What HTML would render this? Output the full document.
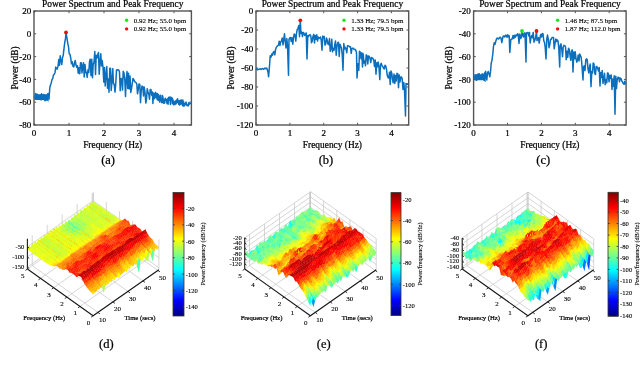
<!DOCTYPE html>
<html><head><meta charset="utf-8"><style>
html,body{margin:0;padding:0;background:#fff;overflow:hidden;-webkit-font-smoothing:antialiased}
svg{will-change:transform}
.s{stroke-width:0.12px}
svg{display:block}
text{font-family:"Liberation Serif", serif;fill:#000;stroke:#000;stroke-width:0.22px}
</style></head><body>
<svg width="640" height="368" viewBox="0 0 640 368">
<rect width="640" height="368" fill="#fff"/>
<rect x="34" y="11" width="157.4" height="114" fill="none" stroke="#555555" stroke-width="1.4"/>
<path d="M34 125v-2.2M34 11v2.2" stroke="#555555" stroke-width="1"/>
<text x="34" y="135.8" font-size="9" text-anchor="middle">0</text>
<path d="M69 125v-2.2M69 11v2.2" stroke="#555555" stroke-width="1"/>
<text x="69" y="135.8" font-size="9" text-anchor="middle">1</text>
<path d="M104 125v-2.2M104 11v2.2" stroke="#555555" stroke-width="1"/>
<text x="104" y="135.8" font-size="9" text-anchor="middle">2</text>
<path d="M139 125v-2.2M139 11v2.2" stroke="#555555" stroke-width="1"/>
<text x="139" y="135.8" font-size="9" text-anchor="middle">3</text>
<path d="M174 125v-2.2M174 11v2.2" stroke="#555555" stroke-width="1"/>
<text x="174" y="135.8" font-size="9" text-anchor="middle">4</text>
<path d="M34 11h2.2M191.4 11h-2.2" stroke="#555555" stroke-width="1"/>
<text x="31.2" y="14.2" font-size="9" text-anchor="end">20</text>
<path d="M34 33.8h2.2M191.4 33.8h-2.2" stroke="#555555" stroke-width="1"/>
<text x="31.2" y="37" font-size="9" text-anchor="end">0</text>
<path d="M34 56.6h2.2M191.4 56.6h-2.2" stroke="#555555" stroke-width="1"/>
<text x="31.2" y="59.8" font-size="9" text-anchor="end">-20</text>
<path d="M34 79.4h2.2M191.4 79.4h-2.2" stroke="#555555" stroke-width="1"/>
<text x="31.2" y="82.6" font-size="9" text-anchor="end">-40</text>
<path d="M34 102.2h2.2M191.4 102.2h-2.2" stroke="#555555" stroke-width="1"/>
<text x="31.2" y="105.4" font-size="9" text-anchor="end">-60</text>
<path d="M34 125h2.2M191.4 125h-2.2" stroke="#555555" stroke-width="1"/>
<text x="31.2" y="128.2" font-size="9" text-anchor="end">-80</text>
<text x="112.7" y="6.9" font-size="9.45" text-anchor="middle">Power Spectrum and Peak Frequency</text>
<text x="112.7" y="147.6" font-size="9.4" text-anchor="middle">Frequency (Hz)</text>
<text x="108.1" y="163.7" font-size="12.5" text-anchor="middle">(a)</text>
<text transform="translate(18,68) rotate(-90)" font-size="9.3" text-anchor="middle">Power (dB)</text>
<polygon points="34.6,94.2 35.1,94.2 35.6,94.2 36.1,94.2 36.6,94.2 37.1,94.2 37.6,94.2 38.1,94.2 38.6,94.2 39.1,94.2 39.6,94.2 40.1,94.2 40.6,94.2 41.1,94.2 41.6,94.2 42.1,94.2 42.6,94.2 43.1,94.2 43.6,94.2 44.1,94.2 44.6,94.2 45.1,94.2 45.6,94.2 46.1,94.2 46.6,94.2 47.1,94.2 47.6,94.2 48.1,94.0 48.6,93.7 48.6,102.1 48.1,101.3 47.6,100.5 47.1,100.3 46.6,100.3 46.1,100.2 45.6,100.2 45.1,100.2 44.6,100.2 44.1,100.2 43.6,100.2 43.1,100.1 42.6,100.1 42.1,100.1 41.6,100.1 41.1,100.1 40.6,100.0 40.1,100.0 39.6,100.0 39.1,100.0 38.6,100.0 38.1,100.0 37.6,99.9 37.1,99.9 36.6,99.9 36.1,99.9 35.6,99.9 35.1,99.8 34.6,99.8" fill="#0b6fbe"/>
<polyline points="34.6,96.4 35.1,98.6 35.6,93.5 36.1,95.6 36.6,94.5 37.1,94.2 37.6,94.8 38.1,96.0 38.6,96.3 39.1,97.4 39.6,96.5 40.1,98.5 40.6,95.0 41.1,99.9 41.6,93.7 42.1,98.4 42.6,96.6 43.1,97.6 43.6,94.5 44.1,95.0 44.6,99.4 45.1,100.7 45.6,95.8 46.1,98.7 46.6,100.0 47.1,100.2 47.6,94.1 48.1,93.6 48.6,94.7 49.0,99.2 49.8,87.8 50.5,85.0 51.2,83.2 52.0,79.6 52.8,78.3 53.5,74.8 54.2,74.4 55.0,72.7 55.8,66.9 56.5,68.7 57.2,69.1 58.0,66.4 58.8,59.4 59.5,65.3 60.2,55.8 61.0,60.9 61.8,64.5 62.5,57.7 63.2,55.6 64.0,48.6 64.8,42.2 65.5,38.4 66.0,32.9 67.0,38.4 67.8,43.6 68.5,46.7 69.2,53.7 70.0,54.4 70.8,58.5 71.5,63.8 72.2,61.8 73.0,66.4 73.8,66.9 74.5,62.9 75.2,60.5 76.0,65.1 76.8,67.3 77.5,65.7 78.2,73.2 79.0,67.7 79.8,73.8 80.5,62.7 81.2,62.7 82.0,72.9 82.8,65.4 83.5,62.8 84.2,77.0 85.0,64.6 85.8,72.7 86.5,72.3 87.2,77.3 88.0,69.8 88.8,72.4 89.5,61.7 90.2,59.2 91.0,75.7 91.8,59.2 92.5,77.8 93.2,64.3 94.0,62.2 94.8,51.6 95.5,74.6 96.2,55.2 97.0,58.0 97.8,54.5 98.5,52.4 99.2,74.3 100.0,61.9 100.8,53.7 101.5,66.0 102.2,60.6 103.0,67.2 103.8,82.1 104.5,67.6 105.2,86.0 106.0,75.8 106.8,66.5 107.5,88.2 108.2,78.9 109.0,92.3 109.8,68.2 110.5,68.2 111.2,90.5 112.0,80.9 112.8,68.5 113.5,83.8 114.2,84.1 115.0,92.1 115.8,83.1 116.5,70.0 117.2,69.8 118.0,70.0 118.8,70.1 119.5,71.9 120.2,90.8 121.0,78.5 121.8,79.0 122.5,90.1 123.2,71.3 124.0,73.1 124.8,80.3 125.5,96.4 126.2,79.8 127.0,71.5 127.8,88.5 128.5,73.2 129.2,88.9 130.0,75.9 130.8,92.4 131.5,88.8 132.2,84.0 133.0,78.4 133.8,79.6 134.5,81.3 135.2,82.2 136.0,82.7 136.8,83.9 137.5,93.8 138.2,89.9 139.0,83.9 139.8,84.3 140.5,102.7 141.2,91.1 142.0,86.0 142.8,86.8 143.5,95.9 144.2,87.0 145.0,92.5 145.8,103.0 146.5,99.3 147.2,88.7 148.0,92.0 148.8,94.4 149.5,99.2 150.2,89.5 150.6,89.4 151.0,89.7 151.4,93.3 151.8,95.4 152.1,94.9 152.5,92.1 152.9,103.4 153.3,95.6 153.7,93.3 154.0,95.6 154.4,98.7 154.8,97.6 155.2,93.2 155.6,92.4 155.9,94.6 156.3,97.6 156.7,93.8 157.1,99.5 157.5,93.6 157.8,94.8 158.2,100.5 158.6,94.8 159.0,98.7 159.4,97.8 159.7,102.1 160.1,96.1 160.5,95.2 160.9,100.2 161.3,100.7 161.6,102.3 162.0,102.6 162.4,95.5 162.8,96.5 163.2,99.6 163.5,103.1 163.9,103.2 164.3,99.4 164.7,103.0 165.1,100.3 165.4,98.2 165.8,99.1 166.2,100.2 166.6,99.8 167.0,103.6 167.3,103.6 167.7,98.8 168.1,104.2 168.5,97.5 168.9,97.3 169.2,97.4 169.6,100.2 170.0,97.1 170.4,104.5 170.8,103.4 171.1,97.3 171.5,98.2 171.9,99.3 172.3,98.1 172.7,103.4 173.0,99.7 173.4,104.8 173.8,101.6 174.2,104.3 174.6,104.0 174.9,104.6 175.3,101.0 175.7,101.7 176.1,103.8 176.5,100.0 176.8,101.5 177.2,102.4 177.6,98.8 178.0,102.5 178.4,101.4 178.7,104.2 179.1,100.7 179.5,105.0 179.9,102.7 180.3,100.2 180.6,104.3 181.0,103.1 181.4,99.9 181.8,102.0 182.2,103.8 182.5,105.6 182.9,100.1 183.3,106.1 183.7,102.1 184.1,106.1 184.4,103.6 184.8,105.2 185.2,103.6 185.6,104.0 186.0,102.0 186.3,103.8 186.7,104.9 187.1,105.7 187.5,105.1 187.9,104.8 188.2,105.9 188.6,102.8 189.0,104.8 189.4,103.6 189.8,103.3 190.1,103.6 190.5,103.6 190.9,103.2" fill="none" stroke="#0b6fbe" stroke-width="1.5" stroke-linejoin="round"/>
<circle cx="66" cy="32.4" r="1.9" fill="#e81010"/>
<circle cx="126.6" cy="20.3" r="1.7" fill="#1ee61e"/>
<text x="133.8" y="22.7" font-size="7" class="s">0.92 Hz; 55.0 bpm</text>
<circle cx="126.6" cy="28.9" r="1.7" fill="#e81010"/>
<text x="133.8" y="31.3" font-size="7" class="s">0.92 Hz; 55.0 bpm</text>
<rect x="256" y="11" width="152.7" height="114" fill="none" stroke="#555555" stroke-width="1.4"/>
<path d="M256 125v-2.2M256 11v2.2" stroke="#555555" stroke-width="1"/>
<text x="256" y="135.8" font-size="9" text-anchor="middle">0</text>
<path d="M289.9 125v-2.2M289.9 11v2.2" stroke="#555555" stroke-width="1"/>
<text x="289.9" y="135.8" font-size="9" text-anchor="middle">1</text>
<path d="M323.7 125v-2.2M323.7 11v2.2" stroke="#555555" stroke-width="1"/>
<text x="323.7" y="135.8" font-size="9" text-anchor="middle">2</text>
<path d="M357.6 125v-2.2M357.6 11v2.2" stroke="#555555" stroke-width="1"/>
<text x="357.6" y="135.8" font-size="9" text-anchor="middle">3</text>
<path d="M391.4 125v-2.2M391.4 11v2.2" stroke="#555555" stroke-width="1"/>
<text x="391.4" y="135.8" font-size="9" text-anchor="middle">4</text>
<path d="M256 11h2.2M408.7 11h-2.2" stroke="#555555" stroke-width="1"/>
<text x="253.2" y="14.2" font-size="9" text-anchor="end">0</text>
<path d="M256 30h2.2M408.7 30h-2.2" stroke="#555555" stroke-width="1"/>
<text x="253.2" y="33.2" font-size="9" text-anchor="end">-20</text>
<path d="M256 49h2.2M408.7 49h-2.2" stroke="#555555" stroke-width="1"/>
<text x="253.2" y="52.2" font-size="9" text-anchor="end">-40</text>
<path d="M256 68h2.2M408.7 68h-2.2" stroke="#555555" stroke-width="1"/>
<text x="253.2" y="71.2" font-size="9" text-anchor="end">-60</text>
<path d="M256 87h2.2M408.7 87h-2.2" stroke="#555555" stroke-width="1"/>
<text x="253.2" y="90.2" font-size="9" text-anchor="end">-80</text>
<path d="M256 106h2.2M408.7 106h-2.2" stroke="#555555" stroke-width="1"/>
<text x="253.2" y="109.2" font-size="9" text-anchor="end">-100</text>
<path d="M256 125h2.2M408.7 125h-2.2" stroke="#555555" stroke-width="1"/>
<text x="253.2" y="128.2" font-size="9" text-anchor="end">-120</text>
<text x="332.4" y="6.9" font-size="9.45" text-anchor="middle">Power Spectrum and Peak Frequency</text>
<text x="332.4" y="147.6" font-size="9.4" text-anchor="middle">Frequency (Hz)</text>
<text x="326" y="163.7" font-size="12.5" text-anchor="middle">(b)</text>
<text transform="translate(234,68) rotate(-90)" font-size="9.3" text-anchor="middle">Power (dB)</text>
<polyline points="256.0,69.7 256.8,68.9 257.5,69.7 258.2,69.4 259.0,69.3 259.8,69.1 260.5,68.8 261.2,69.4 262.0,68.7 262.8,68.6 263.5,69.2 264.2,68.9 265.0,68.1 265.8,68.7 266.5,68.0 267.2,69.1 268.0,72.2 268.6,76.8 269.5,66.0 270.2,55.8 271.0,57.2 271.8,54.0 272.5,55.2 273.2,52.4 274.0,51.6 274.8,54.8 275.5,49.9 276.2,47.5 277.0,46.4 277.8,45.7 278.5,45.2 279.2,41.2 280.0,45.4 280.8,41.7 281.5,40.9 282.2,38.1 283.0,44.9 283.8,38.9 284.5,33.7 285.2,41.5 286.0,47.9 286.8,38.6 287.5,45.5 288.5,75.2 289.0,39.4 289.8,37.7 290.5,37.5 291.2,41.4 292.0,37.8 292.8,44.1 293.5,37.3 294.2,33.9 295.0,34.9 295.8,41.1 296.5,33.5 297.2,29.6 298.0,28.3 298.8,25.5 299.5,36.8 300.3,20.8 301.0,33.4 301.8,32.1 302.5,36.6 303.2,32.4 304.0,33.2 304.8,35.4 305.5,34.1 306.2,33.0 307.0,59.0 307.8,35.6 308.5,36.5 309.2,35.0 310.0,34.8 310.8,35.9 311.5,42.8 312.2,41.1 313.0,36.2 313.8,34.4 314.5,42.9 315.2,35.5 316.0,39.3 316.8,34.7 317.5,41.0 318.2,37.0 319.0,38.5 319.8,37.5 320.5,37.0 321.2,40.0 322.0,50.2 322.8,36.1 323.5,37.6 324.2,36.5 325.0,45.1 325.8,43.6 326.5,37.9 327.2,40.0 328.0,44.1 328.8,44.7 329.5,38.6 330.2,51.2 331.0,48.5 331.8,39.3 332.5,51.8 333.2,48.5 334.0,50.3 334.8,44.4 335.5,40.9 336.2,55.2 337.0,46.1 337.8,42.6 338.5,42.2 339.2,56.5 340.0,44.2 340.8,46.3 341.5,48.0 342.2,54.5 343.0,70.3 343.8,43.6 344.5,48.9 345.2,47.3 346.0,48.8 346.8,52.8 347.5,45.8 348.2,45.9 349.0,46.1 349.8,47.1 350.5,46.8 351.2,53.3 352.0,48.4 352.8,48.2 353.5,48.3 354.2,49.5 355.0,49.4 355.8,50.2 356.5,52.8 357.0,78.0 358.0,63.7 358.8,70.3 359.5,51.3 360.2,52.2 361.0,58.7 361.8,52.7 362.5,67.0 363.2,53.7 364.0,63.1 364.8,60.9 365.5,65.8 366.2,54.8 367.0,55.7 367.8,63.9 368.5,56.0 369.2,56.4 370.0,58.3 370.8,62.5 371.5,57.6 372.2,58.0 373.0,58.4 373.8,60.7 374.5,66.4 375.2,59.9 376.0,74.3 376.8,62.8 377.5,66.7 378.2,62.0 379.0,67.4 379.8,79.6 380.5,65.0 381.2,63.2 382.0,65.8 382.8,66.6 383.5,68.1 384.2,69.0 385.0,65.3 385.8,66.1 386.5,69.3 387.2,75.1 388.0,77.5 388.8,78.0 389.5,72.2 390.2,84.5 391.0,71.0 391.8,73.4 392.5,79.4 393.2,82.8 394.0,74.0 394.8,83.4 395.5,75.5 396.2,80.9 397.0,73.3 397.8,73.8 398.5,87.8 399.2,75.0 400.0,81.9 400.8,77.0 401.5,76.9 402.2,79.0 403.0,89.5 403.8,82.4 404.5,89.9 405.5,116.0 406.0,83.5 406.8,84.3 407.5,83.8 408.2,84.9" fill="none" stroke="#0b6fbe" stroke-width="1.5" stroke-linejoin="round"/>
<circle cx="300.3" cy="20.3" r="1.9" fill="#e81010"/>
<circle cx="344" cy="20.3" r="1.7" fill="#1ee61e"/>
<text x="351.2" y="22.7" font-size="7" class="s">1.33 Hz; 79.5 bpm</text>
<circle cx="344" cy="28.9" r="1.7" fill="#e81010"/>
<text x="351.2" y="31.3" font-size="7" class="s">1.33 Hz; 79.5 bpm</text>
<rect x="473.6" y="11" width="152.5" height="114" fill="none" stroke="#555555" stroke-width="1.4"/>
<path d="M473.6 125v-2.2M473.6 11v2.2" stroke="#555555" stroke-width="1"/>
<text x="473.6" y="135.8" font-size="9" text-anchor="middle">0</text>
<path d="M507.5 125v-2.2M507.5 11v2.2" stroke="#555555" stroke-width="1"/>
<text x="507.5" y="135.8" font-size="9" text-anchor="middle">1</text>
<path d="M541.4 125v-2.2M541.4 11v2.2" stroke="#555555" stroke-width="1"/>
<text x="541.4" y="135.8" font-size="9" text-anchor="middle">2</text>
<path d="M575.3 125v-2.2M575.3 11v2.2" stroke="#555555" stroke-width="1"/>
<text x="575.3" y="135.8" font-size="9" text-anchor="middle">3</text>
<path d="M609.2 125v-2.2M609.2 11v2.2" stroke="#555555" stroke-width="1"/>
<text x="609.2" y="135.8" font-size="9" text-anchor="middle">4</text>
<path d="M473.6 11h2.2M626.1 11h-2.2" stroke="#555555" stroke-width="1"/>
<text x="470.8" y="14.2" font-size="9" text-anchor="end">-20</text>
<path d="M473.6 33.8h2.2M626.1 33.8h-2.2" stroke="#555555" stroke-width="1"/>
<text x="470.8" y="37" font-size="9" text-anchor="end">-40</text>
<path d="M473.6 56.6h2.2M626.1 56.6h-2.2" stroke="#555555" stroke-width="1"/>
<text x="470.8" y="59.8" font-size="9" text-anchor="end">-60</text>
<path d="M473.6 79.4h2.2M626.1 79.4h-2.2" stroke="#555555" stroke-width="1"/>
<text x="470.8" y="82.6" font-size="9" text-anchor="end">-80</text>
<path d="M473.6 102.2h2.2M626.1 102.2h-2.2" stroke="#555555" stroke-width="1"/>
<text x="470.8" y="105.4" font-size="9" text-anchor="end">-100</text>
<path d="M473.6 125h2.2M626.1 125h-2.2" stroke="#555555" stroke-width="1"/>
<text x="470.8" y="128.2" font-size="9" text-anchor="end">-120</text>
<text x="549.9" y="6.9" font-size="9.45" text-anchor="middle">Power Spectrum and Peak Frequency</text>
<text x="549.9" y="147.6" font-size="9.4" text-anchor="middle">Frequency (Hz)</text>
<text x="543.2" y="163.7" font-size="12.5" text-anchor="middle">(c)</text>
<text transform="translate(451.6,68) rotate(-90)" font-size="9.3" text-anchor="middle">Power (dB)</text>
<polygon points="474.2,74.3 474.7,74.3 475.2,74.3 475.7,74.3 476.2,74.3 476.7,74.3 477.2,74.3 477.7,74.3 478.2,74.3 478.7,74.3 479.2,74.3 479.7,74.3 480.2,74.3 480.7,74.3 481.2,74.3 481.7,74.3 482.2,74.3 482.7,74.3 483.2,74.0 483.7,73.2 484.2,72.5 484.7,71.7 485.2,70.9 485.7,70.2 485.7,82.1 485.2,81.8 484.7,81.4 484.2,81.1 483.7,80.8 483.2,80.4 482.7,80.3 482.2,80.3 481.7,80.3 481.2,80.3 480.7,80.3 480.2,80.3 479.7,80.3 479.2,80.3 478.7,80.3 478.2,80.3 477.7,80.3 477.2,80.3 476.7,80.3 476.2,80.3 475.7,80.3 475.2,80.3 474.7,80.3 474.2,80.3" fill="#0b6fbe"/>
<polyline points="474.2,77.7 474.7,78.8 475.2,75.8 475.7,77.4 476.2,80.2 476.7,80.2 477.2,74.5 477.7,75.1 478.2,74.0 478.7,76.9 479.2,73.8 479.7,77.0 480.2,78.4 480.7,75.7 481.2,78.6 481.7,78.0 482.2,73.8 482.7,77.7 483.2,75.3 483.7,76.2 484.2,74.6 484.7,78.7 485.2,75.6 485.7,71.6 486.0,76.6 486.8,79.9 487.5,72.9 488.2,71.5 489.0,73.8 489.8,76.7 490.5,71.8 491.2,63.2 492.0,60.1 492.8,54.0 493.5,46.4 494.2,42.8 495.0,44.3 495.8,41.2 496.5,38.9 497.2,38.0 498.0,38.7 498.8,38.9 499.5,37.4 500.2,37.3 501.0,38.1 501.8,42.5 502.5,38.8 503.2,36.3 504.0,36.0 504.8,36.9 505.5,35.3 506.2,35.2 507.0,37.2 507.8,34.8 508.5,36.8 509.2,35.8 509.8,52.4 510.8,39.8 511.5,39.0 512.2,38.9 513.0,35.6 513.8,38.5 514.5,35.2 515.2,37.3 516.0,35.0 516.8,35.8 517.5,33.8 518.2,34.3 519.0,43.4 519.8,34.1 520.5,38.5 521.2,37.9 522.0,31.5 522.8,35.7 523.5,37.0 524.2,33.1 525.0,33.1 526.0,62.0 526.5,33.0 527.2,32.7 528.0,32.6 528.8,35.9 529.5,32.6 530.2,42.9 531.0,37.5 531.8,35.4 532.5,37.8 533.2,32.4 534.0,42.2 534.8,40.2 535.5,37.9 536.5,31.5 537.0,40.6 537.8,38.9 538.5,37.6 539.2,43.2 540.0,37.7 540.8,34.4 541.5,37.0 542.2,33.6 543.0,33.8 543.8,40.9 544.5,42.4 545.2,47.3 546.0,59.0 546.8,38.8 547.5,35.1 548.2,38.6 549.0,47.7 549.8,44.6 550.5,39.5 551.2,39.4 552.0,37.5 552.8,37.5 553.5,37.5 554.2,48.8 555.0,43.7 555.8,38.9 556.5,41.6 557.2,39.8 558.0,41.0 558.8,48.5 559.7,67.0 560.2,45.4 561.0,43.9 561.8,49.4 562.5,56.8 563.2,47.3 564.0,45.3 564.8,45.8 565.5,46.4 566.2,59.6 567.0,51.2 567.8,57.3 568.5,48.3 569.2,49.2 570.0,55.4 570.8,60.3 571.5,51.1 572.2,49.9 573.0,72.0 573.8,51.9 574.5,58.8 575.2,51.8 576.0,58.6 576.8,62.2 577.5,60.1 578.2,54.9 579.0,60.9 579.8,54.1 580.5,55.7 581.2,57.3 582.0,66.1 583.0,80.0 583.5,67.2 584.2,65.8 585.0,70.6 585.8,59.7 586.5,58.9 587.2,59.6 588.0,68.9 588.8,72.9 589.5,67.2 590.2,64.1 591.0,86.6 591.8,71.6 592.5,73.0 593.2,63.0 594.0,64.0 594.8,73.5 595.5,74.5 596.2,66.4 597.0,66.7 597.8,68.8 598.5,70.9 599.2,67.5 600.0,86.0 600.8,72.6 601.5,77.6 602.2,70.5 603.0,83.4 603.8,78.9 604.5,73.2 605.2,84.7 606.0,79.4 606.8,82.8 607.5,73.0 608.2,73.3 609.0,81.8 609.8,75.3 610.5,78.2 611.2,74.9 612.0,89.5 612.8,79.0 613.5,86.2 614.2,75.8 615.0,114.3 615.8,76.3 616.5,88.6 617.2,79.8 618.0,77.2 618.8,77.4 619.5,81.8 620.2,78.0 621.0,78.6 621.8,81.0 622.5,82.0 623.2,83.4 624.0,84.2 624.8,81.3 625.5,84.5" fill="none" stroke="#0b6fbe" stroke-width="1.5" stroke-linejoin="round"/>
<circle cx="522" cy="31" r="1.9" fill="#1ee61e"/>
<circle cx="536.5" cy="31" r="1.9" fill="#e81010"/>
<circle cx="557.6" cy="20.3" r="1.7" fill="#1ee61e"/>
<text x="564.8" y="22.7" font-size="7" class="s">1.46 Hz; 87.5 bpm</text>
<circle cx="557.6" cy="28.9" r="1.7" fill="#e81010"/>
<text x="564.8" y="31.3" font-size="7" class="s">1.87 Hz; 112.0 bpm</text>
<path d="M32.2 265.6L32.2 235.3M97.9 312.4L32.2 265.6M47.2 255.1L47.2 224.8M112.9 301.9L47.2 255.1M62.2 244.6L62.2 214.3M127.9 291.4L62.2 244.6M77.2 234.1L77.2 203.8M142.9 280.9L77.2 234.1M92.2 223.6L92.2 193.3M157.9 270.4L92.2 223.6M158.9 269.7L158.9 239.4M93.1 315.8L158.9 269.7M145.8 260.3L145.8 230.0M80.0 306.4L145.8 260.3M132.6 251.0L132.6 220.7M66.8 297.1L132.6 251.0M119.5 241.6L119.5 211.3M53.7 287.7L119.5 241.6M106.3 232.3L106.3 202.0M40.5 278.4L106.3 232.3M93.2 222.9L93.2 192.6M27.4 269.0L93.2 222.9M27.4 246.8L93.2 200.7L158.9 247.5M27.4 257.0L93.2 210.9L158.9 257.7M27.4 267.1L93.2 221.0L158.9 267.8M93.2 222.9L93.2 192.6" fill="none" stroke="#c4c4c4" stroke-width="0.7"/>
<g transform="scale(0.1)">
<path fill=#ef1 d=M291,2506l-19,-14,17,-34,19,12z />
<path fill=#fd0 d=M306,2470l-19,-11,18,16,18,15z />
<path fill=#ef1 d=M308,2519l-19,-14,17,-37,19,15z />
<path fill=#df2 d=M322,2491l-19,-15,17,-39,19,10z />
<path fill=#fd0 d=M323,2484l-19,-15,17,19,19,9z />
<path fill=#ef1 d=M325,2533l-19,-15,17,-37,19,17z />
<path fill=#fd0 d=M337,2449l-19,-11,17,18,19,12z />
<path fill=#df2 d=M338,2498l-18,-8,17,-44,19,17z />
<path fill=#fe0 d=M340,2499l-19,-17,17,13,19,16z />
<path fill=#df2 d=M341,2547l-18,-15,17,-35,19,9z />
<path fill=#df2 d=M352,2470l-19,-13,17,-49,19,25z />
<path fill=#fd0 d=M354,2464l-19,-17,17,20,19,8z />
<path fill=#df2 d=M355,2512l-19,-15,18,-36,18,11z />
<path fill=#fe0 d=M357,2507l-19,-9,17,11,19,13z />
<path fill=#df2 d=M358,2556l-19,-10,18,-41,18,12z />
<path fill=#fd0 d=M367,2434l-18,-25,17,22,19,21z />
<path fill=#df2 d=M369,2476l-19,-8,17,-37,19,5z />
<path fill=#fd0 d=M371,2473l-19,-11,17,12,19,19z />
<path fill=#ef1 d=M372,2524l-19,-13,17,-40,19,9z />
<path fill=#fd0 d=M374,2519l-19,-13,17,15,19,10z />
<path fill=#ef1 d=M375,2567l-19,-13,17,-38,19,14z />
<path fill=#df2 d=M383,2453l-19,-21,17,-38,19,9z />
<path fill=#fe0 d=M384,2437l-19,-5,18,18,18,14z />
<path fill=#df2 d=M386,2494l-19,-19,17,-40,19,16z />
<path fill=#fd0 d=M387,2481l-18,-9,17,19,19,13z />
<path fill=#ef1 d=M389,2532l-19,-10,17,-44,19,18z />
<path fill=#fd0 d=M390,2531l-18,-14,17,12,19,25z />
<path fill=#ef1 d=M392,2578l-19,-13,17,-36,19,17z />
<path fill=#fd0 d=M398,2403l-19,-8,17,22,19,20z />
<path fill=#cf3 d=M400,2465l-19,-13,17,-51,19,9z />
<path fill=#fd0 d=M401,2452l-19,-16,17,27,19,4z />
<path fill=#df2 d=M403,2505l-19,-12,17,-43,19,9z />
<path fill=#fd0 d=M404,2497l-19,-17,18,22,18,9z />
<path fill=#df2 d=M406,2555l-19,-25,17,-36,19,16z />
<path fill=#fe0 d=M407,2547l-19,-17,18,22,18,3z />
<path fill=#ef1 d=M409,2591l-19,-14,17,-33,19,11z />
<path fill=#cf3 d=M413,2438l-19,-20,18,-49,18,17z />
<path fill=#fd0 d=M415,2411l-19,-9,17,34,19,12z />
<path fill=#df2 d=M416,2469l-18,-5,17,-55,19,18z />
<path fill=#fd0 d=M418,2461l-19,-10,17,15,19,17z />
<path fill=#df2 d=M420,2512l-19,-8,17,-46,19,16z />
<path fill=#fd0 d=M421,2511l-19,-15,17,13,19,20z />
<path fill=#df2 d=M423,2557l-19,-3,17,-46,19,12z />
<path fill=#fd0 d=M424,2556l-19,-10,17,8,19,10z />
<path fill=#ef1 d=M426,2603l-19,-13,17,-36,19,7z />
<path fill=#fe0 d=M429,2387l-19,-17,17,31,19,5z />
<path fill=#bf4 d=M430,2449l-19,-12,17,-53,19,7z />
<path fill=#fd0 d=M432,2428l-19,-18,17,37,19,12z />
<path fill=#df2 d=M433,2485l-19,-17,18,-42,18,14z />
<path fill=#fd0 d=M435,2475l-19,-16,17,23,19,16z />
<path fill=#df2 d=M436,2531l-18,-20,17,-39,19,13z />
<path fill=#fd0 d=M438,2521l-19,-11,17,17,19,14z />
<path fill=#ef1 d=M439,2565l-18,-9,17,-37,19,11z />
<path fill=#fd0 d=M441,2562l-19,-7,17,7,19,26z />
<path fill=#ef1 d=M443,2620l-19,-18,17,-42,19,15z />
<path fill=#cf3 d=M444,2408l-19,-6,17,-55,19,11z />
<path fill=#fd0 d=M446,2393l-19,-7,17,19,19,16z />
<path fill=#bf4 d=M447,2460l-19,-12,17,-58,19,16z />
<path fill=#fd0 d=M449,2441l-19,-15,17,31,19,13z />
<path fill=#df2 d=M450,2499l-19,-16,17,-44,19,9z />
<path fill=#fd0 d=M452,2486l-19,-13,17,23,19,16z />
<path fill=#df2 d=M453,2543l-19,-14,17,-46,19,10z />
<path fill=#fd0 d=M455,2531l-19,-11,17,20,19,9z />
<path fill=#ef1 d=M456,2590l-19,-27,18,-35,18,18z />
<path fill=#fd0 d=M458,2576l-19,-15,17,26,19,10z />
<path fill=#fd0 d=M459,2360l-19,-11,18,21,18,16z />
<path fill=#df2 d=M459,2627l-18,-9,17,-44,19,15z />
<path fill=#cf3 d=M461,2422l-19,-16,17,-49,19,19z />
<path fill=#fd0 d=M462,2408l-19,-17,18,28,18,22z />
<path fill=#cf3 d=M464,2472l-19,-14,17,-53,19,15z />
<path fill=#fd0 d=M465,2449l-18,-10,17,30,19,14z />
<path fill=#cf3 d=M467,2513l-19,-16,17,-50,19,20z />
<path fill=#fd0 d=M469,2494l-19,-10,17,26,19,6z />
<path fill=#df2 d=M470,2551l-19,-9,17,-50,19,11z />
<path fill=#fd0 d=M472,2547l-19,-17,17,18,19,11z />
<path fill=#df2 d=M473,2598l-19,-10,17,-44,19,10z />
<path fill=#df2 d=M475,2388l-19,-16,17,-54,19,16z />
<path fill=#fd0 d=M475,2590l-19,-15,17,21,19,10z />
<path fill=#fd0 d=M476,2377l-19,-19,17,26,19,11z />
<path fill=#ef1 d=M476,2636l-19,-10,18,-39,18,15z />
<path fill=#bf4 d=M478,2442l-19,-22,17,-46,19,13z />
<path fill=#fe0 d=M479,2421l-19,-15,17,33,19,12z />
<path fill=#bf4 d=M481,2484l-19,-14,17,-52,19,19z />
<path fill=#fd0 d=M482,2468l-19,-20,18,34,18,14z />
<path fill=#df2 d=M484,2517l-19,-5,17,-46,19,7z />
<path fill=#fc0 d=M485,2505l-18,-12,17,22,19,16z />
<path fill=#ef1 d=M487,2560l-19,-10,17,-48,19,17z />
<path fill=#fd0 d=M488,2555l-18,-9,17,11,19,20z />
<path fill=#fc0 d=M490,2336l-19,-16,17,25,19,12z />
<path fill=#df2 d=M490,2607l-19,-10,17,-44,19,13z />
<path fill=#df2 d=M491,2397l-18,-11,17,-53,19,16z />
<path fill=#fd0 d=M492,2603l-19,-14,17,15,19,12z />
<path fill=#fe0 d=M493,2389l-19,-13,17,18,19,15z />
<path fill=#ef1 d=M493,2650l-19,-15,17,-35,19,8z />
<path fill=#bf4 d=M495,2453l-19,-12,17,-55,19,9z />
<path fill=#fe0 d=M496,2438l-19,-19,17,31,19,10z />
<path fill=#bf4 d=M498,2497l-19,-15,17,-47,19,14z />
<path fill=#fd0 d=M499,2474l-19,-7,17,28,19,5z />
<path fill=#df2 d=M501,2532l-19,-16,17,-44,19,18z />
<path fill=#fc0 d=M502,2520l-19,-17,17,27,19,15z />
<path fill=#df2 d=M504,2578l-19,-20,17,-41,19,17z />
<path fill=#ef1 d=M505,2359l-19,-13,17,-44,19,10z />
<path fill=#fd0 d=M505,2567l-19,-13,18,21,18,17z />
<path fill=#fc0 d=M507,2350l-19,-16,17,22,19,16z />
<path fill=#ef1 d=M507,2617l-19,-11,17,-41,19,15z />
<path fill=#df2 d=M508,2411l-19,-15,18,-48,18,8z />
<path fill=#fd0 d=M508,2610l-18,-9,17,13,19,19z />
<path fill=#fd0 d=M510,2397l-19,-10,17,21,19,12z />
<path fill=#ff0 d=M510,2652l-19,-3,17,-42,19,23z />
<path fill=#cf3 d=M511,2461l-19,-9,18,-58,18,8z />
<path fill=#fe0 d=M513,2451l-19,-15,17,22,19,15z />
<path fill=#cf3 d=M514,2501l-18,-5,17,-48,19,7z />
<path fill=#fd0 d=M516,2490l-19,-18,17,27,19,22z />
<path fill=#df2 d=M518,2546l-19,-15,17,-43,19,12z />
<path fill=#fd0 d=M519,2535l-19,-17,17,26,19,8z />
<path fill=#fc0 d=M520,2313l-18,-10,17,28,19,7z />
<path fill=#df2 d=M521,2593l-19,-17,17,-44,19,13z />
<path fill=#ef1 d=M522,2374l-19,-17,17,-46,19,15z />
<path fill=#fd0 d=M522,2581l-19,-15,17,24,19,9z />
<path fill=#fc0 d=M524,2358l-19,-9,17,22,19,20z />
<path fill=#ef1 d=M524,2635l-19,-19,17,-37,19,7z />
<path fill=#df2 d=M525,2422l-19,-13,17,-54,19,13z />
<path fill=#fd0 d=M525,2631l-19,-23,18,24,18,-3z />
<path fill=#fd0 d=M527,2404l-19,-8,17,23,19,16z />
<path fill=#fe0 d=M527,2663l-19,-13,17,-22,19,4z />
<path fill=#cf3 d=M528,2475l-19,-15,17,-59,19,20z />
<path fill=#fe0 d=M530,2456l-19,-7,17,23,19,12z />
<path fill=#cf3 d=M531,2522l-19,-22,18,-47,18,21z />
<path fill=#fd0 d=M533,2500l-19,-11,17,30,19,15z />
<path fill=#df2 d=M534,2553l-18,-8,17,-47,19,15z />
<path fill=#df2 d=M536,2340l-19,-7,17,-51,19,8z />
<path fill=#fd0 d=M536,2547l-19,-14,17,17,19,17z />
<path fill=#fc0 d=M537,2327l-19,-15,18,25,18,18z />
<path fill=#df2 d=M537,2601l-18,-9,17,-48,19,8z />
<path fill=#df2 d=M539,2393l-19,-21,17,-48,19,17z />
<path fill=#fd0 d=M539,2588l-19,-8,17,18,19,13z />
<path fill=#fc0 d=M540,2369l-18,-13,17,34,19,3z />
<path fill=#ef1 d=M541,2631l-19,3,17,-49,19,12z />
<path fill=#df2 d=M542,2436l-19,-16,17,-54,19,18z />
<path fill=#fc0 d=M542,2633l-19,-3,17,-2,19,12z />
<path fill=#fd0 d=M543,2422l-18,-19,17,31,19,11z />
<path fill=#fd0 d=M544,2665l-19,-3,17,-31,19,15z />
<path fill=#cf3 d=M545,2486l-19,-13,17,-54,19,13z />
<path fill=#fe0 d=M547,2475l-19,-21,17,29,19,12z />
<path fill=#bf4 d=M548,2535l-19,-15,17,-48,19,13z />
<path fill=#fd0 d=M550,2514l-19,-15,17,34,19,13z />
<path fill=#fc0 d=M551,2291l-19,-8,17,22,19,13z />
<path fill=#df2 d=M551,2568l-19,-16,17,-40,19,6z />
<path fill=#df2 d=M553,2356l-19,-18,17,-50,19,19z />
<path fill=#fd0 d=M553,2553l-19,-8,17,20,19,17z />
<path fill=#fd0 d=M554,2342l-19,-17,17,28,19,10z />
<path fill=#df2 d=M554,2613l-19,-13,18,-50,18,15z />
<path fill=#df2 d=M556,2394l-19,-3,17,-51,19,9z />
<path fill=#fc0 d=M556,2599l-19,-12,17,23,19,3z />
<path fill=#fc0 d=M557,2385l-19,-17,18,23,18,18z />
<path fill=#fe0 d=M557,2641l-18,-11,17,-34,19,21z />
<path fill=#df2 d=M559,2447l-19,-12,17,-53,19,6z />
<path fill=#fc0 d=M559,2647l-19,-15,17,7,19,3z />
<path fill=#fd0 d=M560,2434l-19,-13,18,23,18,15z />
<path fill=#fb0 d=M560,2660l-18,4,17,-19,19,1z />
<path fill=#cf3 d=M562,2497l-19,-12,17,-54,19,9z />
<path fill=#fe0 d=M563,2487l-18,-14,17,20,19,11z />
<path fill=#bf4 d=M565,2547l-19,-13,17,-50,19,14z />
<path fill=#df2 d=M566,2319l-18,-13,17,-38,19,14z />
<path fill=#fd0 d=M567,2518l-19,-6,17,33,19,16z />
<path fill=#fc0 d=M568,2308l-19,-18,17,27,19,9z />
<path fill=#df2 d=M568,2583l-19,-17,17,-50,19,22z />
<path fill=#df2 d=M569,2365l-18,-11,17,-49,19,14z />
<path fill=#fc0 d=M570,2566l-19,-15,17,30,19,14z />
<path fill=#fd0 d=M571,2350l-19,-9,17,21,19,19z />
<path fill=#ef1 d=M571,2614l-19,-2,17,-48,19,7z />
<path fill=#df2 d=M573,2411l-19,-19,17,-44,19,18z />
<path fill=#fc0 d=M573,2618l-19,-21,17,15,19,11z />
<path fill=#fc0 d=M574,2390l-19,-6,17,24,19,16z />
<path fill=#fd0 d=M574,2643l-19,-3,18,-24,18,5z />
<path fill=#df2 d=M576,2461l-19,-15,17,-59,19,14z />
<path fill=#fa0 d=M576,2647l-19,-1,17,-5,19,-4z />
<path fill=#fd0 d=M577,2442l-19,-10,17,26,19,18z />
<path fill=#f90 d=M577,2663l-19,-3,18,-14,18,9z />
<path fill=#cf3 d=M579,2506l-19,-11,17,-56,19,24z />
<path fill=#fe0 d=M580,2500l-19,-14,18,17,18,12z />
<path fill=#fe0 d=M582,2283l-19,-13,17,13,19,12z />
<path fill=#bf4 d=M582,2562l-19,-17,17,-49,19,8z />
<path fill=#df2 d=M583,2327l-19,-10,17,-37,19,15z />
<path fill=#fd0 d=M583,2538l-19,-21,18,43,19,4z />
<path fill=#fd0 d=M585,2321l-19,-14,17,17,19,14z />
<path fill=#cf3 d=M585,2596l-19,-14,17,-46,19,7z />
<path fill=#df2 d=M586,2383l-19,-20,18,-45,18,9z />
<path fill=#fc0 d=M586,2572l-18,-7,17,29,19,2z />
<path fill=#fd0 d=M588,2367l-19,-18,17,31,19,2z />
<path fill=#ff0 d=M588,2625l-19,-12,17,-43,19,20z />
<path fill=#df2 d=M589,2425l-18,-16,17,-44,19,14z />
<path fill=#fc0 d=M590,2622l-19,-5,17,5,19,4z />
<path fill=#fb0 d=M591,2402l-19,-14,17,35,19,10z />
<path fill=#fb0 d=M591,2638l-19,5,17,-22,19,3z />
<path fill=#cf3 d=M592,2478l-18,-18,17,-61,19,18z />
<path fill=#f90 d=M593,2656l-19,-9,17,-10,19,4z />
<path fill=#fd0 d=M594,2464l-19,-24,17,34,19,10z />
<path fill=#f90 d=M594,2688l-19,-27,17,-8,19,19z />
<path fill=#cf3 d=M596,2516l-19,-12,17,-43,19,6z />
<path fill=#df2 d=M597,2296l-19,-12,17,-31,19,12z />
<path fill=#fe0 d=M597,2505l-19,-7,17,15,19,18z />
<path fill=#fe0 d=M599,2296l-19,-15,17,12,19,24z />
<path fill=#bf4 d=M599,2565l-19,-4,17,-59,19,14z />
<path fill=#df2 d=M600,2339l-19,-14,17,-32,19,18z />
<path fill=#fd0 d=M600,2544l-19,-7,17,25,19,15z />
<path fill=#fc0 d=M602,2328l-19,-9,17,18,19,20z />
<path fill=#df2 d=M602,2597l-19,-2,17,-53,19,15z />
<path fill=#df2 d=M603,2383l-19,-2,17,-55,19,16z />
<path fill=#fc0 d=M603,2591l-19,-20,18,24,18,13z />
<path fill=#fd0 d=M605,2381l-19,-15,17,15,19,19z />
<path fill=#fe0 d=M605,2628l-19,-4,17,-35,19,12z />
<path fill=#df2 d=M606,2434l-19,-11,18,-45,18,18z />
<path fill=#fa0 d=M606,2625l-18,-3,17,4,19,-7z />
<path fill=#fc0 d=M608,2419l-19,-18,17,31,19,11z />
<path fill=#f90 d=M608,2642l-19,-4,17,-14,19,7z />
<path fill=#cf3 d=M609,2485l-19,-9,18,-60,18,10z />
<path fill=#f90 d=M609,2673l-18,-18,17,-15,19,13z />
<path fill=#fe0 d=M611,2468l-19,-6,17,20,19,16z />
<path fill=#f90 d=M611,2685l-19,1,17,-15,19,4z />
<path fill=#ff0 d=M612,2266l-19,-12,18,19,18,14z />
<path fill=#cf3 d=M612,2533l-18,-18,17,-50,19,14z />
<path fill=#cf3 d=M614,2318l-19,-24,17,-30,19,22z />
<path fill=#fe0 d=M614,2517l-19,-13,17,26,19,12z />
<path fill=#ff0 d=M615,2312l-18,-18,17,21,19,13z />
<path fill=#cf3 d=M616,2578l-19,-14,17,-49,19,13z />
<path fill=#df2 d=M617,2357l-19,-20,17,-28,19,15z />
<path fill=#fd0 d=M617,2558l-19,-15,17,33,19,7z />
<path fill=#fc0 d=M618,2344l-18,-17,17,28,19,12z />
<path fill=#ef1 d=M619,2609l-19,-13,17,-40,19,17z />
<path fill=#df2 d=M620,2402l-19,-20,17,-41,19,13z />
<path fill=#fc0 d=M620,2602l-19,-12,17,17,19,-2z />
<path fill=#fe0 d=M622,2398l-19,-19,17,20,19,15z />
<path fill=#fc0 d=M622,2620l-19,8,17,-27,19,-1z />
<path fill=#df2 d=M623,2443l-19,-10,17,-38,19,5z />
<path fill=#f90 d=M623,2633l-19,-8,18,-6,18,0z />
<path fill=#fc0 d=M625,2428l-19,-10,17,23,19,12z />
<path fill=#f80 d=M625,2654l-19,-13,17,-11,19,11z />
<path fill=#cf3 d=M626,2499l-19,-15,17,-59,19,14z />
<path fill=#f80 d=M626,2677l-19,-5,18,-21,18,9z />
<path fill=#bf4 d=M628,2288l-19,-14,17,-43,19,18z />
<path fill=#fd0 d=M628,2481l-19,-14,17,30,19,3z />
<path fill=#f80 d=M628,2699l-19,-15,17,-10,19,19z />
<path fill=#ef1 d=M629,2286l-19,-22,17,21,19,19z />
<path fill=#cf3 d=M629,2544l-19,-12,18,-54,18,14z />
<path fill=#bf4 d=M631,2329l-19,-13,17,-32,19,9z />
<path fill=#fd0 d=M631,2529l-19,-13,17,25,19,11z />
<path fill=#ff0 d=M632,2324l-19,-14,17,16,19,19z />
<path fill=#cf3 d=M632,2584l-19,-7,18,-51,18,17z />
<path fill=#df2 d=M634,2368l-19,-12,17,-34,19,7z />
<path fill=#fd0 d=M634,2574l-19,-17,17,25,19,-3z />
<path fill=#fd0 d=M635,2355l-19,-13,18,24,18,10z />
<path fill=#ff0 d=M635,2606l-18,2,17,-36,19,9z />
<path fill=#df2 d=M637,2416l-19,-16,17,-47,19,8z />
<path fill=#fa0 d=M637,2601l-19,1,17,3,19,-11z />
<path fill=#fd0 d=M638,2401l-18,-5,17,17,19,12z />
<path fill=#f90 d=M639,2620l-19,0,17,-20,19,14z />
<path fill=#ef1 d=M640,2454l-19,-12,17,-44,19,12z />
<path fill=#f80 d=M640,2642l-19,-10,17,-14,19,14z />
<path fill=#fc0 d=M641,2441l-18,-14,17,25,19,10z />
<path fill=#f70 d=M642,2662l-19,-9,17,-13,19,-1z />
<path fill=#ef1 d=M643,2250l-19,-18,17,25,19,15z />
<path fill=#df2 d=M643,2502l-19,-4,17,-61,19,15z />
<path fill=#f80 d=M643,2694l-19,-19,17,-16,19,25z />
<path fill=#af5 d=M644,2305l-18,-19,17,-39,19,20z />
<path fill=#fd0 d=M645,2494l-19,-14,17,19,19,14z />
<path fill=#f60 d=M645,2695l-19,3,17,-6,19,-11z />
<path fill=#ef1 d=M646,2294l-19,-10,17,18,19,15z />
<path fill=#cf3 d=M646,2553l-19,-11,17,-51,19,11z />
<path fill=#bf4 d=M648,2346l-19,-19,17,-35,19,10z />
<path fill=#fe0 d=M648,2545l-19,-17,17,22,19,13z />
<path fill=#ff0 d=M649,2329l-19,-6,17,21,19,8z />
<path fill=#ef1 d=M649,2580l-19,3,17,-40,19,8z />
<path fill=#df2 d=M651,2377l-19,-11,17,-38,19,14z />
<path fill=#fc0 d=M651,2582l-19,-8,17,4,19,5z />
<path fill=#fc0 d=M652,2363l-19,-9,17,21,19,9z />
<path fill=#fb0 d=M652,2596l-19,10,18,-25,18,-1z />
<path fill=#df2 d=M654,2426l-19,-12,17,-54,19,20z />
<path fill=#f90 d=M654,2615l-19,-14,17,-7,19,10z />
<path fill=#fd0 d=M655,2411l-19,-12,18,25,18,17z />
<path fill=#f80 d=M655,2634l-18,-15,17,-6,19,5z />
<path fill=#ef1 d=M657,2462l-19,-9,17,-44,19,24z />
<path fill=#f60 d=M657,2641l-19,0,17,-9,19,-3z />
<path fill=#af5 d=M658,2273l-19,-15,17,-51,19,17z />
<path fill=#fc0 d=M658,2454l-19,-15,18,21,18,20z />
<path fill=#f80 d=M658,2686l-18,-26,17,-23,19,28z />
<path fill=#df2 d=M660,2268l-19,-20,17,22,19,20z />
<path fill=#df2 d=M660,2515l-19,-14,17,-50,19,15z />
<path fill=#f60 d=M660,2682l-19,12,17,-10,19,-30z />
<path fill=#af5 d=M661,2318l-19,-15,18,-38,18,10z />
<path fill=#fd0 d=M661,2504l-18,-12,17,20,19,14z />
<path fill=#f30 d=M662,2691l-19,4,17,-14,19,16z />
<path fill=#ef1 d=M663,2303l-19,-10,17,22,19,14z />
<path fill=#cf3 d=M663,2565l-19,-13,17,-51,19,14z />
<path fill=#bf4 d=M664,2353l-18,-8,17,-44,19,11z />
<path fill=#fd0 d=M665,2552l-19,-8,17,18,19,1z />
<path fill=#fe0 d=M666,2343l-19,-15,17,23,19,9z />
<path fill=#fe0 d=M666,2584l-19,-4,17,-30,19,15z />
<path fill=#ef1 d=M667,2385l-18,-9,17,-36,19,11z />
<path fill=#fa0 d=M668,2581l-19,1,17,1,19,-13z />
<path fill=#fc0 d=M669,2382l-19,-21,17,21,19,18z />
<path fill=#f90 d=M669,2605l-19,-10,17,-15,19,17z />
<path fill=#df2 d=M671,2442l-19,-17,17,-46,19,1z />
<path fill=#f80 d=M671,2620l-19,-6,17,-11,19,4z />
<path fill=#fd0 d=M672,2433l-19,-23,17,29,19,7z />
<path fill=#f70 d=M672,2630l-19,3,17,-15,19,6z />
<path fill=#ef1 d=M673,2224l-18,-16,17,39,19,25z />
<path fill=#ef1 d=M674,2481l-19,-20,17,-30,19,6z />
<path fill=#f60 d=M674,2667l-19,-28,17,-11,19,18z />
<path fill=#9f6 d=M675,2291l-19,-20,17,-49,19,25z />
<path fill=#fc0 d=M675,2468l-19,-16,17,27,19,9z />
<path fill=#f50 d=M675,2656l-19,30,18,-21,18,-11z />
<path fill=#df2 d=M677,2275l-19,-9,17,22,19,14z />
<path fill=#df2 d=M677,2527l-19,-14,17,-48,19,9z />
<path fill=#f40 d=M677,2698l-19,-16,17,-28,19,43z />
<path fill=#9f6 d=M678,2330l-19,-14,17,-43,19,17z />
<path fill=#fd0 d=M678,2516l-19,-13,18,22,18,7z />
<path fill=#f10 d=M678,2694l-18,-3,17,6,19,-11z />
<path fill=#ff0 d=M680,2313l-19,-11,17,26,19,13z />
<path fill=#ef1 d=M680,2564l-19,0,17,-50,19,5z />
<path fill=#cf3 d=M681,2361l-19,-9,17,-41,19,17z />
<path fill=#fd0 d=M681,2566l-19,-15,18,11,18,1z />
<path fill=#fe0 d=M683,2352l-19,-11,17,18,19,11z />
<path fill=#fb0 d=M683,2572l-19,12,17,-19,19,-8z />
<path fill=#ef1 d=M684,2401l-19,-18,18,-34,18,20z />
<path fill=#f90 d=M684,2599l-18,-18,17,-11,19,13z />
<path fill=#fc0 d=M686,2382l-19,-2,17,19,19,18z />
<path fill=#f80 d=M686,2608l-19,-4,17,-7,19,0z />
<path fill=#df2 d=M687,2448l-18,-7,17,-62,19,19z />
<path fill=#f70 d=M688,2625l-19,-6,17,-12,19,12z />
<path fill=#7f8 d=M689,2273l-19,-26,17,-54,19,23z />
<path fill=#fd0 d=M689,2438l-19,-6,17,13,19,20z />
<path fill=#f50 d=M689,2647l-19,-18,17,-6,19,6z />
<path fill=#df2 d=M690,2247l-19,-25,18,48,18,10z />
<path fill=#ef1 d=M690,2489l-18,-9,17,-44,19,13z />
<path fill=#f50 d=M691,2655l-19,11,17,-22,19,11z />
<path fill=#8f7 d=M692,2303l-19,-13,17,-45,19,9z />
<path fill=#fc0 d=M692,2475l-19,-9,17,20,19,19z />
<path fill=#f40 d=M692,2699l-19,-44,17,-2,19,25z />
<path fill=#df2 d=M693,2291l-18,-17,17,26,19,13z />
<path fill=#ef1 d=M694,2533l-19,-7,17,-54,19,13z />
<path fill=#f30 d=M694,2686l-19,11,17,-1,19,-18z />
<path fill=#9f6 d=M695,2341l-19,-13,17,-39,19,11z />
<path fill=#fc0 d=M695,2520l-19,-5,17,16,19,13z />
<path fill=#f20 d=M695,2727l-19,-35,18,-8,18,27z />
<path fill=#ef1 d=M697,2328l-19,-17,17,28,19,19z />
<path fill=#ff0 d=M697,2565l-19,-1,17,-46,19,25z />
<path fill=#cf3 d=M698,2371l-19,-11,17,-33,19,5z />
<path fill=#fb0 d=M698,2559l-19,8,17,-3,19,-28z />
<path fill=#fe0 d=M700,2370l-19,-20,17,19,19,11z />
<path fill=#f90 d=M700,2584l-19,-13,17,-14,19,11z />
<path fill=#df2 d=M701,2417l-19,-18,17,-32,19,9z />
<path fill=#f90 d=M701,2598l-19,0,18,-16,18,7z />
<path fill=#fc0 d=M703,2400l-19,-19,17,34,19,11z />
<path fill=#f70 d=M703,2620l-19,-12,17,-12,19,12z />
<path fill=#df2 d=M704,2219l-19,-24,17,12,19,14z />
<path fill=#df2 d=M704,2467l-19,-20,18,-50,18,9z />
<path fill=#f50 d=M704,2630l-18,-6,17,-5,19,-7z />
<path fill=#6f9 d=M706,2281l-19,-10,17,-56,19,10z />
<path fill=#fd0 d=M706,2450l-19,-13,17,27,19,8z />
<path fill=#f60 d=M706,2656l-19,-10,17,-19,19,20z />
<path fill=#cf3 d=M707,2254l-19,-8,17,32,19,20z />
<path fill=#ef1 d=M707,2506l-19,-19,18,-39,18,8z />
<path fill=#f40 d=M707,2679l-18,-25,17,0,19,8z />
<path fill=#9f6 d=M709,2314l-19,-12,17,-50,19,14z />
<path fill=#fb0 d=M709,2486l-19,-12,17,29,19,5z />
<path fill=#f40 d=M709,2679l-19,18,17,-20,19,-5z />
<path fill=#df2 d=M710,2301l-19,-11,18,21,18,18z />
<path fill=#ef1 d=M710,2545l-18,-13,17,-48,19,18z />
<path fill=#f20 d=M711,2712l-19,-27,17,-8,19,25z />
<path fill=#9f6 d=M712,2359l-19,-19,17,-42,19,17z />
<path fill=#fc0 d=M712,2544l-19,-25,17,24,19,-11z />
<path fill=#f30 d=M712,2731l-19,-6,17,-16,19,1z />
<path fill=#ff0 d=M713,2332l-19,-5,18,30,19,5z />
<path fill=#fa0 d=M714,2537l-19,28,17,-22,19,-9z />
<path fill=#df2 d=M715,2381l-19,-11,17,-39,19,15z />
<path fill=#f80 d=M715,2570l-19,-11,17,-23,19,15z />
<path fill=#fe0 d=M716,2377l-18,-9,17,10,19,21z />
<path fill=#f80 d=M717,2590l-19,-6,17,-17,19,1z />
<path fill=#df2 d=M718,2427l-19,-11,17,-41,19,12z />
<path fill=#f70 d=M718,2610l-19,-13,17,-9,19,7z />
<path fill=#bf4 d=M719,2223l-18,-14,17,-40,19,12z />
<path fill=#fc0 d=M720,2408l-19,-10,17,27,19,8z />
<path fill=#f50 d=M720,2613l-19,7,17,-12,19,-18z />
<path fill=#cf3 d=M721,2228l-19,-11,17,2,19,20z />
<path fill=#df2 d=M721,2474l-19,-8,17,-61,19,16z />
<path fill=#f50 d=M721,2648l-19,-20,17,-18,19,44z />
<path fill=#6f9 d=M722,2299l-18,-20,17,-56,19,19z />
<path fill=#fc0 d=M723,2457l-19,-8,17,22,19,6z />
<path fill=#f50 d=M723,2664l-19,-9,17,-8,19,-11z />
<path fill=#df2 d=M724,2266l-19,-14,17,44,19,17z />
<path fill=#ef1 d=M724,2509l-19,-4,17,-50,19,14z />
<path fill=#f40 d=M724,2674l-19,4,18,-17,18,-3z />
<path fill=#8f7 d=M726,2330l-19,-18,17,-48,19,19z />
<path fill=#fb0 d=M726,2503l-19,-18,17,21,19,12z />
<path fill=#f20 d=M726,2704l-19,-26,17,-6,19,8z />
<path fill=#df2 d=M727,2316l-19,-17,17,29,19,9z />
<path fill=#fe0 d=M727,2533l-19,11,18,-43,18,18z />
<path fill=#f20 d=M727,2712l-18,-1,17,-10,19,-3z />
<path fill=#9f6 d=M729,2363l-19,-5,17,-45,19,6z />
<path fill=#fa0 d=M729,2536l-19,9,17,-13,19,-7z />
<path fill=#f10 d=M729,2735l-19,-5,17,-20,19,17z />
<path fill=#ff0 d=M730,2346l-19,-14,17,29,19,9z />
<path fill=#f70 d=M730,2553l-19,-16,18,-2,18,13z />
<path fill=#cf3 d=M732,2400l-19,-20,17,-36,19,9z />
<path fill=#f70 d=M732,2570l-19,-1,17,-19,19,16z />
<path fill=#fe0 d=M733,2389l-19,-13,18,21,18,1z />
<path fill=#f70 d=M733,2597l-18,-7,17,-23,19,10z />
<path fill=#ef1 d=M735,2183l-19,-12,17,14,19,14z />
<path fill=#df2 d=M735,2434l-19,-8,17,-40,19,12z />
<path fill=#f50 d=M735,2591l-19,19,17,-15,19,-5z />
<path fill=#af5 d=M736,2241l-19,-20,18,-42,18,25z />
<path fill=#fc0 d=M736,2423l-18,-17,17,25,19,22z />
<path fill=#f60 d=M737,2656l-19,-45,17,-23,19,58z />
<path fill=#cf3 d=M738,2244l-19,-18,17,11,19,18z />
<path fill=#ef1 d=M738,2479l-19,-6,17,-53,19,8z />
<path fill=#f40 d=M738,2637l-19,11,17,6,19,-36z />
<path fill=#5fa d=M739,2314l-19,-17,18,-57,18,24z />
<path fill=#fc0 d=M739,2470l-18,-14,17,20,19,12z />
<path fill=#f30 d=M740,2661l-19,3,17,-28,19,5z />
<path fill=#cf3 d=M741,2283l-19,-19,17,48,19,14z />
<path fill=#ff0 d=M741,2519l-19,-12,17,-39,19,21z />
<path fill=#f20 d=M741,2682l-19,-9,17,-15,19,10z />
<path fill=#8f7 d=M742,2338l-18,-9,17,-47,19,11z />
<path fill=#fc0 d=M743,2520l-19,-18,17,15,19,0z />
<path fill=#f20 d=M743,2700l-19,3,17,-24,19,6z />
<path fill=#df2 d=M744,2320l-19,-5,17,21,19,12z />
<path fill=#fa0 d=M744,2526l-19,7,17,-14,19,-4z />
<path fill=#f10 d=M744,2728l-19,-17,18,-14,18,29z />
<path fill=#bf4 d=M746,2371l-19,-9,17,-44,19,4z />
<path fill=#f80 d=M746,2549l-19,-14,17,-11,19,14z />
<path fill=#f10 d=M746,2750l-19,-16,17,-9,19,9z />
<path fill=#fe0 d=M747,2354l-19,-9,17,24,19,3z />
<path fill=#f70 d=M747,2567l-19,-16,17,-4,19,1z />
<path fill=#df2 d=M749,2399l-19,0,17,-47,19,16z />
<path fill=#f60 d=M749,2578l-19,-9,17,-4,19,9z />
<path fill=#bf4 d=M750,2200l-19,-14,17,-47,19,20z />
<path fill=#fd0 d=M750,2399l-19,-11,17,9,19,10z />
<path fill=#f50 d=M750,2591l-19,5,18,-20,18,7z />
<path fill=#ef1 d=M752,2205l-19,-24,17,16,19,16z />
<path fill=#df2 d=M752,2454l-19,-22,17,-36,19,13z />
<path fill=#f60 d=M752,2647l-19,-58,17,-1,19,49z />
<path fill=#9f6 d=M753,2256l-19,-17,17,-37,19,14z />
<path fill=#fb0 d=M753,2429l-19,-8,18,30,18,13z />
<path fill=#f50 d=M753,2619l-18,36,17,-10,19,-36z />
<path fill=#bf4 d=M755,2266l-19,-23,17,10,19,11z />
<path fill=#ef1 d=M755,2490l-19,-13,17,-50,19,19z />
<path fill=#f10 d=M755,2643l-19,-5,17,-19,19,15z />
<path fill=#5fa d=M756,2326l-19,-14,17,-50,19,-1z />
<path fill=#fc0 d=M756,2490l-19,-21,18,18,18,9z />
<path fill=#f10 d=M756,2670l-18,-10,17,-20,19,22z />
<path fill=#cf3 d=M758,2293l-19,-11,17,42,19,4z />
<path fill=#fe0 d=M758,2518l-19,0,17,-30,19,10z />
<path fill=#f00 d=M758,2687l-19,-6,17,-13,19,0z />
<path fill=#9f6 d=M759,2349l-19,-12,18,-45,18,4z />
<path fill=#fa0 d=M759,2516l-18,4,17,-3,19,-13z />
<path fill=#f20 d=M760,2727l-19,-29,17,-15,19,38z />
<path fill=#ff0 d=M761,2323l-19,-4,17,28,19,0z />
<path fill=#f90 d=M761,2539l-19,-13,17,-12,19,16z />
<path fill=#f10 d=M761,2735l-19,-9,17,-1,19,5z />
<path fill=#cf3 d=M762,2373l-19,-3,18,-49,18,15z />
<path fill=#f70 d=M762,2549l-18,-1,17,-11,19,4z />
<path fill=#f20 d=M763,2770l-19,-22,17,-16,19,31z />
<path fill=#fe0 d=M764,2369l-19,-16,17,17,19,18z />
<path fill=#f70 d=M764,2575l-19,-9,17,-19,19,13z />
<path fill=#ff0 d=M765,2160l-19,-19,18,14,18,12z />
<path fill=#ef1 d=M765,2409l-18,-11,17,-31,19,13z />
<path fill=#f50 d=M766,2584l-19,-7,17,-4,19,13z />
<path fill=#bf4 d=M767,2215l-19,-17,17,-41,19,16z />
<path fill=#fd0 d=M767,2410l-19,-12,17,8,19,21z />
<path fill=#f60 d=M767,2638l-19,-49,17,-8,19,31z />
<path fill=#df2 d=M768,2218l-18,-15,17,8,19,18z />
<path fill=#df2 d=M769,2464l-19,-12,17,-45,19,16z />
<path fill=#f50 d=M769,2610l-19,36,17,-10,19,-29z />
<path fill=#9f6 d=M770,2266l-19,-11,17,-40,19,10z />
<path fill=#fb0 d=M770,2447l-19,-19,17,35,19,2z />
<path fill=#f10 d=M770,2636l-19,-16,17,-10,19,11z />
<path fill=#bf4 d=M771,2264l-18,1,17,-3,19,19z />
<path fill=#ff0 d=M772,2497l-19,-9,17,-44,19,13z />
<path fill=#f10 d=M772,2663l-19,-22,17,-9,19,34z />
<path fill=#6f9 d=M773,2329l-19,-4,17,-64,19,13z />
<path fill=#fd0 d=M773,2499l-19,-10,17,6,19,-4z />
<path fill=#f00 d=M773,2669l-19,0,18,-8,18,11z />
<path fill=#df2 d=M775,2297l-19,-4,17,34,19,6z />
<path fill=#fb0 d=M775,2505l-19,13,17,-20,19,-6z />
<path fill=#f20 d=M775,2723l-19,-39,17,-19,19,54z />
<path fill=#af5 d=M776,2348l-19,0,17,-53,19,17z />
<path fill=#f90 d=M776,2531l-19,-15,18,-12,18,12z />
<path fill=#f30 d=M776,2731l-18,-6,17,-6,19,6z />
<path fill=#ff0 d=M778,2337l-19,-15,17,24,19,19z />
<path fill=#f80 d=M778,2542l-19,-4,17,-9,19,-1z />
<path fill=#f20 d=M778,2764l-19,-31,17,-5,19,23z />
<path fill=#cf3 d=M779,2389l-19,-18,17,-36,19,13z />
<path fill=#f60 d=M779,2561l-19,-13,18,-8,18,25z />
<path fill=#f00 d=M779,2754l-18,16,17,-7,19,-22z />
<path fill=#cf3 d=M781,2168l-19,-12,17,-31,19,18z />
<path fill=#fe0 d=M781,2381l-19,-14,17,20,19,4z />
<path fill=#f70 d=M781,2587l-19,-13,17,-15,19,3z />
<path fill=#ff0 d=M782,2175l-19,-16,17,6,19,16z />
<path fill=#ef1 d=M782,2428l-19,-21,18,-28,18,6z />
<path fill=#f60 d=M782,2613l-18,-31,17,3,19,14z />
<path fill=#af5 d=M784,2231l-19,-18,17,-42,19,18z />
<path fill=#fd0 d=M784,2424l-19,-15,17,16,19,8z />
<path fill=#f60 d=M784,2608l-19,29,17,-27,19,-2z />
<path fill=#df2 d=M785,2227l-19,-10,18,11,18,10z />
<path fill=#ef1 d=M785,2465l-18,-2,17,-41,19,5z />
<path fill=#f10 d=M786,2622l-19,-11,17,-3,19,2z />
<path fill=#9f6 d=M787,2283l-19,-19,17,-40,19,19z />
<path fill=#fb0 d=M787,2458l-19,-12,17,17,19,10z />
<path fill=#f20 d=M787,2667l-19,-34,17,-14,19,31z />
<path fill=#cf3 d=M788,2277l-19,-14,18,17,18,10z />
<path fill=#fe0 d=M788,2493l-18,4,17,-41,19,14z />
<path fill=#f20 d=M789,2672l-19,-11,17,4,19,-5z />
<path fill=#7f8 d=M790,2334l-19,-6,17,-54,19,9z />
<path fill=#fa0 d=M790,2494l-19,5,17,-7,19,-13z />
<path fill=#f20 d=M790,2719l-19,-53,17,3,19,35z />
<path fill=#ef1 d=M791,2312l-18,-16,17,36,19,14z />
<path fill=#f90 d=M792,2518l-19,-13,17,-13,19,14z />
<path fill=#f40 d=M792,2726l-19,-6,17,-4,19,8z />
<path fill=#bf4 d=M793,2366l-19,-18,17,-37,19,-5z />
<path fill=#f80 d=M793,2529l-19,1,17,-15,19,5z />
<path fill=#f30 d=M793,2752l-19,-23,18,-5,18,18z />
<path fill=#ff0 d=M795,2349l-19,-13,17,28,19,0z />
<path fill=#f80 d=M795,2566l-19,-26,17,-14,19,27z />
<path fill=#f10 d=M795,2742l-19,22,17,-14,19,-15z />
<path fill=#ef1 d=M796,2144l-19,-18,17,12,19,21z />
<path fill=#df2 d=M796,2393l-19,-5,17,-41,19,7z />
<path fill=#f60 d=M796,2564l-19,-4,17,4,19,-8z />
<path fill=#c00 d=M796,2760l-19,-5,18,-13,18,6z />
<path fill=#cf3 d=M797,2182l-18,-15,17,-25,19,11z />
<path stroke=#600 stroke-width=8 d=M796,2759l16,-11 />
<path fill=#fd0 d=M798,2386l-19,-6,17,10,19,16z />
<path fill=#f60 d=M798,2601l-19,-15,17,-25,19,15z />
<path fill=#ef1 d=M799,2191l-19,-18,17,6,19,25z />
<path fill=#ef1 d=M799,2434l-19,-7,17,-44,19,10z />
<path fill=#f60 d=M799,2609l-19,2,18,-14,18,12z />
<path fill=#af5 d=M801,2240l-19,-10,17,-43,19,10z />
<path fill=#fd0 d=M801,2429l-19,-6,17,9,19,14z />
<path fill=#f10 d=M801,2611l-19,-2,17,0,19,-6z />
<path fill=#df2 d=M802,2244l-19,-19,17,11,19,22z />
<path fill=#ff0 d=M802,2474l-19,-10,17,-38,19,24z />
<path fill=#f20 d=M802,2651l-19,-31,18,-12,19,35z />
<path fill=#9f6 d=M804,2291l-19,-10,17,-40,19,9z />
<path fill=#fb0 d=M804,2472l-19,-15,17,15,19,-1z />
<path fill=#f30 d=M804,2661l-19,5,17,-18,19,-1z />
<path fill=#cf3 d=M805,2286l-19,-10,17,13,19,5z />
<path fill=#fa0 d=M805,2480l-19,13,18,-23,18,7z />
<path fill=#f30 d=M805,2705l-18,-35,17,-12,19,31z />
<path fill=#8f7 d=M807,2347l-19,-14,17,-51,19,12z />
<path fill=#f90 d=M807,2508l-19,-14,17,-16,19,17z />
<path fill=#f50 d=M807,2725l-19,-9,17,-15,19,14z />
<path fill=#ff0 d=M808,2306l-19,6,18,33,18,5z />
<path fill=#f80 d=M808,2521l-18,-4,17,-12,19,2z />
<path fill=#f40 d=M809,2743l-19,-18,17,-2,19,14z />
<path fill=#bf4 d=M810,2366l-19,0,17,-61,19,15z />
<path fill=#f80 d=M810,2554l-19,-26,17,-10,19,25z />
<path fill=#f10 d=M810,2736l-19,16,17,-10,19,-26z />
<path fill=#bf4 d=M811,2161l-19,-21,17,-45,19,15z />
<path fill=#fe0 d=M811,2355l-19,-7,18,16,18,10z />
<path fill=#f70 d=M811,2556l-18,9,17,-13,19,-11z />
<path fill=#c00 d=M812,2749l-19,-6,17,-8,19,3z />
<path fill=#ef1 d=M813,2154l-19,-11,17,14,19,5z />
<path stroke=#600 stroke-width=8 d=M812,2748l15,-10 />
<path fill=#df2 d=M813,2408l-19,-16,17,-39,19,13z />
<path fill=#f50 d=M813,2578l-19,-15,17,-8,19,10z />
<path fill=#b00 d=M813,2772l-19,-13,17,-12,19,13z />
<path fill=#bf4 d=M814,2205l-19,-24,18,-30,18,10z />
<path fill=#fd0 d=M814,2394l-18,-10,17,21,19,18z />
<path fill=#f60 d=M815,2611l-19,-12,17,-24,19,13z />
<path fill=#ef1 d=M816,2199l-19,-10,17,13,19,4z />
<path fill=#ef1 d=M816,2448l-19,-15,17,-41,19,17z />
<path fill=#f30 d=M816,2603l-19,6,17,0,19,-14z />
<path fill=#af5 d=M817,2260l-18,-22,17,-42,19,15z />
<path fill=#fd0 d=M818,2451l-19,-24,17,18,19,7z />
<path fill=#f20 d=M818,2644l-19,-35,17,-8,19,30z />
<path fill=#cf3 d=M819,2251l-19,-8,17,13,19,10z />
<path fill=#fe0 d=M819,2472l-19,1,17,-24,19,1z />
<path fill=#f20 d=M819,2648l-19,1,17,-8,19,6z />
<path fill=#af5 d=M820,2295l-18,-5,17,-41,19,11z />
<path fill=#fa0 d=M821,2478l-19,-7,17,0,19,-5z />
<path fill=#f30 d=M821,2691l-19,-31,17,-14,19,23z />
<path fill=#df2 d=M822,2296l-19,-11,17,8,19,15z />
<path fill=#f80 d=M822,2497l-19,-17,17,-3,19,-6z />
<path fill=#f50 d=M822,2717l-19,-15,18,-16,18,19z />
<path fill=#8f7 d=M824,2350l-19,-4,17,-53,19,6z />
<path fill=#f80 d=M824,2508l-19,-1,17,-13,19,6z />
<path fill=#f50 d=M824,2738l-19,-14,17,-10,19,8z />
<path fill=#fe0 d=M825,2321l-19,-15,17,43,19,7z />
<path fill=#f80 d=M825,2544l-19,-24,18,-15,18,29z />
<path fill=#f00 d=M825,2717l-18,27,17,-6,19,-32z />
<path fill=#fe0 d=M827,2111l-19,-14,17,16,19,18z />
<path fill=#df2 d=M827,2375l-19,-10,17,-46,19,10z />
<path fill=#f70 d=M827,2543l-19,11,17,-12,19,-15z />
<path fill=#c00 d=M827,2739l-19,-2,17,-20,19,9z />
<path fill=#bf4 d=M828,2164l-19,-5,17,-51,19,9z />
<path stroke=#600 stroke-width=8 d=M827,2738l15,-11 />
<path fill=#fd0 d=M828,2368l-19,-14,17,19,19,11z />
<path fill=#f50 d=M828,2567l-19,-10,18,-16,18,7z />
<path fill=#b00 d=M828,2762l-18,-14,17,-11,19,13z />
<path fill=#ff0 d=M830,2163l-19,-10,17,8,19,18z />
<path fill=#df2 d=M830,2424l-19,-18,17,-41,19,11z />
<path fill=#f50 d=M830,2590l-19,-13,17,-13,19,7z />
<path fill=#d00 d=M830,2810l-19,-40,17,-12,19,33z />
<path fill=#bf4 d=M831,2208l-19,-4,17,-44,19,11z />
<path fill=#fc0 d=M831,2410l-19,-17,18,29,18,-4z />
<path fill=#f40 d=M831,2596l-18,15,17,-23,19,-5z />
<path fill=#ef1 d=M833,2213l-19,-15,17,7,19,20z />
<path fill=#ef1 d=M833,2453l-19,-7,17,-39,19,21z />
<path fill=#f20 d=M833,2632l-19,-29,17,-9,19,21z />
<path fill=#9f6 d=M834,2267l-19,-9,18,-49,18,18z />
<path fill=#fc0 d=M834,2451l-18,-1,17,1,19,-2z />
<path fill=#f30 d=M835,2648l-19,-6,17,-13,19,8z />
<path fill=#df2 d=M836,2262l-19,-12,17,15,19,5z />
<path fill=#fb0 d=M836,2468l-19,4,17,-22,19,-1z />
<path fill=#f20 d=M836,2670l-19,-23,17,-1,19,9z />
<path fill=#af5 d=M837,2309l-19,-15,18,-35,18,8z />
<path fill=#f80 d=M837,2472l-18,7,17,-12,19,-5z />
<path fill=#f40 d=M838,2707l-19,-19,17,-22,19,20z />
<path fill=#ef1 d=M839,2301l-19,-6,17,12,19,4z />
<path fill=#f80 d=M839,2501l-19,-5,17,-26,19,20z />
<path fill=#f50 d=M839,2723l-19,-7,17,-12,19,0z />
<path fill=#af5 d=M840,2356l-18,-6,17,-52,19,10z />
<path fill=#f80 d=M841,2536l-19,-30,17,-8,19,31z />
<path fill=#f10 d=M841,2707l-19,32,17,-17,19,-16z />
<path fill=#cf3 d=M842,2133l-19,-19,17,-35,19,1z />
<path fill=#fd0 d=M842,2329l-19,-9,17,35,19,8z />
<path fill=#f70 d=M842,2529l-19,14,17,-9,19,-11z />
<path fill=#b00 d=M842,2728l-19,-10,18,-11,18,9z />
<path fill=#fe0 d=M843,2119l-19,-9,18,20,19,9z />
<path stroke=#600 stroke-width=8 d=M842,2727l15,-11 />
<path fill=#df2 d=M844,2385l-19,-11,17,-46,19,8z />
<path fill=#f40 d=M844,2550l-19,-7,17,-15,19,2z />
<path fill=#b00 d=M844,2751l-19,-13,17,-13,19,14z />
<path fill=#cf3 d=M845,2181l-19,-18,17,-47,19,13z />
<path fill=#fd0 d=M845,2378l-19,-12,17,16,19,19z />
<path fill=#f40 d=M845,2572l-19,-6,17,-19,19,8z />
<path fill=#d00 d=M845,2792l-19,-33,18,-12,18,41z />
<path fill=#ff0 d=M846,2173l-18,-12,17,17,19,16z />
<path fill=#ef1 d=M847,2419l-19,4,17,-48,19,17z />
<path fill=#f30 d=M847,2585l-19,4,17,-19,19,3z />
<path fill=#f30 d=M847,2842l-19,-36,17,-19,19,39z />
<path fill=#cf3 d=M848,2226l-19,-20,17,-36,19,17z />
<path fill=#fd0 d=M848,2430l-19,-21,17,8,19,11z />
<path fill=#f20 d=M848,2617l-19,-21,18,-13,18,13z />
<path fill=#ef1 d=M850,2229l-19,-18,17,12,19,9z />
<path fill=#fe0 d=M850,2450l-19,3,17,-25,19,1z />
<path fill=#f30 d=M850,2638l-19,-8,17,-17,19,20z />
<path fill=#af5 d=M851,2272l-19,-6,17,-40,19,-2z />
<path fill=#fa0 d=M851,2450l-19,1,17,-2,19,-2z />
<path fill=#f20 d=M851,2656l-19,-8,18,-12,18,1z />
<path fill=#ef1 d=M853,2269l-19,-8,17,8,19,14z />
<path fill=#f80 d=M853,2463l-19,5,17,-19,19,8z />
<path fill=#f30 d=M853,2688l-19,-19,17,-16,19,13z />
<path fill=#bf4 d=M854,2312l-19,-4,17,-42,19,10z />
<path fill=#f70 d=M854,2492l-19,-21,18,-10,18,19z />
<path fill=#f40 d=M854,2706l-18,0,17,-21,19,0z />
<path fill=#ff0 d=M856,2310l-19,-9,17,9,19,9z />
<path fill=#f90 d=M856,2531l-19,-32,17,-11,19,14z />
<path fill=#f10 d=M856,2708l-19,16,17,-19,19,-20z />
<path fill=#fe0 d=M857,2082l-19,-1,17,11,19,13z />
<path fill=#bf4 d=M857,2364l-19,-9,18,-48,18,7z />
<path fill=#f70 d=M857,2524l-18,11,17,-6,19,-20z />
<path fill=#c00 d=M858,2717l-19,-9,17,-1,19,-2z />
<path fill=#cf3 d=M859,2141l-19,-10,17,-52,19,27z />
<path stroke=#600 stroke-width=8 d=M857,2716l16,-11 />
<path fill=#fd0 d=M859,2336l-19,-8,17,34,19,18z />
<path fill=#f30 d=M859,2531l-19,-2,17,-5,19,-5z />
<path fill=#b00 d=M859,2740l-19,-13,17,-12,19,13z />
<path fill=#fd0 d=M860,2130l-19,-12,17,20,19,11z />
<path fill=#df2 d=M860,2403l-19,-19,18,-50,18,8z />
<path fill=#f30 d=M860,2558l-18,-9,17,-20,19,3z />
<path fill=#d00 d=M861,2790l-19,-42,17,-12,19,28z />
<path fill=#bf4 d=M862,2196l-19,-16,17,-53,19,19z />
<path fill=#fd0 d=M862,2393l-19,-17,17,23,19,3z />
<path fill=#f20 d=M862,2575l-19,-3,17,-17,19,10z />
<path fill=#f20 d=M862,2827l-19,-39,17,-4,19,37z />
<path fill=#ff0 d=M863,2188l-19,-17,18,22,18,13z />
<path fill=#ff0 d=M863,2430l-18,-12,17,-27,19,16z />
<path fill=#f10 d=M864,2597l-19,-13,17,-11,19,16z />
<path fill=#f60 d=M864,2868l-19,-29,17,-17,19,27z />
<path fill=#bf4 d=M865,2234l-19,-9,17,-40,19,11z />
<path fill=#fd0 d=M865,2431l-19,-2,17,-2,19,2z />
<path fill=#f30 d=M865,2635l-19,-20,17,-22,19,28z />
<path fill=#ff0 d=M866,2226l-18,2,17,3,19,16z />
<path fill=#fb0 d=M867,2448l-19,2,17,-21,19,1z />
<path fill=#f20 d=M867,2638l-19,-1,17,-4,19,1z />
<path fill=#bf4 d=M868,2285l-19,-14,17,-48,19,12z />
<path fill=#f80 d=M868,2458l-19,-8,17,-4,19,5z />
<path fill=#f20 d=M868,2668l-19,-13,17,-19,19,16z />
<path fill=#ef1 d=M869,2278l-18,-10,17,14,19,4z />
<path fill=#f70 d=M870,2481l-19,-19,17,-6,19,17z />
<path fill=#f20 d=M870,2687l-19,0,17,-22,19,11z />
<path fill=#cf3 d=M871,2321l-19,-10,17,-36,19,11z />
<path fill=#f70 d=M871,2504l-19,-14,17,-12,19,14z />
<path fill=#f00 d=M871,2687l-19,19,18,-21,18,-2z />
<path fill=#df2 d=M872,2107l-18,-14,17,-40,19,5z />
<path fill=#fe0 d=M873,2316l-19,-7,17,9,19,18z />
<path fill=#f70 d=M873,2510l-19,20,17,-28,19,-5z />
<path fill=#c00 d=M873,2706l-19,3,17,-23,19,8z />
<path fill=#fe0 d=M874,2107l-19,-27,17,24,19,17z />
<path stroke=#600 stroke-width=8 d=M873,2705l15,-10 />
<path fill=#bf4 d=M874,2380l-19,-18,17,-49,19,17z />
<path fill=#f30 d=M874,2520l-19,5,18,-15,18,-6z />
<path fill=#b00 d=M874,2729l-18,-13,17,-12,19,13z />
<path fill=#cf3 d=M876,2150l-19,-11,17,-35,19,12z />
<path fill=#fc0 d=M876,2343l-19,-8,17,44,19,6z />
<path fill=#f10 d=M876,2534l-19,-3,17,-13,19,9z />
<path fill=#c00 d=M876,2765l-19,-27,17,-12,19,33z />
<path fill=#fe0 d=M877,2148l-19,-19,17,19,19,18z />
<path fill=#df2 d=M877,2404l-19,-3,17,-60,19,28z />
<path fill=#f20 d=M877,2566l-19,-10,18,-25,18,23z />
<path fill=#f30 d=M877,2822l-18,-36,17,-26,19,43z />
<path fill=#bf4 d=M879,2208l-19,-14,17,-49,19,6z />
<path fill=#fd0 d=M879,2408l-19,-16,17,9,19,6z />
<path fill=#f20 d=M879,2590l-19,-16,17,-10,19,14z />
<path fill=#f50 d=M879,2851l-19,-27,17,-7,19,22z />
<path fill=#ff0 d=M880,2197l-19,-11,17,19,19,8z />
<path fill=#fe0 d=M880,2430l-19,-1,18,-23,18,5z />
<path fill=#f30 d=M880,2622l-18,-27,17,-8,19,22z />
<path fill=#f80 d=M881,2889l-19,-23,17,-19,19,27z />
<path fill=#cf3 d=M882,2248l-19,-15,17,-38,19,10z />
<path fill=#fa0 d=M882,2431l-19,0,17,-2,19,-10z />
<path fill=#f30 d=M882,2635l-19,-1,17,-15,19,-1z />
<path fill=#fe0 d=M883,2237l-19,-12,18,21,18,7z />
<path fill=#f90 d=M883,2452l-18,-4,17,-18,19,2z />
<path fill=#f10 d=M884,2654l-19,-17,17,-3,19,9z />
<path fill=#cf3 d=M885,2288l-19,-4,17,-50,19,17z />
<path fill=#f80 d=M885,2473l-19,-16,17,-7,19,20z />
<path fill=#f20 d=M885,2678l-19,-11,17,-16,19,7z />
<path fill=#ff0 d=M886,2287l-19,-10,18,8,18,17z />
<path fill=#f70 d=M886,2493l-18,-14,17,-8,19,2z />
<path fill=#f00 d=M887,2685l-19,2,17,-11,19,-10z />
<path fill=#fe0 d=M888,2059l-19,-6,17,23,19,17z />
<path fill=#cf3 d=M888,2337l-19,-17,17,-35,19,6z />
<path fill=#f60 d=M888,2499l-19,5,17,-12,19,-9z />
<path fill=#c00 d=M888,2696l-19,-9,17,-3,19,0z />
<path fill=#df2 d=M889,2123l-19,-17,18,-49,18,9z />
<path stroke=#600 stroke-width=8 d=M888,2695l15,-11 />
<path fill=#fe0 d=M889,2332l-18,-17,17,19,19,11z />
<path fill=#f30 d=M890,2506l-19,5,17,-13,19,3z />
<path fill=#b00 d=M890,2719l-19,-14,17,-12,19,14z />
<path fill=#ff0 d=M891,2117l-19,-11,17,13,19,13z />
<path fill=#bf4 d=M891,2386l-19,-7,17,-50,19,12z />
<path fill=#f10 d=M891,2529l-19,-9,17,-16,19,15z />
<path fill=#d00 d=M891,2761l-19,-34,17,-12,19,16z />
<path fill=#cf3 d=M892,2167l-19,-18,18,-34,18,8z />
<path fill=#fc0 d=M892,2370l-18,-29,17,43,19,9z />
<path fill=#f10 d=M893,2556l-19,-23,17,-7,19,17z />
<path fill=#f10 d=M893,2804l-19,-43,17,-6,19,48z />
<path fill=#fe0 d=M894,2153l-19,-7,17,19,19,10z />
<path fill=#ff0 d=M894,2408l-19,-5,17,-35,19,8z />
<path fill=#f20 d=M894,2579l-19,-14,17,-12,19,12z />
<path fill=#f60 d=M894,2841l-19,-22,18,-19,18,22z />
<path fill=#bf4 d=M895,2215l-18,-9,17,-56,19,20z />
<path fill=#fd0 d=M896,2413l-19,-5,17,-2,19,2z />
<path fill=#f30 d=M896,2611l-19,-22,17,-12,19,1z />
<path fill=#f80 d=M896,2875l-19,-27,17,-12,19,29z />
<path fill=#ff0 d=M897,2207l-19,-11,17,16,19,17z />
<path fill=#fb0 d=M897,2420l-19,10,17,-18,19,0z />
<path fill=#f30 d=M897,2619l-19,2,18,-13,18,1z />
<path fill=#fa0 d=M897,2911l-18,-24,17,-16,19,11z />
<path fill=#cf3 d=M899,2254l-19,-7,17,-43,19,14z />
<path fill=#f80 d=M899,2434l-19,-3,17,-12,19,3z />
<path fill=#f20 d=M899,2644l-19,-10,17,-17,19,24z />
<path fill=#fe0 d=M900,2253l-19,-17,17,16,19,11z />
<path fill=#f90 d=M900,2471l-19,-20,17,-21,19,28z />
<path fill=#f10 d=M900,2659l-19,-7,18,-10,18,15z />
<path fill=#cf3 d=M902,2304l-19,-18,17,-36,19,11z />
<path fill=#f70 d=M902,2475l-19,-3,17,-3,19,-5z />
<path fill=#e00 d=M902,2668l-19,10,17,-20,19,-2z />
<path fill=#cf3 d=M903,2095l-19,-18,17,-51,19,11z />
<path fill=#fe0 d=M903,2293l-19,-7,17,15,19,11z />
<path fill=#f50 d=M903,2484l-19,9,18,-20,18,0z />
<path fill=#c00 d=M903,2685l-18,0,17,-19,19,7z />
<path fill=#fd0 d=M905,2067l-19,-9,17,34,19,13z />
<path stroke=#600 stroke-width=8 d=M903,2684l16,-11 />
<path fill=#cf3 d=M905,2346l-19,-10,17,-46,19,11z />
<path fill=#f40 d=M905,2502l-19,-3,17,-17,19,23z />
<path fill=#b00 d=M905,2708l-19,-13,17,-12,19,15z />
<path fill=#cf3 d=M906,2134l-19,-13,17,-56,19,21z />
<path fill=#fe0 d=M906,2343l-19,-12,18,12,18,7z />
<path fill=#f20 d=M906,2520l-18,-15,17,-5,19,17z />
<path fill=#b00 d=M907,2732l-19,-15,17,-12,19,17z />
<path fill=#fe0 d=M908,2124l-19,-8,17,15,19,19z />
<path fill=#cf3 d=M908,2394l-19,-9,17,-44,19,2z />
<path fill=#f10 d=M908,2544l-19,-17,17,-9,19,18z />
<path fill=#f20 d=M908,2805l-19,-48,17,-30,19,47z />
<path fill=#cf3 d=M909,2176l-19,-10,17,-44,19,16z />
<path fill=#fd0 d=M909,2376l-19,-7,18,23,18,4z />
<path fill=#f20 d=M909,2567l-18,-13,17,-13,19,16z />
<path fill=#f50 d=M910,2823l-19,-22,17,-1,19,21z />
<path fill=#fe0 d=M911,2172l-19,-20,17,22,19,16z />
<path fill=#fe0 d=M911,2410l-19,-2,17,-33,19,13z />
<path fill=#f10 d=M911,2581l-19,-2,17,-14,19,-12z />
<path fill=#f80 d=M911,2867l-19,-29,17,-19,19,23z />
<path fill=#bf4 d=M912,2231l-19,-17,18,-45,18,4z />
<path fill=#fb0 d=M912,2413l-18,0,17,-4,19,-10z />
<path fill=#f20 d=M913,2611l-19,-1,17,-33,19,23z />
<path fill=#f90 d=M913,2883l-19,-10,17,-10,19,19z />
<path fill=#ff0 d=M914,2219l-19,-14,17,23,19,8z />
<path fill=#f80 d=M914,2423l-19,-3,17,-7,19,-6z />
<path fill=#f20 d=M914,2642l-19,-24,17,-10,19,25z />
<path fill=#fb0 d=M914,2927l-19,-19,18,-28,18,26z />
<path fill=#df2 d=M915,2264l-18,-11,17,-37,19,15z />
<path fill=#f80 d=M916,2459l-19,-27,17,-12,19,33z />
<path fill=#f20 d=M916,2658l-19,-16,17,-3,19,22z />
<path fill=#fe0 d=M917,2262l-19,-11,17,11,19,3z />
<path fill=#f80 d=M917,2465l-19,5,17,-13,19,-8z />
<path fill=#e00 d=M917,2657l-19,2,17,-2,19,-14z />
<path fill=#fd0 d=M918,2039l-19,-11,18,21,18,20z />
<path fill=#cf3 d=M918,2313l-18,-11,17,-43,19,15z />
<path fill=#f50 d=M919,2474l-19,1,17,-11,19,-3z />
<path fill=#c00 d=M919,2674l-19,-6,17,-12,19,6z />
<path fill=#bf4 d=M920,2107l-19,-14,17,-57,19,15z />
<path stroke=#600 stroke-width=8 d=M919,2673l15,-10 />
<path fill=#fd0 d=M920,2303l-19,-11,17,19,19,6z />
<path fill=#f50 d=M920,2505l-19,-22,17,-11,19,36z />
<path fill=#b00 d=M920,2699l-19,-15,18,-12,18,13z />
<path fill=#fd0 d=M921,2087l-18,-21,17,38,19,14z />
<path fill=#df2 d=M922,2352l-19,-7,17,-45,19,10z />
<path fill=#f30 d=M922,2518l-19,-17,17,3,19,-3z />
<path fill=#b00 d=M922,2723l-19,-17,17,-10,19,12z />
<path fill=#cf3 d=M923,2152l-19,-20,17,-48,19,15z />
<path fill=#fd0 d=M923,2345l-19,-2,17,6,19,11z />
<path fill=#f20 d=M923,2537l-19,-18,18,-3,18,8z />
<path fill=#e00 d=M923,2776l-18,-47,17,-10,19,45z />
<path fill=#fe0 d=M925,2140l-19,-17,17,26,19,3z />
<path fill=#df2 d=M925,2397l-19,-4,17,-51,19,24z />
<path fill=#f20 d=M925,2558l-19,-16,17,-8,19,18z />
<path fill=#f60 d=M925,2822l-19,-21,17,-31,19,23z />
<path fill=#cf3 d=M926,2191l-19,-16,17,-38,19,10z />
<path fill=#fc0 d=M926,2389l-19,-13,17,20,19,-8z />
<path fill=#e00 d=M926,2554l-19,13,18,-10,18,-20z />
<path fill=#f70 d=M926,2843l-18,-23,17,-2,19,35z />
<path fill=#fe0 d=M928,2174l-19,-4,17,18,19,17z />
<path fill=#fb0 d=M928,2400l-19,10,17,-22,19,3z />
<path fill=#f10 d=M928,2603l-19,-24,17,-28,19,41z />
<path fill=#f90 d=M928,2884l-19,-19,17,-26,19,23z />
<path fill=#cf3 d=M929,2237l-19,-8,17,-57,19,20z />
<path fill=#f80 d=M929,2409l-19,5,18,-15,18,2z />
<path fill=#f30 d=M929,2634l-18,-25,17,-11,19,25z />
<path fill=#fa0 d=M930,2907l-19,-26,17,-1,19,22z />
<path fill=#ff0 d=M931,2232l-19,-15,17,17,19,19z />
<path fill=#f90 d=M931,2455l-19,-34,17,-15,19,28z />
<path fill=#f40 d=M931,2661l-19,-21,17,-9,19,25z />
<path fill=#fd0 d=M931,2945l-19,-21,17,-20,19,19z />
<path fill=#ef1 d=M932,2267l-19,-4,17,-33,19,9z />
<path fill=#f80 d=M932,2450l-19,8,18,-6,19,-13z />
<path fill=#f00 d=M933,2644l-19,14,17,3,19,-32z />
<path fill=#cf3 d=M934,2070l-19,-20,17,-43,19,17z />
<path fill=#fe0 d=M934,2275l-19,-14,17,3,19,20z />
<path fill=#f50 d=M934,2462l-19,3,17,-16,19,6z />
<path fill=#c00 d=M934,2664l-19,-7,17,-14,19,9z />
<path fill=#fd0 d=M935,2053l-19,-15,17,30,19,3z />
<path stroke=#600 stroke-width=8 d=M934,2663l15,-11 />
<path fill=#df2 d=M935,2319l-19,-7,18,-40,18,8z />
<path fill=#f60 d=M935,2509l-18,-37,17,-13,19,41z />
<path fill=#b00 d=M936,2686l-19,-13,17,-12,19,17z />
<path fill=#bf4 d=M937,2119l-19,-14,17,-55,19,9z />
<path fill=#fd0 d=M937,2311l-19,-9,17,14,19,17z />
<path fill=#f40 d=M937,2502l-19,3,17,3,19,-30z />
<path fill=#b00 d=M937,2709l-19,-11,17,-14,19,13z />
<path fill=#fe0 d=M938,2100l-19,-15,18,31,18,12z />
<path fill=#ef1 d=M938,2361l-18,-10,17,-43,19,17z />
<path fill=#f30 d=M939,2525l-19,-8,17,-17,19,9z />
<path fill=#e00 d=M939,2766l-19,-46,17,-15,19,39z />
<path fill=#cf3 d=M940,2153l-19,-3,17,-53,19,9z />
<path fill=#fd0 d=M940,2368l-19,-24,17,15,19,-2z />
<path fill=#f30 d=M940,2553l-19,-17,17,-14,19,19z />
<path fill=#f30 d=M940,2795l-19,-23,17,-12,19,30z />
<path fill=#fe0 d=M941,2148l-19,-10,18,13,18,15z />
<path fill=#ff0 d=M941,2389l-18,8,17,-32,19,2z />
<path fill=#e00 d=M942,2538l-19,20,17,-6,19,-24z />
<path fill=#f80 d=M942,2855l-19,-35,17,-30,19,15z />
<path fill=#cf3 d=M943,2206l-19,-17,17,-44,19,20z />
<path fill=#fb0 d=M943,2392l-19,-3,17,-1,19,-8z />
<path fill=#f00 d=M943,2594l-19,-41,17,-17,19,51z />
<path fill=#f80 d=M943,2863l-19,-23,18,11,18,14z />
<path fill=#fe0 d=M944,2194l-18,-21,17,31,19,14z />
<path fill=#f80 d=M945,2402l-19,-2,17,-9,19,2z />
<path fill=#f30 d=M945,2624l-19,-25,17,-10,19,29z />
<path fill=#fb0 d=M945,2903l-19,-21,17,-22,19,10z />
<path fill=#cf3 d=M946,2254l-19,-18,17,-45,19,17z />
<path fill=#f80 d=M946,2436l-19,-29,17,-7,19,16z />
<path fill=#f50 d=M946,2657l-19,-25,18,-12,18,26z />
<path fill=#fb0 d=M946,2924l-18,-19,17,-6,19,15z />
<path fill=#fe0 d=M948,2239l-19,-9,17,22,19,7z />
<path fill=#f80 d=M948,2440l-19,14,17,-21,19,-14z />
<path fill=#f10 d=M948,2629l-19,33,17,-5,19,-37z />
<path fill=#ef1 d=M949,2286l-19,-21,17,-28,19,18z />
<path fill=#f50 d=M949,2456l-19,-6,17,-11,19,21z />
<path fill=#b00 d=M949,2653l-19,-9,18,-15,18,12z />
<path fill=#cf3 d=M950,2072l-18,-3,17,-46,19,17z />
<path stroke=#600 stroke-width=8 d=M949,2652l16,-11 />
<path fill=#fe0 d=M951,2282l-19,-8,17,9,19,8z />
<path fill=#f60 d=M951,2501l-19,-41,17,-7,19,37z />
<path fill=#b00 d=M951,2680l-19,-18,17,-12,19,14z />
<path fill=#fd0 d=M952,2060l-19,-8,17,17,19,23z />
<path fill=#df2 d=M952,2334l-19,-17,17,-38,19,17z />
<path fill=#f40 d=M952,2479l-19,30,18,-9,18,-37z />
<path fill=#b00 d=M952,2698l-18,-13,17,-8,19,13z />
<path fill=#bf4 d=M954,2129l-19,-12,17,-60,19,16z />
<path fill=#fd0 d=M954,2327l-19,-17,17,22,19,6z />
<path fill=#f20 d=M954,2511l-19,-9,17,-24,19,16z />
<path fill=#e00 d=M954,2746l-19,-40,17,-12,19,49z />
<path fill=#fd0 d=M955,2107l-19,-8,17,27,19,12z />
<path fill=#ff0 d=M955,2358l-19,2,18,-36,18,14z />
<path fill=#f30 d=M955,2543l-18,-20,17,-16,19,22z />
<path fill=#f40 d=M956,2792l-19,-30,17,-21,19,28z />
<path fill=#df2 d=M957,2168l-19,-16,17,-47,19,17z />
<path fill=#fd0 d=M957,2369l-19,-2,17,-11,19,8z />
<path fill=#f00 d=M957,2529l-19,24,17,-12,19,-15z />
<path fill=#f50 d=M957,2807l-19,-15,17,-5,19,39z />
<path fill=#fe0 d=M958,2167l-19,-20,17,18,19,12z />
<path fill=#fb0 d=M958,2381l-19,8,18,-22,18,3z />
<path fill=#f00 d=M958,2588l-18,-51,17,-10,19,49z />
<path fill=#fa0 d=M959,2867l-19,-14,17,-50,19,28z />
<path fill=#bf4 d=M960,2219l-19,-14,17,-42,19,14z />
<path fill=#f90 d=M960,2394l-19,-2,17,-12,19,6z />
<path fill=#f30 d=M960,2620l-19,-30,17,-7,19,18z />
<path fill=#f90 d=M960,2871l-19,-10,17,2,19,23z />
<path fill=#fe0 d=M961,2210l-19,-18,18,25,18,-1z />
<path fill=#f70 d=M961,2418l-18,-17,17,-9,19,14z />
<path fill=#f50 d=M962,2648l-19,-27,17,-5,19,9z />
<path fill=#fb0 d=M962,2916l-19,-15,17,-33,19,20z />
<path fill=#cf3 d=M963,2261l-19,-8,17,-46,19,11z />
<path fill=#f70 d=M963,2421l-19,14,17,-19,19,4z />
<path fill=#f10 d=M963,2621l-19,37,17,-11,19,-42z />
<path fill=#fe0 d=M964,2255l-18,-17,17,20,19,15z />
<path fill=#f60 d=M965,2461l-19,-21,17,-22,19,32z />
<path fill=#b00 d=M965,2642l-19,-11,17,-10,19,9z />
<path stroke=#600 stroke-width=8 d=M965,2641l15,-11 />
<path fill=#ef1 d=M966,2292l-19,-8,17,-31,19,11z />
<path fill=#f60 d=M966,2490l-19,-37,17,5,19,17z />
<path fill=#b00 d=M966,2665l-19,-13,17,-12,19,13z />
<path fill=#cf3 d=M967,2092l-19,-22,18,-32,18,12z />
<path fill=#fd0 d=M967,2297l-18,-16,17,8,19,14z />
<path fill=#f40 d=M968,2465l-19,36,17,-11,19,-38z />
<path fill=#c00 d=M968,2691l-19,-13,17,-16,19,20z />
<path fill=#fd0 d=M969,2074l-19,-15,17,31,19,7z />
<path fill=#ef1 d=M969,2339l-19,-6,17,-39,19,5z />
<path fill=#f00 d=M969,2496l-19,-16,17,-16,19,22z />
<path fill=#e00 d=M969,2744l-19,-49,18,-8,18,39z />
<path fill=#cf3 d=M970,2139l-18,-11,17,-57,19,15z />
<path fill=#fd0 d=M971,2339l-19,-13,17,11,19,4z />
<path fill=#f20 d=M971,2531l-19,-22,17,-17,19,25z />
<path fill=#f20 d=M971,2771l-19,-29,17,-3,19,32z />
<path fill=#fd0 d=M972,2123l-19,-17,17,31,19,10z />
<path fill=#fd0 d=M972,2365l-19,-8,17,-20,19,16z />
<path fill=#f10 d=M972,2527l-19,15,18,-13,18,3z />
<path fill=#f70 d=M972,2827l-18,-39,17,-22,19,26z />
<path fill=#df2 d=M974,2178l-19,-12,17,-46,19,14z />
<path fill=#fb0 d=M974,2371l-19,-2,17,-5,19,-9z />
<path fill=#f00 d=M974,2577l-19,-49,17,-3,19,52z />
<path fill=#f60 d=M974,2833l-19,-29,17,20,19,14z />
<path fill=#ff0 d=M975,2178l-19,-13,17,10,19,18z />
<path fill=#f90 d=M975,2388l-19,-7,17,-11,19,-3z />
<path fill=#f30 d=M975,2602l-19,-18,18,-12,18,27z />
<path fill=#fb0 d=M975,2887l-18,-23,17,-35,19,20z />
<path fill=#cf3 d=M977,2217l-19,1,17,-42,19,10z />
<path fill=#f80 d=M977,2408l-19,-15,17,-8,19,4z />
<path fill=#f40 d=M977,2627l-19,-9,17,-19,19,8z />
<path fill=#f90 d=M977,2889l-19,-20,17,15,19,11z />
<path fill=#fe0 d=M978,2220l-19,-11,17,6,19,15z />
<path fill=#f70 d=M978,2421l-19,-4,18,-12,18,2z />
<path fill=#f10 d=M978,2606l-18,42,17,-22,19,-21z />
<path fill=#cf3 d=M980,2275l-19,-16,17,-42,19,9z />
<path fill=#f60 d=M980,2451l-19,-32,17,-1,19,24z />
<path fill=#b00 d=M980,2632l-19,-10,17,-16,19,17z />
<path stroke=#600 stroke-width=8 d=M980,2630l15,-7 />
<path fill=#fe0 d=M981,2264l-19,-10,17,18,19,8z />
<path fill=#f70 d=M981,2476l-19,-17,18,-11,18,11z />
<path fill=#b00 d=M981,2654l-18,-13,17,-12,19,13z />
<path fill=#ef1 d=M983,2305l-19,-14,17,-28,19,10z />
<path fill=#f40 d=M983,2453l-19,38,17,-16,19,-31z />
<path fill=#c00 d=M983,2683l-19,-20,17,-12,19,27z />
<path fill=#cf3 d=M984,2097l-19,-6,17,-42,19,10z />
<path fill=#fd0 d=M984,2301l-19,-5,18,6,18,9z />
<path fill=#f00 d=M984,2488l-18,-22,17,-13,19,17z />
<path fill=#e00 d=M985,2727l-19,-39,17,-9,19,45z />
<path fill=#fd0 d=M986,2088l-19,-15,17,22,19,17z />
<path fill=#ff0 d=M986,2343l-19,-5,17,-40,19,21z />
<path fill=#f20 d=M986,2518l-19,-25,17,-9,19,23z />
<path fill=#f40 d=M986,2772l-19,-32,17,-19,19,45z />
<path fill=#cf3 d=M987,2148l-19,-10,18,-53,18,16z />
<path fill=#fd0 d=M987,2354l-18,-16,17,2,19,11z />
<path fill=#f20 d=M988,2533l-19,-4,17,-14,19,8z />
<path fill=#f50 d=M988,2793l-19,-26,17,0,19,50z />
<path fill=#fd0 d=M989,2135l-19,-14,17,24,19,25z />
<path fill=#fb0 d=M989,2357l-19,8,17,-12,19,-6z />
<path fill=#f20 d=M989,2578l-19,-53,17,5,19,36z />
<path fill=#f90 d=M989,2839l-19,-14,17,-36,19,29z />
<path fill=#cf3 d=M990,2195l-19,-18,18,-44,18,9z />
<path fill=#f80 d=M990,2368l-18,3,17,-15,19,6z />
<path fill=#f40 d=M991,2600l-19,-27,17,0,19,15z />
<path fill=#f80 d=M991,2851l-19,-20,17,5,19,20z />
<path fill=#ff0 d=M992,2187l-19,-10,17,15,19,11z />
<path fill=#f70 d=M992,2390l-19,-3,17,-20,19,0z />
<path fill=#f30 d=M992,2609l-19,-8,17,-3,19,-7z />
<path fill=#fc0 d=M992,2896l-19,-11,18,-38,18,24z />
<path fill=#df2 d=M993,2232l-18,-16,17,-31,19,9z />
<path fill=#f70 d=M994,2409l-19,-2,17,-19,19,-3z />
<path fill=#f10 d=M994,2607l-19,20,17,-19,19,-20z />
<path fill=#fe0 d=M995,2228l-19,-10,17,11,19,17z />
<path fill=#f70 d=M995,2443l-19,-24,17,-13,19,19z />
<path fill=#c00 d=M995,2624l-19,-17,18,-1,18,16z />
<path stroke=#600 stroke-width=8 d=M995,2623l15,-2 />
<path fill=#cf3 d=M997,2282l-19,-9,17,-48,19,10z />
<path fill=#f70 d=M997,2460l-19,-10,17,-10,19,0z />
<path fill=#b00 d=M997,2644l-19,-14,17,-8,19,10z />
<path fill=#fe0 d=M998,2273l-19,-10,17,16,19,19z />
<path fill=#f40 d=M998,2445l-19,31,17,-17,19,-15z />
<path fill=#d00 d=M998,2678l-19,-26,18,-12,18,47z />
<path fill=#ff0 d=M1000,2312l-19,-9,17,-32,19,15z />
<path fill=#f00 d=M1000,2472l-19,-18,17,-9,19,20z />
<path fill=#f00 d=M1000,2725l-19,-45,17,-5,19,25z />
<path fill=#df2 d=M1001,2113l-19,-17,17,-38,19,10z />
<path fill=#fd0 d=M1001,2320l-19,-21,17,11,19,14z />
<path fill=#f20 d=M1001,2508l-19,-22,18,-18,18,23z />
<path fill=#f40 d=M1001,2766l-18,-44,17,-3,19,45z />
<path fill=#fd0 d=M1003,2103l-19,-17,17,24,19,16z />
<path fill=#fe0 d=M1003,2352l-19,-10,17,-24,19,5z />
<path fill=#f20 d=M1003,2525l-19,-8,17,-12,19,5z />
<path fill=#f90 d=M1003,2817l-19,-50,17,-6,19,39z />
<path fill=#bf4 d=M1004,2171l-19,-24,17,-47,19,6z />
<path fill=#fb0 d=M1004,2348l-19,6,18,-3,18,-19z />
<path fill=#f30 d=M1004,2567l-18,-36,17,-10,19,28z />
<path fill=#f80 d=M1005,2819l-19,-30,17,25,19,14z />
<path fill=#fd0 d=M1006,2143l-19,-9,17,34,19,5z />
<path fill=#f80 d=M1006,2364l-19,-7,17,-10,19,3z />
<path fill=#f50 d=M1006,2589l-19,-14,17,-12,19,2z />
<path fill=#fb0 d=M1006,2856l-19,-20,17,-21,19,60z />
<path fill=#cf3 d=M1007,2205l-19,-12,17,-53,19,20z />
<path fill=#f60 d=M1007,2368l-19,0,18,-6,18,-7z />
<path fill=#f40 d=M1007,2592l-18,7,17,-12,19,3z />
<path fill=#f90 d=M1008,2873l-19,-25,17,6,19,23z />
<path fill=#fe0 d=M1009,2195l-19,-10,17,17,19,15z />
<path fill=#f50 d=M1009,2387l-19,3,17,-24,19,10z />
<path fill=#f00 d=M1009,2590l-19,20,17,-18,19,-18z />
<path fill=#df2 d=M1010,2248l-19,-18,18,-38,18,15z />
<path fill=#f60 d=M1010,2427l-18,-19,17,-24,19,30z />
<path fill=#d00 d=M1011,2623l-19,-16,17,-19,19,19z />
<path stroke=#600 stroke-width=8 d=M1010,2621l16,-14 />
<path fill=#fd0 d=M1012,2237l-19,-10,17,18,19,10z />
<path fill=#f60 d=M1012,2441l-19,1,17,-18,19,3z />
<path fill=#c00 d=M1012,2632l-19,-10,17,-2,19,8z />
<path fill=#cf3 d=M1013,2299l-18,-19,17,-46,19,15z />
<path fill=#f40 d=M1014,2445l-19,16,17,-21,19,0z />
<path fill=#e00 d=M1014,2688l-19,-47,17,-12,19,42z />
<path fill=#fe0 d=M1015,2286l-19,-14,17,24,19,-1z />
<path fill=#f10 d=M1015,2465l-19,-19,17,-2,19,5z />
<path fill=#f00 d=M1015,2701l-19,-26,17,9,19,26z />
<path fill=#ff0 d=M1016,2326l-18,-15,17,-27,19,5z />
<path fill=#f10 d=M1017,2493l-19,-23,17,-7,19,12z />
<path fill=#f50 d=M1017,2766l-19,-45,17,-25,19,38z />
<path fill=#cf3 d=M1018,2127l-19,-16,17,-44,19,18z />
<path fill=#fc0 d=M1018,2324l-19,-5,17,4,19,-3z />
<path fill=#f20 d=M1018,2512l-19,-5,17,-17,19,-1z />
<path fill=#f90 d=M1018,2801l-19,-39,18,-2,18,37z />
<path fill=#fd0 d=M1019,2108l-18,-7,17,24,19,6z />
<path fill=#fb0 d=M1020,2334l-19,18,17,-29,19,-3z />
<path fill=#f30 d=M1020,2551l-19,-28,17,-15,19,35z />
<path fill=#fc0 d=M1020,2828l-19,-14,17,-17,19,13z />
<path fill=#bf4 d=M1021,2175l-19,-6,17,-65,19,23z />
<path fill=#f90 d=M1021,2352l-19,-4,17,-15,19,11z />
<path fill=#f40 d=M1021,2567l-19,-2,17,-17,19,-1z />
<path fill=#fc0 d=M1021,2876l-19,-61,18,10,19,15z />
<path fill=#fd0 d=M1022,2161l-18,-20,17,31,19,20z />
<path fill=#f60 d=M1023,2356l-19,7,17,-13,19,5z />
<path fill=#f40 d=M1023,2591l-19,-3,17,-24,19,20z />
<path fill=#fd0 d=M1023,2875l-19,-23,17,19,19,59z />
<path fill=#cf3 d=M1024,2218l-19,-15,17,-44,19,7z />
<path fill=#f40 d=M1024,2378l-19,-10,17,-13,19,3z />
<path fill=#e00 d=M1024,2575l-19,19,18,-3,18,-28z />
<path fill=#fe0 d=M1026,2208l-19,-15,17,22,19,19z />
<path fill=#f50 d=M1026,2416l-19,-30,17,-11,19,17z />
<path fill=#c00 d=M1026,2609l-19,-19,17,-16,19,14z />
<path stroke=#600 stroke-width=8 d=M1026,2607l15,-19 />
<path fill=#df2 d=M1027,2256l-19,-10,17,-41,19,21z />
<path fill=#f60 d=M1027,2429l-19,-4,18,-13,18,0z />
<path fill=#d00 d=M1027,2628l-18,-7,17,-15,19,26z />
<path fill=#fd0 d=M1029,2251l-19,-16,17,18,19,18z />
<path fill=#f40 d=M1029,2442l-19,-1,17,-14,19,4z />
<path fill=#e00 d=M1029,2672l-19,-43,17,-4,19,51z />
<path fill=#df2 d=M1030,2296l-19,2,17,-50,19,21z />
<path fill=#f10 d=M1030,2450l-19,-5,18,-5,18,3z />
<path fill=#f30 d=M1030,2710l-18,-26,17,-17,19,22z />
<path fill=#fd0 d=M1032,2290l-19,-5,17,9,19,13z />
<path fill=#f10 d=M1032,2477l-19,-13,17,-16,19,14z />
<path fill=#f30 d=M1032,2735l-19,-38,17,10,19,31z />
<path fill=#fe0 d=M1033,2321l-19,4,18,-36,18,18z />
<path fill=#f00 d=M1033,2491l-18,1,17,-18,19,-2z />
<path fill=#fa0 d=M1034,2799l-19,-37,17,-32,19,29z />
<path fill=#df2 d=M1035,2132l-19,-6,17,-43,19,12z />
<path fill=#fa0 d=M1035,2322l-19,2,17,-4,19,-9z />
<path fill=#f30 d=M1035,2545l-19,-35,17,-23,19,34z />
<path fill=#fb0 d=M1035,2811l-19,-13,17,-4,19,13z />
<path fill=#fd0 d=M1036,2129l-19,-23,18,24,18,14z />
<path fill=#f90 d=M1036,2345l-18,-11,17,-14,19,15z />
<path fill=#f30 d=M1037,2549l-19,0,17,-7,19,-14z />
<path fill=#fc0 d=M1037,2842l-19,-15,17,-19,19,23z />
<path fill=#bf4 d=M1038,2193l-19,-20,17,-47,19,13z />
<path fill=#f70 d=M1038,2355l-19,-4,17,-8,19,6z />
<path fill=#f40 d=M1038,2586l-19,-20,17,-21,19,29z />
<path fill=#af5 d=M1038,2931l-19,-59,17,-36,19,21z />
<path fill=#fd0 d=M1039,2167l-19,-7,18,31,18,6z />
<path fill=#f40 d=M1039,2360l-18,-3,17,-2,19,-8z />
<path fill=#f00 d=M1040,2564l-19,28,17,-7,19,-33z />
<path fill=#cf3 d=M1041,2236l-19,-19,17,-53,19,13z />
<path fill=#f40 d=M1041,2394l-19,-18,17,-19,19,22z />
<path fill=#b00 d=M1041,2590l-19,-15,17,-12,19,14z />
<path stroke=#600 stroke-width=8 d=M1041,2588l15,-11 />
<path fill=#ff0 d=M1042,2227l-18,-21,17,27,19,6z />
<path fill=#f50 d=M1043,2414l-19,0,17,-23,19,5z />
<path fill=#e00 d=M1043,2633l-19,-26,17,-22,19,38z />
<path fill=#df2 d=M1044,2272l-19,-18,17,-29,19,2z />
<path fill=#f40 d=M1044,2433l-19,-5,17,-16,19,10z />
<path fill=#f10 d=M1044,2677l-19,-52,18,4,18,34z />
<path fill=#fe0 d=M1046,2270l-19,-21,17,21,19,4z />
<path fill=#f20 d=M1046,2444l-19,-3,17,-10,19,-2z />
<path fill=#f20 d=M1046,2689l-19,-21,17,5,19,23z />
<path fill=#ef1 d=M1047,2308l-19,-13,17,-27,19,4z />
<path fill=#f00 d=M1047,2463l-19,-14,17,-7,19,9z />
<path fill=#f50 d=M1047,2739l-19,-31,18,-22,18,20z />
<path fill=#fc0 d=M1049,2308l-19,-18,17,16,19,-6z />
<path fill=#f00 d=M1049,2474l-19,2,17,-15,19,6z />
<path fill=#f70 d=M1049,2761l-19,-29,17,2,19,32z />
<path fill=#fb0 d=M1050,2312l-19,9,17,-14,19,-7z />
<path fill=#f10 d=M1050,2524l-19,-35,18,-18,18,35z />
<path fill=#fc0 d=M1050,2809l-18,-13,17,-40,19,22z />
<path fill=#df2 d=M1052,2145l-19,-15,17,-36,19,14z />
<path fill=#f90 d=M1052,2336l-19,-14,17,-11,19,13z />
<path fill=#f20 d=M1052,2530l-19,14,17,-24,19,-2z />
<path fill=#fc0 d=M1052,2832l-19,-23,17,-4,19,17z />
<path fill=#fe0 d=M1053,2141l-19,-14,17,15,19,23z />
<path fill=#f80 d=M1053,2349l-19,-6,18,-9,18,24z />
<path fill=#f30 d=M1053,2576l-18,-29,17,-20,19,33z />
<path fill=#fd0 d=M1054,2860l-19,-20,17,-11,19,13z />
<path fill=#bf4 d=M1055,2198l-19,-6,17,-54,19,9z />
<path fill=#f50 d=M1055,2348l-19,7,17,-6,19,6z />
<path fill=#f00 d=M1055,2553l-19,33,17,-11,19,-34z />
<path fill=#fd0 d=M1056,2178l-19,-12,17,30,19,23z />
<path fill=#f30 d=M1056,2381l-19,-22,18,-13,18,26z />
<path fill=#b00 d=M1056,2578l-18,-13,17,-12,19,13z />
<path stroke=#600 stroke-width=8 d=M1056,2577l16,-11 />
<path fill=#cf3 d=M1058,2241l-19,-6,17,-60,19,9z />
<path fill=#f40 d=M1058,2397l-19,-4,17,-15,19,12z />
<path fill=#d00 d=M1058,2625l-19,-38,17,-13,19,29z />
<path fill=#fe0 d=M1059,2228l-19,-2,18,12,18,11z />
<path fill=#f40 d=M1059,2424l-18,-11,17,-18,19,7z />
<path fill=#f20 d=M1060,2664l-19,-34,17,-10,19,30z />
<path fill=#df2 d=M1061,2276l-19,-5,17,-45,19,18z />
<path fill=#f20 d=M1061,2431l-19,1,17,-10,19,5z />
<path fill=#f50 d=M1061,2697l-19,-24,17,-14,19,20z />
<path fill=#fd0 d=M1062,2273l-19,-4,18,4,19,10z />
<path fill=#f10 d=M1063,2452l-19,-9,17,-14,19,20z />
<path fill=#f40 d=M1063,2707l-19,-20,17,7,19,32z />
<path fill=#fe0 d=M1064,2302l-19,6,17,-37,19,8z />
<path fill=#f00 d=M1064,2468l-19,-6,17,-12,19,12z />
<path fill=#f80 d=M1064,2768l-19,-32,17,-33,19,31z />
<path fill=#fb0 d=M1065,2301l-18,7,17,-8,19,-6z />
<path fill=#f00 d=M1066,2508l-19,-36,17,-7,19,21z />
<path fill=#f90 d=M1066,2779l-19,-21,17,5,19,26z />
<path fill=#f90 d=M1067,2325l-19,-13,17,-13,19,13z />
<path fill=#f20 d=M1067,2519l-19,2,17,-17,19,14z />
<path fill=#fc0 d=M1067,2824l-19,-17,18,-31,18,18z />
<path fill=#cf3 d=M1068,2166l-18,-23,17,-37,19,12z />
<path fill=#fa0 d=M1069,2358l-19,-24,17,-12,19,25z />
<path fill=#f20 d=M1069,2562l-19,-34,17,-11,19,29z />
<path fill=#fd0 d=M1069,2844l-19,-14,17,-10,19,19z />
<path fill=#fd0 d=M1070,2148l-19,-9,17,25,19,3z />
<path fill=#f70 d=M1070,2355l-19,-6,17,8,19,-10z />
<path fill=#f00 d=M1070,2542l-19,34,17,-16,19,-28z />
<path fill=#bf4 d=M1071,2220l-18,-23,17,-52,19,11z />
<path fill=#f40 d=M1072,2372l-19,-25,17,7,19,8z />
<path fill=#b00 d=M1072,2567l-19,-13,17,-12,19,13z />
<path stroke=#600 stroke-width=8 d=M1072,2566l15,-11 />
<path fill=#fc0 d=M1073,2185l-19,-9,17,42,19,7z />
<path fill=#f40 d=M1073,2391l-19,-12,17,-9,19,16z />
<path fill=#c00 d=M1073,2605l-19,-29,18,-12,18,23z />
<path fill=#df2 d=M1075,2251l-19,-11,17,-57,19,13z />
<path fill=#f30 d=M1075,2404l-19,-8,17,-7,19,12z />
<path fill=#f20 d=M1075,2652l-19,-30,17,-23,19,28z />
<path fill=#fe0 d=M1076,2246l-19,-19,17,20,19,10z />
<path fill=#f30 d=M1076,2428l-19,-6,18,-21,18,28z />
<path fill=#f40 d=M1076,2681l-18,-20,17,-13,19,21z />
<path fill=#ef1 d=M1078,2284l-19,-9,17,-32,19,11z />
<path fill=#f20 d=M1078,2450l-19,-21,17,-3,19,22z />
<path fill=#f70 d=M1078,2726l-19,-32,17,-17,19,22z />
<path fill=#fc0 d=M1079,2280l-19,-8,17,11,19,-7z />
<path fill=#f00 d=M1079,2462l-19,-11,18,-3,18,6z />
<path fill=#f60 d=M1079,2734l-18,-30,17,19,19,32z />
<path fill=#fb0 d=M1081,2296l-19,6,17,-23,19,1z />
<path fill=#f00 d=M1081,2487l-19,-21,17,-6,19,16z />
<path fill=#fb0 d=M1081,2791l-19,-26,17,-34,19,14z />
<path fill=#f80 d=M1082,2313l-19,-12,18,-7,18,-1z />
<path fill=#f20 d=M1082,2520l-18,-15,17,-22,19,29z />
<path fill=#fa0 d=M1083,2795l-19,-18,17,10,19,12z />
<path fill=#fa0 d=M1084,2349l-19,-26,17,-13,19,16z />
<path fill=#f20 d=M1084,2547l-19,-29,17,-1,19,16z />
<path fill=#fd0 d=M1084,2841l-19,-19,17,-30,19,17z />
<path fill=#cf3 d=M1085,2168l-19,-3,18,-49,18,16z />
<path fill=#f90 d=M1085,2347l-18,11,17,-12,19,-11z />
<path fill=#f00 d=M1086,2534l-19,28,17,-17,19,-22z />
<path fill=#fd0 d=M1087,2158l-19,-11,17,19,19,18z />
<path fill=#f50 d=M1087,2362l-19,-7,17,-8,19,0z />
<path fill=#b00 d=M1087,2557l-19,-14,17,-10,19,12z />
<path stroke=#600 stroke-width=8 d=M1087,2555l15,-10 />
<path fill=#bf4 d=M1088,2226l-19,-7,18,-65,18,18z />
<path fill=#f50 d=M1088,2386l-18,-16,17,-11,19,38z />
<path fill=#c00 d=M1089,2589l-19,-23,17,-12,19,13z />
<path fill=#fc0 d=M1090,2197l-19,-13,17,40,19,16z />
<path fill=#f40 d=M1090,2402l-19,-12,17,-5,19,3z />
<path fill=#f00 d=M1090,2630l-19,-28,17,-17,19,23z />
<path fill=#df2 d=M1091,2258l-18,-9,17,-55,19,20z />
<path fill=#f30 d=M1092,2430l-19,-28,17,-3,19,21z />
<path fill=#f40 d=M1092,2671l-19,-22,17,-25,19,35z />
<path fill=#fe0 d=M1093,2256l-19,-12,17,11,19,6z />
<path fill=#f30 d=M1093,2448l-19,-22,17,1,19,12z />
<path fill=#f60 d=M1093,2701l-19,-23,18,-11,18,29z />
<path fill=#fe0 d=M1095,2277l-19,7,17,-30,19,6z />
<path fill=#f20 d=M1095,2455l-19,-7,17,-1,19,2z />
<path fill=#fa0 d=M1095,2756l-19,-33,17,-27,19,28z />
<path fill=#fa0 d=M1096,2281l-19,-1,17,-4,19,-1z />
<path fill=#f00 d=M1096,2477l-19,-16,17,-8,19,18z />
<path fill=#f80 d=M1096,2746l-19,-14,18,21,18,14z />
<path fill=#f80 d=M1098,2295l-19,1,17,-16,19,0z />
<path fill=#f20 d=M1098,2513l-19,-29,17,-11,19,31z />
<path fill=#fc0 d=M1098,2801l-19,-12,17,-46,19,22z />
<path fill=#f90 d=M1099,2327l-19,-15,17,-20,19,28z />
<path fill=#f30 d=M1099,2534l-19,-16,18,-8,18,16z />
<path fill=#fb0 d=M1099,2810l-18,-17,17,5,19,24z />
<path fill=#f80 d=M1101,2337l-19,11,17,-23,19,-2z />
<path fill=#f00 d=M1101,2525l-19,22,17,-14,19,-21z />
<path fill=#df2 d=M1102,2184l-19,-17,17,-36,19,11z />
<path fill=#f50 d=M1102,2348l-19,0,18,-12,18,8z />
<path fill=#b00 d=M1102,2546l-18,-11,17,-11,19,10z />
<path stroke=#600 stroke-width=8 d=M1102,2545l16,-11 />
<path fill=#fd0 d=M1104,2174l-19,-18,17,26,19,14z />
<path fill=#f70 d=M1104,2397l-19,-37,17,-16,19,44z />
<path fill=#b00 d=M1104,2569l-19,-14,17,-12,19,14z />
<path fill=#bf4 d=M1105,2241l-19,-16,17,-55,19,18z />
<path fill=#f40 d=M1105,2389l-19,-4,18,11,18,-22z />
<path fill=#e00 d=M1105,2610l-18,-23,17,-22,19,26z />
<path fill=#fc0 d=M1107,2215l-19,-20,17,44,19,-1z />
<path fill=#f40 d=M1107,2421l-19,-20,17,-14,19,19z />
<path fill=#f30 d=M1107,2661l-19,-35,17,-22,19,51z />
<path fill=#ef1 d=M1108,2262l-19,-5,18,-44,18,22z />
<path fill=#f40 d=M1108,2440l-18,-12,17,-10,19,5z />
<path fill=#f60 d=M1109,2697l-19,-29,17,-12,19,24z />
<path fill=#fd0 d=M1110,2262l-19,-7,17,5,19,-5z />
<path fill=#f30 d=M1110,2450l-19,-2,17,-10,19,-4z />
<path fill=#f80 d=M1110,2726l-19,-28,17,-5,19,21z />
<path fill=#fb0 d=M1111,2276l-19,1,18,-16,18,-2z />
<path fill=#f10 d=M1111,2471l-18,-18,17,-5,19,22z />
<path fill=#fc0 d=M1112,2767l-19,-14,17,-31,19,11z />
<path fill=#f80 d=M1113,2281l-19,0,17,-6,19,1z />
<path fill=#f20 d=M1113,2505l-19,-31,17,-6,19,24z />
<path fill=#f80 d=M1113,2766l-19,-22,17,21,19,20z />
<path fill=#f80 d=M1114,2321l-18,-27,17,-16,19,19z />
<path fill=#f30 d=M1115,2527l-19,-16,17,-10,19,21z />
<path fill=#fd0 d=M1115,2824l-19,-25,17,-36,19,15z />
<path fill=#f80 d=M1116,2325l-19,1,17,-7,19,-1z />
<path fill=#f00 d=M1116,2513l-19,22,17,-8,19,-29z />
<path fill=#f60 d=M1118,2345l-19,-8,17,-14,19,3z />
<path fill=#b00 d=M1118,2535l-19,-10,17,-13,19,11z />
<path stroke=#600 stroke-width=8 d=M1118,2534l15,-11 />
<path fill=#cf3 d=M1119,2197l-19,-14,17,-42,19,9z />
<path fill=#f70 d=M1119,2389l-19,-44,17,-3,19,41z />
<path fill=#b00 d=M1119,2558l-19,-13,17,-13,19,14z />
<path fill=#fe0 d=M1120,2189l-18,-17,17,22,19,14z />
<path fill=#f60 d=M1121,2375l-19,21,17,-8,19,-29z />
<path fill=#c00 d=M1121,2593l-19,-26,17,-12,19,21z />
<path fill=#cf3 d=M1122,2239l-19,0,17,-53,19,9z />
<path fill=#f40 d=M1122,2408l-19,-20,17,-14,19,18z />
<path fill=#f30 d=M1122,2657l-19,-51,18,-19,18,48z />
<path fill=#fd0 d=M1124,2236l-19,-22,17,23,19,7z />
<path fill=#f40 d=M1124,2424l-19,-5,17,-14,19,5z />
<path fill=#f60 d=M1124,2681l-19,-24,17,-5,19,18z />
<path fill=#fe0 d=M1125,2257l-19,5,17,-28,19,0z />
<path fill=#f30 d=M1125,2435l-19,4,18,-17,18,11z />
<path fill=#f80 d=M1125,2715l-18,-20,17,-18,19,19z />
<path fill=#fa0 d=M1127,2260l-19,2,17,-7,19,-3z />
<path fill=#f20 d=M1127,2471l-19,-22,17,-17,19,26z />
<path fill=#f90 d=M1127,2735l-19,-11,17,-12,19,12z />
<path fill=#f90 d=M1128,2277l-19,-1,17,-17,19,7z />
<path fill=#f20 d=M1128,2493l-19,-24,18,-1,18,11z />
<path fill=#fd0 d=M1128,2785l-18,-20,17,-34,19,27z />
<path fill=#f70 d=M1130,2298l-19,-18,17,-5,19,11z />
<path fill=#f40 d=M1130,2523l-19,-21,17,-13,19,28z />
<path fill=#f90 d=M1130,2779l-19,-15,17,19,19,22z />
<path fill=#f80 d=M1131,2319l-19,1,18,-25,18,18z />
<path fill=#f00 d=M1131,2499l-18,28,17,-5,19,-26z />
<path fill=#f50 d=M1133,2327l-19,-2,17,-7,19,1z />
<path fill=#b00 d=M1133,2524l-19,-10,17,-15,19,13z />
<path stroke=#600 stroke-width=8 d=M1133,2523l15,-11 />
<path fill=#f80 d=M1134,2384l-18,-41,17,-20,19,49z />
<path fill=#b00 d=M1135,2547l-19,-13,17,-12,19,14z />
<path fill=#cf3 d=M1136,2210l-19,-15,17,-46,19,15z />
<path fill=#f60 d=M1136,2360l-19,29,17,-7,19,-30z />
<path fill=#c00 d=M1136,2577l-19,-21,17,-12,19,19z />
<path fill=#fd0 d=M1137,2197l-19,-9,18,19,18,4z />
<path fill=#f30 d=M1137,2394l-18,-19,17,-15,19,14z />
<path fill=#f10 d=M1138,2637l-19,-48,17,-17,19,56z />
<path fill=#df2 d=M1139,2245l-19,-7,17,-44,19,17z />
<path fill=#f40 d=M1139,2411l-19,-5,17,-15,19,7z />
<path fill=#f60 d=M1139,2672l-19,-18,17,-22,19,11z />
<path fill=#fd0 d=M1140,2235l-18,0,17,8,19,-1z />
<path fill=#f30 d=M1141,2434l-19,-11,17,-14,19,11z />
<path fill=#f80 d=M1141,2698l-19,-20,17,-10,19,29z />
<path fill=#fb0 d=M1142,2253l-19,4,17,-22,19,1z />
<path fill=#f20 d=M1142,2459l-19,-25,17,-2,19,4z />
<path fill=#f90 d=M1142,2726l-19,-13,18,-19,18,28z />
<path fill=#f90 d=M1144,2267l-19,-7,17,-8,19,3z />
<path fill=#f30 d=M1144,2480l-19,-11,17,-13,19,10z />
<path fill=#fa0 d=M1144,2760l-19,-27,17,-11,19,22z />
<path fill=#f80 d=M1145,2287l-19,-11,17,-11,19,8z />
<path fill=#f50 d=M1145,2518l-19,-28,17,-14,19,40z />
<path fill=#fe0 d=M1145,2806l-19,-23,18,-27,18,14z />
<path fill=#f80 d=M1147,2314l-19,-18,17,-12,19,27z />
<path fill=#f10 d=M1147,2497l-19,26,17,-6,19,-34z />
<path fill=#f60 d=M1148,2321l-19,-2,17,-7,19,-12z />
<path fill=#b00 d=M1148,2514l-19,-14,18,-3,18,5z />
<path stroke=#600 stroke-width=8 d=M1148,2512l15,-10 />
<path fill=#f70 d=M1150,2374l-19,-49,17,-8,19,29z />
<path fill=#b00 d=M1150,2537l-19,-14,17,-12,19,15z />
<path fill=#f70 d=M1151,2353l-19,31,17,-13,19,-28z />
<path fill=#c00 d=M1151,2564l-19,-19,18,-11,19,24z />
<path fill=#df2 d=M1153,2213l-19,-5,17,-45,19,9z />
<path fill=#f20 d=M1153,2375l-19,-13,17,-9,19,4z />
<path fill=#f10 d=M1153,2630l-19,-57,17,-14,19,54z />
<path fill=#fd0 d=M1154,2212l-19,-16,17,14,19,11z />
<path fill=#f30 d=M1154,2400l-19,-7,18,-20,18,-2z />
<path fill=#f40 d=M1154,2645l-18,-11,17,-9,19,7z />
<path fill=#ff0 d=M1156,2243l-19,1,17,-34,19,10z />
<path fill=#f30 d=M1156,2421l-19,-11,17,-13,19,18z />
<path fill=#f80 d=M1156,2699l-19,-29,17,-29,19,30z />
<path fill=#fa0 d=M1157,2237l-19,-1,18,6,18,-12z />
<path fill=#f20 d=M1157,2438l-18,-4,17,-15,19,0z />
<path fill=#f90 d=M1158,2723l-19,-28,17,-1,19,25z />
<path fill=#f90 d=M1159,2256l-19,-3,17,-17,19,9z />
<path fill=#f30 d=M1159,2468l-19,-10,17,-24,19,22z />
<path fill=#fa0 d=M1159,2744l-19,-21,17,-4,19,30z />
<path fill=#f70 d=M1160,2274l-19,-7,18,-12,18,0z />
<path fill=#f50 d=M1160,2517l-18,-40,17,-14,19,46z />
<path fill=#fb0 d=M1161,2773l-19,-15,17,-17,19,24z />
<path fill=#f80 d=M1162,2313l-19,-28,17,-14,19,19z />
<path fill=#f20 d=M1162,2484l-19,34,17,-1,19,-48z />
<path fill=#f60 d=M1163,2301l-18,13,17,-3,19,-26z />
<path fill=#c00 d=M1164,2503l-19,-5,17,-14,19,7z />
<path stroke=#600 stroke-width=8 d=M1163,2502l16,-11 />
<path fill=#f60 d=M1165,2348l-19,-29,17,-20,19,29z />
<path fill=#b00 d=M1165,2527l-19,-15,17,-12,19,15z />
<path fill=#f70 d=M1167,2344l-19,28,17,-27,19,-11z />
<path fill=#c00 d=M1167,2560l-19,-24,17,-12,19,14z />
<path fill=#f20 d=M1168,2358l-19,-3,17,-11,19,-1z />
<path fill=#f10 d=M1168,2614l-19,-54,17,-6,19,58z />
<path fill=#ef1 d=M1169,2223l-18,-11,17,-41,19,20z />
<path fill=#f10 d=M1170,2373l-19,2,17,-19,19,7z />
<path fill=#f40 d=M1170,2634l-19,-8,17,-16,19,14z />
<path fill=#fd0 d=M1171,2222l-19,-11,17,9,19,-1z />
<path fill=#f30 d=M1171,2416l-19,-17,17,-30,19,30z />
<path fill=#f60 d=M1171,2672l-19,-30,18,-12,18,44z />
<path fill=#fc0 d=M1173,2231l-19,12,17,-22,19,-4z />
<path fill=#f10 d=M1173,2420l-19,0,17,-6,19,2z />
<path fill=#fa0 d=M1173,2721l-19,-25,17,-28,19,27z />
<path fill=#f80 d=M1174,2247l-19,-10,17,-7,19,-1z />
<path fill=#f20 d=M1174,2458l-19,-22,18,-18,18,23z />
<path fill=#fc0 d=M1174,2749l-18,-29,17,-3,19,11z />
<path fill=#f70 d=M1176,2257l-19,-1,17,-11,19,1z />
<path fill=#f50 d=M1176,2510l-19,-45,17,-12,19,40z />
<path fill=#fc0 d=M1176,2765l-19,-24,17,5,19,37z />
<path fill=#f70 d=M1177,2292l-19,-19,17,-19,19,20z />
<path fill=#f20 d=M1177,2470l-19,47,18,-8,18,-46z />
<path fill=#f60 d=M1179,2287l-19,26,17,-23,19,-12z />
<path fill=#c00 d=M1179,2492l-19,-7,17,-14,19,9z />
<path stroke=#600 stroke-width=8 d=M1179,2491l15,-11 />
<path fill=#f50 d=M1180,2330l-19,-29,18,-16,18,18z />
<path fill=#b00 d=M1180,2517l-18,-15,17,-12,19,13z />
<path fill=#f60 d=M1182,2335l-19,11,17,-20,19,7z />
<path fill=#c00 d=M1182,2540l-19,-15,17,-12,19,28z />
<path fill=#f20 d=M1183,2344l-18,1,17,-10,19,1z />
<path fill=#f20 d=M1184,2614l-19,-58,17,-21,19,41z />
<path fill=#f00 d=M1185,2365l-19,-7,17,-15,19,2z />
<path fill=#f50 d=M1185,2624l-19,-14,17,-2,19,33z />
<path fill=#ff0 d=M1186,2220l-19,2,18,-32,18,4z />
<path fill=#f10 d=M1186,2401l-18,-30,17,-10,19,35z />
<path fill=#f70 d=M1187,2675l-19,-44,17,-10,19,35z />
<path fill=#fb0 d=M1188,2218l-19,4,17,-3,19,-9z />
<path fill=#f20 d=M1188,2417l-19,-2,17,-18,19,19z />
<path fill=#f80 d=M1188,2696l-19,-27,17,2,19,15z />
<path fill=#f80 d=M1189,2231l-18,0,17,-14,19,0z />
<path fill=#f10 d=M1190,2443l-19,-24,17,-4,19,7z />
<path fill=#fb0 d=M1190,2730l-19,-11,17,-26,19,19z />
<path fill=#f70 d=M1191,2248l-19,-2,17,-17,19,-3z />
<path fill=#f50 d=M1191,2494l-19,-39,17,-17,19,30z />
<path fill=#ff0 d=M1191,2784l-19,-37,18,-22,18,27z />
<path fill=#f60 d=M1193,2276l-19,-20,17,-11,19,13z />
<path fill=#f30 d=M1193,2464l-19,46,17,-18,19,-28z />
<path fill=#f60 d=M1194,2279l-19,12,17,-18,19,-3z />
<path fill=#c00 d=M1194,2481l-19,-9,17,-6,19,3z />
<path stroke=#600 stroke-width=8 d=M1194,2480l15,-10 />
<path fill=#f30 d=M1196,2305l-19,-18,17,-9,19,1z />
<path fill=#b00 d=M1196,2504l-19,-13,17,-12,19,13z />
<path fill=#f60 d=M1197,2334l-19,-7,17,-27,19,35z />
<path fill=#c00 d=M1197,2543l-19,-28,18,-14,18,17z />
<path fill=#f20 d=M1199,2337l-19,-1,17,-3,19,-5z />
<path fill=#e00 d=M1199,2577l-19,-41,17,2,19,38z />
<path fill=#f00 d=M1200,2346l-19,-2,17,-8,19,8z />
<path fill=#f70 d=M1200,2642l-19,-33,18,-38,18,27z />
<path fill=#f20 d=M1202,2397l-19,-34,17,-20,19,32z />
<path fill=#f70 d=M1202,2656l-19,-35,17,17,19,28z />
<path fill=#fc0 d=M1203,2212l-19,8,17,-26,19,9z />
<path fill=#f30 d=M1203,2417l-19,-19,18,-5,18,18z />
<path fill=#f90 d=M1203,2688l-18,-16,17,-19,19,16z />
<path fill=#f80 d=M1205,2218l-19,0,17,-7,19,-2z />
<path fill=#f10 d=M1205,2423l-19,-7,17,-1,19,4z />
<path fill=#fa0 d=M1205,2713l-19,-19,17,-10,19,23z />
<path fill=#f60 d=M1206,2228l-19,3,18,-14,18,1z />
<path fill=#f30 d=M1206,2470l-18,-30,17,-21,19,32z />
<path fill=#fc0 d=M1207,2754l-19,-26,17,-18,19,22z />
<path fill=#f60 d=M1208,2260l-19,-13,17,-22,19,25z />
<path fill=#f30 d=M1208,2465l-19,29,17,-27,19,-20z />
<path fill=#f50 d=M1209,2271l-19,4,18,-18,18,9z />
<path fill=#c00 d=M1209,2470l-18,-4,17,0,19,-8z />
<path stroke=#600 stroke-width=8 d=M1209,2470l16,-11 />
<path fill=#f20 d=M1211,2281l-19,-1,17,-10,19,0z />
<path fill=#b00 d=M1211,2494l-19,-14,17,-12,19,14z />
<path fill=#f50 d=M1212,2337l-18,-35,17,-26,19,56z />
<path fill=#c00 d=M1213,2519l-19,-17,17,-12,19,28z />
<path fill=#f30 d=M1214,2328l-19,6,17,1,19,-25z />
<path fill=#f10 d=M1214,2577l-19,-37,17,-26,19,37z />
<path fill=#f10 d=M1216,2345l-19,-8,17,-9,19,-3z />
<path fill=#f30 d=M1216,2600l-19,-27,17,-1,19,38z />
<path fill=#f00 d=M1217,2377l-19,-32,17,-3,19,20z />
<path fill=#fa0 d=M1217,2667l-19,-28,17,-44,19,26z />
<path fill=#f40 d=M1219,2412l-19,-18,17,-22,19,26z />
<path fill=#f90 d=M1219,2669l-19,-16,17,10,19,24z />
<path fill=#f90 d=M1220,2210l-19,2,17,-9,19,0z />
<path fill=#f30 d=M1220,2420l-19,-4,17,-6,19,-6z />
<path fill=#fa0 d=M1220,2709l-19,-23,18,-19,18,19z />
<path fill=#f60 d=M1222,2219l-19,0,17,-10,19,-14z />
<path fill=#f20 d=M1222,2453l-19,-32,17,-4,19,16z />
<path fill=#fb0 d=M1222,2734l-19,-23,17,-6,19,17z />
<path fill=#f50 d=M1223,2252l-19,-25,17,-10,19,17z />
<path fill=#f20 d=M1223,2448l-19,21,18,-19,18,0z />
<path fill=#f60 d=M1225,2268l-19,-9,17,-10,19,7z />
<path fill=#d00 d=M1225,2459l-19,8,17,-19,19,-1z />
<path stroke=#600 stroke-width=8 d=M1225,2459l15,-11 />
<path fill=#f30 d=M1226,2271l-19,0,17,-5,19,2z />
<path fill=#b00 d=M1226,2483l-19,-14,18,-12,18,14z />
<path fill=#f50 d=M1228,2333l-19,-55,17,-11,19,53z />
<path fill=#c00 d=M1228,2519l-19,-27,17,-12,19,23z />
<path fill=#f40 d=M1229,2311l-19,25,18,-5,18,-42z />
<path fill=#e00 d=M1229,2552l-18,-37,17,-1,19,53z />
<path fill=#f00 d=M1231,2326l-19,3,17,-18,19,-2z />
<path fill=#f50 d=M1231,2611l-19,-37,17,-27,19,28z />
<path fill=#f10 d=M1232,2363l-18,-20,17,-20,19,34z />
<path fill=#f60 d=M1233,2622l-19,-25,17,9,19,42z />
<path fill=#f30 d=M1234,2400l-19,-26,17,-15,19,28z />
<path fill=#fc0 d=M1234,2689l-19,-24,17,-47,19,20z />
<path fill=#f30 d=M1235,2405l-18,6,17,-14,19,5z />
<path fill=#fa0 d=M1236,2687l-19,-19,17,17,19,13z />
<path fill=#f50 d=M1237,2197l-19,13,17,-6,19,-18z />
<path fill=#f20 d=M1237,2434l-19,-15,17,-16,19,19z />
<path fill=#fc0 d=M1237,2724l-19,-18,17,-22,19,22z />
<path fill=#f50 d=M1238,2235l-18,-17,17,-24,19,32z />
<path fill=#f20 d=M1239,2451l-19,1,17,-21,19,-3z />
<path fill=#f60 d=M1240,2257l-19,-7,17,-18,19,9z />
<path fill=#d00 d=M1240,2448l-19,1,17,2,19,-15z />
<path stroke=#600 stroke-width=8 d=M1240,2448l15,-11 />
<path fill=#f40 d=M1241,2269l-18,-2,17,-12,19,12z />
<path fill=#b00 d=M1242,2472l-19,-13,17,-12,19,13z />
<path fill=#f50 d=M1243,2321l-19,-53,17,-2,19,42z />
<path fill=#c00 d=M1243,2504l-19,-24,17,-12,19,41z />
<path fill=#f40 d=M1245,2291l-19,41,17,-12,19,-43z />
<path fill=#f20 d=M1245,2567l-19,-52,17,-16,19,48z />
<path fill=#e00 d=M1246,2310l-19,3,17,-22,19,11z />
<path fill=#f30 d=M1246,2576l-19,-28,18,15,18,20z />
<path fill=#f10 d=M1248,2359l-19,-35,17,-17,19,46z />
<path fill=#f90 d=M1248,2650l-19,-42,17,-37,19,26z />
<path fill=#f30 d=M1249,2388l-19,-27,17,-6,19,12z />
<path fill=#f70 d=M1249,2639l-19,-19,18,25,18,15z />
<path fill=#f30 d=M1251,2403l-19,-5,17,-13,19,5z />
<path fill=#fd0 d=M1251,2700l-19,-13,17,-52,19,27z />
<path fill=#f20 d=M1252,2423l-19,-19,18,-3,18,16z />
<path fill=#fb0 d=M1252,2707l-18,-23,17,12,19,27z />
<path fill=#f40 d=M1254,2227l-19,-31,17,-10,19,22z />
<path fill=#f00 d=M1254,2430l-19,4,17,-13,19,-16z />
<path fill=#f50 d=M1255,2243l-19,-9,18,-10,18,-1z />
<path fill=#d00 d=M1255,2438l-18,14,17,-23,19,-3z />
<path stroke=#600 stroke-width=8 d=M1255,2437l16,-10 />
<path fill=#f50 d=M1257,2268l-19,-12,17,-17,19,29z />
<path fill=#b00 d=M1257,2461l-19,-13,17,-12,19,13z />
<path fill=#f60 d=M1258,2309l-19,-42,18,-2,18,34z />
<path fill=#e00 d=M1258,2510l-18,-41,17,-12,19,45z />
<path fill=#f40 d=M1260,2279l-19,42,17,-13,19,-41z />
<path fill=#f10 d=M1260,2548l-19,-48,17,5,19,34z />
<path fill=#e00 d=M1261,2303l-18,-11,17,-13,19,14z />
<path fill=#f60 d=M1262,2583l-19,-20,17,-20,19,31z />
<path fill=#f10 d=M1263,2355l-19,-47,17,-9,19,38z />
<path fill=#f50 d=M1263,2599l-19,-26,17,7,19,35z />
<path fill=#f20 d=M1265,2368l-19,-12,17,-5,19,3z />
<path fill=#fc0 d=M1265,2661l-19,-14,17,-53,19,20z />
<path fill=#f30 d=M1266,2391l-19,-5,17,-21,19,21z />
<path fill=#f90 d=M1266,2663l-19,-26,17,20,19,25z />
<path fill=#f30 d=M1268,2418l-19,-16,17,-13,19,20z />
<path fill=#fe0 d=M1268,2725l-19,-27,17,-38,19,7z />
<path fill=#e00 d=M1269,2406l-19,17,17,-6,19,-26z />
<path fill=#f40 d=M1271,2224l-19,2,17,-20,19,5z />
<path fill=#c00 d=M1271,2427l-19,4,17,-26,19,10z />
<path stroke=#600 stroke-width=8 d=M1271,2427l15,-11 />
<path fill=#f60 d=M1272,2269l-19,-28,17,-20,19,39z />
<path fill=#b00 d=M1272,2451l-19,-14,18,-12,18,14z />
<path fill=#f70 d=M1274,2300l-19,-34,17,-1,19,16z />
<path fill=#e00 d=M1274,2503l-19,-45,17,-12,19,55z />
<path fill=#f40 d=M1275,2268l-19,41,17,-10,19,-32z />
<path fill=#f30 d=M1275,2540l-19,-34,18,-8,18,19z />
<path fill=#e00 d=M1277,2294l-19,-14,17,-11,19,25z />
<path fill=#f60 d=M1277,2575l-19,-31,17,-9,19,48z />
<path fill=#f00 d=M1278,2338l-19,-38,18,-10,18,31z />
<path fill=#f80 d=M1278,2615l-18,-34,17,-10,19,18z />
<path fill=#f30 d=M1280,2355l-19,-3,17,-18,19,1z />
<path fill=#f70 d=M1280,2616l-19,-20,17,16,19,16z />
<path fill=#f30 d=M1281,2387l-19,-20,18,-15,19,27z />
<path fill=#fd0 d=M1282,2683l-19,-24,17,-47,19,33z />
<path fill=#f30 d=M1283,2410l-19,-20,17,-6,19,19z />
<path fill=#fa0 d=M1283,2669l-19,-8,17,19,19,14z />
<path fill=#f00 d=M1284,2392l-18,26,17,-8,19,-30z />
<path fill=#b00 d=M1286,2417l-19,-10,17,-15,19,13z />
<path stroke=#600 stroke-width=8 d=M1286,2416l15,-11 />
<path fill=#f50 d=M1287,2262l-18,-40,17,-14,19,44z />
<path fill=#b00 d=M1288,2440l-19,-13,17,-12,19,14z />
<path fill=#f70 d=M1289,2282l-19,-16,17,-8,19,4z />
<path fill=#f00 d=M1289,2502l-19,-55,17,-12,19,59z />
<path fill=#f50 d=M1290,2268l-18,32,17,-19,19,-16z />
<path fill=#f20 d=M1291,2519l-19,-19,17,-2,19,5z />
<path fill=#f00 d=M1292,2295l-19,-26,17,-1,19,9z />
<path fill=#f70 d=M1292,2584l-19,-48,17,-23,19,45z />
<path fill=#f00 d=M1294,2322l-19,-30,17,0,19,10z />
<path fill=#f80 d=M1294,2590l-19,-18,17,8,19,15z />
<path fill=#f10 d=M1295,2337l-19,-1,17,-17,19,-3z />
<path fill=#fa0 d=M1295,2629l-19,-16,18,-26,18,18z />
<path fill=#f30 d=M1297,2381l-19,-28,17,-20,19,37z />
<path fill=#f90 d=M1297,2647l-19,-33,17,12,19,22z />
<path fill=#f40 d=M1298,2404l-19,-19,17,-8,19,5z />
<path fill=#fe0 d=M1298,2695l-19,-14,18,-38,18,6z />
<path fill=#f00 d=M1300,2381l-19,30,17,-8,19,-23z />
<path fill=#b00 d=M1301,2407l-19,-14,18,-12,18,14z />
<path stroke=#600 stroke-width=8 d=M1301,2405l16,-11 />
<path fill=#b00 d=M1303,2430l-19,-14,17,-12,19,13z />
<path fill=#f70 d=M1304,2264l-19,-4,18,-10,18,-2z />
<path fill=#f00 d=M1304,2495l-18,-59,17,-11,19,60z />
<path fill=#f50 d=M1306,2267l-19,15,17,-20,19,-8z />
<path fill=#f30 d=M1306,2504l-19,-5,17,-8,19,-5z />
<path fill=#f00 d=M1307,2279l-19,-10,18,-3,18,-4z />
<path fill=#f50 d=M1307,2559l-18,-44,17,-15,19,62z />
<path fill=#f00 d=M1309,2303l-19,-9,17,-18,19,9z />
<path fill=#fa0 d=M1309,2596l-19,-15,17,-26,19,4z />
<path fill=#f00 d=M1310,2318l-18,3,17,-20,19,3z />
<path fill=#f90 d=M1311,2606l-19,-18,17,5,19,22z />
<path fill=#f20 d=M1312,2372l-19,-37,17,-21,19,38z />
<path fill=#fb0 d=M1312,2649l-19,-22,17,-24,19,18z />
<path fill=#f40 d=M1314,2384l-19,-5,17,-11,19,6z />
<path fill=#fa0 d=M1314,2651l-19,-7,17,2,19,19z />
<path fill=#f10 d=M1315,2381l-19,23,17,-21,19,-4z />
<path fill=#b00 d=M1317,2396l-19,-14,17,-1,19,3z />
<path stroke=#600 stroke-width=8 d=M1317,2394l15,-10 />
<path fill=#b00 d=M1318,2418l-19,-13,17,-12,19,18z />
<path fill=#f00 d=M1320,2487l-19,-60,17,-13,19,39z />
<path fill=#f40 d=M1321,2256l-19,8,17,-16,19,-2z />
<path fill=#f30 d=M1321,2487l-19,4,18,-10,18,15z />
<path fill=#f10 d=M1323,2263l-19,4,17,-12,19,-2z />
<path fill=#f60 d=M1323,2563l-19,-62,17,-18,19,53z />
<path fill=#f00 d=M1324,2287l-19,-9,17,-17,19,20z />
<path fill=#f80 d=M1324,2560l-19,-4,18,3,18,10z />
<path fill=#e00 d=M1326,2305l-19,-3,17,-18,19,14z />
<path fill=#fb0 d=M1326,2616l-19,-22,17,-37,19,21z />
<path fill=#f10 d=M1327,2353l-19,-37,18,-15,18,54z />
<path fill=#fa0 d=M1327,2622l-18,-18,17,9,19,20z />
<path fill=#f30 d=M1329,2376l-19,-6,17,-20,19,-5z />
<path fill=#fc0 d=M1329,2666l-19,-19,17,-28,19,19z />
<path fill=#f10 d=M1330,2380l-19,4,18,-10,18,-4z />
<path fill=#c00 d=M1332,2384l-19,-2,17,-2,19,-8z />
<path stroke=#600 stroke-width=8 d=M1332,2384l15,-11 />
<path fill=#b00 d=M1333,2413l-18,-19,17,-12,19,14z />
<path fill=#e00 d=M1335,2455l-19,-40,17,-7,19,43z />
<path fill=#f40 d=M1337,2498l-19,-15,17,-33,19,20z />
<path fill=#f10 d=M1338,2254l-19,2,17,-10,19,0z />
<path fill=#f50 d=M1338,2537l-19,-53,17,10,19,37z />
<path fill=#f00 d=M1339,2282l-18,-20,17,-10,19,23z />
<path fill=#fa0 d=M1340,2570l-19,-10,17,-28,19,14z />
<path fill=#e00 d=M1341,2299l-19,-14,17,-6,19,14z />
<path fill=#f80 d=M1341,2579l-19,-21,17,9,19,43z />
<path fill=#f20 d=M1343,2356l-19,-54,17,-7,19,45z />
<path fill=#fc0 d=M1343,2634l-19,-20,17,-38,19,19z />
<path fill=#f20 d=M1344,2346l-19,5,17,2,19,-20z />
<path fill=#fb0 d=M1344,2639l-19,-19,18,11,18,15z />
<path fill=#f10 d=M1346,2372l-19,4,17,-31,19,3z />
<path fill=#d00 d=M1347,2373l-19,8,17,-10,19,-10z />
<path stroke=#600 stroke-width=8 d=M1347,2373l15,-11 />
<path fill=#b00 d=M1349,2397l-19,-13,17,-12,19,13z />
<path fill=#e00 d=M1350,2452l-19,-42,18,-17,18,38z />
<path fill=#f20 d=M1352,2472l-19,-21,17,-4,19,44z />
<path fill=#f60 d=M1353,2533l-18,-38,17,-27,19,28z />
<path fill=#f00 d=M1355,2276l-19,-23,17,-8,19,26z />
<path fill=#f80 d=M1355,2547l-19,-14,17,-6,19,29z />
<path fill=#f00 d=M1356,2293l-19,-13,18,-7,18,16z />
<path fill=#fc0 d=M1356,2611l-18,-43,17,-25,19,29z />
<path fill=#f20 d=M1358,2342l-19,-46,17,-6,19,30z />
<path fill=#fa0 d=M1358,2594l-19,-19,17,31,19,62z />
<path fill=#f30 d=M1359,2334l-18,20,17,-15,19,-14z />
<path fill=#fd0 d=M1360,2648l-19,-16,17,-39,19,18z />
<path fill=#e00 d=M1361,2350l-19,-3,17,-13,19,10z />
<path fill=#d00 d=M1363,2363l-19,9,17,-24,19,3z />
<path stroke=#600 stroke-width=8 d=M1362,2362l16,-10 />
<path fill=#b00 d=M1364,2386l-19,-13,17,-12,19,15z />
<path fill=#d00 d=M1366,2432l-19,-38,17,-12,19,48z />
<path fill=#f50 d=M1367,2492l-19,-44,17,-22,19,47z />
<path fill=#f40 d=M1369,2497l-19,-28,17,19,19,10z />
<path fill=#fa0 d=M1370,2558l-19,-29,17,-37,19,29z />
<path fill=#f10 d=M1372,2289l-19,-15,17,-5,19,10z />
<path fill=#fa0 d=M1372,2574l-19,-30,17,9,19,32z />
<path fill=#f20 d=M1373,2321l-19,-30,17,-4,19,21z />
<path fill=#cf3 d=M1373,2668l-19,-61,18,-38,18,11z />
<path fill=#f20 d=M1375,2326l-19,14,17,-22,19,6z />
<path fill=#fc0 d=M1375,2608l-19,-18,17,73,19,65z />
<path fill=#e00 d=M1376,2345l-19,-10,18,-10,18,9z />
<path fill=#c00 d=M1378,2352l-19,-3,17,-6,19,-3z />
<path stroke=#600 stroke-width=8 d=M1378,2352l15,-11 />
<path fill=#b00 d=M1379,2377l-19,-15,18,-12,18,20z />
<path fill=#e00 d=M1381,2431l-19,-48,17,-10,19,41z />
<path fill=#f40 d=M1382,2474l-18,-47,17,-2,19,44z />
<path fill=#f70 d=M1384,2499l-19,-10,17,-19,19,10z />
<path fill=#f60 d=M1386,2522l-19,-28,17,1,19,46z />
<path fill=#fc0 d=M1387,2587l-19,-32,17,-37,19,21z />
<path fill=#f20 d=M1388,2309l-18,-21,17,-10,19,13z />
<path fill=#fb0 d=M1389,2582l-19,-11,17,12,19,15z />
<path fill=#f20 d=M1390,2325l-19,-6,17,-13,19,14z />
<path fill=#4fb d=M1390,2728l-19,-64,17,-89,19,23z />
<path fill=#f00 d=M1392,2334l-19,-8,17,-3,19,8z />
<path fill=#d00 d=M1393,2341l-19,3,17,-11,19,-4z />
<path stroke=#600 stroke-width=8 d=M1393,2341l15,-11 />
<path fill=#c00 d=M1395,2372l-19,-21,17,-12,19,22z />
<path fill=#e00 d=M1396,2415l-19,-41,17,-7,19,43z />
<path fill=#f40 d=M1398,2470l-19,-43,17,-17,19,23z />
<path fill=#f60 d=M1399,2480l-19,-9,18,-6,18,24z />
<path fill=#f90 d=M1401,2542l-19,-46,17,-19,19,25z />
<path fill=#f90 d=M1402,2540l-18,-21,17,19,19,20z />
<path fill=#fe0 d=M1404,2600l-19,-16,17,-47,19,15z />
<path fill=#f30 d=M1405,2321l-19,-14,18,-18,18,28z />
<path fill=#fc0 d=M1405,2603l-18,-23,17,17,19,19z />
<path fill=#f10 d=M1407,2332l-19,-8,17,-5,19,11z />
<path fill=#d00 d=M1408,2330l-18,5,17,-4,19,-13z />
<path stroke=#600 stroke-width=8 d=M1408,2330l16,-11 />
<path fill=#c00 d=M1410,2363l-19,-23,17,-12,19,26z />
<path fill=#f00 d=M1412,2412l-19,-44,17,-10,19,33z />
<path fill=#f20 d=M1413,2435l-19,-23,17,-5,19,22z />
<path fill=#f80 d=M1415,2491l-19,-24,17,-37,19,26z />
<path fill=#f70 d=M1416,2504l-19,-26,17,9,19,18z />
<path fill=#fd0 d=M1418,2559l-19,-20,17,-40,19,30z />
<path fill=#f90 d=M1419,2554l-19,-16,17,18,19,14z />
<path fill=#ff0 d=M1421,2617l-19,-19,17,-48,19,20z />
<path fill=#f30 d=M1422,2330l-19,-10,17,-5,19,0z />
<path fill=#e00 d=M1424,2319l-19,13,17,-2,19,-23z />
<path stroke=#600 stroke-width=8 d=M1424,2319l15,-10 />
<path fill=#c00 d=M1425,2355l-19,-26,18,-12,18,24z />
<path fill=#e00 d=M1427,2392l-19,-33,17,-9,19,37z />
<path fill=#f30 d=M1428,2431l-19,-23,18,-20,18,20z />
<path fill=#f40 d=M1430,2458l-19,-26,17,-5,19,22z />
<path fill=#f90 d=M1431,2507l-18,-18,17,-35,19,22z />
<path fill=#fa0 d=M1433,2531l-19,-30,17,1,19,38z />
<path fill=#fe0 d=M1435,2570l-19,-14,17,-30,19,44z />
<path fill=#fa0 d=M1436,2572l-19,-20,17,16,19,25z />
<path fill=#e00 d=M1439,2308l-19,23,17,-15,19,-20z />
<path stroke=#600 stroke-width=8 d=M1439,2309l15,-11 />
<path fill=#c00 d=M1441,2342l-19,-23,17,-12,19,32z />
<path fill=#f00 d=M1442,2388l-19,-37,17,-13,19,44z />
<path fill=#f20 d=M1444,2409l-19,-20,17,-5,19,25z />
<path fill=#f50 d=M1445,2450l-19,-22,17,-23,19,26z />
<path fill=#f60 d=M1447,2478l-19,-23,17,-9,19,40z />
<path fill=#fb0 d=M1448,2542l-19,-38,18,-30,18,15z />
<path fill=#fe0 d=M1450,2570l-19,-43,17,9,19,34z />
<path fill=#ff0 d=M1451,2591l-18,-24,17,0,19,40z />
<path fill=#d00 d=M1456,2340l-19,-32,17,-13,19,38z />
<path fill=#f10 d=M1457,2382l-18,-44,17,-3,19,44z />
<path fill=#f30 d=M1459,2409l-19,-25,17,-6,19,14z />
<path fill=#f30 d=M1460,2432l-18,-26,17,0,19,17z />
<path fill=#f80 d=M1462,2487l-19,-40,17,-20,19,39z />
<path fill=#f70 d=M1464,2491l-19,-15,17,8,19,10z />
<path fill=#ff0 d=M1465,2573l-19,-34,17,-53,19,23z />
<path fill=#bf4 d=M1467,2607l-19,-41,17,0,19,42z />
<path fill=#f20 d=M1473,2380l-19,-44,17,-7,19,32z />
<path fill=#f40 d=M1474,2392l-19,-13,18,-3,18,26z />
<path fill=#f40 d=M1476,2425l-19,-17,17,-18,19,10z />
<path fill=#f70 d=M1477,2467l-19,-38,18,-9,18,46z />
<path fill=#fa0 d=M1479,2494l-19,-10,17,-21,19,36z />
<path fill=#f80 d=M1480,2512l-18,-23,17,3,19,20z />
<path fill=#bf4 d=M1482,2612l-19,-42,17,-64,19,19z />
<path fill=#f60 d=M1490,2403l-19,-26,17,-19,19,22z />
<path fill=#f40 d=M1491,2401l-19,-10,17,10,19,10z />
<path fill=#f70 d=M1493,2468l-19,-46,17,-24,19,31z />
<path fill=#fb0 d=M1494,2500l-19,-36,17,-2,19,17z />
<path fill=#fb0 d=M1496,2511l-19,-20,17,4,19,63z />
<path fill=#fa0 d=M1497,2529l-19,-19,18,0,18,17z />
<path fill=#f70 d=M1506,2412l-18,-11,17,-23,19,15z />
<path fill=#f50 d=M1508,2430l-19,-32,17,11,19,42z />
<path fill=#fa0 d=M1509,2481l-18,-16,17,-39,19,26z />
<path fill=#ef1 d=M1511,2559l-19,-63,17,-21,19,22z />
<path fill=#fd0 d=M1513,2524l-19,-17,17,47,19,59z />
<path fill=#f90 d=M1523,2451l-19,-42,18,-19,18,32z />
<path fill=#f80 d=M1525,2453l-19,-26,17,21,19,11z />
<path fill=#fb0 d=M1526,2502l-19,-23,18,-29,18,7z />
<path fill=#6f9 d=M1528,2614l-19,-60,17,-61,19,15z />
<path fill=#fb0 d=M1540,2459l-19,-11,17,-29,19,25z />
<path fill=#f80 d=M1542,2458l-19,-7,17,6,19,24z />
<path fill=#fc0 d=M1543,2515l-19,-15,17,-45,19,18z />
<path fill=#fc0 d=M1557,2481l-19,-23,17,-16,19,13z />
<path fill=#f80 d=M1558,2474l-18,-17,17,22,19,15z />
<path fill=#fd0 d=M1574,2494l-19,-15,17,-26,19,22z />
</g>
<path d="M27.4 269.0L93.1 315.8L158.9 269.7M27.4 269.0L27.4 238.7" fill="none" stroke="#1a1a1a" stroke-width="1.1"/>
<text x="88.4" y="324.7" font-size="7" text-anchor="middle" class="s">0</text>
<text x="75.3" y="315.3" font-size="7" text-anchor="middle" class="s">1</text>
<text x="62.1" y="306.0" font-size="7" text-anchor="middle" class="s">2</text>
<text x="49.0" y="296.6" font-size="7" text-anchor="middle" class="s">3</text>
<text x="35.8" y="287.3" font-size="7" text-anchor="middle" class="s">4</text>
<text x="22.7" y="277.9" font-size="7" text-anchor="middle" class="s">5</text>
<text x="102.4" y="321.8" font-size="7" text-anchor="middle" class="s">10</text>
<text x="117.4" y="311.3" font-size="7" text-anchor="middle" class="s">20</text>
<text x="132.4" y="300.8" font-size="7" text-anchor="middle" class="s">30</text>
<text x="147.4" y="290.3" font-size="7" text-anchor="middle" class="s">40</text>
<text x="162.4" y="279.8" font-size="7" text-anchor="middle" class="s">50</text>
<text x="24.4" y="249.0" font-size="6.6" text-anchor="end" class="s">-50</text>
<text x="24.4" y="259.2" font-size="6.6" text-anchor="end" class="s">-100</text>
<text x="24.4" y="269.3" font-size="6.6" text-anchor="end" class="s">-150</text>
<path d="M93.1 315.8l-2 1.4M80.0 306.4l-2 1.4M66.8 297.1l-2 1.4M53.7 287.7l-2 1.4M40.5 278.4l-2 1.4M27.4 269.0l-2 1.4M97.9 312.4l2 1.4M112.9 301.9l2 1.4M127.9 291.4l2 1.4M142.9 280.9l2 1.4M157.9 270.4l2 1.4M27.4 246.8l1.8 1.3M27.4 257.0l1.8 1.3M27.4 267.1l1.8 1.3" stroke="#1a1a1a" stroke-width="0.9"/>
<text x="44.3" y="320.0" font-size="6.65" text-anchor="middle">Frequency (Hz)</text>
<text x="140.0" y="320.0" font-size="6.65" text-anchor="middle">Time (secs)</text>
<defs><linearGradient id="jetd" x1="0" y1="0" x2="0" y2="1"><stop offset="0.000" stop-color="#800000"/><stop offset="0.062" stop-color="#bf0000"/><stop offset="0.125" stop-color="#ff0000"/><stop offset="0.188" stop-color="#ff4000"/><stop offset="0.250" stop-color="#ff8000"/><stop offset="0.312" stop-color="#ffbf00"/><stop offset="0.375" stop-color="#ffff00"/><stop offset="0.438" stop-color="#bfff40"/><stop offset="0.500" stop-color="#80ff80"/><stop offset="0.562" stop-color="#40ffbf"/><stop offset="0.625" stop-color="#00ffff"/><stop offset="0.688" stop-color="#00bfff"/><stop offset="0.750" stop-color="#0080ff"/><stop offset="0.812" stop-color="#0040ff"/><stop offset="0.875" stop-color="#0000ff"/><stop offset="0.938" stop-color="#0000bf"/><stop offset="1.000" stop-color="#000080"/></linearGradient></defs>
<rect x="173" y="192.5" width="11.0" height="123.5" fill="url(#jetd)" stroke="#333" stroke-width="0.8"/>
<text x="185.8" y="210.8" font-size="6.6" class="s">-20</text>
<text x="185.8" y="227.2" font-size="6.6" class="s">-40</text>
<text x="185.8" y="243.6" font-size="6.6" class="s">-60</text>
<text x="185.8" y="260.1" font-size="6.6" class="s">-80</text>
<text x="185.8" y="276.5" font-size="6.6" class="s">-100</text>
<text x="185.8" y="292.9" font-size="6.6" class="s">-120</text>
<text x="185.8" y="309.3" font-size="6.6" class="s">-140</text>
<path d="M184 208.4h-1.8M173 208.4h1.8M184 224.8h-1.8M173 224.8h1.8M184 241.2h-1.8M173 241.2h1.8M184 257.7h-1.8M173 257.7h1.8M184 274.1h-1.8M173 274.1h1.8M184 290.5h-1.8M173 290.5h1.8M184 306.9h-1.8M173 306.9h1.8" stroke="#333" stroke-width="0.8"/>
<text transform="translate(204.8,254) rotate(-90)" style="font-family:"Liberation Sans", sans-serif" font-size="6.1" text-anchor="middle" class="s">Power/frequency (dB/Hz)</text>
<text x="106.4" y="348.3" font-size="12.5" text-anchor="middle">(d)</text>
<path d="M249.5 265.6L249.5 234.4M315.2 312.4L249.5 265.6M264.5 255.1L264.5 223.9M330.2 301.9L264.5 255.1M279.5 244.6L279.5 213.4M345.2 291.4L279.5 244.6M294.5 234.1L294.5 202.9M360.2 280.9L294.5 234.1M309.5 223.6L309.5 192.4M375.2 270.4L309.5 223.6M376.2 269.7L376.2 238.5M310.4 315.8L376.2 269.7M363.1 260.3L363.1 229.1M297.3 306.4L363.1 260.3M349.9 251.0L349.9 219.8M284.1 297.1L349.9 251.0M336.8 241.6L336.8 210.4M271.0 287.7L336.8 241.6M323.6 232.3L323.6 201.1M257.8 278.4L323.6 232.3M310.5 222.9L310.5 191.7M244.7 269.0L310.5 222.9M244.7 237.8L310.5 191.7L376.2 238.5M244.7 243.0L310.5 196.9L376.2 243.7M244.7 248.2L310.5 202.1L376.2 248.9M244.7 253.4L310.5 207.3L376.2 254.1M244.7 258.6L310.5 212.5L376.2 259.3M244.7 263.8L310.5 217.7L376.2 264.5M310.5 222.9L310.5 191.7" fill="none" stroke="#c4c4c4" stroke-width="0.7"/>
<g transform="scale(0.1)">
<path fill=#6f9 d=M2464,2558l-19,-11,17,-36,19,38z />
<path fill=#8f7 d=M2479,2550l-19,-38,18,14,18,22z />
<path fill=#5fa d=M2481,2581l-19,-25,17,-9,19,1z />
<path fill=#4fb d=M2495,2547l-19,-22,17,14,19,1z />
<path fill=#7f8 d=M2496,2549l-19,-1,17,-2,19,6z />
<path fill=#6f9 d=M2498,2575l-19,4,17,-32,19,18z />
<path fill=#2fd d=M2510,2541l-19,0,17,-37,19,4z />
<path fill=#5fa d=M2511,2553l-18,-6,17,-8,19,-19z />
<path fill=#7f8 d=M2513,2566l-19,-18,17,3,19,14z />
<path fill=#6f9 d=M2514,2602l-18,-29,17,-10,19,21z />
<path fill=#6f9 d=M2525,2510l-19,-4,17,-3,19,9z />
<path fill=#6f9 d=M2527,2523l-19,19,17,-34,19,3z />
<path fill=#6f9 d=M2528,2567l-19,-15,18,-32,18,21z />
<path fill=#6f9 d=M2530,2585l-19,-21,17,-1,19,8z />
<path fill=#6f9 d=M2531,2606l-19,-6,18,-17,18,-11z />
<path fill=#4fb d=M2540,2513l-18,-9,17,-3,19,-9z />
<path fill=#8f7 d=M2542,2512l-19,-3,17,3,19,-12z />
<path fill=#8f7 d=M2544,2543l-19,-21,17,-12,19,28z />
<path fill=#6f9 d=M2545,2573l-19,-8,17,-25,19,21z />
<path fill=#8f7 d=M2547,2574l-19,11,17,-14,19,12z />
<path fill=#7f8 d=M2548,2617l-19,-12,17,-33,19,10z />
<path fill=#3fc d=M2556,2493l-19,9,17,-18,19,13z />
<path fill=#6f9 d=M2557,2500l-19,12,18,-20,18,38z />
<path fill=#8f7 d=M2559,2540l-19,-29,17,-12,19,19z />
<path fill=#7f8 d=M2560,2563l-18,-22,17,-5,19,9z />
<path fill=#6f9 d=M2562,2584l-19,-12,17,-12,19,6z />
<path fill=#af5 d=M2563,2583l-18,-10,17,10,19,12z />
<path fill=#9f6 d=M2565,2608l-19,8,17,-35,19,24z />
<path fill=#3fc d=M2571,2499l-19,-13,17,-37,19,24z />
<path fill=#3fc d=M2573,2531l-19,-39,17,3,19,10z />
<path fill=#8f7 d=M2574,2518l-19,-19,17,30,19,14z />
<path fill=#7f8 d=M2576,2546l-19,-9,17,-21,19,33z />
<path fill=#6f9 d=M2577,2567l-19,-6,18,-18,18,35z />
<path fill=#6f9 d=M2579,2594l-19,-12,17,-18,19,32z />
<path fill=#af5 d=M2580,2605l-19,-24,18,11,18,33z />
<path fill=#9f6 d=M2582,2640l-19,-34,17,-3,19,7z />
<path fill=#7f8 d=M2586,2475l-19,-24,18,7,18,-6z />
<path fill=#4fb d=M2588,2507l-19,-9,17,-26,19,2z />
<path fill=#1fe d=M2589,2543l-18,-14,17,-26,19,-2z />
<path fill=#6f9 d=M2591,2550l-19,-34,17,26,19,-21z />
<path fill=#5fa d=M2593,2579l-19,-35,17,3,19,-14z />
<path fill=#5fa d=M2594,2596l-19,-31,17,11,19,-1z />
<path fill=#4fb d=M2596,2624l-19,-32,17,1,19,19z />
<path fill=#9f6 d=M2597,2610l-19,-6,17,20,19,-14z />
<path fill=#9f6 d=M2599,2630l-19,9,17,-31,19,14z />
<path fill=#6f9 d=M2602,2454l-19,5,17,-40,19,40z />
<path fill=#7f8 d=M2603,2476l-19,-2,17,-23,19,23z />
<path fill=#5fa d=M2605,2504l-19,2,17,-33,19,20z />
<path fill=#4fb d=M2606,2522l-19,21,18,-43,18,23z />
<path fill=#7f8 d=M2608,2535l-19,14,17,-28,19,12z />
<path fill=#5fa d=M2609,2577l-18,1,17,-46,19,10z />
<path fill=#4fb d=M2611,2614l-19,-18,17,-22,19,-15z />
<path fill=#5fa d=M2612,2611l-18,13,17,-13,19,-14z />
<path fill=#bf4 d=M2614,2624l-19,-14,17,0,19,2z />
<path fill=#bf4 d=M2616,2646l-19,-16,17,-8,19,-3z />
<path fill=#7f8 d=M2617,2460l-19,-39,17,3,19,13z />
<path fill=#7f8 d=M2619,2475l-19,-23,17,5,19,-6z />
<path fill=#7f8 d=M2620,2494l-19,-20,17,-3,19,40z />
<path fill=#6f9 d=M2622,2526l-19,-23,17,-11,19,3z />
<path fill=#7f8 d=M2623,2534l-19,-12,17,1,19,-3z />
<path fill=#af5 d=M2625,2543l-19,-9,17,-2,19,33z />
<path fill=#9f6 d=M2626,2561l-19,16,17,-36,19,32z />
<path fill=#6f9 d=M2628,2600l-19,14,17,-55,19,14z />
<path fill=#af5 d=M2629,2613l-19,-1,18,-14,18,-17z />
<path fill=#cf3 d=M2631,2620l-19,3,17,-12,19,7z />
<path fill=#6f9 d=M2632,2438l-19,-13,18,-3,18,-2z />
<path fill=#df2 d=M2632,2640l-18,5,17,-27,19,5z />
<path fill=#6f9 d=M2634,2453l-19,6,17,-23,19,4z />
<path fill=#4fb d=M2635,2512l-19,-40,18,-23,18,29z />
<path fill=#7f8 d=M2637,2496l-19,-4,17,18,19,-21z />
<path fill=#7f8 d=M2638,2522l-18,3,17,-31,19,20z />
<path fill=#6f9 d=M2640,2566l-19,-33,17,-14,19,3z />
<path fill=#9f6 d=M2642,2573l-19,-31,17,22,19,-14z />
<path fill=#bf4 d=M2643,2575l-19,-14,17,11,19,6z />
<path fill=#bf4 d=M2645,2583l-19,17,17,-27,19,25z />
<path fill=#bf4 d=M2646,2619l-19,-6,17,-32,19,38z />
<path fill=#6f9 d=M2648,2421l-19,2,17,-17,19,22z />
<path fill=#ef1 d=M2648,2624l-19,-5,17,-2,19,27z />
<path fill=#7f8 d=M2649,2442l-19,-4,17,-19,19,21z />
<path fill=#ff0 d=M2649,2646l-19,-6,18,-18,18,22z />
<path fill=#7f8 d=M2651,2480l-19,-29,17,-13,19,39z />
<path fill=#5fa d=M2652,2491l-19,20,17,-34,19,-12z />
<path fill=#8f7 d=M2654,2516l-19,-21,17,-6,19,22z />
<path fill=#9f6 d=M2655,2523l-19,-2,18,-7,18,15z />
<path fill=#7f8 d=M2657,2552l-19,13,17,-45,19,19z />
<path fill=#8f7 d=M2658,2579l-18,-6,17,-23,19,-7z />
<path fill=#af5 d=M2660,2599l-19,-26,17,3,19,9z />
<path fill=#cf3 d=M2661,2620l-18,-38,17,15,19,-13z />
<path fill=#5fa d=M2663,2428l-19,-21,17,2,19,6z />
<path fill=#bf4 d=M2663,2644l-19,-27,17,0,19,-6z />
<path fill=#7f8 d=M2664,2441l-18,-22,17,7,19,8z />
<path fill=#ff0 d=M2665,2644l-19,-21,17,20,19,-18z />
<path fill=#6f9 d=M2666,2479l-19,-39,17,-2,19,5z />
<path fill=#fd0 d=M2666,2645l-19,0,17,-2,19,10z />
<path fill=#7f8 d=M2668,2466l-19,12,17,-2,19,9z />
<path fill=#7f8 d=M2669,2512l-19,-21,17,-26,19,12z />
<path fill=#7f8 d=M2671,2530l-19,-16,17,-5,19,2z />
<path fill=#af5 d=M2672,2541l-19,-19,17,6,19,10z />
<path fill=#bf4 d=M2674,2545l-19,6,17,-13,19,27z />
<path fill=#af5 d=M2675,2587l-19,-9,17,-35,19,16z />
<path fill=#cf3 d=M2677,2585l-19,13,17,-13,19,-6z />
<path fill=#4fb d=M2678,2416l-19,-6,17,-13,19,0z />
<path fill=#cf3 d=M2678,2613l-19,6,18,-36,18,21z />
<path fill=#5fa d=M2680,2435l-19,-8,17,-13,19,11z />
<path fill=#df2 d=M2680,2626l-19,18,17,-34,19,9z />
<path fill=#7f8 d=M2681,2444l-19,-4,18,-7,18,8z />
<path fill=#ff0 d=M2681,2654l-18,-10,17,-20,19,20z />
<path fill=#4fb d=M2683,2486l-19,-9,17,-36,19,21z />
<path fill=#fc0 d=M2683,2667l-19,-22,17,7,19,-7z />
<path fill=#af5 d=M2684,2478l-19,-12,18,19,18,-7z />
<path fill=#7f8 d=M2686,2513l-19,-2,17,-36,19,28z />
<path fill=#7f8 d=M2687,2538l-18,-10,17,-18,19,24z />
<path fill=#8f7 d=M2689,2565l-19,-26,17,-3,19,-6z />
<path fill=#cf3 d=M2691,2560l-19,-16,17,20,19,-2z />
<path fill=#cf3 d=M2692,2580l-19,6,17,-28,19,13z />
<path fill=#5fa d=M2693,2400l-18,0,17,-39,19,13z />
<path fill=#ef1 d=M2694,2606l-19,-21,17,-6,19,1z />
<path fill=#4fb d=M2695,2426l-19,-11,17,-19,19,23z />
<path fill=#ef1 d=M2695,2621l-19,-9,17,-8,19,2z />
<path fill=#6f9 d=M2697,2442l-19,-8,17,-10,19,11z />
<path fill=#ff0 d=M2697,2646l-19,-20,17,-7,19,-6z />
<path fill=#7f8 d=M2698,2464l-19,-21,17,-3,19,4z />
<path fill=#fd0 d=M2698,2645l-19,8,18,-10,18,2z />
<path fill=#6f9 d=M2700,2479l-19,6,17,-24,19,12z />
<path fill=#fa0 d=M2700,2655l-19,12,17,-23,19,4z />
<path fill=#9f6 d=M2701,2505l-19,-28,17,0,19,7z />
<path fill=#7f8 d=M2703,2536l-19,-24,17,-11,19,2z />
<path fill=#9f6 d=M2704,2532l-19,5,18,-4,18,-3z />
<path fill=#9f6 d=M2706,2563l-19,2,17,-35,19,9z />
<path fill=#df2 d=M2707,2572l-18,-12,17,1,19,-2z />
<path fill=#8f7 d=M2709,2376l-19,-13,17,-9,19,8z />
<path fill=#ff0 d=M2709,2582l-19,-2,17,-10,19,3z />
<path fill=#5fa d=M2710,2421l-19,-22,18,-27,18,19z />
<path fill=#ef1 d=M2710,2608l-18,-3,17,-26,19,27z />
<path fill=#5fa d=M2712,2436l-19,-11,17,-7,19,4z />
<path fill=#fd0 d=M2712,2615l-19,6,17,-15,19,-11z />
<path fill=#7f8 d=M2713,2446l-18,-5,17,-7,19,-2z />
<path fill=#fe0 d=M2714,2647l-19,-2,17,-33,19,19z />
<path fill=#6f9 d=M2715,2474l-19,-12,17,-20,19,46z />
<path fill=#fa0 d=M2715,2649l-19,-4,17,0,19,4z />
<path fill=#9f6 d=M2716,2485l-18,-7,17,-5,19,-3z />
<path fill=#f80 d=M2717,2673l-19,-19,17,-7,19,11z />
<path fill=#9f6 d=M2718,2504l-19,-1,17,-21,19,31z />
<path fill=#8f7 d=M2720,2532l-19,3,17,-33,19,10z />
<path fill=#bf4 d=M2721,2540l-19,-9,17,-1,19,27z />
<path fill=#cf3 d=M2723,2560l-19,2,17,-23,19,15z />
<path fill=#7f8 d=M2724,2361l-19,-7,17,12,19,27z />
<path fill=#ef1 d=M2724,2573l-19,-2,17,-13,19,19z />
<path fill=#8f7 d=M2726,2392l-19,-18,17,-14,19,41z />
<path fill=#ff0 d=M2726,2608l-19,-28,17,-8,19,12z />
<path fill=#5fa d=M2727,2424l-19,-4,17,-31,19,7z />
<path fill=#fd0 d=M2727,2596l-19,11,18,-1,18,-4z />
<path fill=#7f8 d=M2729,2433l-19,3,17,-15,19,0z />
<path fill=#fc0 d=M2729,2633l-19,-19,17,-19,19,24z />
<path fill=#5fa d=M2730,2489l-19,-46,18,-14,18,52z />
<path fill=#fc0 d=M2730,2650l-18,-4,17,-16,19,5z />
<path fill=#8f7 d=M2732,2470l-19,3,17,14,19,-4z />
<path fill=#f90 d=M2732,2658l-19,-10,17,0,19,19z />
<path fill=#8f7 d=M2733,2515l-19,-31,18,-16,18,18z />
<path fill=#f60 d=M2733,2667l-18,5,17,-14,19,-19z />
<path fill=#af5 d=M2735,2513l-19,-10,17,9,19,-9z />
<path fill=#9f6 d=M2736,2559l-18,-28,17,-20,19,-6z />
<path fill=#cf3 d=M2738,2555l-19,-16,17,17,19,-11z />
<path fill=#2fd d=M2739,2394l-18,-28,17,-22,19,12z />
<path fill=#df2 d=M2740,2578l-19,-19,17,-6,19,11z />
<path fill=#6f9 d=M2741,2401l-19,-41,17,32,19,-12z />
<path fill=#ff0 d=M2741,2585l-19,-13,17,4,19,6z />
<path fill=#8f7 d=M2742,2397l-18,-6,17,9,19,-11z />
<path fill=#ff0 d=M2743,2603l-19,4,17,-24,19,-8z />
<path fill=#7f8 d=M2744,2422l-19,1,17,-28,19,20z />
<path fill=#fb0 d=M2744,2620l-19,-24,17,5,19,10z />
<path fill=#5fa d=M2746,2483l-19,-52,17,-12,19,15z />
<path fill=#fb0 d=M2746,2636l-19,-4,17,-14,19,5z />
<path fill=#3fc d=M2747,2483l-19,4,17,-8,19,-24z />
<path fill=#fc0 d=M2747,2668l-19,-20,18,-15,18,19z />
<path fill=#9f6 d=M2749,2487l-19,-18,17,13,19,1z />
<path fill=#f50 d=M2749,2640l-19,18,17,9,19,-23z />
<path fill=#8f7 d=M2750,2504l-19,9,17,-28,19,25z />
<path fill=#f50 d=M2750,2690l-19,-24,18,-28,18,42z />
<path fill=#df2 d=M2752,2507l-19,6,17,-10,19,8z />
<path fill=#af5 d=M2753,2547l-19,11,18,-53,18,10z />
<path fill=#5fa d=M2755,2359l-19,-12,17,-27,19,33z />
<path fill=#cf3 d=M2755,2564l-19,-11,17,-10,19,27z />
<path fill=#3fc d=M2756,2381l-19,12,17,-38,19,-2z />
<path fill=#df2 d=M2756,2582l-19,-5,18,-15,19,10z />
<path fill=#6f9 d=M2758,2390l-19,10,17,-21,19,3z />
<path fill=#fd0 d=M2758,2576l-19,9,17,-4,19,7z />
<path fill=#8f7 d=M2759,2416l-19,-19,18,-9,18,14z />
<path fill=#fd0 d=M2759,2612l-18,-10,17,-28,19,39z />
<path fill=#8f7 d=M2761,2435l-19,-15,17,-7,19,45z />
<path fill=#fb0 d=M2761,2625l-19,-6,17,-9,19,-3z />
<path fill=#5fa d=M2762,2457l-18,24,17,-49,19,29z />
<path fill=#fb0 d=M2763,2654l-19,-19,17,-12,19,3z />
<path fill=#7f8 d=M2764,2484l-19,0,17,-28,19,5z />
<path fill=#f80 d=M2764,2645l-19,23,17,-15,19,-23z />
<path fill=#8f7 d=M2765,2512l-18,-26,17,-4,19,-1z />
<path fill=#f50 d=M2766,2681l-19,-42,17,4,19,48z />
<path fill=#bf4 d=M2767,2511l-19,-8,17,7,19,3z />
<path fill=#f50 d=M2767,2682l-19,6,17,-9,19,11z />
<path fill=#ff0 d=M2769,2517l-19,-10,17,3,19,19z />
<path fill=#6f9 d=M2770,2355l-19,-33,17,-8,19,19z />
<path fill=#bf4 d=M2770,2573l-19,-27,17,-32,19,12z />
<path fill=#6f9 d=M2772,2354l-19,3,17,-5,19,8z />
<path fill=#df2 d=M2772,2573l-19,-10,17,6,19,-12z />
<path fill=#7f8 d=M2773,2384l-19,-3,17,-28,19,14z />
<path fill=#ff0 d=M2773,2589l-19,-7,17,-10,19,-11z />
<path fill=#8f7 d=M2775,2403l-19,-14,17,-8,19,16z />
<path fill=#fd0 d=M2775,2613l-19,-39,17,12,19,28z />
<path fill=#5fa d=M2776,2459l-19,-46,17,-14,19,36z />
<path fill=#fb0 d=M2776,2608l-19,3,18,1,18,-9z />
<path fill=#6f9 d=M2778,2463l-19,-30,17,23,19,-26z />
<path fill=#f90 d=M2778,2628l-19,-4,17,-18,19,20z />
<path fill=#8f7 d=M2779,2462l-19,-6,18,4,18,29z />
<path fill=#f80 d=M2779,2632l-18,23,17,-28,19,-9z />
<path fill=#9f6 d=M2781,2482l-19,2,17,-23,19,18z />
<path fill=#f80 d=M2781,2692l-19,-48,17,-15,19,32z />
<path fill=#8f7 d=M2782,2514l-19,-3,18,-31,18,8z />
<path fill=#f80 d=M2782,2689l-18,-11,17,10,19,9z />
<path fill=#bf4 d=M2784,2528l-19,-18,17,2,19,9z />
<path fill=#f90 d=M2784,2752l-19,-74,17,8,19,53z />
<path fill=#6f9 d=M2785,2335l-19,-20,18,11,18,-12z />
<path fill=#ff0 d=M2785,2527l-18,-11,17,11,19,8z />
<path fill=#5fa d=M2787,2361l-19,-8,17,-21,19,1z />
<path fill=#cf3 d=M2787,2560l-19,12,17,-47,19,7z />
<path fill=#8f7 d=M2788,2368l-18,-15,17,6,19,20z />
<path fill=#fe0 d=M2789,2562l-19,11,17,-15,19,8z />
<path fill=#7f8 d=M2790,2398l-19,-16,17,-17,19,29z />
<path fill=#ef1 d=M2790,2615l-19,-28,17,-27,19,30z />
<path fill=#6f9 d=M2791,2436l-18,-36,17,-6,19,41z />
<path fill=#fd0 d=M2792,2604l-19,8,17,1,19,-11z />
<path fill=#5fa d=M2793,2431l-19,26,17,-23,19,-5z />
<path fill=#fa0 d=M2793,2627l-19,-20,17,-4,19,12z />
<path fill=#4fb d=M2795,2491l-19,-29,17,-33,19,10z />
<path fill=#f60 d=M2795,2620l-19,8,17,-2,19,-12z />
<path fill=#9f6 d=M2796,2480l-19,-19,17,28,19,-31z />
<path fill=#f60 d=M2796,2663l-19,-33,18,-13,18,51z />
<path fill=#bf4 d=M2798,2490l-19,-8,17,-4,19,7z />
<path fill=#fb0 d=M2798,2698l-19,-9,17,-31,19,29z />
<path fill=#af5 d=M2799,2522l-19,-8,17,-27,19,9z />
<path fill=#fb0 d=M2799,2739l-19,-53,18,8,18,32z />
<path fill=#5fa d=M2801,2315l-19,12,17,-37,19,39z />
<path fill=#bf4 d=M2801,2535l-19,-8,17,-7,19,0z />
<path fill=#fa0 d=M2801,2711l-19,40,17,-13,19,-45z />
<path fill=#7f8 d=M2802,2335l-19,-1,17,-20,19,11z />
<path fill=#fe0 d=M2802,2534l-19,-7,18,7,18,-3z />
<path fill=#5fa d=M2804,2380l-19,-20,17,-29,19,27z />
<path fill=#ff0 d=M2804,2567l-19,-7,17,-28,19,4z />
<path fill=#6f9 d=M2805,2394l-19,-29,17,12,19,12z />
<path fill=#fe0 d=M2805,2591l-19,-30,18,3,18,17z />
<path fill=#4fb d=M2807,2437l-19,-42,17,-3,19,0z />
<path fill=#ff0 d=M2807,2604l-19,10,17,-25,19,-16z />
<path fill=#5fa d=M2808,2430l-19,5,18,-1,18,-18z />
<path fill=#fb0 d=M2808,2616l-18,-12,17,-2,19,-3z />
<path fill=#9f6 d=M2810,2441l-19,-10,17,-2,19,10z />
<path fill=#f80 d=M2810,2614l-19,12,17,-11,19,-3z />
<path fill=#7f8 d=M2811,2460l-18,30,17,-52,19,7z />
<path fill=#f80 d=M2812,2669l-19,-51,17,-6,19,43z />
<path fill=#af5 d=M2813,2486l-19,-7,17,-21,19,10z />
<path fill=#fa0 d=M2813,2688l-19,-29,17,6,19,14z />
<path fill=#cf3 d=M2814,2498l-18,-9,17,-5,19,9z />
<path fill=#fd0 d=M2815,2727l-19,-32,17,-10,19,11z />
<path fill=#5fa d=M2816,2330l-19,-39,17,-6,19,40z />
<path fill=#bf4 d=M2816,2521l-19,0,17,-26,19,21z />
<path fill=#f90 d=M2816,2694l-19,45,17,-13,19,-35z />
<path fill=#7f8 d=M2817,2326l-18,-12,17,14,19,-13z />
<path fill=#df2 d=M2818,2531l-19,3,17,-15,19,21z />
<path fill=#f30 d=M2818,2718l-19,-5,17,-18,19,17z />
<path fill=#7f8 d=M2819,2360l-19,-27,17,-9,19,31z />
<path fill=#fc0 d=M2819,2537l-19,-4,17,-2,19,8z />
<path fill=#4fb d=M2821,2390l-19,-12,17,-22,19,7z />
<path fill=#ff0 d=M2821,2583l-19,-17,17,-32,19,29z />
<path fill=#6f9 d=M2822,2393l-19,1,17,-6,19,-7z />
<path fill=#fc0 d=M2822,2575l-19,16,17,-10,19,-22z />
<path fill=#5fa d=M2824,2418l-19,18,17,-45,19,7z />
<path fill=#fb0 d=M2824,2601l-19,3,17,-31,19,3z />
<path fill=#8f7 d=M2825,2440l-19,-10,17,-14,19,9z />
<path fill=#f90 d=M2825,2613l-19,2,18,-17,18,16z />
<path fill=#af5 d=M2827,2447l-19,-7,17,-2,19,22z />
<path fill=#f90 d=M2827,2655l-19,-43,17,-2,19,54z />
<path fill=#bf4 d=M2828,2470l-19,-10,18,-14,18,6z />
<path fill=#fc0 d=M2828,2679l-18,-14,17,-14,19,30z />
<path fill=#bf4 d=M2830,2495l-19,-9,17,-19,19,9z />
<path fill=#fb0 d=M2830,2698l-19,-11,17,-10,19,-7z />
<path fill=#4fb d=M2831,2326l-19,-40,17,1,19,1z />
<path fill=#cf3 d=M2831,2517l-19,-20,18,-5,18,13z />
<path fill=#f90 d=M2831,2693l-18,35,17,-32,19,-30z />
<path fill=#4fb d=M2833,2315l-19,13,17,-5,19,1z />
<path fill=#cf3 d=M2833,2541l-19,-21,17,-5,19,-5z />
<path fill=#f30 d=M2833,2713l-19,-17,17,-4,19,-3z />
<path fill=#6f9 d=M2834,2356l-19,-31,18,-11,18,20z />
<path fill=#fe0 d=M2834,2539l-18,-8,17,8,19,-17z />
<path fill=#f20 d=M2835,2724l-19,-7,17,-6,19,5z />
<path fill=#6f9 d=M2836,2365l-19,-7,17,-5,19,-12z />
<path fill=#fd0 d=M2836,2564l-19,-29,17,2,19,27z />
<path fill=#6f9 d=M2837,2383l-18,7,17,-28,19,11z />
<path fill=#fb0 d=M2838,2562l-19,21,17,-20,19,-35z />
<path fill=#8f7 d=M2839,2400l-19,-8,17,-12,19,35z />
<path fill=#f80 d=M2839,2578l-19,-3,17,-15,19,20z />
<path fill=#8f7 d=M2840,2426l-18,-9,17,-19,19,8z />
<path fill=#fa0 d=M2841,2615l-19,-16,17,-25,19,51z />
<path fill=#7f8 d=M2842,2461l-19,-22,17,-16,19,20z />
<path fill=#fb0 d=M2842,2664l-19,-54,17,1,19,34z />
<path fill=#bf4 d=M2844,2453l-19,-7,17,13,19,-6z />
<path fill=#fd0 d=M2844,2682l-19,-30,17,8,19,11z />
<path fill=#cf3 d=M2845,2478l-19,-9,17,-18,19,25z />
<path fill=#fa0 d=M2845,2671l-19,7,17,3,19,-19z />
<path fill=#5fa d=M2846,2290l-18,-1,17,-20,19,1z />
<path fill=#bf4 d=M2847,2507l-19,-14,17,-18,19,7z />
<path fill=#f60 d=M2847,2668l-19,31,17,-28,19,-10z />
<path fill=#3fc d=M2848,2326l-19,-2,17,-37,19,14z />
<path fill=#df2 d=M2848,2512l-19,4,17,-12,19,5z />
<path fill=#f20 d=M2848,2691l-19,3,18,-27,18,4z />
<path fill=#6f9 d=M2850,2335l-19,-20,17,9,19,6z />
<path fill=#ef1 d=M2850,2523l-19,17,17,-30,19,26z />
<path fill=#f30 d=M2850,2717l-19,-5,17,-24,19,16z />
<path fill=#7f8 d=M2851,2342l-19,13,17,-22,19,9z />
<path fill=#ff0 d=M2851,2565l-19,-27,18,-17,18,18z />
<path fill=#f40 d=M2851,2766l-18,-44,17,-8,19,20z />
<path fill=#8f7 d=M2853,2375l-19,-11,17,-24,19,19z />
<path fill=#f90 d=M2853,2530l-19,35,17,0,19,-40z />
<path fill=#6f9 d=M2854,2416l-19,-35,17,-9,19,5z />
<path fill=#f80 d=M2854,2582l-19,-20,18,-34,18,25z />
<path fill=#9f6 d=M2856,2406l-19,-7,17,14,19,6z />
<path fill=#fb0 d=M2856,2626l-19,-51,17,2,19,29z />
<path fill=#8f7 d=M2857,2445l-19,-20,18,-21,18,21z />
<path fill=#fc0 d=M2857,2646l-18,-34,17,10,19,-1z />
<path fill=#8f7 d=M2859,2453l-19,7,17,-18,19,5z />
<path fill=#ff0 d=M2859,2671l-19,-10,17,-19,19,31z />
<path fill=#cf3 d=M2860,2477l-18,-25,17,0,19,2z />
<path fill=#fb0 d=M2861,2663l-19,19,17,-10,19,-49z />
<path fill=#6f9 d=M2862,2272l-19,-1,17,-32,19,34z />
<path fill=#df2 d=M2862,2483l-19,-7,17,-1,19,11z />
<path fill=#f50 d=M2862,2662l-19,10,17,-9,19,12z />
<path fill=#6f9 d=M2863,2304l-19,-15,18,-20,18,24z />
<path fill=#cf3 d=M2863,2510l-18,-4,17,-25,19,10z />
<path fill=#f10 d=M2864,2673l-19,-4,17,-7,19,4z />
<path fill=#4fb d=M2865,2331l-19,-6,17,-25,19,17z />
<path fill=#ef1 d=M2865,2537l-19,-26,17,-3,19,-3z />
<path fill=#f10 d=M2865,2706l-19,-16,17,-20,19,9z />
<path fill=#6f9 d=M2866,2343l-18,-9,17,-5,19,11z />
<path fill=#fd0 d=M2867,2540l-19,-18,17,13,19,-8z />
<path fill=#f30 d=M2867,2735l-19,-20,17,-13,19,26z />
<path fill=#9f6 d=M2868,2360l-19,-19,17,0,19,10z />
<path fill=#fb0 d=M2868,2526l-19,39,17,-26,19,0z />
<path fill=#f70 d=M2868,2777l-19,-13,18,-33,18,18z />
<path fill=#9f6 d=M2870,2379l-19,-5,17,-16,19,3z />
<path fill=#f50 d=M2870,2554l-19,-24,17,-4,19,40z />
<path fill=#5fa d=M2871,2420l-19,-6,17,-39,19,24z />
<path fill=#fb0 d=M2871,2608l-19,-29,17,-29,19,40z />
<path fill=#9f6 d=M2873,2426l-19,-21,17,13,19,1z />
<path fill=#fd0 d=M2873,2622l-19,1,17,-19,19,2z />
<path fill=#8f7 d=M2874,2449l-19,-5,17,-21,19,15z />
<path fill=#ef1 d=M2874,2674l-19,-31,18,-25,18,43z />
<path fill=#bf4 d=M2876,2455l-19,-2,17,-6,19,6z />
<path fill=#f90 d=M2876,2625l-19,48,17,1,19,-54z />
<path fill=#6f9 d=M2877,2273l-19,-34,17,66,19,-66z />
<path fill=#bf4 d=M2877,2487l-19,-11,18,-23,18,7z />
<path fill=#f70 d=M2877,2678l-18,-13,17,-40,19,7z />
<path fill=#6f9 d=M2879,2294l-19,-24,17,1,19,15z />
<path fill=#ef1 d=M2879,2492l-19,-9,17,2,19,-2z />
<path fill=#f20 d=M2879,2667l-19,-5,17,14,19,-36z />
<path fill=#6f9 d=M2880,2319l-19,-17,17,-11,19,10z />
<path fill=#ff0 d=M2880,2507l-19,3,18,-19,18,-2z />
<path fill=#e00 d=M2880,2681l-18,-8,17,-7,19,-9z />
<path fill=#5fa d=M2882,2341l-19,-12,17,-14,19,15z />
<path fill=#ff0 d=M2882,2529l-19,8,17,-32,19,5z />
<path fill=#f20 d=M2882,2730l-19,-26,17,-27,19,21z />
<path fill=#7f8 d=M2883,2351l-19,-10,18,-2,18,18z />
<path fill=#fb0 d=M2883,2541l-18,0,17,-13,19,-40z />
<path fill=#f40 d=M2884,2751l-19,-18,17,-7,19,26z />
<path fill=#9f6 d=M2885,2362l-19,-3,17,-10,19,22z />
<path fill=#f80 d=M2885,2566l-19,-40,17,13,19,2z />
<path fill=#f30 d=M2885,2749l-19,28,17,-28,19,-5z />
<path fill=#8f7 d=M2886,2402l-19,-24,18,-18,19,23z />
<path fill=#f90 d=M2887,2591l-19,-40,17,11,19,26z />
<path fill=#7f8 d=M2888,2420l-19,-1,17,-21,19,15z />
<path fill=#fb0 d=M2888,2608l-19,-1,17,-18,19,-22z />
<path fill=#9f6 d=M2889,2439l-18,-14,17,-7,19,7z />
<path fill=#fe0 d=M2890,2663l-19,-43,17,-16,19,35z />
<path fill=#af5 d=M2891,2453l-19,-5,17,-11,19,12z />
<path fill=#fa0 d=M2891,2621l-19,55,17,-13,19,-81z />
<path fill=#1fe d=M2892,2239l-18,65,17,-84,19,86z />
<path fill=#df2 d=M2893,2462l-19,-7,17,-2,19,-9z />
<path fill=#f20 d=M2893,2635l-19,-8,17,-5,19,14z />
<path fill=#5fa d=M2894,2287l-19,-15,17,-34,19,73z />
<path fill=#df2 d=M2894,2485l-19,1,17,-27,19,11z />
<path fill=#f20 d=M2894,2641l-19,37,17,-45,19,5z />
<path fill=#6f9 d=M2895,2303l-18,-10,17,-8,19,-11z />
<path fill=#fe0 d=M2896,2490l-19,2,17,-9,19,13z />
<path fill=#d00 d=M2896,2658l-19,10,17,-27,19,5z />
<path fill=#5fa d=M2897,2332l-19,-15,17,-17,19,7z />
<path fill=#fd0 d=M2897,2512l-19,-6,17,-18,19,25z />
<path fill=#e00 d=M2897,2700l-19,-20,18,-25,18,22z />
<path fill=#5fa d=M2899,2358l-19,-18,17,-11,19,7z />
<path fill=#f80 d=M2899,2490l-19,40,17,-18,19,-13z />
<path fill=#f50 d=M2899,2753l-19,-26,17,-32,19,38z />
<path fill=#7f8 d=M2900,2371l-19,-21,17,6,19,1z />
<path fill=#f90 d=M2900,2543l-19,-2,18,-53,18,46z />
<path fill=#f30 d=M2900,2744l-18,6,17,0,19,12z />
<path fill=#9f6 d=M2902,2384l-19,-23,17,8,19,4z />
<path fill=#fc0 d=M2902,2589l-19,-26,17,-24,19,20z />
<path fill=#c00 d=M2902,2749l-19,1,17,-5,19,-8z />
<path fill=#7f8 d=M2903,2414l-19,-15,17,-19,19,27z />
<path fill=#f80 d=M2903,2569l-19,22,18,-3,18,-31z />
<path fill=#8f7 d=M2905,2426l-19,-7,17,-7,19,1z />
<path fill=#fc0 d=M2905,2642l-19,-35,17,-41,19,46z />
<path fill=#9f6 d=M2906,2450l-19,-12,18,-14,18,-1z />
<path fill=#f80 d=M2906,2584l-18,81,17,-24,19,-54z />
<path fill=#1fe d=M2908,2309l-19,-87,17,-18,19,43z />
<path fill=#df2 d=M2908,2445l-19,8,17,-4,19,-11z />
<path fill=#f30 d=M2908,2638l-19,-14,17,-40,19,39z />
<path fill=#3fc d=M2909,2311l-19,-73,18,67,18,-53z />
<path fill=#ef1 d=M2909,2471l-18,-10,17,-18,19,26z />
<path fill=#f10 d=M2910,2639l-19,-5,17,1,19,12z />
<path fill=#7f8 d=M2911,2275l-19,11,17,24,19,-45z />
<path fill=#ef1 d=M2911,2497l-19,-13,17,-15,19,13z />
<path fill=#c00 d=M2911,2648l-19,-6,17,-3,19,-3z />
<path fill=#7f8 d=M2912,2310l-19,-8,18,-28,18,10z />
<path fill=#fe0 d=M2912,2514l-18,-25,17,6,19,4z />
<path fill=#b00 d=M2913,2679l-19,-21,17,-12,19,15z />
<path fill=#6f9 d=M2914,2338l-19,-7,17,-25,19,2z />
<path fill=#f90 d=M2914,2499l-19,13,17,2,19,-37z />
<path fill=#f20 d=M2914,2735l-19,-38,17,-24,19,34z />
<path fill=#5fa d=M2915,2358l-18,-1,17,-22,19,20z />
<path fill=#f60 d=M2916,2535l-19,-46,17,9,19,36z />
<path fill=#f60 d=M2916,2763l-19,-11,17,-21,19,-6z />
<path fill=#7f8 d=M2917,2372l-19,-3,17,-14,19,42z />
<path fill=#f90 d=M2917,2561l-19,-20,17,-9,19,16z />
<path fill=#d00 d=M2917,2738l-19,7,18,18,18,-37z />
<path fill=#7f8 d=M2919,2408l-19,-26,17,-11,19,19z />
<path fill=#f80 d=M2919,2559l-19,31,17,-31,19,-27z />
<path fill=#b00 d=M2919,2762l-19,-13,17,-12,19,13z />
<path stroke=#600 stroke-width=8 d=M2919,2761l15,-11 />
<path fill=#8f7 d=M2920,2414l-19,0,17,-8,19,-18z />
<path fill=#f80 d=M2920,2615l-19,-47,17,-12,19,51z />
<path fill=#bf4 d=M2922,2425l-19,1,17,-13,19,2z />
<path fill=#f80 d=M2922,2589l-19,54,17,-30,19,-45z />
<path fill=#6f9 d=M2923,2249l-19,-42,17,-1,19,39z />
<path fill=#cf3 d=M2923,2440l-19,10,17,-27,19,5z />
<path fill=#f10 d=M2923,2624l-19,-38,18,3,18,31z />
<path fill=#1fe d=M2925,2254l-19,52,17,-61,19,6z />
<path fill=#ef1 d=M2925,2470l-19,-26,17,-6,19,14z />
<path fill=#f40 d=M2925,2648l-19,-13,17,-14,19,23z />
<path fill=#4fb d=M2926,2266l-19,45,17,-59,19,19z />
<path fill=#ef1 d=M2926,2483l-19,-13,18,-3,18,12z />
<path fill=#d00 d=M2926,2636l-18,3,17,9,19,-24z />
<path fill=#af5 d=M2928,2286l-19,-10,17,-10,19,14z />
<path fill=#ff0 d=M2928,2500l-19,-4,17,-15,19,20z />
<path fill=#b00 d=M2928,2662l-19,-15,17,-12,19,14z />
<path fill=#9f6 d=M2929,2311l-19,-2,17,-26,19,13z />
<path fill=#f90 d=M2929,2478l-19,37,18,-15,18,-23z />
<path fill=#e00 d=M2929,2710l-18,-34,17,-18,19,31z />
<path fill=#6f9 d=M2931,2357l-19,-20,17,-30,19,14z />
<path fill=#f90 d=M2931,2535l-19,-36,17,-23,19,48z />
<path fill=#f30 d=M2931,2727l-19,6,17,-28,19,12z />
<path fill=#4fb d=M2932,2398l-19,-42,18,-3,18,5z />
<path fill=#f90 d=M2932,2549l-18,-16,17,-2,19,1z />
<path fill=#f10 d=M2933,2727l-19,37,17,-38,19,-11z />
<path fill=#7f8 d=M2934,2390l-19,-19,17,25,19,-3z />
<path fill=#f50 d=M2934,2534l-19,27,17,-12,19,-40z />
<path fill=#b00 d=M2934,2751l-19,-13,17,-12,19,31z />
<path stroke=#600 stroke-width=8 d=M2934,2750l15,5 />
<path fill=#9f6 d=M2935,2389l-19,19,18,-19,18,-2z />
<path fill=#f80 d=M2935,2609l-18,-51,17,-27,19,45z />
<path fill=#b00 d=M2936,2774l-19,-13,17,-12,19,13z />
<path fill=#bf4 d=M2937,2417l-19,-3,17,-27,19,22z />
<path fill=#f60 d=M2937,2570l-19,44,17,-7,19,-24z />
<path fill=#5fa d=M2938,2246l-19,-39,18,-9,18,22z />
<path fill=#df2 d=M2938,2429l-18,-5,17,-10,19,26z />
<path fill=#f20 d=M2939,2621l-19,-30,17,-21,19,22z />
<path fill=#4fb d=M2940,2254l-19,-7,17,-4,19,-13z />
<path fill=#ef1 d=M2940,2454l-19,-15,17,-11,19,15z />
<path fill=#f40 d=M2940,2645l-19,-24,17,-4,19,17z />
<path fill=#6f9 d=M2941,2273l-18,-19,17,-2,19,2z />
<path fill=#df2 d=M2942,2480l-19,-12,17,-17,19,10z />
<path fill=#f00 d=M2942,2625l-19,23,17,-3,19,-32z />
<path fill=#9f6 d=M2943,2281l-19,-15,17,5,19,-7z />
<path fill=#ef1 d=M2943,2501l-19,-19,17,-5,19,18z />
<path fill=#b00 d=M2943,2649l-19,-13,17,-12,19,27z />
<path fill=#af5 d=M2944,2298l-18,-13,17,-6,19,17z />
<path fill=#fa0 d=M2945,2478l-19,23,17,1,19,-34z />
<path fill=#d00 d=M2945,2691l-19,-31,17,-14,19,28z />
<path fill=#af5 d=M2946,2324l-19,-14,17,-15,19,7z />
<path fill=#f80 d=M2946,2524l-19,-47,17,-1,19,57z />
<path fill=#f10 d=M2946,2720l-19,-12,18,-21,18,4z />
<path fill=#6f9 d=M2948,2361l-19,-6,17,-35,19,17z />
<path fill=#fa0 d=M2948,2534l-19,-2,17,-10,19,-2z />
<path fill=#d00 d=M2948,2717l-19,11,17,-10,19,-13z />
<path fill=#3fc d=M2949,2394l-19,2,17,-39,19,14z />
<path fill=#f40 d=M2949,2511l-19,39,18,-16,18,-24z />
<path fill=#c00 d=M2949,2758l-18,-31,17,-12,19,17z />
<path stroke=#600 stroke-width=8 d=M2949,2755l16,-23 />
<path fill=#8f7 d=M2951,2388l-19,1,17,3,19,11z />
<path fill=#f40 d=M2951,2579l-19,-46,17,-25,19,53z />
<path fill=#b00 d=M2951,2763l-19,-13,17,5,19,-4z />
<path fill=#bf4 d=M2952,2411l-19,-22,17,-2,19,11z />
<path fill=#f80 d=M2952,2584l-19,23,18,-33,18,10z />
<path fill=#e00 d=M2952,2816l-18,-44,17,-13,19,31z />
<path fill=#6f9 d=M2954,2222l-19,-23,17,-5,19,9z />
<path fill=#bf4 d=M2954,2441l-19,-26,17,-7,19,3z />
<path fill=#f10 d=M2954,2593l-19,-23,17,14,19,16z />
<path fill=#5fa d=M2955,2232l-19,13,17,-26,19,-11z />
<path fill=#df2 d=M2955,2444l-19,-16,18,11,18,-12z />
<path fill=#f50 d=M2955,2636l-18,-17,17,-30,19,30z />
<path fill=#6f9 d=M2957,2255l-19,-1,17,-24,19,9z />
<path fill=#ef1 d=M2957,2463l-19,-11,17,-10,19,9z />
<path fill=#f10 d=M2957,2614l-19,32,17,-11,19,-33z />
<path fill=#8f7 d=M2958,2265l-19,7,18,-19,18,16z />
<path fill=#df2 d=M2958,2497l-18,-18,17,-19,19,13z />
<path fill=#c00 d=M2959,2652l-19,-27,17,-12,19,25z />
<path fill=#9f6 d=M2960,2297l-19,-18,17,-16,19,28z />
<path fill=#fc0 d=M2960,2468l-19,34,17,-6,19,-21z />
<path fill=#d00 d=M2960,2675l-19,-28,17,2,19,17z />
<path fill=#af5 d=M2961,2302l-19,-6,18,-2,18,42z />
<path fill=#fb0 d=M2961,2533l-18,-57,17,-10,19,65z />
<path fill=#e00 d=M2962,2693l-19,-3,17,-18,19,4z />
<path fill=#9f6 d=M2963,2339l-19,-17,17,-23,19,44z />
<path fill=#fa0 d=M2963,2521l-19,1,17,9,19,-28z />
<path fill=#d00 d=M2963,2706l-19,14,17,-30,19,4z />
<path fill=#7f8 d=M2964,2374l-18,-14,17,-24,19,6z />
<path fill=#f40 d=M2965,2512l-19,23,17,-14,19,-38z />
<path fill=#b00 d=M2965,2734l-19,-18,17,-12,19,20z />
<path stroke=#600 stroke-width=8 d=M2965,2732l15,-8 />
<path fill=#5fa d=M2966,2404l-19,-11,17,-23,19,2z />
<path fill=#f20 d=M2966,2563l-19,-53,17,-1,19,34z />
<path fill=#c00 d=M2966,2752l-19,4,18,-25,18,9z />
<path fill=#af5 d=M2968,2398l-19,-11,17,15,19,-8z />
<path fill=#f70 d=M2968,2586l-19,-10,17,-18,19,10z />
<path fill=#d00 d=M2968,2792l-19,-31,17,-12,19,44z />
<path fill=#6f9 d=M2969,2204l-19,-8,17,-33,19,38z />
<path fill=#cf3 d=M2969,2412l-19,-3,17,-12,19,14z />
<path fill=#f50 d=M2969,2600l-19,-17,17,1,19,3z />
<path fill=#f10 d=M2969,2818l-19,-5,18,-25,18,27z />
<path fill=#7f8 d=M2970,2209l-18,12,17,-19,19,12z />
<path fill=#cf3 d=M2971,2429l-19,11,17,-30,19,9z />
<path fill=#f30 d=M2971,2620l-19,-30,17,8,19,10z />
<path fill=#8f7 d=M2972,2241l-19,-9,17,-25,19,35z />
<path fill=#ef1 d=M2972,2453l-19,-10,17,-16,19,6z />
<path fill=#f10 d=M2972,2603l-19,33,18,-17,18,-28z />
<path fill=#7f8 d=M2974,2270l-19,-16,17,-16,19,13z />
<path fill=#ef1 d=M2974,2475l-19,-14,17,-11,19,16z />
<path fill=#c00 d=M2974,2640l-19,-26,17,-12,19,20z />
<path fill=#8f7 d=M2975,2291l-19,-28,17,4,19,28z />
<path fill=#fe0 d=M2975,2476l-19,21,17,-24,19,-4z />
<path fill=#e00 d=M2975,2668l-19,-18,18,-14,19,2z />
<path fill=#6f9 d=M2977,2336l-19,-42,17,-6,19,8z />
<path fill=#fd0 d=M2977,2531l-19,-64,17,6,19,56z />
<path fill=#d00 d=M2977,2678l-19,-5,17,-8,19,-2z />
<path fill=#8f7 d=M2978,2344l-19,-44,17,34,19,-25z />
<path fill=#fb0 d=M2978,2504l-19,28,18,-3,18,-47z />
<path fill=#c00 d=M2978,2696l-18,-4,17,-16,19,8z />
<path fill=#af5 d=M2980,2344l-19,-6,17,4,19,-17z />
<path fill=#f30 d=M2980,2485l-19,38,17,-17,19,-27z />
<path fill=#b00 d=M2980,2726l-19,-20,17,-12,19,13z />
<path stroke=#600 stroke-width=8 d=M2980,2724l15,-17 />
<path fill=#8f7 d=M2981,2375l-19,-1,18,-33,18,5z />
<path fill=#f20 d=M2981,2545l-18,-34,17,-28,19,39z />
<path fill=#b00 d=M2982,2742l-19,-10,17,-9,19,7z />
<path fill=#7f8 d=M2983,2395l-19,9,17,-32,19,4z />
<path fill=#f60 d=M2983,2570l-19,-11,17,-20,19,39z />
<path fill=#e00 d=M2983,2794l-19,-44,17,-12,19,32z />
<path fill=#7f8 d=M2984,2202l-19,-38,17,0,19,8z />
<path fill=#bf4 d=M2984,2412l-19,-14,18,-5,18,9z />
<path fill=#f60 d=M2984,2589l-18,-4,17,-17,19,0z />
<path fill=#f10 d=M2985,2816l-19,-27,17,1,19,15z />
<path fill=#6f9 d=M2986,2215l-19,-12,17,-4,19,-8z />
<path fill=#df2 d=M2986,2421l-19,-9,17,-1,19,-14z />
<path fill=#f50 d=M2986,2609l-19,-10,17,-13,19,13z />
<path fill=#f20 d=M2986,2845l-19,-29,17,-3,19,12z />
<path fill=#7f8 d=M2987,2243l-19,-35,18,4,18,14z />
<path fill=#ff0 d=M2987,2434l-18,-6,17,-9,19,7z />
<path fill=#f00 d=M2988,2592l-19,28,17,-12,19,-10z />
<path fill=#8f7 d=M2989,2253l-19,-14,17,2,19,1z />
<path fill=#ef1 d=M2989,2467l-19,-15,17,-20,19,14z />
<path fill=#b00 d=M2989,2623l-19,-19,17,-12,19,14z />
<path fill=#5fa d=M2990,2295l-18,-28,17,-18,19,40z />
<path fill=#fe0 d=M2991,2470l-19,4,17,-9,19,4z />
<path fill=#c00 d=M2991,2640l-19,-2,17,-18,19,8z />
<path fill=#8f7 d=M2992,2297l-19,-7,17,3,19,-14z />
<path fill=#ff0 d=M2992,2530l-19,-56,17,-7,19,36z />
<path fill=#d00 d=M2992,2665l-19,2,17,-30,19,14z />
<path fill=#7f8 d=M2993,2310l-18,26,17,-41,19,4z />
<path fill=#fc0 d=M2994,2483l-19,47,17,-1,19,-46z />
<path fill=#b00 d=M2994,2686l-19,-9,17,-15,19,12z />
<path fill=#9f6 d=M2995,2327l-19,16,17,-35,19,14z />
<path fill=#f30 d=M2995,2481l-19,26,17,-22,19,-13z />
<path fill=#b00 d=M2995,2708l-19,-13,18,-12,18,19z />
<path stroke=#600 stroke-width=8 d=M2995,2707l16,-6 />
<path fill=#cf3 d=M2997,2349l-19,-5,17,-19,19,5z />
<path fill=#f00 d=M2997,2523l-19,-38,17,-6,19,49z />
<path fill=#b00 d=M2997,2731l-19,-7,17,-18,19,13z />
<path fill=#af5 d=M2998,2378l-19,-3,17,-29,19,12z />
<path fill=#f80 d=M2998,2579l-19,-39,18,-23,18,59z />
<path fill=#d00 d=M2998,2771l-18,-31,17,-12,19,27z />
<path fill=#8f7 d=M3000,2174l-19,-8,17,-19,19,4z />
<path fill=#af5 d=M3000,2404l-19,-9,17,-19,19,-5z />
<path fill=#f50 d=M3000,2569l-19,0,17,8,19,-11z />
<path fill=#f20 d=M3000,2806l-19,-15,17,-24,19,23z />
<path fill=#7f8 d=M3001,2193l-19,8,17,-31,19,30z />
<path fill=#df2 d=M3001,2398l-19,14,17,-10,19,-3z />
<path fill=#f50 d=M3001,2601l-19,-13,18,-21,18,9z />
<path fill=#f30 d=M3001,2825l-18,-12,17,-11,19,46z />
<path fill=#7f8 d=M3003,2227l-19,-13,17,-23,19,9z />
<path fill=#ff0 d=M3003,2427l-19,-7,17,-24,19,26z />
<path fill=#f20 d=M3003,2598l-19,10,17,-10,19,5z />
<path fill=#f60 d=M3003,2878l-19,-36,17,-20,19,18z />
<path fill=#7f8 d=M3004,2243l-19,-2,17,-17,19,12z />
<path fill=#fe0 d=M3004,2448l-19,-14,18,-8,18,-5z />
<path fill=#b00 d=M3004,2606l-18,-13,17,5,19,12z />
<path fill=#6f9 d=M3006,2290l-19,-40,17,-10,19,25z />
<path fill=#ff0 d=M3006,2470l-19,-4,17,-21,19,7z />
<path fill=#b00 d=M3006,2630l-19,-8,17,-18,19,14z />
<path fill=#6f9 d=M3007,2280l-19,14,18,-7,18,0z />
<path fill=#ff0 d=M3007,2504l-18,-36,17,-1,19,38z />
<path fill=#b00 d=M3008,2652l-19,-13,17,-12,19,13z />
<path fill=#9f6 d=M3009,2301l-19,-4,17,-18,19,14z />
<path fill=#fd0 d=M3009,2484l-19,46,17,-27,19,-34z />
<path fill=#b00 d=M3009,2675l-19,-11,17,-14,19,13z />
<path fill=#bf4 d=M3010,2323l-19,-13,18,-11,18,7z />
<path fill=#f30 d=M3010,2472l-18,14,17,0,19,2z />
<path fill=#b00 d=M3011,2703l-19,-19,17,-12,19,14z />
<path stroke=#600 stroke-width=8 d=M3011,2701l15,-15 />
<path fill=#df2 d=M3012,2331l-19,-4,17,-6,19,1z />
<path fill=#f20 d=M3012,2529l-19,-50,17,-9,19,50z />
<path fill=#b00 d=M3012,2720l-19,-13,17,-7,19,8z />
<path fill=#df2 d=M3013,2361l-18,-13,17,-19,19,10z />
<path fill=#f80 d=M3014,2577l-19,-59,17,5,19,50z />
<path fill=#c00 d=M3014,2757l-19,-28,17,-12,19,22z />
<path fill=#9f6 d=M3015,2152l-19,-4,17,-22,19,55z />
<path fill=#df2 d=M3015,2373l-19,5,17,-20,19,1z />
<path fill=#f80 d=M3015,2567l-19,11,17,-3,19,-35z />
<path fill=#f10 d=M3015,2792l-19,-23,18,-17,18,28z />
<path fill=#7f8 d=M3016,2202l-19,-30,18,-23,19,32z />
<path fill=#cf3 d=M3017,2400l-19,3,17,-33,19,22z />
<path fill=#f30 d=M3017,2578l-19,-9,17,-3,19,10z />
<path fill=#f50 d=M3017,2849l-19,-46,17,-16,19,22z />
<path fill=#9f6 d=M3018,2201l-19,-9,17,7,19,-3z />
<path fill=#ff0 d=M3018,2423l-19,-26,17,1,19,14z />
<path fill=#f40 d=M3018,2604l-19,-5,17,-24,19,20z />
<path fill=#f40 d=M3018,2840l-19,-18,18,23,18,27z />
<path fill=#7f8 d=M3019,2238l-18,-12,17,-28,19,33z />
<path fill=#fd0 d=M3020,2422l-19,5,17,-6,19,-2z />
<path fill=#e00 d=M3020,2610l-19,-12,17,6,19,-22z />
<path fill=#f90 d=M3020,2902l-19,-27,17,-38,19,41z />
<path fill=#7f8 d=M3021,2267l-19,-26,17,-6,19,14z />
<path fill=#fd0 d=M3021,2454l-19,-7,17,-27,19,13z />
<path fill=#b00 d=M3021,2619l-19,-14,18,4,18,-2z />
<path fill=#4fb d=M3023,2288l-19,0,17,-25,19,10z />
<path fill=#df2 d=M3023,2506l-19,-38,17,-19,19,43z />
<path fill=#b00 d=M3023,2642l-19,-14,17,-12,19,14z />
<path fill=#9f6 d=M3024,2294l-19,-14,17,7,19,-5z />
<path fill=#fc0 d=M3024,2470l-19,34,17,1,19,-48z />
<path fill=#b00 d=M3024,2664l-19,-13,18,-12,18,13z />
<path fill=#bf4 d=M3026,2308l-19,-8,17,-8,19,14z />
<path fill=#f60 d=M3026,2489l-19,-2,17,-16,19,-5z />
<path fill=#b00 d=M3026,2687l-19,-13,17,-12,19,13z />
<path stroke=#600 stroke-width=8 d=M3026,2686l15,-11 />
<path fill=#bf4 d=M3027,2322l-19,-1,17,-17,19,61z />
<path fill=#f40 d=M3027,2520l-19,-49,18,15,18,31z />
<path fill=#b00 d=M3027,2710l-18,-8,17,-18,19,15z />
<path fill=#ef1 d=M3029,2341l-19,-10,17,-9,19,0z />
<path fill=#fa0 d=M3029,2574l-19,-50,17,-8,19,18z />
<path fill=#c00 d=M3029,2741l-19,-22,17,-12,19,27z />
<path fill=#7f8 d=M3030,2182l-19,-55,17,-13,19,25z />
<path fill=#ef1 d=M3030,2361l-19,-1,18,-22,18,12z />
<path fill=#f70 d=M3030,2541l-18,35,17,-4,19,-43z />
<path fill=#f00 d=M3031,2781l-19,-27,17,-18,19,36z />
<path fill=#8f7 d=M3032,2181l-19,-31,17,29,19,-11z />
<path fill=#ef1 d=M3032,2394l-19,-22,17,-14,19,9z />
<path fill=#f40 d=M3032,2578l-19,-11,17,-26,19,15z />
<path fill=#f30 d=M3032,2810l-19,-21,17,-12,19,32z />
<path fill=#7f8 d=M3033,2197l-19,3,17,-21,19,2z />
<path fill=#ef1 d=M3033,2413l-19,-14,18,-8,18,3z />
<path fill=#f30 d=M3033,2596l-18,-20,17,-1,19,26z />
<path fill=#fa0 d=M3034,2873l-19,-27,17,-41,19,26z />
<path fill=#8f7 d=M3035,2233l-19,-33,17,-5,19,-4z />
<path fill=#ff0 d=M3035,2420l-19,2,17,-11,19,3z />
<path fill=#e00 d=M3035,2584l-19,21,17,-10,19,-23z />
<path fill=#f70 d=M3035,2878l-19,-41,17,31,19,45z />
<path fill=#7f8 d=M3036,2250l-19,-14,18,-6,18,1z />
<path fill=#fb0 d=M3036,2434l-18,-13,17,-2,19,8z />
<path fill=#c00 d=M3037,2608l-19,2,17,-28,19,14z />
<path fill=#fc0 d=M3037,2922l-19,-23,17,-24,19,19z />
<path fill=#6f9 d=M3038,2275l-19,-10,17,-18,19,12z />
<path fill=#ff0 d=M3038,2494l-19,-42,17,-22,19,28z />
<path fill=#b00 d=M3038,2631l-19,-13,17,-12,19,13z />
<path fill=#7f8 d=M3039,2283l-18,5,17,-15,19,5z />
<path fill=#fd0 d=M3040,2458l-19,48,17,-14,19,-45z />
<path fill=#b00 d=M3040,2654l-19,-14,17,-12,19,14z />
<path fill=#9f6 d=M3041,2307l-19,-14,17,-12,19,15z />
<path fill=#f50 d=M3041,2467l-19,5,17,-13,19,18z />
<path fill=#b00 d=M3041,2676l-19,-13,17,-12,19,13z />
<path stroke=#600 stroke-width=8 d=M3041,2675l15,-11 />
<path fill=#7f8 d=M3042,2366l-18,-61,17,-2,19,14z />
<path fill=#f70 d=M3043,2517l-19,-30,17,-23,19,48z />
<path fill=#b00 d=M3043,2700l-19,-14,17,-12,19,14z />
<path fill=#df2 d=M3044,2321l-19,0,17,43,19,-36z />
<path fill=#f80 d=M3044,2536l-19,-19,17,-3,19,14z />
<path fill=#c00 d=M3044,2734l-19,-27,18,-10,18,38z />
<path fill=#9f6 d=M3045,2141l-18,-25,17,7,19,6z />
<path fill=#ff0 d=M3046,2351l-19,-11,17,-19,19,12z />
<path fill=#f80 d=M3046,2531l-19,43,17,-40,19,-9z />
<path fill=#f00 d=M3046,2773l-19,-36,17,-7,19,36z />
<path fill=#5fa d=M3047,2170l-19,10,17,-43,19,6z />
<path fill=#ff0 d=M3047,2368l-19,-8,17,-11,19,13z />
<path fill=#f20 d=M3047,2558l-19,-15,18,-13,18,6z />
<path fill=#f40 d=M3047,2810l-18,-32,17,-9,19,25z />
<path fill=#7f8 d=M3049,2182l-19,-2,17,-13,19,35z />
<path fill=#ef1 d=M3049,2395l-19,-3,17,-26,19,16z />
<path fill=#f60 d=M3049,2603l-19,-27,17,-22,19,27z />
<path fill=#f50 d=M3049,2833l-19,-26,17,-1,19,41z />
<path fill=#af5 d=M3050,2192l-19,4,17,-16,19,28z />
<path fill=#ff0 d=M3050,2416l-19,-4,17,-19,19,1z />
<path fill=#f00 d=M3050,2572l-19,24,18,6,18,-42z />
<path fill=#fe0 d=M3050,2914l-18,-45,17,-41,19,27z />
<path fill=#7f8 d=M3052,2234l-19,-2,17,-42,19,22z />
<path fill=#fd0 d=M3052,2428l-19,-8,17,-6,19,7z />
<path fill=#b00 d=M3052,2598l-19,-14,17,-12,19,14z />
<path fill=#fb0 d=M3052,2894l-19,-20,17,36,19,25z />
<path fill=#7f8 d=M3053,2262l-19,-13,17,-19,19,9z />
<path fill=#fc0 d=M3053,2460l-19,-27,18,-8,18,20z />
<path fill=#b00 d=M3053,2620l-18,-13,17,-12,19,13z />
<path fill=#ff0 d=M3054,2960l-19,-40,17,-29,19,24z />
<path fill=#7f8 d=M3055,2279l-19,-4,17,-16,19,1z />
<path fill=#fc0 d=M3055,2449l-19,45,17,-36,19,-24z />
<path fill=#b00 d=M3055,2643l-19,-13,17,-12,19,13z />
<path fill=#9f6 d=M3056,2297l-19,-15,18,-5,18,8z />
<path fill=#f70 d=M3056,2477l-18,-17,17,-12,19,12z />
<path fill=#b00 d=M3057,2666l-19,-14,17,-12,19,14z />
<path stroke=#600 stroke-width=8 d=M3056,2664l16,-10 />
<path fill=#9f6 d=M3058,2319l-19,-14,17,-10,19,8z />
<path fill=#f70 d=M3058,2513l-19,-49,17,10,19,38z />
<path fill=#b00 d=M3058,2689l-19,-14,17,-12,19,25z />
<path fill=#7f8 d=M3059,2328l-19,37,18,-48,18,-5z />
<path fill=#f90 d=M3059,2529l-18,-14,17,-5,19,-6z />
<path fill=#d00 d=M3060,2737l-19,-39,17,-12,19,15z />
<path fill=#8f7 d=M3061,2130l-19,-6,17,-20,19,25z />
<path fill=#fe0 d=M3061,2334l-19,-12,17,7,19,-4z />
<path fill=#f50 d=M3061,2527l-19,9,17,-8,19,-29z />
<path fill=#f10 d=M3061,2767l-19,-36,17,1,19,25z />
<path fill=#9f6 d=M3062,2146l-19,-6,18,-12,18,1z />
<path fill=#ff0 d=M3062,2363l-18,-13,17,-19,19,20z />
<path fill=#f10 d=M3063,2538l-19,-6,17,-6,19,-3z />
<path fill=#f40 d=M3063,2795l-19,-25,17,-7,19,20z />
<path fill=#5fa d=M3064,2203l-19,-35,17,-27,19,49z />
<path fill=#fe0 d=M3064,2385l-19,-17,17,-7,19,-9z />
<path fill=#f40 d=M3064,2583l-19,-27,17,-22,19,41z />
<path fill=#f80 d=M3064,2848l-19,-41,17,-16,19,17z />
<path fill=#7f8 d=M3065,2208l-19,-28,18,20,18,14z />
<path fill=#fd0 d=M3065,2396l-18,-1,17,-13,19,-1z />
<path fill=#f10 d=M3066,2561l-19,42,17,-22,19,-32z />
<path fill=#f80 d=M3066,2857l-19,-27,17,14,19,25z />
<path fill=#bf4 d=M3067,2213l-19,-22,17,16,19,0z />
<path fill=#fd0 d=M3067,2422l-19,-7,17,-21,19,12z />
<path fill=#b00 d=M3067,2587l-19,-14,17,-12,19,14z />
<path fill=#cf3 d=M3067,2936l-19,-25,18,-60,18,23z />
<path fill=#9f6 d=M3068,2240l-18,-8,17,-22,19,33z />
<path fill=#fd0 d=M3069,2446l-19,-20,17,-7,19,21z />
<path fill=#b00 d=M3069,2610l-19,-14,17,-12,19,14z />
<path fill=#fd0 d=M3069,2915l-19,-24,17,41,19,19z />
<path fill=#8f7 d=M3070,2261l-19,-1,17,-22,19,22z />
<path fill=#fa0 d=M3070,2436l-19,23,17,-15,19,-14z />
<path fill=#b00 d=M3070,2632l-19,-13,18,-12,18,13z />
<path fill=#bf4 d=M3070,2989l-18,-32,17,-44,19,4z />
<path fill=#8f7 d=M3072,2286l-19,-8,17,-19,19,27z />
<path fill=#f60 d=M3072,2461l-19,-11,17,-15,19,22z />
<path fill=#b00 d=M3072,2655l-19,-13,17,-12,19,13z />
<path stroke=#600 stroke-width=8 d=M3072,2654l15,-11 />
<path fill=#af5 d=M3073,2305l-19,-9,17,-12,19,-3z />
<path fill=#fa0 d=M3073,2512l-19,-37,17,-18,19,36z />
<path fill=#c00 d=M3073,2689l-19,-25,18,-12,18,22z />
<path fill=#bf4 d=M3075,2314l-19,5,17,-16,19,11z />
<path fill=#f80 d=M3075,2505l-19,6,17,-1,19,-18z />
<path fill=#c00 d=M3075,2702l-19,-15,17,-1,19,21z />
<path fill=#7f8 d=M3076,2130l-19,-25,17,-1,19,15z />
<path fill=#ef1 d=M3076,2326l-19,3,17,-17,19,20z />
<path fill=#f40 d=M3076,2501l-19,29,18,-26,18,-9z />
<path fill=#f20 d=M3076,2758l-18,-25,17,-35,19,51z />
<path fill=#9f6 d=M3078,2130l-19,-2,17,-1,19,14z />
<path fill=#fe0 d=M3078,2352l-19,-19,17,-9,19,14z />
<path fill=#f10 d=M3078,2524l-19,4,17,-28,19,22z />
<path fill=#f40 d=M3078,2784l-19,-20,17,-10,19,23z />
<path fill=#7f8 d=M3079,2193l-19,-49,17,-16,19,12z />
<path fill=#fd0 d=M3079,2353l-19,10,18,-13,18,4z />
<path fill=#f30 d=M3079,2576l-18,-41,17,-14,19,44z />
<path fill=#f50 d=M3080,2810l-19,-17,17,-12,19,15z />
<path fill=#3fc d=M3081,2214l-19,-14,17,-12,19,-13z />
<path fill=#fd0 d=M3081,2383l-19,1,17,-33,19,14z />
<path fill=#f10 d=M3081,2551l-19,31,17,-8,19,-26z />
<path fill=#fc0 d=M3081,2870l-19,-25,17,-40,19,23z />
<path fill=#7f8 d=M3082,2206l-19,1,17,6,19,-2z />
<path fill=#fc0 d=M3082,2407l-19,-12,18,-15,18,22z />
<path fill=#b00 d=M3082,2576l-18,-13,17,-12,19,13z />
<path fill=#fa0 d=M3083,2876l-19,-22,17,12,19,24z />
<path fill=#8f7 d=M3084,2244l-19,-33,17,-6,19,3z />
<path fill=#fd0 d=M3084,2441l-19,-20,17,-17,19,16z />
<path fill=#b00 d=M3084,2599l-19,-14,17,-12,19,15z />
<path fill=#af5 d=M3084,2952l-19,-19,17,-62,19,29z />
<path fill=#8f7 d=M3085,2261l-19,-22,18,2,18,-19z />
<path fill=#fa0 d=M3085,2431l-18,15,17,-6,19,-27z />
<path fill=#b00 d=M3086,2622l-19,-14,17,-12,19,14z />
<path fill=#fd0 d=M3086,2917l-19,-5,17,36,19,51z />
<path fill=#8f7 d=M3087,2287l-19,-27,17,-2,19,-5z />
<path fill=#f70 d=M3087,2458l-19,-22,17,-6,19,25z />
<path fill=#b00 d=M3087,2644l-19,-13,17,-12,19,13z />
<path fill=#6f9 d=M3087,3027l-19,-41,18,-72,18,35z />
<path stroke=#600 stroke-width=8 d=M3087,2643l15,-11 />
<path fill=#af5 d=M3088,2281l-18,3,17,0,19,17z />
<path fill=#f80 d=M3089,2495l-19,-36,17,-4,19,13z />
<path fill=#c00 d=M3089,2675l-19,-22,17,-12,19,39z />
<path fill=#bf4 d=M3090,2316l-19,-12,17,-24,19,10z />
<path fill=#f90 d=M3090,2494l-19,18,17,-20,19,-33z />
<path fill=#e00 d=M3090,2708l-19,-21,17,-15,19,5z />
<path fill=#6f9 d=M3091,2120l-19,-15,18,-24,18,31z />
<path fill=#cf3 d=M3091,2332l-18,-19,17,0,19,16z />
<path fill=#f40 d=M3092,2497l-19,9,17,-13,19,0z />
<path fill=#f10 d=M3092,2751l-19,-52,17,5,19,35z />
<path fill=#6f9 d=M3093,2141l-19,-13,17,-11,19,8z />
<path fill=#ff0 d=M3093,2339l-19,-14,17,6,19,-6z />
<path fill=#f10 d=M3093,2523l-19,-22,17,-5,19,9z />
<path fill=#f50 d=M3093,2777l-19,-22,18,-9,18,33z />
<path fill=#af5 d=M3094,2141l-18,-13,17,11,19,35z />
<path fill=#fe0 d=M3095,2355l-19,-4,17,-14,19,2z />
<path fill=#f30 d=M3095,2567l-19,-45,17,-3,19,26z />
<path fill=#f50 d=M3095,2797l-19,-15,17,-7,19,21z />
<path fill=#6f9 d=M3096,2178l-19,14,17,-54,19,15z />
<path fill=#fb0 d=M3096,2366l-19,-13,17,1,19,7z />
<path fill=#f20 d=M3096,2549l-19,26,18,-11,18,-21z />
<path fill=#f70 d=M3096,2830l-18,-22,17,-15,19,46z />
<path fill=#5fa d=M3098,2213l-19,1,17,-40,19,8z />
<path fill=#fc0 d=M3098,2404l-19,-22,17,-18,19,3z />
<path fill=#b00 d=M3098,2565l-19,-13,17,-3,19,4z />
<path fill=#fe0 d=M3098,2891l-19,-24,17,-42,19,33z />
<path fill=#af5 d=M3099,2209l-19,-3,17,5,19,4z />
<path fill=#fc0 d=M3099,2422l-19,-16,17,-5,19,-6z />
<path fill=#b00 d=M3099,2589l-19,-15,18,-12,18,17z />
<path fill=#fd0 d=M3099,2903l-18,-29,17,13,19,29z />
<path fill=#af5 d=M3101,2224l-19,20,17,-36,19,10z />
<path fill=#fa0 d=M3101,2415l-19,27,17,-22,19,-23z />
<path fill=#b00 d=M3101,2611l-19,-14,17,-10,19,12z />
<path fill=#6f9 d=M3101,2999l-19,-51,17,-51,19,31z />
<path fill=#af5 d=M3102,2255l-19,6,17,-39,19,18z />
<path fill=#f80 d=M3102,2456l-19,-25,18,-18,18,34z />
<path fill=#b00 d=M3102,2634l-18,-14,17,-12,19,14z />
<path fill=#ff0 d=M3103,2948l-19,-34,17,81,19,31z />
<path stroke=#600 stroke-width=8 d=M3102,2632l16,-11 />
<path fill=#7f8 d=M3104,2302l-19,-16,17,-35,19,19z />
<path fill=#f80 d=M3104,2469l-19,-13,17,-3,19,-1z />
<path fill=#e00 d=M3104,2680l-19,-39,17,-12,19,54z />
<path fill=#1fe d=M3104,3058l-19,-35,17,-78,19,22z />
<path fill=#cf3 d=M3105,2291l-19,-10,17,19,19,-7z />
<path fill=#f60 d=M3105,2462l-19,33,18,-27,19,-14z />
<path fill=#c00 d=M3106,2678l-19,-5,17,5,19,0z />
<path fill=#7f8 d=M3107,2114l-19,-31,17,-14,19,27z />
<path fill=#bf4 d=M3107,2330l-19,-16,17,-25,19,22z />
<path fill=#f40 d=M3107,2495l-19,0,17,-35,19,17z />
<path fill=#f20 d=M3107,2740l-19,-34,17,-32,19,35z />
<path fill=#6f9 d=M3108,2127l-19,-8,17,-8,19,1z />
<path fill=#df2 d=M3108,2325l-19,6,18,-4,18,18z />
<path fill=#f10 d=M3108,2506l-18,-9,17,-4,19,4z />
<path fill=#f60 d=M3109,2780l-19,-33,17,-12,19,22z />
<path fill=#4fb d=M3110,2174l-19,-35,17,-16,19,19z />
<path fill=#fe0 d=M3110,2340l-19,-2,17,-13,19,16z />
<path fill=#f30 d=M3110,2547l-19,-26,17,-18,19,23z />
<path fill=#f70 d=M3110,2796l-19,-22,17,2,19,35z />
<path fill=#af5 d=M3111,2154l-19,-15,18,34,18,-20z />
<path fill=#fc0 d=M3111,2362l-18,-7,17,-16,19,5z />
<path fill=#f30 d=M3112,2544l-19,21,17,-21,19,4z />
<path fill=#f80 d=M3112,2839l-19,-45,17,-1,19,25z />
<path fill=#9f6 d=M3113,2185l-19,-8,17,-25,19,23z />
<path fill=#f90 d=M3113,2369l-19,-4,17,-4,19,4z />
<path fill=#c00 d=M3113,2554l-19,-4,17,-5,19,-1z />
<path fill=#fa0 d=M3113,2860l-19,-33,17,8,19,18z />
<path fill=#7f8 d=M3114,2216l-19,-4,18,-30,18,6z />
<path fill=#fb0 d=M3114,2397l-18,6,17,-37,19,14z />
<path fill=#b00 d=M3115,2580l-19,-16,17,-12,19,21z />
<path fill=#df2 d=M3115,2917l-19,-29,17,-33,19,10z />
<path fill=#bf4 d=M3116,2218l-19,-10,17,5,19,24z />
<path fill=#f80 d=M3116,2400l-19,23,17,-27,19,-32z />
<path fill=#b00 d=M3116,2600l-19,-12,17,-10,19,10z />
<path fill=#ef1 d=M3116,2931l-19,-31,18,13,18,14z />
<path fill=#cf3 d=M3117,2242l-18,-19,17,-6,19,24z />
<path fill=#f80 d=M3118,2448l-19,-34,17,-18,19,44z />
<path fill=#b00 d=M3118,2623l-19,-14,17,-12,19,14z />
<path fill=#0ff d=M3118,3025l-19,-31,17,-71,19,56z />
<path stroke=#600 stroke-width=8 d=M3118,2621l15,-10 />
<path fill=#bf4 d=M3119,2273l-19,-19,17,-15,19,10z />
<path fill=#f90 d=M3119,2452l-19,1,17,-9,19,33z />
<path fill=#f00 d=M3119,2683l-19,-53,18,-12,18,62z />
<path fill=#bf4 d=M3119,2967l-18,-22,17,77,19,51z />
<path fill=#9f6 d=M3121,2294l-19,7,17,-31,19,-5z />
<path fill=#f50 d=M3121,2456l-19,14,17,-18,19,-11z />
<path fill=#f00 d=M3121,2679l-19,0,17,2,19,-27z />
<path fill=#cf3 d=M3122,2312l-19,-22,17,2,19,20z />
<path fill=#f10 d=M3122,2479l-19,-17,17,-7,19,9z />
<path fill=#d00 d=M3122,2711l-19,-35,18,0,18,33z />
<path fill=#6f9 d=M3123,2114l-18,-2,17,-18,19,11z />
<path fill=#af5 d=M3124,2346l-19,-17,17,-20,19,1z />
<path fill=#f20 d=M3124,2498l-19,-4,17,-19,19,23z />
<path fill=#f50 d=M3124,2759l-19,-22,17,-31,19,39z />
<path fill=#7f8 d=M3125,2144l-19,-19,17,-14,19,19z />
<path fill=#ff0 d=M3125,2341l-19,-16,17,20,19,-10z />
<path fill=#f20 d=M3125,2527l-19,-23,18,-9,18,46z />
<path fill=#fa0 d=M3125,2812l-18,-35,17,-23,19,18z />
<path fill=#5fa d=M3127,2153l-19,20,17,-32,19,10z />
<path fill=#fc0 d=M3127,2345l-19,-5,17,1,19,-8z />
<path fill=#f30 d=M3127,2549l-19,-4,17,-21,19,15z />
<path fill=#f90 d=M3127,2819l-19,-26,17,15,19,6z />
<path fill=#af5 d=M3128,2177l-19,-23,17,-2,19,6z />
<path fill=#fb0 d=M3128,2365l-19,-4,18,-18,18,22z />
<path fill=#d00 d=M3128,2545l-18,0,17,4,19,-3z />
<path fill=#fc0 d=M3129,2854l-19,-18,17,-21,19,25z />
<path fill=#af5 d=M3130,2190l-19,-6,17,-10,19,10z />
<path fill=#f90 d=M3130,2382l-19,-14,17,-4,19,17z />
<path fill=#c00 d=M3130,2574l-19,-22,17,-9,19,35z />
<path fill=#fb0 d=M3130,2867l-19,-9,17,-7,19,16z />
<path fill=#7f8 d=M3131,2238l-19,-23,17,-28,19,15z />
<path fill=#f40 d=M3131,2366l-19,32,18,-16,18,-36z />
<path fill=#b00 d=M3131,2589l-18,-10,17,-7,19,5z />
<path fill=#cf3 d=M3132,2929l-19,-14,17,-53,19,38z />
<path fill=#af5 d=M3133,2241l-19,-25,17,20,19,0z />
<path fill=#f70 d=M3133,2442l-19,-43,17,-36,19,48z />
<path fill=#b00 d=M3133,2612l-19,-13,17,-12,19,13z />
<path fill=#8f7 d=M3133,2983l-19,-56,17,-3,19,35z />
<path stroke=#600 stroke-width=8 d=M3133,2611l15,-11 />
<path fill=#cf3 d=M3134,2250l-19,-9,18,-1,18,3z />
<path fill=#fc0 d=M3134,2477l-18,-32,17,-9,19,18z />
<path fill=#f10 d=M3135,2681l-19,-62,17,-12,19,63z />
<path fill=#09f d=M3135,3072l-19,-52,17,-46,19,30z />
<path fill=#cf3 d=M3136,2267l-19,5,17,-25,19,23z />
<path fill=#f50 d=M3136,2442l-19,10,17,25,19,-36z />
<path fill=#f00 d=M3136,2655l-19,27,17,-4,19,-28z />
<path fill=#af5 d=M3137,2314l-18,-20,17,-30,19,17z />
<path fill=#f20 d=M3138,2465l-19,-9,17,-15,19,17z />
<path fill=#f00 d=M3138,2710l-19,-33,17,-24,19,44z />
<path fill=#df2 d=M3139,2311l-19,0,17,0,19,-4z />
<path fill=#f30 d=M3139,2499l-19,-22,17,-15,19,26z />
<path fill=#f30 d=M3139,2747l-19,-39,17,-3,19,11z />
<path fill=#7f8 d=M3140,2132l-19,-19,18,-9,18,2z />
<path fill=#cf3 d=M3140,2336l-18,10,17,-36,19,-3z />
<path fill=#f50 d=M3141,2541l-19,-45,17,-1,19,29z />
<path fill=#f60 d=M3141,2775l-19,-18,17,-15,19,6z />
<path fill=#6f9 d=M3142,2152l-19,-10,17,-13,19,15z />
<path fill=#fd0 d=M3142,2333l-19,8,17,-7,19,11z />
<path fill=#f30 d=M3142,2539l-19,-14,17,14,19,-11z />
<path fill=#fc0 d=M3142,2815l-19,-5,18,-41,18,30z />
<path fill=#9f6 d=M3143,2158l-18,-6,17,-2,19,25z />
<path fill=#fb0 d=M3144,2366l-19,-22,17,-13,19,25z />
<path fill=#f10 d=M3144,2547l-19,2,17,-10,19,-20z />
<path fill=#fb0 d=M3144,2841l-19,-25,17,-4,19,29z />
<path fill=#9f6 d=M3145,2184l-19,-9,17,-19,19,28z />
<path fill=#fa0 d=M3145,2381l-19,-17,17,-1,19,3z />
<path fill=#e00 d=M3145,2579l-19,-36,18,1,18,14z />
<path fill=#fd0 d=M3145,2868l-18,-16,17,-14,19,21z />
<path fill=#bf4 d=M3147,2204l-19,-15,17,-7,19,9z />
<path fill=#f30 d=M3147,2347l-19,36,17,-1,19,-42z />
<path fill=#c00 d=M3147,2578l-19,-6,17,5,19,-9z />
<path fill=#fd0 d=M3147,2903l-19,-38,17,0,19,30z />
<path fill=#8f7 d=M3148,2238l-19,0,17,-37,19,-7z />
<path fill=#f30 d=M3148,2414l-19,-49,17,-20,19,54z />
<path fill=#b00 d=M3148,2601l-19,-13,18,-12,18,13z />
<path fill=#9f6 d=M3148,2961l-18,-35,17,-29,19,35z />
<path stroke=#600 stroke-width=8 d=M3148,2600l16,-11 />
<path fill=#bf4 d=M3150,2244l-19,-3,17,-5,19,-13z />
<path fill=#fb0 d=M3150,2457l-19,-18,17,-32,19,23z />
<path fill=#f10 d=M3150,2672l-19,-64,17,-12,19,58z />
<path fill=#3fc d=M3150,3009l-19,-30,17,-24,19,18z />
<path fill=#cf3 d=M3151,2271l-19,-22,17,-7,19,10z />
<path fill=#f90 d=M3151,2441l-19,36,18,-23,18,-10z />
<path fill=#f20 d=M3151,2651l-18,28,17,-10,19,-36z />
<path fill=#df2 d=M3153,2283l-19,-17,17,3,19,-1z />
<path fill=#f20 d=M3153,2458l-19,-16,17,-1,19,22z />
<path fill=#e00 d=M3153,2698l-19,-44,17,-4,19,28z />
<path fill=#bf4 d=M3154,2309l-19,4,17,-33,19,-1z />
<path fill=#f30 d=M3154,2490l-19,-27,18,-7,18,24z />
<path fill=#f20 d=M3154,2717l-18,-11,17,-12,19,29z />
<path fill=#ff0 d=M3156,2309l-19,2,17,-4,19,8z />
<path fill=#f50 d=M3156,2525l-19,-29,17,-10,19,23z />
<path fill=#f50 d=M3156,2750l-19,-6,17,-31,19,40z />
<path fill=#7f8 d=M3157,2146l-19,-15,17,-26,19,-1z />
<path fill=#ff0 d=M3157,2346l-19,-10,18,-29,18,8z />
<path fill=#f50 d=M3157,2529l-18,11,17,-17,19,-18z />
<path fill=#f80 d=M3158,2801l-19,-29,17,-26,19,41z />
<path fill=#6f9 d=M3159,2176l-19,-25,17,-8,19,-14z />
<path fill=#fc0 d=M3159,2357l-19,-25,17,12,19,5z />
<path fill=#e00 d=M3159,2520l-19,20,17,-11,19,-12z />
<path fill=#fd0 d=M3159,2842l-19,-29,17,-17,19,20z />
<path fill=#8f7 d=M3160,2184l-19,-27,18,17,18,1z />
<path fill=#fb0 d=M3160,2368l-18,-4,17,-9,19,-2z />
<path fill=#e00 d=M3161,2560l-19,-14,17,-28,19,30z />
<path fill=#fd0 d=M3161,2860l-19,-21,17,-1,19,22z />
<path fill=#af5 d=M3162,2191l-19,-8,17,-1,19,14z />
<path fill=#f50 d=M3162,2341l-19,42,17,-15,19,-23z />
<path fill=#e00 d=M3162,2568l-19,10,17,-21,19,12z />
<path fill=#ff0 d=M3162,2896l-19,-30,17,-9,19,29z />
<path fill=#df2 d=M3163,2196l-19,7,18,-13,18,3z />
<path fill=#f20 d=M3163,2400l-18,-54,17,-7,19,62z />
<path fill=#b00 d=M3164,2591l-19,-14,17,-10,19,12z />
<path fill=#cf3 d=M3164,2935l-19,-36,17,-7,19,23z />
<path stroke=#600 stroke-width=8 d=M3164,2589l15,-10 />
<path fill=#bf4 d=M3165,2225l-19,13,17,-45,19,32z />
<path fill=#f80 d=M3165,2432l-19,-22,17,-15,19,16z />
<path fill=#f00 d=M3165,2656l-19,-58,17,-12,19,49z />
<path fill=#6f9 d=M3165,2976l-19,-19,18,-28,18,37z />
<path fill=#cf3 d=M3166,2253l-18,-10,17,-21,19,21z />
<path fill=#f90 d=M3167,2446l-19,10,17,-27,19,3z />
<path fill=#f10 d=M3167,2635l-19,35,17,-17,19,-31z />
<path fill=#cf3 d=M3168,2269l-19,1,17,-19,19,14z />
<path fill=#f50 d=M3168,2463l-19,-21,17,3,19,6z />
<path fill=#e00 d=M3168,2678l-19,-27,18,-18,18,57z />
<path fill=#ff0 d=M3170,2281l-19,1,17,-15,19,15z />
<path fill=#f40 d=M3170,2480l-19,-24,17,5,19,28z />
<path fill=#f40 d=M3170,2725l-19,-30,17,-21,19,28z />
<path fill=#ef1 d=M3171,2316l-19,-8,17,-30,19,12z />
<path fill=#f50 d=M3171,2510l-19,-24,17,-9,19,42z />
<path fill=#f50 d=M3171,2754l-19,-40,18,7,18,23z />
<path fill=#fc0 d=M3173,2317l-19,-8,17,6,19,-6z />
<path fill=#f30 d=M3173,2507l-19,18,17,-16,19,-35z />
<path fill=#f70 d=M3173,2789l-19,-41,17,3,19,15z />
<path fill=#9f6 d=M3174,2132l-19,14,17,-42,19,15z />
<path fill=#fe0 d=M3174,2350l-19,-5,17,-31,19,22z />
<path fill=#f00 d=M3174,2519l-19,12,18,-25,18,-1z />
<path fill=#fb0 d=M3174,2818l-18,-20,17,-14,19,26z />
<path fill=#6f9 d=M3176,2176l-19,-1,17,-47,19,34z />
<path fill=#fb0 d=M3176,2354l-19,2,17,-8,19,1z />
<path fill=#d00 d=M3176,2549l-19,-29,17,-4,19,34z />
<path fill=#ff0 d=M3176,2862l-19,-22,17,-26,19,25z />
<path fill=#7f8 d=M3177,2196l-19,-14,17,-9,19,26z />
<path fill=#f60 d=M3177,2346l-19,22,18,-14,18,-13z />
<path fill=#e00 d=M3177,2571l-18,-13,17,-11,19,-3z />
<path fill=#ef1 d=M3178,2886l-19,-29,17,0,19,35z />
<path fill=#bf4 d=M3179,2194l-19,-3,17,5,19,-4z />
<path fill=#f50 d=M3179,2401l-19,-62,17,5,19,61z />
<path fill=#b00 d=M3179,2579l-19,-11,17,1,19,-2z />
<path fill=#cf3 d=M3179,2916l-19,-23,17,-10,19,16z />
<path stroke=#600 stroke-width=8 d=M3179,2579l15,-11 />
<path fill=#df2 d=M3180,2228l-19,-33,17,-3,19,5z />
<path fill=#f70 d=M3180,2412l-19,-16,18,1,18,9z />
<path fill=#f00 d=M3180,2637l-18,-50,17,-12,19,50z />
<path fill=#8f7 d=M3181,2969l-19,-38,17,-20,19,31z />
<path fill=#df2 d=M3182,2245l-19,-21,17,0,19,-1z />
<path fill=#f80 d=M3182,2434l-19,-3,17,-21,19,12z />
<path fill=#f00 d=M3182,2623l-19,31,17,-20,19,-23z />
<path fill=#cf3 d=M3183,2266l-19,-14,18,-10,18,5z />
<path fill=#f60 d=M3183,2453l-18,-6,17,-14,19,-26z />
<path fill=#f00 d=M3184,2692l-19,-58,17,-13,19,38z />
<path fill=#ef1 d=M3185,2283l-19,-15,17,-4,19,-3z />
<path fill=#f70 d=M3185,2490l-19,-29,17,-12,19,16z />
<path fill=#f30 d=M3185,2703l-19,-28,17,12,19,29z />
<path fill=#fe0 d=M3186,2291l-18,-11,17,1,19,2z />
<path fill=#f80 d=M3187,2519l-19,-42,17,9,19,20z />
<path fill=#f60 d=M3187,2746l-19,-24,17,-23,19,28z />
<path fill=#fe0 d=M3188,2311l-19,5,17,-26,19,-9z />
<path fill=#f10 d=M3188,2475l-19,35,17,9,19,-51z />
<path fill=#f80 d=M3188,2766l-19,-15,17,-10,19,38z />
<path fill=#fd0 d=M3189,2337l-18,-22,17,-7,19,41z />
<path fill=#d00 d=M3190,2508l-19,0,17,-33,19,17z />
<path fill=#fb0 d=M3190,2812l-19,-26,17,-23,19,35z />
<path fill=#9f6 d=M3191,2164l-19,-34,17,-13,19,40z />
<path fill=#fc0 d=M3191,2351l-19,-1,17,-14,19,-19z />
<path fill=#f00 d=M3191,2551l-19,-34,17,-13,19,28z />
<path fill=#fd0 d=M3191,2841l-19,-26,18,-8,18,24z />
<path fill=#6f9 d=M3192,2200l-18,-25,17,-15,19,10z />
<path fill=#f70 d=M3193,2341l-19,13,17,-5,19,12z />
<path fill=#d00 d=M3193,2545l-19,3,17,1,19,-16z />
<path fill=#cf3 d=M3193,2893l-19,-34,17,-22,19,18z />
<path fill=#9f6 d=M3194,2192l-19,4,17,2,19,-16z />
<path fill=#f80 d=M3194,2405l-19,-61,17,-5,19,61z />
<path fill=#c00 d=M3194,2569l-19,1,17,-27,19,14z />
<path fill=#cf3 d=M3194,2900l-19,-17,18,6,19,21z />
<path stroke=#600 stroke-width=8 d=M3194,2568l15,-11 />
<path fill=#df2 d=M3195,2198l-18,-5,17,-2,19,14z />
<path fill=#f90 d=M3196,2407l-19,-9,17,4,19,-22z />
<path fill=#e00 d=M3196,2627l-19,-50,17,-12,19,40z />
<path fill=#af5 d=M3196,2944l-19,-30,17,-17,19,22z />
<path fill=#df2 d=M3197,2225l-19,1,17,-31,19,23z />
<path fill=#f70 d=M3197,2422l-19,-12,17,-6,19,33z />
<path fill=#f00 d=M3197,2613l-19,22,18,-11,18,-23z />
<path fill=#df2 d=M3199,2249l-19,-5,17,-22,19,8z />
<path fill=#f30 d=M3199,2409l-19,26,17,-13,19,-17z />
<path fill=#d00 d=M3199,2660l-19,-37,17,-13,19,46z />
<path fill=#ef1 d=M3200,2263l-19,3,17,-20,19,-8z />
<path fill=#f50 d=M3200,2468l-19,-16,18,-46,18,27z />
<path fill=#f60 d=M3200,2717l-18,-29,17,-33,19,21z />
<path fill=#ff0 d=M3202,2285l-19,-3,17,-21,19,1z />
<path fill=#f90 d=M3202,2507l-19,-20,17,-24,19,36z />
<path fill=#f60 d=M3202,2727l-19,-27,17,13,19,26z />
<path fill=#fb0 d=M3203,2283l-19,8,17,-8,19,-1z />
<path fill=#f40 d=M3203,2468l-19,51,18,-12,18,-38z />
<path fill=#fa0 d=M3203,2780l-18,-38,17,-18,19,28z />
<path fill=#ff0 d=M3205,2351l-19,-42,17,-30,19,44z />
<path fill=#c00 d=M3205,2493l-19,-17,17,-7,19,33z />
<path fill=#fa0 d=M3205,2799l-19,-36,17,13,19,17z />
<path fill=#fa0 d=M3206,2318l-19,19,18,12,18,-35z />
<path fill=#e00 d=M3206,2533l-18,-28,17,-15,19,42z />
<path fill=#fd0 d=M3207,2833l-19,-24,17,-13,19,5z />
<path fill=#8f7 d=M3208,2171l-19,-9,17,-8,19,2z />
<path fill=#fa0 d=M3208,2362l-19,-12,17,-34,19,26z />
<path fill=#e00 d=M3208,2534l-19,16,17,-19,19,-9z />
<path fill=#ff0 d=M3208,2856l-19,-18,17,-9,19,43z />
<path fill=#8f7 d=M3209,2183l-19,16,18,-30,18,-2z />
<path fill=#fa0 d=M3209,2400l-18,-62,17,20,19,41z />
<path fill=#b00 d=M3210,2558l-19,-13,17,-12,19,15z />
<path fill=#9f6 d=M3210,2911l-19,-20,17,-39,19,26z />
<path stroke=#600 stroke-width=8 d=M3209,2557l16,-9 />
<path fill=#bf4 d=M3211,2205l-19,-14,17,-10,19,25z />
<path fill=#f90 d=M3211,2381l-19,22,17,-5,19,-34z />
<path fill=#e00 d=M3211,2607l-19,-41,17,-12,19,41z />
<path fill=#bf4 d=M3211,2920l-19,-22,17,10,19,14z />
<path fill=#ef1 d=M3212,2219l-19,-22,18,7,18,-7z />
<path fill=#fa0 d=M3212,2437l-18,-32,17,-27,19,49z />
<path fill=#f00 d=M3213,2602l-19,23,17,-21,19,-3z />
<path fill=#ff0 d=M3214,2231l-19,-7,17,-7,19,3z />
<path fill=#f40 d=M3214,2405l-19,17,17,15,19,-33z />
<path fill=#e00 d=M3214,2657l-19,-45,17,-12,19,43z />
<path fill=#fe0 d=M3215,2240l-18,8,17,-18,19,5z />
<path fill=#f00 d=M3216,2436l-19,-27,17,-4,19,15z />
<path fill=#f20 d=M3216,2678l-19,-21,17,-4,19,26z />
<path fill=#fd0 d=M3217,2264l-19,-1,17,-25,19,20z />
<path fill=#f80 d=M3217,2502l-19,-37,17,-35,19,40z />
<path fill=#f90 d=M3217,2740l-19,-26,18,-41,18,31z />
<path fill=#fc0 d=M3219,2283l-19,2,17,-23,19,6z />
<path fill=#f50 d=M3219,2471l-19,37,17,-8,19,-59z />
<path fill=#f90 d=M3219,2752l-19,-28,17,11,19,41z />
<path fill=#fc0 d=M3220,2324l-19,-43,17,-1,19,39z />
<path fill=#e00 d=M3220,2502l-19,-33,17,1,19,20z />
<path fill=#fd0 d=M3220,2794l-19,-17,18,-27,18,14z />
<path fill=#fd0 d=M3222,2315l-19,35,17,-28,19,-36z />
<path fill=#f00 d=M3222,2533l-19,-43,17,9,19,19z />
<path fill=#fc0 d=M3222,2803l-19,-6,17,-6,19,15z />
<path fill=#f80 d=M3223,2343l-19,-26,17,-3,19,45z />
<path fill=#d00 d=M3223,2524l-19,8,18,-1,18,-19z />
<path fill=#df2 d=M3223,2874l-18,-43,17,-32,19,22z />
<path fill=#af5 d=M3225,2169l-19,3,17,-16,19,-14z />
<path fill=#fd0 d=M3225,2400l-19,-41,17,-20,19,40z />
<path fill=#b00 d=M3225,2549l-19,-15,17,-12,19,14z />
<path fill=#df2 d=M3225,2879l-19,-26,17,15,19,30z />
<path stroke=#600 stroke-width=8 d=M3225,2548l15,-12 />
<path fill=#9f6 d=M3226,2207l-19,-24,17,-17,19,26z />
<path fill=#f90 d=M3226,2366l-19,33,18,0,18,-53z />
<path fill=#e00 d=M3226,2596l-18,-41,17,-10,19,54z />
<path fill=#8f7 d=M3227,2923l-19,-14,17,-33,19,23z />
<path fill=#cf3 d=M3228,2197l-19,7,17,1,19,1z />
<path fill=#f90 d=M3228,2429l-19,-49,17,-17,19,55z />
<path fill=#f00 d=M3228,2602l-19,3,17,-12,19,-3z />
<path fill=#ef1 d=M3229,2221l-19,-3,17,-22,19,27z />
<path fill=#f70 d=M3229,2404l-19,34,18,-11,18,-50z />
<path fill=#e00 d=M3229,2644l-18,-44,17,-1,19,52z />
<path fill=#fe0 d=M3231,2236l-19,-6,17,-11,19,20z />
<path fill=#f00 d=M3231,2421l-19,-15,17,-1,19,-3z />
<path fill=#f40 d=M3231,2680l-19,-26,17,-15,19,27z />
<path fill=#fc0 d=M3232,2260l-19,-20,18,-5,18,-5z />
<path fill=#f40 d=M3232,2473l-18,-40,17,-16,19,32z />
<path fill=#f50 d=M3233,2706l-19,-31,17,1,19,27z />
<path fill=#fb0 d=M3234,2270l-19,-7,17,-5,19,-12z />
<path fill=#f30 d=M3234,2443l-19,59,17,-31,19,-40z />
<path fill=#fd0 d=M3234,2777l-19,-40,17,-36,19,32z />
<path fill=#fd0 d=M3235,2320l-19,-39,18,-15,19,38z />
<path fill=#f00 d=M3236,2492l-19,-20,17,-30,19,36z />
<path fill=#fb0 d=M3236,2764l-19,-14,17,23,19,24z />
<path fill=#fa0 d=M3237,2288l-19,36,17,-5,19,-36z />
<path fill=#f20 d=M3237,2518l-19,-19,17,-12,19,40z />
<path fill=#fd0 d=M3237,2808l-19,-16,17,-30,19,20z />
<path fill=#fb0 d=M3238,2360l-18,-45,17,-30,19,53z />
<path fill=#e00 d=M3239,2513l-19,19,17,-15,19,-16z />
<path fill=#fc0 d=M3239,2823l-19,-23,17,4,19,36z />
<path fill=#fc0 d=M3240,2380l-19,-41,17,17,19,20z />
<path fill=#b00 d=M3240,2537l-19,-13,17,-12,19,13z />
<path fill=#9f6 d=M3240,2900l-19,-30,18,-52,18,28z />
<path stroke=#600 stroke-width=8 d=M3240,2536l15,-11 />
<path fill=#bf4 d=M3241,2194l-18,-26,17,-27,19,27z />
<path fill=#f90 d=M3242,2348l-19,53,17,-21,19,-63z />
<path fill=#f00 d=M3242,2600l-19,-54,17,-13,19,36z />
<path fill=#af5 d=M3242,2899l-19,-23,17,19,19,31z />
<path fill=#af5 d=M3243,2207l-19,0,17,-16,19,-19z />
<path fill=#f90 d=M3243,2420l-19,-56,17,-19,19,80z />
<path fill=#f00 d=M3243,2590l-19,3,17,4,19,-14z />
<path fill=#df2 d=M3244,2224l-18,-28,17,9,19,24z />
<path fill=#f60 d=M3245,2378l-19,51,17,-10,19,-65z />
<path fill=#f20 d=M3245,2652l-19,-52,17,-13,19,44z />
<path fill=#ef1 d=M3246,2239l-19,-19,17,2,19,1z />
<path fill=#f00 d=M3246,2404l-19,3,17,-28,19,1z />
<path fill=#f40 d=M3246,2667l-19,-27,18,7,18,28z />
<path fill=#fc0 d=M3248,2231l-19,5,17,2,19,-5z />
<path fill=#f20 d=M3248,2451l-19,-32,17,-20,19,43z />
<path fill=#f70 d=M3248,2704l-19,-27,17,-13,19,23z />
<path fill=#fa0 d=M3249,2248l-19,12,17,-30,19,-5z />
<path fill=#f10 d=M3249,2433l-19,40,18,-24,18,-28z />
<path fill=#f80 d=M3249,2735l-18,-32,17,-3,19,32z />
<path fill=#fd0 d=M3251,2305l-19,-38,17,-24,19,54z />
<path fill=#d00 d=M3251,2480l-19,-36,17,-12,19,20z />
<path fill=#df2 d=M3251,2798l-19,-24,17,-44,19,23z />
<path fill=#fb0 d=M3252,2284l-19,36,17,-16,19,-47z />
<path fill=#f40 d=M3252,2528l-19,-40,18,-14,18,46z />
<path fill=#fc0 d=M3252,2782l-18,-20,17,33,19,19z />
<path fill=#f90 d=M3254,2340l-19,-53,17,-5,19,52z />
<path fill=#e00 d=M3254,2501l-19,17,17,9,19,-38z />
<path fill=#ef1 d=M3254,2842l-19,-36,17,-26,19,15z />
<path fill=#ff0 d=M3255,2377l-19,-20,18,-22,18,9z />
<path fill=#b00 d=M3255,2526l-18,-13,17,-12,19,13z />
<path fill=#ff0 d=M3256,2849l-19,-29,17,18,19,10z />
<path stroke=#600 stroke-width=8 d=M3255,2525l16,-11 />
<path fill=#f70 d=M3257,2318l-19,63,17,-3,19,-57z />
<path fill=#d00 d=M3257,2570l-19,-36,17,-12,19,38z />
<path fill=#6f9 d=M3257,2928l-19,-31,17,-53,19,10z />
<path fill=#cf3 d=M3258,2175l-19,18,18,-26,18,3z />
<path fill=#f90 d=M3258,2427l-18,-80,17,-31,19,62z />
<path fill=#f10 d=M3259,2585l-19,13,17,-32,19,4z />
<path fill=#af5 d=M3260,2231l-19,-25,17,-35,19,30z />
<path fill=#f50 d=M3260,2355l-19,65,17,5,19,-73z />
<path fill=#f20 d=M3260,2631l-19,-43,17,-7,19,63z />
<path fill=#df2 d=M3261,2223l-19,-1,18,6,18,-4z />
<path fill=#d00 d=M3261,2382l-18,-1,17,-24,19,15z />
<path fill=#f70 d=M3262,2676l-19,-27,17,-22,19,4z />
<path fill=#fe0 d=M3263,2234l-19,5,17,-16,19,1z />
<path fill=#f20 d=M3263,2444l-19,-43,17,-23,19,48z />
<path fill=#f70 d=M3263,2688l-19,-24,17,8,19,24z />
<path fill=#f80 d=M3264,2226l-18,5,17,3,19,-8z />
<path fill=#f00 d=M3265,2422l-19,28,17,-9,19,-31z />
<path fill=#fa0 d=M3265,2733l-19,-32,17,-17,19,31z />
<path fill=#fb0 d=M3266,2300l-19,-54,17,-23,19,38z />
<path fill=#b00 d=M3266,2454l-19,-20,17,-12,19,13z />
<path fill=#fb0 d=M3266,2756l-19,-23,18,-4,18,14z />
<path fill=#f90 d=M3268,2258l-19,47,17,-8,19,-35z />
<path fill=#f40 d=M3268,2522l-19,-46,17,-28,19,58z />
<path fill=#bf4 d=M3268,2815l-19,-19,17,-45,19,23z />
<path fill=#fa0 d=M3269,2335l-19,-52,17,-27,19,67z />
<path fill=#f10 d=M3269,2490l-19,38,17,-8,19,-42z />
<path fill=#fd0 d=M3269,2795l-19,-15,18,32,18,22z />
<path fill=#fc0 d=M3271,2346l-19,-9,17,-6,19,-6z />
<path fill=#b00 d=M3271,2516l-19,-14,17,-12,19,14z />
<path fill=#cf3 d=M3271,2849l-19,-10,17,-47,19,42z />
<path stroke=#600 stroke-width=8 d=M3271,2514l15,-11 />
<path fill=#f80 d=M3272,2322l-19,58,17,-34,19,-52z />
<path fill=#d00 d=M3272,2561l-19,-37,18,-12,18,34z />
<path fill=#ef1 d=M3272,2857l-18,-10,17,-1,19,14z />
<path fill=#f40 d=M3274,2381l-19,-62,17,2,19,46z />
<path fill=#f00 d=M3274,2571l-19,-3,17,-11,19,17z />
<path fill=#ef1 d=M3275,2203l-19,-29,17,-5,19,3z />
<path fill=#f70 d=M3275,2353l-19,73,18,-49,18,-29z />
<path fill=#f40 d=M3275,2645l-18,-63,17,-15,19,43z />
<path fill=#bf4 d=M3277,2226l-19,3,17,-29,19,-8z />
<path fill=#c00 d=M3277,2374l-19,-16,17,-3,19,12z />
<path fill=#f40 d=M3277,2633l-19,-5,17,13,19,3z />
<path fill=#ff0 d=M3278,2224l-19,-1,17,1,19,14z />
<path fill=#f00 d=M3278,2427l-19,-48,18,-10,18,59z />
<path fill=#f90 d=M3278,2697l-18,-23,17,-45,19,33z />
<path fill=#fa0 d=M3280,2227l-19,8,17,-11,19,-8z />
<path fill=#f00 d=M3280,2412l-19,31,17,-18,19,-25z />
<path fill=#fa0 d=M3280,2715l-19,-31,17,8,19,42z />
<path fill=#f80 d=M3281,2263l-19,-39,18,1,18,32z />
<path fill=#b00 d=M3281,2436l-18,-13,17,-12,19,33z />
<path fill=#fc0 d=M3282,2745l-19,-15,17,-18,19,13z />
<path fill=#fb0 d=M3283,2264l-19,35,17,-39,19,-21z />
<path fill=#f20 d=M3283,2508l-19,-58,17,-19,19,55z />
<path fill=#fd0 d=M3283,2777l-19,-23,17,-13,19,34z />
<path fill=#f80 d=M3284,2324l-19,-66,18,4,18,27z />
<path fill=#f10 d=M3284,2479l-18,42,17,-16,19,-38z />
<path fill=#af5 d=M3285,2834l-19,-22,17,-40,19,27z />
<path fill=#fc0 d=M3286,2327l-19,6,17,-13,19,-25z />
<path fill=#b00 d=M3286,2505l-19,-14,17,-12,19,14z />
<path fill=#ef1 d=M3286,2834l-19,-42,17,39,19,28z />
<path stroke=#600 stroke-width=8 d=M3286,2503l15,-10 />
<path fill=#f50 d=M3287,2296l-18,52,17,-21,19,-23z />
<path fill=#d00 d=M3288,2547l-19,-35,17,-12,19,55z />
<path fill=#cf3 d=M3288,2861l-19,-14,17,-16,19,15z />
<path fill=#f40 d=M3289,2368l-19,-45,17,-29,19,48z />
<path fill=#f10 d=M3289,2575l-19,-17,17,-15,19,18z />
<path fill=#f50 d=M3291,2349l-19,30,17,-14,19,-10z />
<path fill=#f20 d=M3291,2611l-19,-43,17,3,19,36z />
<path fill=#ff0 d=M3292,2195l-19,8,17,-32,19,6z />
<path fill=#d00 d=M3292,2368l-19,-13,17,-5,19,2z />
<path fill=#f80 d=M3292,2645l-19,-3,17,-36,19,14z />
<path fill=#df2 d=M3293,2239l-18,-13,17,-35,19,8z />
<path fill=#f20 d=M3294,2428l-19,-58,17,-7,19,64z />
<path fill=#f50 d=M3294,2664l-19,-33,17,12,19,19z />
<path fill=#fb0 d=M3295,2217l-19,8,17,13,19,-22z />
<path fill=#f00 d=M3295,2401l-19,25,17,0,19,-37z />
<path fill=#fd0 d=M3295,2736l-19,-42,18,-35,18,10z />
<path fill=#fa0 d=M3297,2257l-19,-32,17,-10,19,39z />
<path fill=#d00 d=M3297,2445l-19,-34,17,-12,19,49z />
<path fill=#fc0 d=M3297,2724l-19,-12,17,20,19,18z />
<path fill=#f70 d=M3298,2241l-19,21,17,-6,19,-26z />
<path fill=#f00 d=M3298,2487l-19,-55,18,9,18,36z />
<path fill=#fe0 d=M3298,2776l-18,-33,17,-21,19,23z />
<path fill=#f70 d=M3300,2291l-19,-27,17,-25,19,31z />
<path fill=#f10 d=M3300,2469l-19,38,17,-22,19,-28z />
<path fill=#ef1 d=M3300,2801l-19,-27,17,-2,19,25z />
<path fill=#fa0 d=M3301,2298l-19,24,17,-35,19,7z />
<path fill=#b00 d=M3301,2494l-19,-13,18,-12,18,13z />
<path fill=#7f8 d=M3301,2860l-18,-29,17,-35,19,22z />
<path stroke=#600 stroke-width=8 d=M3301,2493l16,-11 />
<path fill=#f60 d=M3303,2306l-19,22,17,-31,19,-7z />
<path fill=#f00 d=M3303,2555l-19,-54,17,-12,19,68z />
<path fill=#bf4 d=M3303,2845l-19,-14,17,25,19,23z />
<path fill=#f20 d=M3304,2344l-19,-48,18,8,18,19z />
<path fill=#f10 d=M3304,2561l-18,-18,17,9,19,9z />
<path fill=#f50 d=M3306,2357l-19,9,17,-26,19,-8z />
<path fill=#f40 d=M3306,2608l-19,-36,17,-14,19,32z />
<path fill=#e00 d=M3307,2353l-18,-2,17,5,19,-7z />
<path fill=#f50 d=M3308,2623l-19,-15,17,-4,19,4z />
<path fill=#fd0 d=M3309,2202l-19,-8,17,-18,19,22z />
<path fill=#f30 d=M3309,2428l-19,-64,17,-15,19,63z />
<path fill=#f80 d=M3309,2663l-19,-20,17,-25,19,39z />
<path fill=#fe0 d=M3310,2217l-19,23,18,-41,18,-5z />
<path fill=#f10 d=M3310,2390l-18,37,17,-1,19,-49z />
<path fill=#f70 d=M3311,2671l-19,-10,17,-1,19,45z />
<path fill=#fb0 d=M3312,2255l-19,-39,17,-1,19,30z />
<path fill=#f00 d=M3312,2448l-19,-49,17,-12,19,71z />
<path fill=#ef1 d=M3312,2752l-19,-18,17,-67,19,29z />
<path fill=#f80 d=M3313,2230l-18,27,17,-4,19,-10z />
<path fill=#f30 d=M3314,2478l-19,-37,17,3,19,24z />
<path fill=#fd0 d=M3314,2745l-19,-23,17,25,19,35z />
<path fill=#f50 d=M3315,2272l-19,-30,17,-12,19,11z />
<path fill=#f00 d=M3315,2458l-19,28,17,-10,19,-30z />
<path fill=#df2 d=M3315,2799l-19,-25,18,-32,18,24z />
<path fill=#f80 d=M3317,2297l-19,-8,17,-21,19,-10z />
<path fill=#b00 d=M3317,2483l-19,-13,17,-12,19,13z />
<path fill=#cf3 d=M3317,2820l-19,-22,17,-3,19,28z />
<path stroke=#600 stroke-width=8 d=M3317,2482l15,-11 />
<path fill=#f40 d=M3318,2291l-19,7,17,-3,19,6z />
<path fill=#f10 d=M3318,2559l-19,-69,17,-12,19,53z />
<path fill=#5fa d=M3318,2879l-19,-22,18,-42,18,32z />
<path fill=#f30 d=M3320,2324l-19,-18,17,-16,19,14z />
<path fill=#f40 d=M3320,2561l-19,-10,17,2,19,9z />
<path fill=#f30 d=M3321,2335l-19,7,17,-21,19,4z />
<path fill=#f30 d=M3321,2591l-19,-32,18,0,18,34z />
<path fill=#f10 d=M3323,2350l-19,8,17,-25,19,-11z />
<path fill=#f50 d=M3323,2609l-19,-4,17,-17,19,18z />
<path fill=#f30 d=M3324,2414l-19,-64,17,-4,19,63z />
<path fill=#f70 d=M3324,2659l-19,-39,18,-14,19,36z />
<path fill=#fa0 d=M3326,2196l-19,6,17,-4,19,-20z />
<path fill=#f20 d=M3326,2379l-19,48,17,-15,19,-45z />
<path fill=#fc0 d=M3326,2705l-19,-45,17,-6,19,10z />
<path fill=#fc0 d=M3327,2246l-19,-30,17,-23,19,38z />
<path fill=#f20 d=M3327,2458l-19,-71,18,-12,18,96z />
<path fill=#f90 d=M3327,2698l-18,-30,17,34,19,26z />
<path fill=#fc0 d=M3329,2243l-19,10,17,-10,19,7z />
<path fill=#f40 d=M3329,2469l-19,-25,17,11,19,-8z />
<path fill=#bf4 d=M3329,2783l-19,-34,17,-56,19,32z />
<path fill=#f40 d=M3330,2242l-19,-11,18,13,18,-12z />
<path fill=#f00 d=M3330,2448l-18,30,17,-10,19,-32z />
<path fill=#ff0 d=M3331,2765l-19,-23,17,37,19,22z />
<path fill=#f40 d=M3332,2260l-19,11,17,-31,19,5z />
<path fill=#b00 d=M3332,2473l-19,-14,17,-12,19,14z />
<path fill=#af5 d=M3332,2826l-19,-29,17,-34,19,20z />
<path stroke=#600 stroke-width=8 d=M3332,2471l15,-10 />
<path fill=#f60 d=M3333,2303l-19,-7,18,-39,18,13z />
<path fill=#f00 d=M3333,2533l-18,-53,17,-12,19,34z />
<path fill=#9f6 d=M3334,2849l-19,-32,17,4,19,17z />
<path fill=#f20 d=M3335,2305l-19,-14,17,10,19,-9z />
<path fill=#f60 d=M3335,2564l-19,-9,17,-27,19,-5z />
<path fill=#f20 d=M3336,2327l-18,-4,17,-20,19,13z />
<path fill=#f60 d=M3337,2594l-19,-35,17,1,19,9z />
<path fill=#d00 d=M3338,2324l-19,11,17,-9,19,-11z />
<path fill=#f60 d=M3338,2607l-19,-19,17,2,19,23z />
<path fill=#f40 d=M3340,2411l-19,-64,17,-27,19,57z />
<path fill=#f60 d=M3340,2644l-19,-37,17,-2,19,15z />
<path fill=#f20 d=M3341,2368l-19,45,17,-5,19,-52z />
<path fill=#fa0 d=M3341,2665l-19,-9,17,-17,19,33z />
<path fill=#fb0 d=M3342,2233l-18,-38,17,-19,19,38z />
<path fill=#f40 d=M3343,2472l-19,-96,17,-12,19,80z />
<path fill=#ef1 d=M3343,2729l-19,-27,17,-41,19,27z />
<path fill=#fd0 d=M3344,2251l-19,-7,17,-15,19,1z />
<path fill=#f60 d=M3344,2448l-19,7,17,13,19,-37z />
<path fill=#fc0 d=M3344,2726l-19,-31,18,31,18,18z />
<path fill=#f60 d=M3346,2232l-19,12,17,7,19,-30z />
<path fill=#f00 d=M3346,2437l-19,33,17,-22,19,-21z />
<path fill=#8f7 d=M3346,2802l-19,-22,17,-58,19,25z />
<path fill=#f20 d=M3347,2247l-19,-6,17,-9,19,0z />
<path fill=#b00 d=M3347,2462l-19,-13,18,-12,18,13z />
<path fill=#df2 d=M3347,2783l-18,-20,17,36,19,19z />
<path stroke=#600 stroke-width=8 d=M3347,2461l15,-11 />
<path fill=#f20 d=M3349,2273l-19,-13,17,-15,19,20z />
<path fill=#d00 d=M3349,2504l-19,-34,17,-12,19,37z />
<path fill=#8f7 d=M3349,2841l-19,-18,17,-43,19,23z />
<path fill=#f30 d=M3350,2293l-19,9,17,-32,19,9z />
<path fill=#f20 d=M3350,2526l-19,5,18,-32,18,10z />
<path fill=#f20 d=M3352,2317l-19,-13,17,-14,19,28z />
<path fill=#f50 d=M3352,2572l-19,-9,17,-41,19,24z />
<path fill=#e00 d=M3353,2316l-19,11,18,-11,18,-15z />
<path fill=#f80 d=M3353,2614l-18,-23,17,-24,19,17z />
<path fill=#f10 d=M3355,2379l-19,-58,17,-9,19,68z />
<path fill=#f70 d=M3355,2620l-19,-16,17,7,19,35z />
<path fill=#f20 d=M3356,2357l-18,53,17,-34,19,-31z />
<path fill=#fb0 d=M3357,2674l-19,-33,17,-24,19,28z />
<path fill=#f30 d=M3358,2446l-19,-80,17,-12,19,97z />
<path fill=#fb0 d=M3358,2690l-19,-27,17,7,19,14z />
<path fill=#fc0 d=M3359,2232l-19,-1,18,-19,18,-5z />
<path fill=#f70 d=M3359,2433l-18,37,17,-28,19,-45z />
<path fill=#cf3 d=M3360,2745l-19,-19,17,-41,19,27z />
<path fill=#f80 d=M3361,2222l-19,30,17,-21,19,-25z />
<path fill=#f00 d=M3361,2429l-19,21,17,-17,19,-18z />
<path fill=#ff0 d=M3361,2749l-19,-25,17,17,19,34z />
<path fill=#f30 d=M3362,2233l-18,-1,17,-10,19,32z />
<path fill=#b00 d=M3363,2451l-19,-13,17,-10,19,11z />
<path fill=#6f9 d=M3363,2820l-19,-20,17,-55,19,19z />
<path stroke=#600 stroke-width=8 d=M3362,2450l16,-11 />
<path fill=#f20 d=M3364,2266l-19,-20,17,-15,19,19z />
<path fill=#d00 d=M3364,2497l-19,-37,17,-12,19,21z />
<path fill=#cf3 d=M3364,2804l-19,-23,18,35,18,20z />
<path fill=#f20 d=M3366,2281l-19,-10,17,-8,19,9z />
<path fill=#f00 d=M3366,2511l-19,-10,17,-8,19,10z />
<path fill=#f30 d=M3367,2320l-19,-28,17,-14,19,10z />
<path fill=#f10 d=M3367,2549l-19,-24,17,-17,19,2z />
<path fill=#e00 d=M3369,2302l-19,14,17,2,19,-7z />
<path fill=#f50 d=M3369,2587l-19,-17,17,-26,19,28z />
<path fill=#f20 d=M3370,2382l-19,-68,17,-15,19,40z />
<path fill=#fb0 d=M3370,2647l-19,-35,18,-30,18,22z />
<path fill=#f10 d=M3372,2346l-19,31,17,1,19,-21z />
<path fill=#f90 d=M3372,2645l-19,-28,17,26,19,22z />
<path fill=#f40 d=M3373,2452l-19,-97,17,-12,19,78z />
<path fill=#fd0 d=M3373,2685l-19,-14,18,-29,18,33z />
<path fill=#f40 d=M3375,2399l-19,45,17,5,19,-56z />
<path fill=#fe0 d=M3375,2714l-19,-26,17,-7,19,27z />
<path fill=#f60 d=M3376,2208l-19,26,17,-26,19,-33z />
<path fill=#e00 d=M3376,2417l-19,18,18,-35,18,5z />
<path fill=#af5 d=M3376,2776l-18,-33,17,-33,19,16z />
<path fill=#f50 d=M3378,2255l-19,-32,17,-17,19,14z />
<path fill=#b00 d=M3378,2440l-19,-11,17,-14,19,13z />
<path fill=#df2 d=M3378,2765l-19,-18,17,26,19,15z />
<path stroke=#600 stroke-width=8 d=M3378,2439l15,-11 />
<path fill=#f20 d=M3379,2250l-19,-19,18,22,18,1z />
<path fill=#c00 d=M3379,2470l-18,-21,17,-12,19,24z />
<path fill=#5fa d=M3380,2837l-19,-19,17,-56,19,18z />
<path fill=#f20 d=M3381,2272l-19,-8,17,-17,19,32z />
<path fill=#f00 d=M3381,2505l-19,-11,17,-28,19,35z />
<path fill=#f10 d=M3382,2289l-19,-9,18,-10,18,24z />
<path fill=#d00 d=M3382,2511l-18,-1,17,-8,19,20z />
<path fill=#f20 d=M3384,2312l-19,7,17,-32,19,2z />
<path fill=#f30 d=M3384,2575l-19,-28,17,-40,19,40z />
<path fill=#e00 d=M3385,2340l-18,-40,17,10,19,36z />
<path fill=#f70 d=M3386,2607l-19,-23,17,-15,19,28z />
<path fill=#f40 d=M3387,2358l-19,22,17,-44,19,8z />
<path fill=#fe0 d=M3387,2666l-19,-22,17,-42,19,25z />
<path fill=#f30 d=M3389,2422l-19,-78,17,11,19,53z />
<path fill=#fc0 d=M3389,2675l-19,-32,17,19,19,13z />
<path fill=#f60 d=M3390,2394l-19,56,17,-32,19,-38z />
<path fill=#fe0 d=M3390,2709l-19,-26,17,-11,19,12z />
<path fill=#c00 d=M3392,2406l-19,-5,17,-5,19,-2z />
<path fill=#ff0 d=M3392,2728l-19,-16,17,-7,19,21z />
<path fill=#f30 d=M3393,2222l-19,-14,17,-33,19,48z />
<path fill=#b00 d=M3393,2430l-19,-14,17,-12,19,14z />
<path fill=#7f8 d=M3393,2789l-19,-15,18,-51,18,37z />
<path stroke=#600 stroke-width=8 d=M3393,2428l15,-10 />
<path fill=#f60 d=M3395,2255l-19,-1,17,-36,19,17z />
<path fill=#c00 d=M3395,2463l-19,-24,17,-12,19,13z />
<path fill=#cf3 d=M3395,2781l-19,-18,17,23,19,29z />
<path fill=#f40 d=M3396,2279l-19,-32,17,5,19,31z />
<path fill=#f00 d=M3396,2502l-19,-34,18,-10,18,29z />
<path fill=#f30 d=M3398,2294l-19,-24,17,7,19,21z />
<path fill=#f10 d=M3398,2523l-19,-20,17,-4,19,-2z />
<path fill=#f00 d=M3399,2290l-19,-2,17,5,19,4z />
<path fill=#f00 d=M3399,2548l-19,-39,18,11,18,38z />
<path fill=#f20 d=M3401,2348l-19,-37,17,-23,19,13z />
<path fill=#f60 d=M3401,2599l-19,-27,17,-28,19,15z />
<path fill=#f10 d=M3402,2346l-19,-8,18,6,18,-8z />
<path fill=#f90 d=M3402,2630l-18,-26,17,-10,19,21z />
<path fill=#f40 d=M3404,2409l-19,-53,17,-14,19,39z />
<path fill=#ef1 d=M3404,2677l-19,-13,17,-39,19,29z />
<path fill=#f40 d=M3405,2382l-18,39,17,-15,19,-48z />
<path fill=#fe0 d=M3406,2684l-19,-12,17,1,19,46z />
<path fill=#c00 d=M3407,2396l-19,1,17,-15,19,2z />
<path fill=#ef1 d=M3407,2727l-19,-21,17,-25,19,33z />
<path fill=#b00 d=M3408,2419l-18,-14,17,-12,19,26z />
<path fill=#cf3 d=M3409,2763l-19,-37,17,-3,19,13z />
<path stroke=#600 stroke-width=8 d=M3408,2418l16,0 />
<path fill=#f30 d=M3410,2237l-19,-17,17,1,19,-6z />
<path fill=#b00 d=M3410,2442l-19,-14,17,-12,19,14z />
<path fill=#5fa d=M3410,2816l-19,-29,17,-29,19,1z />
<path fill=#f70 d=M3411,2284l-18,-32,17,-19,19,35z />
<path fill=#f00 d=M3412,2489l-19,-29,17,-23,19,48z />
<path fill=#f70 d=M3413,2297l-19,-21,17,4,19,27z />
<path fill=#f00 d=M3413,2498l-19,2,17,-15,19,17z />
<path fill=#f30 d=M3414,2297l-18,-4,17,4,19,-12z />
<path fill=#f40 d=M3415,2559l-19,-39,17,-25,19,39z />
<path fill=#d00 d=M3416,2303l-19,-13,17,7,19,-3z />
<path fill=#f30 d=M3416,2560l-19,-15,17,10,19,25z />
<path fill=#f20 d=M3418,2338l-19,8,17,-47,19,29z />
<path fill=#f90 d=M3418,2618l-19,-21,17,-40,19,35z />
<path fill=#f30 d=M3419,2382l-19,-39,17,-9,19,44z />
<path fill=#fc0 d=M3419,2656l-19,-29,18,-15,18,28z />
<path fill=#f20 d=M3421,2360l-19,49,17,-28,19,-33z />
<path fill=#bf4 d=M3421,2720l-19,-46,17,-23,19,12z />
<path fill=#c00 d=M3422,2385l-19,-1,17,-24,19,13z />
<path fill=#ef1 d=M3422,2713l-19,-32,18,35,18,20z />
<path fill=#c00 d=M3424,2420l-19,-26,17,-12,19,34z />
<path fill=#df2 d=M3424,2737l-19,-13,17,-13,19,27z />
<path stroke=#600 stroke-width=8 d=M3424,2418l15,-3 />
<path fill=#b00 d=M3425,2431l-19,-14,18,0,18,2z />
<path fill=#bf4 d=M3425,2762l-18,-2,17,-27,19,39z />
<path fill=#f60 d=M3427,2270l-19,-36,17,-22,19,65z />
<path fill=#e00 d=M3427,2486l-19,-47,17,-12,19,43z />
<path fill=#fa0 d=M3428,2308l-19,-27,18,-16,18,15z />
<path fill=#f20 d=M3428,2503l-18,-17,17,-4,19,11z />
<path fill=#f50 d=M3430,2284l-19,12,17,10,19,-1z />
<path fill=#f20 d=M3430,2535l-19,-39,17,4,19,26z />
<path fill=#f00 d=M3431,2295l-19,3,18,-12,18,-14z />
<path fill=#f80 d=M3431,2581l-18,-26,17,-25,19,28z />
<path fill=#e00 d=M3433,2331l-19,-29,17,-9,19,8z />
<path fill=#f60 d=M3433,2593l-19,-35,17,19,19,24z />
<path fill=#f30 d=M3434,2380l-18,-44,17,-10,19,9z />
<path fill=#fb0 d=M3435,2643l-19,-28,17,-25,19,6z />
<path fill=#f10 d=M3436,2349l-19,33,17,-4,19,-33z />
<path fill=#fe0 d=M3436,2665l-19,-11,17,-16,19,19z />
<path fill=#b00 d=M3438,2375l-19,-14,17,-12,19,14z />
<path fill=#8f7 d=M3438,2737l-19,-20,17,-58,19,40z />
<path fill=#d00 d=M3439,2417l-19,-34,17,-12,19,27z />
<path fill=#af5 d=M3439,2737l-19,-27,17,23,19,29z />
<path stroke=#600 stroke-width=8 d=M3439,2415l15,-18 />
<path fill=#c00 d=M3441,2419l-19,-1,17,-3,19,-8z />
<path fill=#af5 d=M3441,2773l-19,-39,17,1,19,19z />
<path fill=#e00 d=M3442,2471l-19,-43,17,-12,19,57z />
<path fill=#f80 d=M3444,2282l-19,-15,17,7,19,-13z />
<path fill=#f20 d=M3444,2495l-19,-11,17,-16,19,-1z />
<path fill=#fa0 d=M3445,2305l-19,2,17,-28,19,6z />
<path fill=#f40 d=M3445,2526l-19,-26,18,-9,18,38z />
<path fill=#f00 d=M3447,2272l-19,13,17,21,19,-13z />
<path fill=#f60 d=M3447,2559l-19,-27,17,-9,19,38z />
<path fill=#d00 d=M3448,2303l-19,-8,17,-23,19,25z />
<path fill=#fa0 d=M3448,2602l-19,-24,18,-23,18,14z />
<path fill=#f10 d=M3450,2337l-19,-9,17,-29,19,38z />
<path fill=#f70 d=M3450,2596l-19,-6,17,8,19,36z />
<path fill=#f20 d=M3451,2347l-19,33,18,-45,18,-8z />
<path fill=#fd0 d=M3451,2660l-18,-20,17,-47,19,28z />
<path fill=#b00 d=M3453,2364l-19,-13,17,-5,19,6z />
<path fill=#ef1 d=M3453,2702l-19,-40,17,-8,19,36z />
<path fill=#c00 d=M3454,2399l-19,-27,18,-12,19,41z />
<path fill=#5fa d=M3455,2762l-19,-28,17,-39,19,37z />
<path stroke=#600 stroke-width=8 d=M3454,2397l16,2 />
<path fill=#d00 d=M3456,2409l-19,7,17,-20,19,1z />
<path fill=#9f6 d=M3456,2753l-19,-18,17,24,19,18z />
<path fill=#f00 d=M3457,2474l-18,-57,17,-12,19,55z />
<path fill=#f10 d=M3459,2468l-19,1,17,2,19,-6z />
<path fill=#f70 d=M3460,2287l-18,-6,17,-21,19,13z />
<path fill=#f50 d=M3461,2530l-19,-38,17,-27,19,43z />
<path fill=#f60 d=M3462,2293l-19,13,17,-21,19,-7z />
<path fill=#f70 d=M3462,2562l-19,-39,17,3,19,9z />
<path fill=#d00 d=M3463,2297l-18,-26,17,22,19,20z />
<path fill=#f70 d=M3464,2570l-19,-14,17,2,19,22z />
<path fill=#f00 d=M3465,2339l-19,-39,17,-6,19,26z />
<path fill=#fd0 d=M3465,2636l-19,-36,17,-33,19,13z />
<path fill=#d00 d=M3467,2329l-19,8,17,0,19,-20z />
<path fill=#f90 d=M3467,2622l-19,-28,17,38,19,31z />
<path fill=#b00 d=M3468,2353l-19,-6,17,-19,19,13z />
<path fill=#ef1 d=M3468,2693l-19,-36,18,-38,18,26z />
<path fill=#e00 d=M3470,2402l-19,-41,17,-12,19,38z />
<path fill=#9f6 d=M3470,2735l-19,-37,17,-11,19,11z />
<path stroke=#600 stroke-width=8 d=M3470,2399l15,-13 />
<path fill=#c00 d=M3471,2398l-19,-1,17,3,19,-14z />
<path fill=#2fd d=M3471,2777l-19,-18,18,-30,18,31z />
<path fill=#f00 d=M3473,2461l-19,-55,17,-12,19,66z />
<path fill=#f30 d=M3474,2467l-19,5,18,-14,18,-19z />
<path fill=#f20 d=M3476,2510l-19,-44,17,-2,19,31z />
<path fill=#f50 d=M3477,2280l-19,7,18,-15,18,-4z />
<path fill=#f70 d=M3477,2537l-18,-10,17,-22,19,14z />
<path fill=#f40 d=M3479,2313l-19,-20,17,-15,19,12z />
<path fill=#fa0 d=M3479,2581l-19,-22,17,-27,19,29z />
<path fill=#f10 d=M3480,2320l-19,-26,18,16,18,32z />
<path fill=#f80 d=M3480,2582l-18,-14,17,10,19,35z />
<path fill=#e00 d=M3482,2318l-19,20,17,-19,19,-13z />
<path fill=#df2 d=M3482,2663l-19,-31,17,-55,19,35z />
<path fill=#b00 d=M3483,2343l-18,-14,17,-12,19,14z />
<path fill=#fc0 d=M3484,2645l-19,-26,17,41,19,18z />
<path fill=#d00 d=M3485,2389l-19,-38,17,-12,19,30z />
<path fill=#cf3 d=M3485,2701l-19,-10,17,-49,19,32z />
<path stroke=#600 stroke-width=8 d=M3485,2386l15,-17 />
<path fill=#e00 d=M3487,2386l-19,14,17,-14,19,2z />
<path fill=#5fa d=M3487,2764l-19,-32,17,-37,19,22z />
<path fill=#f10 d=M3488,2461l-19,-66,17,-12,19,59z />
<path fill=#f20 d=M3490,2440l-19,19,17,-2,19,-15z />
<path fill=#f30 d=M3491,2497l-19,-32,17,-27,19,34z />
<path fill=#f50 d=M3493,2521l-19,-14,17,-14,19,18z />
<path fill=#f20 d=M3494,2292l-19,-12,17,-12,19,-3z />
<path fill=#f80 d=M3494,2563l-19,-29,18,-17,18,27z />
<path fill=#f60 d=M3496,2342l-19,-32,17,-23,19,37z />
<path fill=#fd0 d=M3496,2613l-19,-34,17,-21,19,20z />
<path fill=#e00 d=M3497,2307l-19,12,17,23,19,-33z />
<path fill=#fb0 d=M3497,2613l-19,-35,18,31,18,34z />
<path fill=#b00 d=M3499,2332l-19,-13,17,-12,19,13z />
<path fill=#bf4 d=M3499,2678l-19,-18,17,-51,19,38z />
<path fill=#c00 d=M3500,2371l-19,-30,18,-12,18,22z />
<path fill=#ff0 d=M3500,2674l-18,-31,17,33,19,21z />
<path stroke=#600 stroke-width=8 d=M3500,2369l15,-18 />
<path fill=#f00 d=M3502,2389l-19,-2,17,-20,19,2z />
<path fill=#bf4 d=M3502,2721l-19,-22,17,-28,19,21z />
<path fill=#f10 d=M3503,2443l-19,-59,18,1,18,48z />
<path fill=#f40 d=M3505,2443l-19,15,17,-19,19,-16z />
<path fill=#f00 d=M3506,2474l-18,-35,17,2,19,28z />
<path fill=#f50 d=M3508,2512l-19,-18,17,-25,19,41z />
<path fill=#f70 d=M3510,2545l-19,-27,17,-10,19,33z />
<path fill=#f40 d=M3511,2327l-19,-37,17,-27,19,39z />
<path fill=#fa0 d=M3511,2580l-19,-19,17,-20,19,21z />
<path fill=#f40 d=M3512,2309l-18,33,17,-18,19,-23z />
<path fill=#df2 d=M3513,2644l-19,-34,17,-35,19,26z />
<path fill=#b00 d=M3514,2321l-19,-14,17,3,19,-1z />
<path fill=#ff0 d=M3514,2648l-19,-38,17,30,19,25z />
<path fill=#c00 d=M3516,2353l-19,-23,17,-12,19,22z />
<path fill=#9f6 d=M3516,2698l-19,-22,17,-31,19,15z />
<path stroke=#600 stroke-width=8 d=M3515,2351l16,-12 />
<path fill=#d00 d=M3517,2371l-19,-2,17,-19,19,17z />
<path fill=#df2 d=M3517,2693l-19,-21,18,23,18,23z />
<path fill=#f20 d=M3519,2435l-19,-48,17,-20,19,39z />
<path fill=#f20 d=M3520,2424l-19,17,17,-10,19,-14z />
<path fill=#f20 d=M3522,2470l-19,-28,17,-20,19,36z />
<path fill=#f50 d=M3523,2511l-19,-41,18,-4,18,24z />
<path fill=#f80 d=M3525,2542l-19,-33,17,-3,19,35z />
<path fill=#f90 d=M3526,2563l-18,-20,17,-4,19,14z />
<path fill=#f30 d=M3528,2303l-19,23,17,-25,19,-19z />
<path fill=#fc0 d=M3528,2604l-19,-26,17,-19,19,32z />
<path fill=#c00 d=M3529,2310l-19,1,18,-8,18,-5z />
<path fill=#9f6 d=M3529,2666l-18,-25,17,-43,19,32z />
<path fill=#c00 d=M3531,2341l-19,-22,17,-12,19,24z />
<path fill=#cf3 d=M3531,2661l-19,-16,17,17,19,28z />
<path stroke=#600 stroke-width=8 d=M3531,2339l15,-8 />
<path fill=#d00 d=M3532,2368l-18,-17,17,-14,19,28z />
<path fill=#7f8 d=M3533,2719l-19,-23,17,-38,19,14z />
<path fill=#f00 d=M3534,2407l-19,-39,17,-4,19,40z />
<path fill=#f30 d=M3536,2419l-19,14,17,-29,19,4z />
<path fill=#f20 d=M3537,2460l-19,-37,17,-7,19,33z />
<path fill=#f50 d=M3539,2491l-19,-24,17,-12,19,36z />
<path fill=#fa0 d=M3540,2542l-19,-35,17,-21,19,37z />
<path fill=#fb0 d=M3542,2554l-19,-15,17,-1,19,22z />
<path fill=#fc0 d=M3543,2593l-19,-32,17,-10,19,33z />
<path fill=#d00 d=M3545,2299l-19,5,17,-21,19,4z />
<path fill=#ef1 d=M3545,2633l-19,-31,17,-13,19,11z />
<path fill=#c00 d=M3546,2333l-19,-24,17,-12,19,22z />
<path fill=#7f8 d=M3546,2691l-19,-28,18,-36,18,18z />
<path stroke=#600 stroke-width=8 d=M3546,2331l15,-13 />
<path fill=#e00 d=M3548,2366l-19,-28,17,-9,19,30z />
<path fill=#bf4 d=M3548,2672l-19,-14,17,29,19,40z />
<path fill=#f10 d=M3549,2404l-19,-39,18,-3,18,22z />
<path fill=#f10 d=M3551,2410l-19,-4,17,-4,19,-14z />
<path fill=#f20 d=M3552,2450l-19,-33,18,-10,18,19z />
<path fill=#f60 d=M3554,2493l-19,-37,17,-10,19,20z />
<path fill=#f90 d=M3555,2525l-18,-38,17,1,19,22z />
<path fill=#fd0 d=M3557,2561l-19,-22,17,-18,19,8z />
<path fill=#fd0 d=M3559,2584l-19,-33,17,6,19,29z />
<path fill=#fe0 d=M3560,2602l-19,-12,17,-9,19,29z />
<path fill=#c00 d=M3561,2320l-18,-22,17,-12,19,28z />
<path fill=#cf3 d=M3562,2648l-19,-18,17,-32,19,42z />
<path stroke=#600 stroke-width=8 d=M3561,2318l16,-5 />
<path fill=#f00 d=M3563,2360l-19,-30,17,-14,19,26z />
<path fill=#3fc d=M3563,2727l-19,-39,17,-46,19,30z />
<path fill=#f20 d=M3565,2384l-19,-21,17,-7,19,36z />
<path fill=#f10 d=M3566,2389l-19,14,17,-20,19,-5z />
<path fill=#f10 d=M3568,2428l-19,-19,17,-23,19,43z />
<path fill=#f50 d=M3569,2468l-19,-20,17,-25,19,35z />
<path fill=#f90 d=M3571,2512l-19,-22,17,-27,19,29z />
<path fill=#fb0 d=M3572,2531l-19,-9,18,-14,18,31z />
<path fill=#ff0 d=M3574,2587l-19,-29,17,-32,19,49z />
<path fill=#ef1 d=M3575,2610l-18,-29,17,2,19,20z />
<path fill=#df2 d=M3577,2641l-19,-42,17,8,19,18z />
<path fill=#e00 d=M3578,2343l-19,-25,18,-6,18,11z />
<path fill=#af5 d=M3578,2676l-18,-30,17,-9,19,2z />
<path fill=#f30 d=M3580,2393l-19,-36,17,-18,19,19z />
<path fill=#f10 d=M3581,2379l-18,4,17,8,19,-16z />
<path fill=#f10 d=M3583,2429l-19,-42,17,-11,19,54z />
<path fill=#f40 d=M3585,2460l-19,-35,17,1,19,7z />
<path fill=#f70 d=M3586,2493l-19,-28,17,-10,19,31z />
<path fill=#fc0 d=M3588,2541l-19,-32,17,-20,19,11z />
<path fill=#fe0 d=M3589,2576l-19,-48,17,8,19,27z />
<path fill=#cf3 d=M3591,2604l-19,-20,17,-12,19,9z />
<path fill=#cf3 d=M3592,2626l-19,-18,17,-7,19,15z />
<path fill=#cf3 d=M3594,2641l-19,-2,17,-16,19,15z />
<path fill=#f00 d=M3595,2361l-19,-19,17,-21,19,14z />
<path fill=#f30 d=M3597,2377l-19,15,17,-35,19,1z />
<path fill=#f30 d=M3598,2431l-19,-54,18,-4,18,35z />
<path fill=#f40 d=M3600,2433l-19,-7,17,1,19,35z />
<path fill=#f70 d=M3601,2488l-19,-31,18,-26,18,31z />
<path fill=#f90 d=M3603,2502l-19,-11,17,-8,19,19z />
<path fill=#ff0 d=M3604,2565l-18,-27,17,-41,19,37z />
<path fill=#df2 d=M3606,2583l-19,-10,17,-12,19,16z />
<path fill=#bf4 d=M3608,2617l-19,-14,17,-23,19,18z />
<path fill=#bf4 d=M3609,2639l-19,-16,17,-10,19,39z />
<path fill=#f00 d=M3612,2360l-19,0,17,-27,19,11z />
<path fill=#f20 d=M3614,2409l-19,-34,17,-19,19,39z />
<path fill=#f90 d=M3615,2463l-19,-36,17,-24,19,33z />
<path fill=#f60 d=M3617,2463l-19,-32,17,29,19,17z />
<path fill=#fa0 d=M3618,2503l-19,-18,17,-25,19,24z />
<path fill=#fb0 d=M3620,2536l-19,-37,17,1,19,20z />
<path fill=#df2 d=M3621,2580l-19,-17,18,-32,18,14z />
<path fill=#df2 d=M3623,2599l-19,-18,17,-6,19,30z />
<path fill=#9f6 d=M3624,2654l-18,-39,17,-19,19,20z />
<path fill=#f10 d=M3629,2397l-19,-39,17,-16,19,36z />
<path fill=#f70 d=M3630,2438l-18,-33,17,-14,19,38z />
<path fill=#fc0 d=M3632,2477l-19,-17,17,-27,19,23z />
<path fill=#f90 d=M3633,2485l-18,-25,17,14,19,32z />
<path fill=#fb0 d=M3635,2521l-19,-20,17,-19,19,22z />
<path fill=#fd0 d=M3637,2547l-19,-13,17,-17,19,30z />
<path fill=#bf4 d=M3638,2607l-19,-30,17,-34,19,21z />
<path fill=#bf4 d=M3640,2617l-19,-20,17,6,19,18z />
<path fill=#f60 d=M3646,2431l-19,-37,17,-19,19,18z />
<path fill=#fa0 d=M3647,2457l-19,-22,18,-9,18,24z />
<path fill=#fe0 d=M3649,2507l-19,-32,17,-22,19,13z />
<path fill=#fb0 d=M3650,2504l-19,-22,18,22,18,14z />
<path fill=#fe0 d=M3652,2548l-19,-30,17,-17,19,38z />
<path fill=#fe0 d=M3653,2566l-18,-21,17,-1,19,21z />
<path fill=#9f6 d=M3655,2623l-19,-19,17,-43,19,31z />
<path fill=#fa0 d=M3663,2453l-19,-25,17,-38,19,31z />
<path fill=#fb0 d=M3664,2467l-19,-12,17,-7,19,33z />
<path fill=#ef1 d=M3666,2519l-19,-14,17,-41,19,23z />
<path fill=#fe0 d=M3667,2539l-19,-38,17,15,19,32z />
<path fill=#df2 d=M3669,2565l-19,-20,17,-10,19,35z />
<path fill=#df2 d=M3670,2594l-19,-31,18,0,18,20z />
<path fill=#fd0 d=M3679,2483l-18,-33,17,-32,19,21z />
<path fill=#fc0 d=M3681,2488l-19,-24,17,14,19,45z />
<path fill=#cf3 d=M3682,2549l-18,-32,17,-33,19,38z />
<path fill=#bf4 d=M3684,2570l-19,-35,17,10,19,22z />
<path fill=#bf4 d=M3686,2582l-19,-20,17,5,19,57z />
<path fill=#df2 d=M3696,2525l-19,-45,18,-44,18,15z />
<path fill=#ef1 d=M3698,2523l-19,-38,17,35,19,10z />
<path fill=#9f6 d=M3699,2568l-19,-22,18,-27,18,25z />
<path fill=#5fa d=M3701,2623l-19,-56,17,-3,19,18z />
<path fill=#af5 d=M3713,2532l-19,-10,17,-74,19,37z />
<path fill=#bf4 d=M3715,2545l-19,-25,17,7,19,17z />
<path fill=#8f7 d=M3716,2585l-19,-19,17,-24,19,10z />
<path fill=#9f6 d=M3730,2546l-19,-16,17,-47,19,13z />
<path fill=#af5 d=M3731,2553l-18,-9,17,-2,19,22z />
<path fill=#8f7 d=M3747,2566l-19,-22,17,-51,19,33z />
</g>
<path d="M244.7 269.0L310.4 315.8L376.2 269.7M244.7 269.0L244.7 237.8" fill="none" stroke="#1a1a1a" stroke-width="1.1"/>
<text x="305.7" y="324.7" font-size="7" text-anchor="middle" class="s">0</text>
<text x="292.6" y="315.3" font-size="7" text-anchor="middle" class="s">1</text>
<text x="279.4" y="306.0" font-size="7" text-anchor="middle" class="s">2</text>
<text x="266.3" y="296.6" font-size="7" text-anchor="middle" class="s">3</text>
<text x="253.1" y="287.3" font-size="7" text-anchor="middle" class="s">4</text>
<text x="240.0" y="277.9" font-size="7" text-anchor="middle" class="s">5</text>
<text x="319.7" y="321.8" font-size="7" text-anchor="middle" class="s">10</text>
<text x="334.7" y="311.3" font-size="7" text-anchor="middle" class="s">20</text>
<text x="349.7" y="300.8" font-size="7" text-anchor="middle" class="s">30</text>
<text x="364.7" y="290.3" font-size="7" text-anchor="middle" class="s">40</text>
<text x="379.7" y="279.8" font-size="7" text-anchor="middle" class="s">50</text>
<text x="241.7" y="240.0" font-size="6.6" text-anchor="end" class="s">-20</text>
<text x="241.7" y="245.2" font-size="6.6" text-anchor="end" class="s">-40</text>
<text x="241.7" y="250.4" font-size="6.6" text-anchor="end" class="s">-60</text>
<text x="241.7" y="255.6" font-size="6.6" text-anchor="end" class="s">-80</text>
<text x="241.7" y="260.8" font-size="6.6" text-anchor="end" class="s">-100</text>
<text x="241.7" y="266.0" font-size="6.6" text-anchor="end" class="s">-120</text>
<path d="M310.4 315.8l-2 1.4M297.3 306.4l-2 1.4M284.1 297.1l-2 1.4M271.0 287.7l-2 1.4M257.8 278.4l-2 1.4M244.7 269.0l-2 1.4M315.2 312.4l2 1.4M330.2 301.9l2 1.4M345.2 291.4l2 1.4M360.2 280.9l2 1.4M375.2 270.4l2 1.4M244.7 237.8l1.8 1.3M244.7 243.0l1.8 1.3M244.7 248.2l1.8 1.3M244.7 253.4l1.8 1.3M244.7 258.6l1.8 1.3M244.7 263.8l1.8 1.3" stroke="#1a1a1a" stroke-width="0.9"/>
<text x="261.6" y="320.0" font-size="6.65" text-anchor="middle">Frequency (Hz)</text>
<text x="357.3" y="320.0" font-size="6.65" text-anchor="middle">Time (secs)</text>
<defs><linearGradient id="jete" x1="0" y1="0" x2="0" y2="1"><stop offset="0.000" stop-color="#800000"/><stop offset="0.062" stop-color="#bf0000"/><stop offset="0.125" stop-color="#ff0000"/><stop offset="0.188" stop-color="#ff4000"/><stop offset="0.250" stop-color="#ff8000"/><stop offset="0.312" stop-color="#ffbf00"/><stop offset="0.375" stop-color="#ffff00"/><stop offset="0.438" stop-color="#bfff40"/><stop offset="0.500" stop-color="#80ff80"/><stop offset="0.562" stop-color="#40ffbf"/><stop offset="0.625" stop-color="#00ffff"/><stop offset="0.688" stop-color="#00bfff"/><stop offset="0.750" stop-color="#0080ff"/><stop offset="0.812" stop-color="#0040ff"/><stop offset="0.875" stop-color="#0000ff"/><stop offset="0.938" stop-color="#0000bf"/><stop offset="1.000" stop-color="#000080"/></linearGradient></defs>
<rect x="391" y="192.6" width="10.0" height="123.0" fill="url(#jete)" stroke="#333" stroke-width="0.8"/>
<text x="402.8" y="201.7" font-size="6.6" class="s">-20</text>
<text x="402.8" y="222.9" font-size="6.6" class="s">-40</text>
<text x="402.8" y="244.2" font-size="6.6" class="s">-60</text>
<text x="402.8" y="265.4" font-size="6.6" class="s">-80</text>
<text x="402.8" y="286.7" font-size="6.6" class="s">-100</text>
<text x="402.8" y="307.9" font-size="6.6" class="s">-120</text>
<path d="M401 199.3h-1.8M391 199.3h1.8M401 220.5h-1.8M391 220.5h1.8M401 241.8h-1.8M391 241.8h1.8M401 263.0h-1.8M391 263.0h1.8M401 284.3h-1.8M391 284.3h1.8M401 305.5h-1.8M391 305.5h1.8" stroke="#333" stroke-width="0.8"/>
<text transform="translate(421.9,254) rotate(-90)" style="font-family:"Liberation Sans", sans-serif" font-size="6.1" text-anchor="middle" class="s">Power/frequency (dB/Hz)</text>
<text x="323.7" y="348.3" font-size="12.5" text-anchor="middle">(e)</text>
<path d="M467.0 265.6L467.0 234.7M532.7 312.4L467.0 265.6M482.0 255.1L482.0 224.2M547.7 301.9L482.0 255.1M497.0 244.6L497.0 213.7M562.7 291.4L497.0 244.6M512.0 234.1L512.0 203.2M577.7 280.9L512.0 234.1M527.0 223.6L527.0 192.7M592.7 270.4L527.0 223.6M593.7 269.7L593.7 238.8M527.9 315.8L593.7 269.7M580.6 260.3L580.6 229.4M514.8 306.4L580.6 260.3M567.4 251.0L567.4 220.1M501.6 297.1L567.4 251.0M554.3 241.6L554.3 210.7M488.5 287.7L554.3 241.6M541.1 232.3L541.1 201.4M475.3 278.4L541.1 232.3M528.0 222.9L528.0 192.0M462.2 269.0L528.0 222.9M462.2 238.1L528.0 192.0L593.7 238.8M462.2 243.9L528.0 197.8L593.7 244.6M462.2 249.6L528.0 203.5L593.7 250.3M462.2 255.4L528.0 209.3L593.7 256.1M462.2 261.1L528.0 215.0L593.7 261.8M462.2 266.9L528.0 220.8L593.7 267.6M528.0 222.9L528.0 192.0" fill="none" stroke="#c4c4c4" stroke-width="0.7"/>
<g transform="scale(0.1)">
<path fill=#7f8 d=M4639,2551l-19,-20,17,-14,19,34z />
<path fill=#6f9 d=M4654,2551l-19,-34,18,12,18,20z />
<path fill=#5fa d=M4656,2577l-19,-29,17,0,19,14z />
<path fill=#3fc d=M4670,2550l-19,-20,17,-21,19,20z />
<path fill=#4fb d=M4671,2564l-19,-14,17,-3,19,-8z />
<path fill=#4fb d=M4673,2586l-19,-11,17,-15,19,23z />
<path fill=#4fb d=M4685,2530l-19,-21,17,0,19,52z />
<path fill=#4fb d=M4686,2539l-18,8,17,-20,19,52z />
<path fill=#4fb d=M4688,2585l-19,-23,17,-25,19,25z />
<path fill=#6f9 d=M4689,2568l-18,16,17,-3,19,34z />
<path fill=#1fe d=M4700,2563l-19,-52,17,-22,19,-1z />
<path fill=#0ff d=M4702,2579l-19,-52,17,31,19,-21z />
<path fill=#5fa d=M4703,2563l-19,-25,18,41,18,-44z />
<path fill=#1fe d=M4705,2615l-19,-33,17,-22,19,17z />
<path fill=#9f6 d=M4706,2586l-19,-18,18,47,18,-27z />
<path fill=#5fa d=M4715,2489l-18,1,17,34,19,-20z />
<path fill=#1fe d=M4717,2540l-19,22,17,-75,19,6z />
<path fill=#3fc d=M4719,2536l-19,44,17,-43,19,-11z />
<path fill=#5fa d=M4720,2580l-19,-17,17,-28,19,17z />
<path fill=#3fc d=M4722,2588l-19,27,17,-39,19,1z />
<path fill=#af5 d=M4723,2591l-19,-5,17,2,19,-11z />
<path fill=#0ff d=M4731,2505l-19,19,17,-56,19,25z />
<path fill=#8f7 d=M4732,2495l-19,-6,18,15,18,15z />
<path fill=#5fa d=M4734,2529l-19,11,17,-47,19,21z />
<path fill=#7f8 d=M4735,2554l-18,-17,17,-10,19,23z />
<path fill=#5fa d=M4737,2579l-19,-1,17,-28,19,26z />
<path fill=#9f6 d=M4738,2578l-18,11,17,-11,19,-4z />
<path fill=#cf3 d=M4740,2593l-19,-3,17,-13,19,16z />
<path fill=#4fb d=M4746,2496l-19,-25,17,-23,19,36z />
<path fill=#3fc d=M4748,2519l-19,-15,17,-11,19,-3z />
<path fill=#8f7 d=M4749,2515l-19,-21,17,24,19,10z />
<path fill=#6f9 d=M4751,2551l-19,-23,17,-15,19,25z />
<path fill=#5fa d=M4752,2577l-19,-26,18,-4,18,38z />
<path fill=#8f7 d=M4754,2575l-19,3,17,-3,19,1z />
<path fill=#bf4 d=M4755,2593l-19,-16,18,-3,18,17z />
<path fill=#cf3 d=M4757,2611l-19,-19,17,-1,19,29z />
<path fill=#5fa d=M4761,2486l-19,-37,18,-7,18,28z />
<path fill=#4fb d=M4763,2492l-19,3,17,-12,19,-20z />
<path fill=#3fc d=M4764,2528l-18,-10,17,-29,19,21z />
<path fill=#6f9 d=M4766,2539l-19,-26,17,13,19,12z />
<path fill=#3fc d=M4768,2586l-19,-38,17,-12,19,8z />
<path fill=#6f9 d=M4769,2576l-19,0,17,8,19,-25z />
<path fill=#9f6 d=M4771,2591l-19,-17,17,1,19,17z />
<path fill=#9f6 d=M4772,2620l-19,-29,17,-3,19,33z />
<path fill=#cf3 d=M4774,2617l-19,-7,17,9,19,-7z />
<path fill=#5fa d=M4777,2473l-19,-29,17,-31,19,15z />
<path fill=#6f9 d=M4778,2465l-19,20,17,-15,19,-24z />
<path fill=#6f9 d=M4780,2514l-19,-22,17,-30,19,5z />
<path fill=#4fb d=M4781,2539l-19,-12,18,-17,18,-15z />
<path fill=#6f9 d=M4783,2546l-19,-8,17,-2,19,7z />
<path fill=#5fa d=M4784,2560l-18,25,17,-42,19,11z />
<path fill=#7f8 d=M4786,2593l-19,-17,17,-18,19,11z />
<path fill=#7f8 d=M4787,2623l-18,-34,17,1,19,-10z />
<path fill=#af5 d=M4789,2613l-19,6,17,2,19,-34z />
<path fill=#ff0 d=M4791,2603l-19,15,17,-5,19,-12z />
<path fill=#9f6 d=M4792,2430l-19,-15,17,8,19,5z />
<path fill=#7f8 d=M4794,2448l-19,24,17,-45,19,36z />
<path fill=#af5 d=M4795,2469l-19,-4,17,-19,19,30z />
<path fill=#7f8 d=M4797,2498l-19,15,17,-47,19,25z />
<path fill=#5fa d=M4798,2544l-19,-6,17,-44,19,31z />
<path fill=#6f9 d=M4800,2555l-19,-11,17,-3,19,24z />
<path fill=#8f7 d=M4801,2571l-19,-11,17,-6,19,9z />
<path fill=#9f6 d=M4803,2581l-19,11,17,-24,19,23z />
<path fill=#af5 d=M4804,2589l-19,34,18,-43,18,-6z />
<path fill=#ef1 d=M4806,2602l-19,12,17,-26,19,13z />
<path fill=#6f9 d=M4807,2427l-19,-5,18,5,18,14z />
<path fill=#fe0 d=M4807,2638l-18,-35,17,-3,19,15z />
<path fill=#7f8 d=M4809,2464l-19,-36,17,-2,19,19z />
<path fill=#8f7 d=M4810,2476l-19,-30,18,16,18,-2z />
<path fill=#af5 d=M4812,2493l-19,-25,17,6,19,-2z />
<path fill=#8f7 d=M4813,2527l-18,-30,17,-8,19,25z />
<path fill=#4fb d=M4815,2566l-19,-23,17,-20,19,5z />
<path fill=#7f8 d=M4817,2564l-19,-9,17,9,19,-14z />
<path fill=#8f7 d=M4818,2593l-19,-23,17,-8,19,-9z />
<path fill=#cf3 d=M4820,2575l-19,6,17,10,19,0z />
<path fill=#ef1 d=M4821,2603l-19,-14,17,-15,19,20z />
<path fill=#3fc d=M4823,2442l-19,-14,17,-22,19,-4z />
<path fill=#fe0 d=M4823,2615l-19,-14,17,-1,19,24z />
<path fill=#6f9 d=M4824,2445l-19,-19,17,14,19,11z />
<path fill=#ff0 d=M4824,2637l-19,-1,18,-23,18,27z />
<path fill=#7f8 d=M4826,2460l-19,2,17,-19,19,19z />
<path fill=#8f7 d=M4827,2472l-19,2,17,-16,19,37z />
<path fill=#8f7 d=M4829,2517l-19,-25,17,-22,19,4z />
<path fill=#7f8 d=M4830,2531l-19,-5,18,-13,18,-9z />
<path fill=#6f9 d=M4832,2552l-19,14,17,-39,19,4z />
<path fill=#af5 d=M4833,2555l-18,9,17,-13,19,3z />
<path fill=#9f6 d=M4835,2593l-19,0,17,-40,19,-3z />
<path fill=#ef1 d=M4836,2594l-18,-19,17,16,19,-7z />
<path fill=#6f9 d=M4838,2403l-19,4,17,8,19,3z />
<path fill=#df2 d=M4838,2625l-19,-24,17,-9,19,3z />
<path fill=#3fc d=M4839,2452l-18,-11,17,-40,19,24z />
<path fill=#ff0 d=M4840,2641l-19,-27,17,8,19,-2z />
<path fill=#5fa d=M4841,2462l-19,-18,17,5,19,19z />
<path fill=#fe0 d=M4841,2644l-19,-8,17,3,19,8z />
<path fill=#6f9 d=M4843,2496l-19,-37,17,2,19,-9z />
<path fill=#bf4 d=M4844,2476l-19,-4,17,23,19,-31z />
<path fill=#9f6 d=M4846,2506l-19,9,17,-42,19,38z />
<path fill=#9f6 d=M4847,2534l-19,-4,17,-26,19,19z />
<path fill=#9f6 d=M4849,2555l-19,-3,17,-21,19,12z />
<path fill=#df2 d=M4850,2552l-19,3,17,-1,19,5z />
<path fill=#cf3 d=M4852,2586l-19,7,17,-43,19,9z />
<path fill=#2fd d=M4853,2419l-19,-3,17,-28,19,1z />
<path fill=#ff0 d=M4853,2597l-19,-3,18,-10,18,-3z />
<path fill=#7f8 d=M4855,2427l-19,-24,17,15,19,-17z />
<path fill=#ef1 d=M4855,2622l-19,2,17,-30,19,14z />
<path fill=#3fc d=M4856,2469l-19,-19,18,-27,18,28z />
<path fill=#ef1 d=M4856,2648l-18,-8,17,-21,19,3z />
<path fill=#7f8 d=M4858,2454l-19,8,17,6,19,-20z />
<path fill=#fc0 d=M4858,2645l-19,-2,17,4,19,-9z />
<path fill=#8f7 d=M4859,2463l-19,32,18,-44,18,52z />
<path fill=#af5 d=M4861,2513l-19,-38,17,-12,19,14z />
<path fill=#af5 d=M4862,2524l-18,-19,17,5,19,-10z />
<path fill=#af5 d=M4864,2545l-19,-13,17,-11,19,25z />
<path fill=#bf4 d=M4866,2559l-19,-5,17,-11,19,7z />
<path fill=#ff0 d=M4867,2561l-19,-10,17,7,19,12z />
<path fill=#5fa d=M4868,2392l-18,-1,17,-35,19,29z />
<path fill=#ff0 d=M4869,2583l-19,3,17,-27,19,10z />
<path fill=#6f9 d=M4870,2402l-19,16,17,-30,19,37z />
<path fill=#fe0 d=M4870,2610l-19,-14,17,-16,19,20z />
<path fill=#5fa d=M4872,2454l-19,-28,17,-26,19,10z />
<path fill=#fe0 d=M4872,2623l-19,-2,17,-14,19,27z />
<path fill=#5fa d=M4873,2448l-19,20,17,-18,19,-2z />
<path fill=#fd0 d=M4873,2639l-19,9,18,-26,18,-9z />
<path fill=#6f9 d=M4875,2504l-19,-52,17,-5,19,20z />
<path fill=#fc0 d=M4875,2673l-19,-30,17,-7,19,26z />
<path fill=#bf4 d=M4876,2477l-19,-14,17,39,19,-26z />
<path fill=#af5 d=M4878,2502l-19,9,17,-36,19,27z />
<path fill=#9f6 d=M4879,2548l-19,-25,18,-24,18,12z />
<path fill=#af5 d=M4881,2551l-19,-7,17,1,19,-12z />
<path fill=#bf4 d=M4882,2570l-18,-12,17,-10,19,26z />
<path fill=#6f9 d=M4884,2386l-19,-29,17,21,19,-15z />
<path fill=#fe0 d=M4884,2570l-19,-10,17,9,19,-2z />
<path fill=#5fa d=M4885,2426l-19,-36,18,-7,18,-4z />
<path fill=#fe0 d=M4885,2602l-18,-21,17,-14,19,19z />
<path fill=#8f7 d=M4887,2412l-19,-11,17,23,19,-16z />
<path fill=#ef1 d=M4887,2635l-19,-27,17,-10,19,14z />
<path fill=#5fa d=M4888,2450l-18,2,17,-43,19,19z />
<path fill=#fb0 d=M4889,2614l-19,9,17,10,19,-7z />
<path fill=#7f8 d=M4890,2469l-19,-21,17,0,19,20z />
<path fill=#fc0 d=M4890,2663l-19,-25,17,-26,19,51z />
<path fill=#6f9 d=M4891,2476l-18,26,17,-36,19,17z />
<path fill=#ff0 d=M4892,2702l-19,-32,17,-11,19,34z />
<path fill=#bf4 d=M4893,2503l-19,-26,17,-1,19,6z />
<path fill=#cf3 d=M4895,2513l-19,-12,17,0,19,-11z />
<path fill=#af5 d=M4896,2535l-19,12,17,-37,19,-3z />
<path fill=#af5 d=M4898,2576l-19,-26,17,-17,19,2z />
<path fill=#4fb d=M4899,2363l-19,14,17,-5,19,3z />
<path fill=#df2 d=M4899,2567l-19,2,17,5,19,-19z />
<path fill=#7f8 d=M4901,2381l-19,4,17,-22,19,8z />
<path fill=#fe0 d=M4901,2586l-19,-18,17,-2,19,26z />
<path fill=#5fa d=M4902,2409l-19,16,17,-47,19,32z />
<path fill=#ff0 d=M4902,2614l-19,-14,18,-16,18,14z />
<path fill=#8f7 d=M4904,2429l-19,-18,17,-4,19,30z />
<path fill=#ff0 d=M4904,2627l-19,7,17,-23,19,-11z />
<path fill=#6f9 d=M4905,2469l-19,-20,18,-23,18,32z />
<path fill=#fc0 d=M4905,2664l-18,-51,17,11,19,18z />
<path fill=#7f8 d=M4907,2485l-19,-18,17,0,19,-18z />
<path fill=#ff0 d=M4907,2694l-19,-34,17,0,19,4z />
<path fill=#af5 d=M4908,2483l-19,-7,18,8,18,-11z />
<path fill=#fb0 d=M4908,2651l-18,53,17,-10,19,-63z />
<path fill=#bf4 d=M4910,2491l-19,11,17,-21,19,32z />
<path fill=#ef1 d=M4911,2510l-18,3,17,-23,19,11z />
<path fill=#ef1 d=M4913,2538l-19,-2,17,-29,19,6z />
<path fill=#3fc d=M4914,2378l-18,-3,17,-53,19,9z />
<path fill=#cf3 d=M4915,2557l-19,18,17,-40,19,11z />
<path fill=#7f8 d=M4916,2371l-19,-8,17,12,19,14z />
<path fill=#ef1 d=M4916,2593l-19,-26,17,-12,19,14z />
<path fill=#7f8 d=M4917,2412l-18,-33,17,-10,19,40z />
<path fill=#ff0 d=M4918,2599l-19,-14,17,5,19,8z />
<path fill=#6f9 d=M4919,2438l-19,-30,17,1,19,-6z />
<path fill=#fc0 d=M4919,2602l-19,12,17,-16,19,-19z />
<path fill=#6f9 d=M4921,2460l-19,-33,17,8,19,-2z />
<path fill=#fd0 d=M4921,2644l-19,-18,17,-27,19,31z />
<path fill=#7f8 d=M4922,2450l-19,18,17,-11,19,4z />
<path fill=#ff0 d=M4922,2666l-19,-4,18,-22,18,-1z />
<path fill=#9f6 d=M4924,2474l-19,11,17,-36,19,20z />
<path fill=#fa0 d=M4924,2633l-19,63,17,-30,19,-43z />
<path fill=#9f6 d=M4925,2513l-19,-32,17,-10,19,39z />
<path fill=#f00 d=M4925,2628l-19,28,18,-21,18,-20z />
<path fill=#ef1 d=M4927,2501l-19,-11,17,22,19,-12z />
<path fill=#fe0 d=M4928,2514l-19,-5,18,-9,18,17z />
<path fill=#8f7 d=M4930,2332l-19,-9,17,55,19,-36z />
<path fill=#ff0 d=M4930,2549l-19,-11,17,-26,19,11z />
<path fill=#3fc d=M4931,2391l-19,-15,17,-47,19,36z />
<path fill=#ff0 d=M4931,2571l-19,-15,18,-10,19,6z />
<path fill=#6f9 d=M4933,2410l-19,-41,17,19,19,-10z />
<path fill=#df2 d=M4933,2599l-19,-8,17,-24,19,24z />
<path fill=#7f8 d=M4934,2403l-19,7,18,-3,18,0z />
<path fill=#fc0 d=M4934,2580l-18,19,17,0,19,-24z />
<path fill=#6f9 d=M4936,2435l-19,2,17,-35,19,15z />
<path fill=#fc0 d=M4936,2632l-19,-31,17,-23,19,27z />
<path fill=#6f9 d=M4937,2462l-18,-4,17,-26,19,11z />
<path fill=#fc0 d=M4938,2641l-19,2,17,-14,19,-15z />
<path fill=#9f6 d=M4939,2470l-19,-21,17,11,19,23z />
<path fill=#f80 d=M4939,2626l-19,42,17,-27,19,-42z />
<path fill=#8f7 d=M4940,2512l-18,-40,17,-5,19,21z />
<path fill=#f00 d=M4941,2616l-19,20,17,-9,19,-11z />
<path fill=#af5 d=M4942,2499l-19,13,17,-3,19,-9z />
<path fill=#e00 d=M4942,2663l-19,-35,17,-13,19,34z />
<path fill=#ef1 d=M4944,2518l-19,-18,17,-1,19,16z />
<path fill=#0ff d=M4945,2341l-19,36,17,-7,19,-47z />
<path fill=#fd0 d=M4945,2524l-19,-10,17,3,19,-9z />
<path fill=#7f8 d=M4947,2367l-19,-37,17,10,19,38z />
<path fill=#ff0 d=M4947,2554l-19,-6,17,-27,19,21z />
<path fill=#5fa d=M4948,2379l-19,11,17,-26,19,-4z />
<path fill=#ef1 d=M4948,2593l-19,-24,17,-18,19,11z />
<path fill=#5fa d=M4950,2408l-19,0,17,-32,19,26z />
<path fill=#fd0 d=M4950,2576l-19,24,17,-8,19,-27z />
<path fill=#8f7 d=M4951,2418l-19,-15,17,3,19,15z />
<path fill=#fa0 d=M4951,2606l-19,-26,18,-5,18,38z />
<path fill=#8f7 d=M4953,2445l-19,-10,17,-19,19,8z />
<path fill=#fb0 d=M4953,2616l-19,15,17,-27,19,11z />
<path fill=#6f9 d=M4954,2484l-19,-22,18,-20,18,-15z />
<path fill=#f60 d=M4954,2601l-18,42,17,-27,19,-16z />
<path fill=#9f6 d=M4956,2489l-19,-20,17,12,19,-19z />
<path fill=#f10 d=M4956,2617l-19,11,17,-27,19,6z />
<path fill=#8f7 d=M4957,2502l-19,9,18,-24,18,-16z />
<path fill=#e00 d=M4957,2650l-18,-35,17,0,19,34z />
<path fill=#cf3 d=M4959,2516l-19,-16,17,1,19,-7z />
<path fill=#e00 d=M4959,2652l-19,9,17,-14,19,-3z />
<path fill=#2fd d=M4960,2327l-19,47,18,-93,18,34z />
<path fill=#fe0 d=M4960,2508l-18,9,17,-2,19,-2z />
<path fill=#3fc d=M4962,2379l-19,-38,17,-17,19,11z />
<path fill=#fd0 d=M4962,2544l-19,-21,17,-17,19,24z />
<path fill=#6f9 d=M4963,2361l-18,4,17,12,19,-21z />
<path fill=#fe0 d=M4964,2564l-19,-11,17,-12,19,4z />
<path fill=#6f9 d=M4965,2405l-19,-26,17,-20,19,12z />
<path fill=#fd0 d=M4965,2567l-19,26,17,-31,19,-8z />
<path fill=#6f9 d=M4966,2421l-18,-15,17,-5,19,22z />
<path fill=#fc0 d=M4967,2614l-19,-38,17,-11,19,11z />
<path fill=#9f6 d=M4968,2425l-19,-8,17,3,19,2z />
<path fill=#fb0 d=M4968,2616l-19,-11,17,6,19,-13z />
<path fill=#bf4 d=M4970,2430l-19,15,17,-21,19,5z />
<path fill=#f60 d=M4970,2601l-19,16,17,-1,19,-24z />
<path fill=#8f7 d=M4971,2464l-19,19,17,-57,19,35z />
<path fill=#f00 d=M4971,2608l-19,-6,18,0,18,3z />
<path fill=#bf4 d=M4973,2473l-19,16,17,-27,19,18z />
<path fill=#f10 d=M4973,2649l-19,-33,17,-11,19,40z />
<path fill=#cf3 d=M4974,2495l-19,7,17,-31,19,18z />
<path fill=#e00 d=M4974,2645l-19,3,18,-1,18,5z />
<path fill=#8f7 d=M4976,2319l-19,-34,17,-8,19,14z />
<path fill=#df2 d=M4976,2513l-19,2,17,-23,19,33z />
<path fill=#c00 d=M4976,2668l-19,-17,17,-7,19,26z />
<path fill=#7f8 d=M4977,2338l-19,-11,17,-11,19,-5z />
<path fill=#fd0 d=M4977,2531l-19,-24,18,6,18,10z />
<path fill=#4fb d=M4979,2357l-19,21,17,-44,19,29z />
<path fill=#fd0 d=M4979,2547l-19,-5,17,-13,19,4z />
<path fill=#8f7 d=M4980,2372l-19,-11,17,-5,19,28z />
<path fill=#fb0 d=M4980,2556l-19,8,18,-19,18,-8z />
<path fill=#5fa d=M4982,2425l-19,-22,17,-33,19,-2z />
<path fill=#f90 d=M4982,2579l-19,-12,17,-12,19,-3z />
<path fill=#6f9 d=M4983,2420l-19,-2,18,2,18,58z />
<path fill=#fb0 d=M4983,2600l-18,13,17,-38,19,11z />
<path fill=#9f6 d=M4985,2428l-19,-6,17,-3,19,75z />
<path fill=#f70 d=M4985,2593l-19,24,17,-18,19,-14z />
<path fill=#bf4 d=M4986,2463l-18,-34,17,-1,19,5z />
<path fill=#f20 d=M4987,2605l-19,-3,17,-9,19,3z />
<path fill=#af5 d=M4988,2481l-19,-18,17,-3,19,9z />
<path fill=#f20 d=M4988,2647l-19,-41,17,-3,19,23z />
<path fill=#df2 d=M4989,2490l-18,-18,17,8,19,-12z />
<path fill=#f20 d=M4990,2652l-19,-5,17,-4,19,10z />
<path fill=#9f6 d=M4991,2292l-19,-14,17,-8,19,33z />
<path fill=#cf3 d=M4991,2526l-19,-33,17,-6,19,19z />
<path fill=#e00 d=M4991,2671l-19,-27,17,7,19,2z />
<path fill=#8f7 d=M4992,2313l-18,5,17,-28,19,10z />
<path fill=#ff0 d=M4993,2523l-19,-11,17,12,19,-5z />
<path fill=#c00 d=M4993,2677l-19,-11,17,3,19,-4z />
<path fill=#6f9 d=M4994,2366l-19,-29,17,-27,19,4z />
<path fill=#fd0 d=M4994,2534l-19,-4,17,-8,19,9z />
<path fill=#6f9 d=M4996,2385l-19,-29,17,6,19,-7z />
<path fill=#fa0 d=M4996,2538l-19,9,17,-14,19,0z />
<path fill=#af5 d=M4997,2370l-19,1,17,12,19,-4z />
<path fill=#f80 d=M4997,2554l-19,3,17,-20,19,10z />
<path fill=#0ff d=M4999,2481l-19,-59,17,-57,19,28z />
<path fill=#f90 d=M4999,2589l-19,-11,17,-26,19,8z />
<path fill=#2fd d=M5000,2492l-19,-74,17,58,19,-38z />
<path fill=#f60 d=M5000,2587l-19,14,18,-14,18,-26z />
<path fill=#bf4 d=M5002,2432l-19,-5,17,67,19,-64z />
<path fill=#f20 d=M5002,2597l-19,-4,17,-8,19,18z />
<path fill=#af5 d=M5003,2471l-19,-10,18,-30,18,18z />
<path fill=#f10 d=M5003,2627l-18,-23,17,-9,19,13z />
<path fill=#cf3 d=M5005,2469l-19,11,17,-11,19,-1z />
<path fill=#f40 d=M5005,2654l-19,-10,17,-21,19,19z />
<path fill=#6f9 d=M5006,2303l-19,-33,17,15,19,-2z />
<path fill=#df2 d=M5006,2507l-19,-18,18,-22,18,22z />
<path fill=#f00 d=M5006,2653l-18,-2,17,1,19,3z />
<path fill=#9f6 d=M5008,2301l-19,-10,17,10,19,-1z />
<path fill=#cf3 d=M5008,2520l-19,5,17,-21,19,12z />
<path fill=#d00 d=M5008,2666l-19,4,17,-18,19,2z />
<path fill=#af5 d=M5009,2316l-19,-4,18,-13,18,21z />
<path fill=#fe0 d=M5009,2532l-18,-9,17,-4,19,-8z />
<path fill=#f30 d=M5010,2753l-19,-81,17,-12,19,92z />
<path fill=#6f9 d=M5011,2357l-19,7,17,-53,19,65z />
<path fill=#fb0 d=M5011,2534l-19,0,17,-3,19,0z />
<path fill=#7f8 d=M5012,2381l-18,4,17,-30,19,-15z />
<path fill=#f80 d=M5013,2548l-19,-11,17,-5,19,23z />
<path fill=#af5 d=M5014,2396l-19,-27,17,9,19,34z />
<path fill=#f60 d=M5014,2562l-19,-8,17,-7,19,-3z />
<path fill=#1fe d=M5015,2441l-18,38,17,-88,19,17z />
<path fill=#f50 d=M5016,2563l-19,26,17,-29,19,-2z />
<path fill=#4fb d=M5017,2429l-19,64,17,-54,19,-2z />
<path fill=#f40 d=M5017,2604l-19,-18,17,-25,19,39z />
<path fill=#cf3 d=M5019,2449l-19,-17,17,-2,19,46z />
<path fill=#f20 d=M5019,2608l-19,-12,17,6,19,15z />
<path fill=#bf4 d=M5020,2469l-19,0,17,-22,19,39z />
<path fill=#f30 d=M5020,2645l-19,-20,17,-19,19,8z />
<path fill=#4fb d=M5021,2283l-18,2,17,-6,19,10z />
<path fill=#ef1 d=M5022,2490l-19,-21,17,-1,19,3z />
<path fill=#f20 d=M5022,2656l-19,-3,17,-12,19,2z />
<path fill=#6f9 d=M5023,2301l-19,1,17,-20,19,11z />
<path fill=#df2 d=M5023,2519l-19,-13,17,-19,19,-6z />
<path fill=#d00 d=M5023,2655l-19,-2,18,2,18,-12z />
<path fill=#9f6 d=M5025,2320l-19,-21,17,0,19,17z />
<path fill=#ff0 d=M5025,2511l-19,8,17,-3,19,9z />
<path fill=#f40 d=M5025,2753l-19,-93,17,-12,19,110z />
<path fill=#7f8 d=M5026,2378l-19,-65,17,4,19,30z />
<path fill=#fc0 d=M5026,2532l-19,-1,18,-21,18,18z />
<path fill=#f40 d=M5026,2710l-18,41,17,-1,19,-59z />
<path fill=#af5 d=M5028,2341l-19,16,17,19,19,-38z />
<path fill=#fa0 d=M5028,2556l-19,-23,17,-3,19,6z />
<path fill=#7f8 d=M5029,2414l-19,-34,17,-41,19,17z />
<path fill=#f60 d=M5029,2545l-19,3,18,7,18,-33z />
<path fill=#8f7 d=M5031,2411l-19,-17,17,16,19,-1z />
<path fill=#f40 d=M5031,2560l-19,2,17,-18,19,-2z />
<path fill=#6f9 d=M5032,2440l-19,2,18,-33,18,-6z />
<path fill=#f40 d=M5032,2602l-18,-40,17,-5,19,27z />
<path fill=#8f7 d=M5034,2476l-19,-46,17,7,19,-3z />
<path fill=#f50 d=M5034,2617l-19,-15,17,-3,19,-8z />
<path fill=#af5 d=M5035,2487l-18,-39,17,26,19,-46z />
<path fill=#f10 d=M5036,2614l-19,-8,17,9,19,23z />
<path fill=#3fc d=M5037,2290l-19,-10,17,-18,19,-2z />
<path fill=#df2 d=M5037,2472l-19,-4,17,18,19,-38z />
<path fill=#f20 d=M5037,2645l-19,-2,17,-31,19,22z />
<path fill=#6f9 d=M5038,2294l-19,-11,18,5,18,3z />
<path fill=#ff0 d=M5038,2483l-18,6,17,-19,19,34z />
<path fill=#e00 d=M5039,2644l-19,12,17,-13,19,-11z />
<path fill=#7f8 d=M5040,2316l-19,-17,17,-7,19,26z />
<path fill=#df2 d=M5040,2527l-19,-9,17,-38,19,23z />
<path fill=#f60 d=M5040,2758l-19,-109,17,-12,19,116z />
<path fill=#7f8 d=M5041,2349l-18,-30,17,-5,19,-2z />
<path fill=#fd0 d=M5042,2529l-19,-18,17,14,19,-19z />
<path fill=#f50 d=M5042,2691l-19,60,17,5,19,-63z />
<path fill=#7f8 d=M5043,2338l-19,39,17,-32,19,-2z />
<path fill=#fb0 d=M5043,2537l-19,-6,17,-4,19,-2z />
<path fill=#d00 d=M5043,2717l-19,-5,18,-19,18,11z />
<path fill=#cf3 d=M5045,2359l-19,-18,17,-3,19,23z />
<path fill=#f60 d=M5045,2523l-19,34,17,-20,19,-34z />
<path fill=#6f9 d=M5046,2412l-19,0,17,-57,19,-4z />
<path fill=#f30 d=M5046,2544l-19,1,17,-23,19,18z />
<path fill=#af5 d=M5048,2405l-19,6,17,-2,19,-6z />
<path fill=#f40 d=M5048,2586l-19,-28,17,-17,19,26z />
<path fill=#9f6 d=M5049,2436l-19,4,17,-37,19,13z />
<path fill=#f40 d=M5049,2593l-19,7,18,-17,18,-6z />
<path fill=#bf4 d=M5051,2430l-19,46,17,-42,19,4z />
<path fill=#f60 d=M5051,2639l-19,-24,17,-26,19,41z />
<path fill=#5fa d=M5052,2261l-19,3,17,-14,19,7z />
<path fill=#cf3 d=M5052,2450l-19,38,18,-60,18,31z />
<path fill=#f10 d=M5052,2635l-18,-23,17,25,19,5z />
<path fill=#4fb d=M5054,2292l-19,-3,17,-30,19,27z />
<path fill=#df2 d=M5054,2505l-19,-33,17,-24,19,19z />
<path fill=#e00 d=M5054,2633l-19,12,17,-11,19,-13z />
<path fill=#6f9 d=M5055,2319l-19,-26,17,-3,19,0z />
<path fill=#fe0 d=M5055,2504l-19,-22,18,20,18,-2z />
<path fill=#f60 d=M5055,2755l-18,-116,17,-12,19,91z />
<path fill=#8f7 d=M5057,2312l-19,3,17,1,19,7z />
<path fill=#fe0 d=M5057,2507l-19,19,17,-24,19,3z />
<path fill=#f70 d=M5057,2693l-19,63,17,-5,19,-84z />
<path fill=#7f8 d=M5058,2345l-19,2,18,-37,18,15z />
<path fill=#fb0 d=M5058,2526l-18,2,17,-23,19,22z />
<path fill=#d00 d=M5059,2705l-19,-11,17,1,19,19z />
<path fill=#af5 d=M5060,2361l-19,-22,17,4,19,1z />
<path fill=#f60 d=M5060,2504l-19,34,17,-12,19,-4z />
<path fill=#f00 d=M5060,2756l-19,-42,17,-12,19,36z />
<path fill=#ef1 d=M5061,2354l-19,4,18,2,19,-9z />
<path fill=#f30 d=M5062,2541l-19,-17,17,-20,19,32z />
<path fill=#9f6 d=M5063,2405l-19,6,17,-60,19,31z />
<path fill=#f20 d=M5063,2569l-19,-26,17,-4,19,-8z />
<path fill=#cf3 d=M5064,2418l-18,-13,17,-3,19,9z />
<path fill=#f30 d=M5065,2579l-19,6,17,-19,19,-7z />
<path fill=#cf3 d=M5066,2441l-19,-5,17,-20,19,-10z />
<path fill=#f50 d=M5066,2632l-19,-41,17,-16,19,46z />
<path fill=#4fb d=M5067,2258l-18,-7,17,5,19,-25z />
<path fill=#ef1 d=M5068,2461l-19,-31,17,9,19,-11z />
<path fill=#f60 d=M5068,2641l-19,-4,17,-8,19,1z />
<path fill=#5fa d=M5069,2288l-19,-28,17,-5,19,24z />
<path fill=#fe0 d=M5069,2469l-19,-20,17,10,19,-3z />
<path fill=#e00 d=M5069,2622l-19,13,17,7,19,-31z />
<path fill=#6f9 d=M5070,2291l-18,0,17,-5,19,4z />
<path fill=#df2 d=M5071,2502l-19,2,17,-38,19,4z />
<path fill=#f40 d=M5071,2721l-19,-92,17,-12,19,83z />
<path fill=#5fa d=M5072,2324l-19,-7,17,-29,19,14z />
<path fill=#fe0 d=M5072,2506l-19,-3,17,-3,19,-9z />
<path fill=#f60 d=M5072,2670l-19,83,18,-36,18,-65z />
<path fill=#9f6 d=M5074,2326l-19,-14,17,10,19,7z />
<path fill=#fc0 d=M5074,2528l-19,-22,17,-1,19,9z />
<path fill=#f00 d=M5074,2715l-19,-19,17,-26,19,22z />
<path fill=#af5 d=M5075,2346l-19,-1,17,-20,19,-14z />
<path fill=#f80 d=M5075,2522l-19,4,18,0,18,-9z />
<path fill=#f00 d=M5075,2738l-18,-37,17,10,19,56z />
<path fill=#bf4 d=M5077,2350l-19,10,17,-17,19,35z />
<path fill=#f30 d=M5077,2536l-19,-32,17,18,19,9z />
<path fill=#f30 d=M5077,2773l-19,-21,17,-17,19,31z />
<path fill=#ef1 d=M5078,2385l-19,-31,17,-4,19,13z />
<path fill=#f10 d=M5078,2533l-19,7,18,-5,18,-11z />
<path fill=#bf4 d=M5080,2412l-19,-8,17,-23,19,9z />
<path fill=#f20 d=M5080,2562l-19,7,17,-39,19,20z />
<path fill=#ef1 d=M5081,2407l-19,10,18,-7,18,12z />
<path fill=#f40 d=M5081,2623l-18,-46,17,-19,19,37z />
<path fill=#5fa d=M5083,2233l-19,24,17,-47,19,28z />
<path fill=#ff0 d=M5083,2430l-19,11,17,-35,19,12z />
<path fill=#f60 d=M5083,2631l-19,-1,17,-12,19,-3z />
<path fill=#4fb d=M5084,2280l-19,-23,18,-27,18,32z />
<path fill=#ef1 d=M5084,2457l-18,2,17,-32,19,41z />
<path fill=#f10 d=M5085,2612l-19,31,17,-11,19,-33z />
<path fill=#5fa d=M5086,2291l-19,-4,17,-9,19,-17z />
<path fill=#fe0 d=M5086,2472l-19,-4,17,-13,19,23z />
<path fill=#f30 d=M5086,2702l-19,-83,17,-10,19,59z />
<path fill=#7f8 d=M5087,2304l-19,-14,18,0,18,2z />
<path fill=#fe0 d=M5087,2493l-18,9,17,-32,19,0z />
<path fill=#f40 d=M5088,2654l-19,65,17,-21,19,-56z />
<path fill=#6f9 d=M5089,2330l-19,-7,17,-22,19,14z />
<path fill=#fc0 d=M5089,2515l-19,-9,17,-16,19,21z />
<path fill=#e00 d=M5089,2693l-19,-22,17,-17,19,58z />
<path fill=#cf3 d=M5090,2313l-18,14,17,2,19,-9z />
<path fill=#fa0 d=M5091,2518l-19,9,17,-13,19,-9z />
<path fill=#f50 d=M5091,2766l-19,-56,17,-22,19,72z />
<path fill=#af5 d=M5092,2380l-19,-35,17,-35,19,17z />
<path fill=#f60 d=M5092,2532l-19,-9,17,-5,19,-17z />
<path fill=#f40 d=M5092,2766l-19,-31,18,28,18,-7z />
<path fill=#df2 d=M5094,2362l-19,-12,17,27,19,-10z />
<path fill=#f20 d=M5094,2525l-19,11,17,-5,19,-27z />
<path fill=#f20 d=M5094,2764l-19,8,17,-7,19,1z />
<path fill=#df2 d=M5095,2392l-19,-9,17,-22,19,14z />
<path fill=#f00 d=M5095,2552l-19,-20,17,-8,19,17z />
<path fill=#cf3 d=M5097,2423l-19,-12,17,-22,19,7z />
<path fill=#f30 d=M5097,2597l-19,-38,17,-11,19,43z />
<path fill=#6f9 d=M5098,2239l-19,-28,17,12,19,-5z />
<path fill=#fe0 d=M5098,2419l-19,-12,17,14,19,4z />
<path fill=#f60 d=M5098,2617l-19,3,18,-27,18,3z />
<path fill=#6f9 d=M5100,2262l-19,-31,17,5,19,36z />
<path fill=#ef1 d=M5100,2470l-19,-41,17,-12,19,18z />
<path fill=#f10 d=M5100,2600l-19,33,17,-16,19,-29z />
<path fill=#6f9 d=M5101,2263l-19,16,17,-19,19,11z />
<path fill=#ff0 d=M5101,2479l-19,-23,18,11,18,-22z />
<path fill=#f10 d=M5101,2670l-18,-59,17,-13,19,42z />
<path fill=#7f8 d=M5103,2293l-19,-2,17,-30,19,28z />
<path fill=#fc0 d=M5103,2472l-19,-1,17,7,19,-5z />
<path fill=#f30 d=M5103,2644l-19,56,17,-33,19,-33z />
<path fill=#7f8 d=M5104,2317l-19,-14,17,-12,19,17z />
<path fill=#fc0 d=M5104,2513l-19,-21,18,-22,18,22z />
<path fill=#f10 d=M5104,2713l-18,-59,17,-12,19,63z />
<path fill=#9f6 d=M5106,2320l-19,9,17,-14,19,8z />
<path fill=#fa0 d=M5106,2505l-19,10,17,-4,19,-4z />
<path fill=#f50 d=M5106,2761l-19,-73,17,19,19,35z />
<path fill=#ef1 d=M5107,2328l-19,-16,18,7,18,38z />
<path fill=#f50 d=M5107,2502l-18,17,17,-13,19,-13z />
<path fill=#f70 d=M5108,2756l-19,8,17,-6,19,-25z />
<path fill=#af5 d=M5109,2368l-19,10,17,-53,19,21z />
<path fill=#f20 d=M5109,2505l-19,27,17,-30,19,1z />
<path fill=#f40 d=M5109,2767l-19,-2,17,-10,19,4z />
<path fill=#ef1 d=M5110,2377l-19,-15,18,5,18,1z />
<path fill=#f00 d=M5110,2543l-18,-18,17,-21,19,26z />
<path fill=#f10 d=M5111,2787l-19,-23,17,2,19,-2z />
<path fill=#ef1 d=M5112,2397l-19,-6,17,-17,19,19z />
<path fill=#f30 d=M5112,2593l-19,-44,17,-11,19,38z />
<path fill=#5fa d=M5113,2220l-19,4,18,-33,18,9z />
<path fill=#df2 d=M5113,2426l-18,-4,17,-27,19,9z />
<path fill=#f40 d=M5114,2598l-19,-3,17,-5,19,-14z />
<path fill=#3fc d=M5115,2274l-19,-37,17,-21,19,6z />
<path fill=#fe0 d=M5115,2436l-19,-18,17,6,19,7z />
<path fill=#f00 d=M5115,2589l-19,29,17,-21,19,-19z />
<path fill=#5fa d=M5116,2271l-18,-10,17,10,19,-25z />
<path fill=#ff0 d=M5117,2447l-19,22,17,-35,19,1z />
<path fill=#e00 d=M5117,2643l-19,-43,17,-12,19,13z />
<path fill=#7f8 d=M5118,2290l-19,-28,17,8,19,-6z />
<path fill=#fe0 d=M5118,2474l-19,4,17,-33,19,28z />
<path fill=#f10 d=M5118,2637l-19,32,17,-30,19,-16z />
<path fill=#7f8 d=M5119,2309l-18,-17,17,-4,19,9z />
<path fill=#fb0 d=M5120,2494l-19,-23,17,2,19,4z />
<path fill=#f10 d=M5120,2707l-19,-63,17,-10,19,52z />
<path fill=#8f7 d=M5121,2325l-19,-9,17,-8,19,-14z />
<path fill=#fc0 d=M5121,2508l-19,4,17,-21,19,17z />
<path fill=#f70 d=M5121,2743l-19,-35,18,-7,18,6z />
<path fill=#9f6 d=M5123,2357l-19,-39,17,4,19,3z />
<path fill=#f50 d=M5123,2494l-19,13,17,1,19,-17z />
<path fill=#f60 d=M5123,2735l-19,24,17,-18,19,-32z />
<path fill=#df2 d=M5124,2347l-19,-20,17,29,19,-21z />
<path fill=#f10 d=M5124,2505l-19,-2,18,-9,18,5z />
<path fill=#f40 d=M5124,2761l-18,-4,17,-23,19,3z />
<path fill=#cf3 d=M5126,2369l-19,-1,17,-23,19,8z />
<path fill=#e00 d=M5126,2531l-19,-26,17,-2,19,9z />
<path fill=#f10 d=M5126,2765l-19,2,17,-8,19,-5z />
<path fill=#ef1 d=M5127,2395l-19,-19,17,-9,19,-6z />
<path fill=#f30 d=M5127,2578l-19,-39,18,-13,18,47z />
<path fill=#f40 d=M5127,2825l-18,-40,17,-23,19,35z />
<path fill=#7f8 d=M5129,2202l-19,-9,17,3,19,7z />
<path fill=#ff0 d=M5129,2405l-19,-9,17,-4,19,8z />
<path fill=#f30 d=M5129,2578l-19,13,17,-16,19,-20z />
<path fill=#7f8 d=M5130,2224l-19,-6,17,-19,19,42z />
<path fill=#ef1 d=M5130,2432l-19,-7,18,-22,18,7z />
<path fill=#f00 d=M5130,2580l-18,19,17,-22,19,-10z />
<path fill=#4fb d=M5132,2248l-19,25,17,-52,19,19z />
<path fill=#fd0 d=M5132,2437l-19,-2,17,-5,19,9z />
<path fill=#b00 d=M5132,2603l-19,-13,17,-11,19,12z />
<path fill=#7f8 d=M5133,2266l-19,6,18,-26,18,9z />
<path fill=#fd0 d=M5133,2476l-18,-29,17,-12,19,0z />
<path fill=#e00 d=M5134,2625l-19,16,17,-41,19,13z />
<path fill=#7f8 d=M5135,2299l-19,-10,17,-26,19,17z />
<path fill=#fc0 d=M5135,2477l-19,-4,17,-1,19,16z />
<path fill=#f00 d=M5135,2688l-19,-53,17,-14,19,47z />
<path fill=#9f6 d=M5136,2295l-19,14,18,-13,18,14z />
<path fill=#fc0 d=M5136,2509l-18,-17,17,-17,19,27z />
<path fill=#f50 d=M5137,2708l-19,-6,17,-20,19,35z />
<path fill=#af5 d=M5138,2327l-19,-3,17,-30,19,18z />
<path fill=#f70 d=M5138,2491l-19,18,17,0,19,-35z />
<path fill=#f40 d=M5138,2712l-19,32,17,-37,19,-28z />
<path fill=#af5 d=M5139,2335l-18,21,17,-32,19,11z />
<path fill=#f20 d=M5140,2500l-19,-5,17,-3,19,-16z />
<path fill=#f20 d=M5140,2740l-19,-4,17,-25,19,1z />
<path fill=#df2 d=M5141,2354l-19,-8,17,-13,19,42z />
<path fill=#f00 d=M5141,2513l-19,-9,17,-6,19,11z />
<path fill=#f10 d=M5141,2756l-19,5,18,-24,18,-1z />
<path fill=#ff0 d=M5143,2363l-19,6,17,-16,19,4z />
<path fill=#f30 d=M5143,2575l-19,-47,17,-19,19,32z />
<path fill=#f20 d=M5143,2798l-19,-35,17,-11,19,65z />
<path fill=#4fb d=M5144,2203l-19,-7,17,1,19,12z />
<path fill=#ef1 d=M5144,2401l-19,-7,17,-34,19,19z />
<path fill=#f20 d=M5144,2556l-19,20,17,-5,19,-1z />
<path fill=#f40 d=M5144,2808l-19,15,18,-28,18,12z />
<path fill=#4fb d=M5145,2241l-18,-43,17,2,19,68z />
<path fill=#fe0 d=M5146,2412l-19,-7,17,-6,19,-9z />
<path fill=#d00 d=M5146,2569l-19,10,17,-23,19,1z />
<path fill=#7f8 d=M5147,2241l-19,-19,17,18,19,1z />
<path fill=#ff0 d=M5147,2440l-19,-9,17,-22,19,13z />
<path fill=#b00 d=M5147,2593l-19,-13,18,-13,18,14z />
<path fill=#8f7 d=M5149,2256l-19,-9,17,-7,19,8z />
<path fill=#fb0 d=M5149,2437l-19,-1,17,3,19,-4z />
<path fill=#b00 d=M5149,2615l-19,-13,17,-12,19,13z />
<path fill=#8f7 d=M5150,2282l-19,-17,17,-11,19,16z />
<path fill=#fe0 d=M5150,2490l-19,-16,17,-40,19,12z />
<path fill=#e00 d=M5150,2670l-19,-47,18,-12,19,33z />
<path fill=#7f8 d=M5152,2311l-19,-14,17,-19,19,29z />
<path fill=#fd0 d=M5152,2502l-19,-26,17,10,19,15z />
<path fill=#f60 d=M5152,2718l-19,-35,17,-19,19,26z />
<path fill=#bf4 d=M5153,2313l-19,-18,17,15,19,-15z />
<path fill=#f80 d=M5153,2475l-19,35,18,-8,18,-27z />
<path fill=#f10 d=M5153,2680l-18,29,17,8,19,-27z />
<path fill=#bf4 d=M5155,2337l-19,-11,17,-15,19,-7z />
<path fill=#f20 d=M5155,2477l-19,16,17,-17,19,-1z />
<path fill=#e00 d=M5155,2715l-19,-2,17,-33,19,14z />
<path fill=#af5 d=M5156,2375l-19,-41,18,-1,18,26z />
<path fill=#f00 d=M5156,2511l-18,-11,17,-24,19,4z />
<path fill=#f00 d=M5157,2738l-19,1,17,-27,19,15z />
<path fill=#ef1 d=M5158,2358l-19,-4,17,21,19,-32z />
<path fill=#f10 d=M5158,2543l-19,-33,17,-4,19,41z />
<path fill=#f50 d=M5158,2818l-19,-66,17,-20,19,71z />
<path fill=#1fe d=M5159,2209l-19,-11,17,2,19,-4z />
<path fill=#fe0 d=M5159,2381l-19,-19,18,-5,18,10z />
<path fill=#f50 d=M5159,2572l-18,1,17,-34,19,4z />
<path fill=#f50 d=M5160,2807l-19,-12,17,19,19,2z />
<path fill=#0ff d=M5161,2268l-19,-68,17,6,19,17z />
<path fill=#fe0 d=M5161,2391l-19,9,17,-22,19,44z />
<path fill=#d00 d=M5161,2558l-19,-1,17,15,19,-26z />
<path fill=#f40 d=M5161,2839l-19,-32,17,-1,19,27z />
<path fill=#3fc d=M5162,2240l-19,-1,18,27,18,-42z />
<path fill=#fd0 d=M5162,2425l-18,-14,17,-21,19,2z />
<path fill=#b00 d=M5163,2582l-19,-13,17,-12,19,13z />
<path fill=#7f8 d=M5164,2249l-19,-8,17,0,19,-13z />
<path fill=#fd0 d=M5164,2436l-19,4,17,-18,19,-2z />
<path fill=#b00 d=M5164,2605l-19,-14,17,-12,19,14z />
<path fill=#8f7 d=M5165,2271l-18,-16,17,-8,19,3z />
<path fill=#f90 d=M5166,2448l-19,-12,17,-1,19,6z />
<path fill=#d00 d=M5166,2646l-19,-33,17,-12,19,23z />
<path fill=#7f8 d=M5167,2308l-19,-29,17,-12,19,27z />
<path fill=#fe0 d=M5167,2503l-19,-15,17,-43,19,8z />
<path fill=#f40 d=M5167,2692l-19,-25,17,-26,19,26z />
<path fill=#9f6 d=M5168,2295l-18,15,17,-3,19,-12z />
<path fill=#fa0 d=M5169,2476l-19,26,17,-1,19,-27z />
<path fill=#f40 d=M5169,2691l-19,27,17,-29,19,-25z />
<path fill=#cf3 d=M5170,2306l-19,7,17,-19,19,34z />
<path fill=#f20 d=M5170,2476l-19,1,17,0,19,-6z />
<path fill=#c00 d=M5170,2695l-19,-13,18,10,18,-9z />
<path fill=#af5 d=M5172,2362l-19,-26,17,-33,19,15z />
<path fill=#d00 d=M5172,2482l-19,-5,17,-1,19,-7z />
<path fill=#d00 d=M5172,2730l-19,-16,17,-22,19,14z />
<path fill=#cf3 d=M5173,2343l-19,32,17,-17,19,-5z />
<path fill=#f30 d=M5173,2548l-19,-41,18,-30,18,64z />
<path fill=#f30 d=M5173,2805l-18,-70,17,-11,19,38z />
<path fill=#1fe d=M5175,2198l-19,4,17,-45,19,19z />
<path fill=#fe0 d=M5175,2368l-19,-10,17,-15,19,18z />
<path fill=#f20 d=M5175,2545l-19,-4,17,4,19,-4z />
<path fill=#f80 d=M5175,2817l-19,-3,17,-15,19,-11z />
<path fill=#2fd d=M5176,2225l-19,-17,17,-13,19,2z />
<path fill=#df2 d=M5176,2424l-19,-45,17,-14,19,9z />
<path fill=#f00 d=M5176,2547l-19,26,18,-29,18,-9z />
<path fill=#f60 d=M5176,2832l-18,-26,17,8,19,22z />
<path fill=#0ff d=M5178,2224l-19,42,17,-45,19,40z />
<path fill=#fb0 d=M5178,2392l-19,-2,17,32,19,-24z />
<path fill=#b00 d=M5178,2571l-19,-13,17,-12,19,13z />
<path fill=#f60 d=M5178,2856l-19,-20,17,-6,19,34z />
<path fill=#7f8 d=M5179,2228l-19,13,17,-16,19,30z />
<path fill=#fc0 d=M5179,2422l-19,2,18,-33,18,21z />
<path fill=#b00 d=M5179,2594l-18,-13,17,-12,19,13z />
<path fill=#9f6 d=M5181,2252l-19,-4,17,-21,19,23z />
<path fill=#fb0 d=M5181,2442l-19,-6,17,-17,19,7z />
<path fill=#c00 d=M5181,2625l-19,-23,17,-12,19,37z />
<path fill=#7f8 d=M5182,2296l-19,-27,18,-20,18,19z />
<path fill=#f90 d=M5182,2456l-18,-9,17,-7,19,19z />
<path fill=#f10 d=M5183,2670l-19,-27,17,-22,19,33z />
<path fill=#8f7 d=M5184,2296l-19,12,17,-15,19,-18z />
<path fill=#fb0 d=M5184,2476l-19,27,17,-50,19,-7z />
<path fill=#f10 d=M5184,2666l-19,26,17,-25,19,-13z />
<path fill=#af5 d=M5185,2329l-19,-35,18,1,18,5z />
<path fill=#f40 d=M5185,2471l-18,6,17,-1,19,-2z />
<path fill=#d00 d=M5186,2684l-19,9,17,-28,19,7z />
<path fill=#ef1 d=M5187,2320l-19,-15,17,23,19,-19z />
<path fill=#e00 d=M5187,2469l-19,8,17,-6,19,-15z />
<path fill=#c00 d=M5187,2707l-19,-13,17,-12,19,27z />
<path fill=#bf4 d=M5188,2355l-18,5,17,-43,19,11z />
<path fill=#f10 d=M5189,2543l-19,-64,17,-13,19,51z />
<path fill=#f10 d=M5189,2764l-19,-38,17,-23,19,54z />
<path fill=#4fb d=M5190,2177l-19,-18,17,-4,19,36z />
<path fill=#fe0 d=M5190,2361l-19,-18,17,11,19,-3z />
<path fill=#f40 d=M5190,2541l-19,5,17,-7,19,-17z />
<path fill=#f60 d=M5190,2791l-19,11,18,-43,18,21z />
<path fill=#3fc d=M5191,2199l-19,-1,18,-22,19,-4z />
<path fill=#fe0 d=M5192,2375l-19,-9,17,-7,19,31z />
<path fill=#e00 d=M5192,2536l-19,10,17,-5,19,-13z />
<path fill=#f80 d=M5192,2837l-19,-21,17,-28,19,16z />
<path fill=#0ff d=M5193,2264l-19,-40,17,-29,19,0z />
<path fill=#ef1 d=M5193,2398l-19,25,17,-50,19,9z />
<path fill=#b00 d=M5193,2561l-19,-14,17,-12,19,14z />
<path fill=#f80 d=M5193,2864l-19,-34,18,3,18,18z />
<path fill=#3fc d=M5194,2254l-18,-30,17,37,19,-29z />
<path fill=#fb0 d=M5195,2413l-19,-21,17,5,19,10z />
<path fill=#b00 d=M5195,2583l-19,-13,17,-12,19,13z />
<path fill=#fa0 d=M5195,2895l-19,-42,17,7,19,22z />
<path fill=#8f7 d=M5196,2250l-19,-23,17,27,19,1z />
<path fill=#fa0 d=M5196,2427l-19,-6,17,-10,19,-2z />
<path fill=#e00 d=M5196,2628l-19,-37,18,-12,18,35z />
<path fill=#9f6 d=M5198,2270l-19,-19,17,-3,19,3z />
<path fill=#fa0 d=M5198,2461l-19,-20,17,-16,19,2z />
<path fill=#f00 d=M5198,2655l-19,-33,17,2,19,13z />
<path fill=#9f6 d=M5199,2277l-19,18,17,-28,19,6z />
<path fill=#f60 d=M5199,2449l-19,7,17,3,19,-21z />
<path fill=#f00 d=M5199,2656l-19,13,18,-16,18,-15z />
<path fill=#af5 d=M5201,2301l-19,-5,17,-21,19,39z />
<path fill=#f60 d=M5201,2476l-19,1,17,-30,19,2z />
<path fill=#c00 d=M5201,2674l-19,-7,17,-12,19,7z />
<path fill=#bf4 d=M5202,2309l-19,19,17,-29,19,31z />
<path fill=#e00 d=M5202,2457l-19,15,18,4,18,-29z />
<path fill=#d00 d=M5202,2710l-18,-27,17,-12,19,20z />
<path fill=#ef1 d=M5204,2329l-19,-10,17,-11,19,32z />
<path fill=#f00 d=M5204,2519l-19,-52,17,-13,19,61z />
<path fill=#f10 d=M5204,2758l-19,-55,17,2,19,56z />
<path fill=#1fe d=M5205,2191l-19,-36,17,-4,19,2z />
<path fill=#ef1 d=M5205,2352l-19,3,18,-28,18,20z />
<path fill=#f30 d=M5205,2524l-18,17,17,-26,19,-17z />
<path fill=#f40 d=M5206,2782l-19,-21,17,-7,19,11z />
<path fill=#5fa d=M5207,2173l-19,3,17,14,19,-13z />
<path fill=#ef1 d=M5207,2390l-19,-30,17,-10,19,16z />
<path fill=#e00 d=M5207,2529l-19,13,17,-19,19,-9z />
<path fill=#f50 d=M5207,2805l-19,-16,17,-11,19,40z />
<path fill=#6f9 d=M5208,2198l-19,1,17,-27,19,22z />
<path fill=#fd0 d=M5208,2383l-19,-9,18,15,18,-7z />
<path fill=#b00 d=M5208,2550l-18,-14,17,-8,19,10z />
<path fill=#f90 d=M5209,2852l-19,-18,17,-33,19,38z />
<path fill=#1fe d=M5210,2234l-19,28,17,-68,19,39z />
<path fill=#fc0 d=M5210,2408l-19,-9,17,-17,19,-3z />
<path fill=#b00 d=M5210,2573l-19,-14,17,-12,19,14z />
<path fill=#fb0 d=M5210,2882l-19,-21,17,-13,19,24z />
<path fill=#4fb d=M5211,2255l-19,-1,18,-22,18,5z />
<path fill=#fa0 d=M5211,2410l-18,2,17,-6,19,0z />
<path fill=#e00 d=M5212,2615l-19,-34,17,-12,19,40z />
<path fill=#fe0 d=M5212,2929l-19,-37,17,-14,19,38z />
<path fill=#9f6 d=M5213,2252l-19,-3,17,6,19,-21z />
<path fill=#f80 d=M5213,2430l-19,-3,17,-18,19,-9z />
<path fill=#f10 d=M5213,2637l-19,-13,17,-13,19,48z />
<path fill=#af5 d=M5214,2275l-18,-6,17,-18,19,-2z />
<path fill=#f70 d=M5215,2440l-19,21,17,-34,19,-12z />
<path fill=#e00 d=M5215,2639l-19,16,17,-19,19,-8z />
<path fill=#9f6 d=M5216,2315l-19,-39,17,-4,19,10z />
<path fill=#f30 d=M5216,2451l-19,-2,17,-10,19,15z />
<path fill=#c00 d=M5216,2663l-19,-7,17,-18,19,13z />
<path fill=#af5 d=M5217,2331l-18,-31,17,12,19,-14z />
<path fill=#f10 d=M5218,2448l-19,29,17,-27,19,-11z />
<path fill=#c00 d=M5218,2693l-19,-20,17,-12,19,13z />
<path fill=#cf3 d=M5219,2340l-19,-31,17,20,19,-21z />
<path fill=#f10 d=M5219,2516l-19,-61,17,-11,19,76z />
<path fill=#f30 d=M5219,2761l-19,-55,18,-19,18,59z />
<path fill=#3fc d=M5220,2156l-18,-3,17,-25,19,3z />
<path fill=#ef1 d=M5221,2347l-19,-20,17,11,19,15z />
<path fill=#f10 d=M5221,2499l-19,17,17,-3,19,-13z />
<path fill=#f50 d=M5221,2766l-19,-11,17,2,19,10z />
<path fill=#2fd d=M5222,2178l-19,12,17,-38,19,12z />
<path fill=#ff0 d=M5222,2367l-19,-16,17,-6,19,13z />
<path fill=#d00 d=M5222,2516l-19,9,18,-26,18,5z />
<path fill=#f70 d=M5222,2820l-18,-40,17,-17,19,16z />
<path fill=#6f9 d=M5224,2195l-19,-22,17,4,19,-1z />
<path fill=#ef1 d=M5224,2382l-19,7,17,-25,19,16z />
<path fill=#c00 d=M5224,2539l-19,-10,17,-15,19,17z />
<path fill=#f80 d=M5224,2839l-19,-37,17,13,19,44z />
<path fill=#4fb d=M5225,2235l-19,-40,17,-4,19,49z />
<path fill=#fb0 d=M5225,2380l-19,3,17,-1,19,0z />
<path fill=#b00 d=M5225,2562l-19,-13,18,-13,18,18z />
<path fill=#fb0 d=M5225,2873l-18,-24,17,-13,19,24z />
<path fill=#5fa d=M5227,2238l-19,-4,17,-1,19,-15z />
<path fill=#fb0 d=M5227,2407l-19,0,17,-29,19,29z />
<path fill=#e00 d=M5227,2611l-19,-41,17,-12,19,33z />
<path fill=#fe0 d=M5227,2918l-19,-39,17,-11,19,36z />
<path fill=#7f8 d=M5228,2234l-19,21,17,-19,19,41z />
<path fill=#f60 d=M5228,2401l-19,10,18,-4,18,-12z />
<path fill=#f40 d=M5228,2659l-18,-49,17,-6,19,54z />
<path fill=#ef1 d=M5229,2938l-19,-12,17,-13,19,16z />
<path fill=#bf4 d=M5230,2251l-19,1,17,-18,19,18z />
<path fill=#f40 d=M5230,2417l-19,13,17,-30,19,22z />
<path fill=#e00 d=M5230,2629l-19,8,17,22,19,-42z />
<path fill=#af5 d=M5231,2282l-19,-10,18,-25,18,86z />
<path fill=#f40 d=M5231,2457l-18,-16,17,-26,19,-6z />
<path fill=#b00 d=M5232,2653l-19,-14,17,-11,19,13z />
<path fill=#af5 d=M5233,2300l-19,14,17,-33,19,-6z />
<path fill=#f00 d=M5233,2440l-19,11,17,4,19,-13z />
<path fill=#b00 d=M5233,2675l-19,-13,17,-12,19,13z />
<path fill=#cf3 d=M5234,2310l-19,21,18,-32,18,-8z />
<path fill=#f20 d=M5234,2521l-18,-75,17,-9,19,42z />
<path fill=#f20 d=M5235,2748l-19,-59,17,-19,19,63z />
<path fill=#5fa d=M5236,2133l-19,-3,17,-13,19,7z />
<path fill=#bf4 d=M5236,2354l-19,-15,17,-32,19,14z />
<path fill=#f30 d=M5236,2500l-19,13,17,4,19,-26z />
<path fill=#f60 d=M5236,2768l-19,-10,17,-15,19,-5z />
<path fill=#4fb d=M5237,2166l-19,-12,18,-24,18,24z />
<path fill=#ef1 d=M5237,2359l-18,-13,17,6,19,-12z />
<path fill=#c00 d=M5238,2505l-19,-5,17,1,19,-8z />
<path fill=#f50 d=M5238,2780l-19,-16,17,1,19,29z />
<path fill=#5fa d=M5239,2177l-19,0,17,-14,19,16z />
<path fill=#ef1 d=M5239,2381l-19,-16,17,-9,19,15z />
<path fill=#c00 d=M5239,2532l-19,-17,17,-12,19,16z />
<path fill=#fc0 d=M5239,2860l-19,-44,17,-41,19,34z />
<path fill=#3fc d=M5240,2241l-19,-48,18,-19,18,25z />
<path fill=#fd0 d=M5240,2383l-18,0,17,-3,19,-23z />
<path fill=#c00 d=M5241,2555l-19,-17,17,-9,19,10z />
<path fill=#fc0 d=M5241,2859l-19,-24,17,20,19,42z />
<path fill=#4fb d=M5242,2219l-19,14,17,5,19,-24z />
<path fill=#fa0 d=M5242,2408l-19,-29,17,2,19,14z />
<path fill=#d00 d=M5242,2592l-19,-33,17,-8,19,42z />
<path fill=#fe0 d=M5242,2906l-19,-36,18,-13,18,24z />
<path fill=#4fb d=M5243,2278l-18,-41,17,-20,19,21z />
<path fill=#f70 d=M5244,2397l-19,11,17,0,19,-58z />
<path fill=#f60 d=M5244,2659l-19,-54,17,-19,19,72z />
<path fill=#df2 d=M5244,2930l-19,-16,17,-13,19,31z />
<path fill=#9f6 d=M5245,2250l-19,-18,17,44,19,6z />
<path fill=#f50 d=M5245,2423l-19,-22,17,-6,19,19z />
<path fill=#f20 d=M5245,2617l-19,41,18,0,18,-41z />
<path fill=#cf3 d=M5245,2969l-18,-33,17,-10,19,23z />
<path fill=#6f9 d=M5247,2334l-19,-86,17,1,19,12z />
<path fill=#f00 d=M5247,2411l-19,7,17,4,19,-25z />
<path fill=#b00 d=M5247,2642l-19,-13,17,-11,19,12z />
<path fill=#cf3 d=M5248,2275l-19,6,17,51,19,-61z />
<path fill=#f20 d=M5248,2443l-19,13,17,-47,19,10z />
<path fill=#b00 d=M5248,2665l-19,-14,18,-12,18,19z />
<path fill=#ef1 d=M5250,2293l-19,8,17,-25,19,4z />
<path fill=#f00 d=M5250,2480l-19,-42,17,2,19,38z />
<path fill=#f10 d=M5250,2735l-19,-63,17,-12,19,44z />
<path fill=#6f9 d=M5251,2126l-19,-7,17,-17,19,-8z />
<path fill=#ff0 d=M5251,2324l-19,-14,17,-19,19,11z />
<path fill=#f40 d=M5251,2493l-19,26,18,-42,18,-8z />
<path fill=#f40 d=M5251,2741l-18,4,17,-15,19,-17z />
<path fill=#5fa d=M5253,2155l-19,-24,17,-8,19,36z />
<path fill=#df2 d=M5253,2341l-19,12,17,-33,19,9z />
<path fill=#e00 d=M5253,2494l-19,7,17,-9,19,-4z />
<path fill=#f70 d=M5253,2795l-19,-29,17,-29,19,29z />
<path fill=#5fa d=M5254,2180l-19,-15,17,-12,19,-7z />
<path fill=#ef1 d=M5254,2372l-19,-14,18,-19,18,17z />
<path fill=#c00 d=M5254,2520l-18,-16,17,-12,19,24z />
<path fill=#f70 d=M5255,2810l-19,-33,17,14,19,32z />
<path fill=#5fa d=M5256,2201l-19,-25,17,2,19,8z />
<path fill=#fc0 d=M5256,2358l-19,23,17,-10,19,-19z />
<path fill=#c00 d=M5256,2540l-19,-9,17,-14,19,15z />
<path fill=#df2 d=M5256,2899l-19,-43,17,-51,19,18z />
<path fill=#2fd d=M5257,2215l-19,24,17,-43,19,30z />
<path fill=#fb0 d=M5257,2396l-19,-14,18,-26,18,28z />
<path fill=#f00 d=M5257,2593l-18,-41,17,-16,19,53z />
<path fill=#fe0 d=M5258,2880l-19,-24,17,38,19,19z />
<path fill=#7f8 d=M5259,2240l-19,-21,17,-5,19,5z />
<path fill=#f50 d=M5259,2353l-19,57,17,-13,19,-66z />
<path fill=#f60 d=M5259,2659l-19,-73,17,1,19,74z />
<path fill=#df2 d=M5259,2933l-19,-31,17,-24,19,30z />
<path fill=#2fd d=M5260,2282l-19,-6,18,-40,18,15z />
<path fill=#f50 d=M5260,2416l-18,-19,17,-46,19,41z />
<path fill=#f40 d=M5261,2617l-19,41,17,0,19,-53z />
<path fill=#cf3 d=M5261,2949l-19,-22,17,2,19,37z />
<path fill=#af5 d=M5262,2263l-19,-13,17,32,19,-26z />
<path fill=#f20 d=M5262,2397l-19,25,17,-8,19,-10z />
<path fill=#c00 d=M5262,2631l-19,-12,17,0,19,0z />
<path fill=#af5 d=M5262,2978l-19,-11,18,-20,18,16z />
<path fill=#7f8 d=M5263,2272l-18,61,17,-73,19,6z />
<path fill=#d00 d=M5264,2422l-19,-11,17,-14,19,14z />
<path fill=#c00 d=M5264,2659l-19,-19,17,-12,19,28z />
<path fill=#ff0 d=M5265,2281l-19,-4,17,-4,19,-1z />
<path fill=#f20 d=M5265,2479l-19,-38,17,-24,19,56z />
<path fill=#f00 d=M5265,2705l-19,-44,17,-7,19,61z />
<path fill=#7f8 d=M5266,2095l-19,8,18,4,18,-15z />
<path fill=#fe0 d=M5266,2303l-18,-11,17,-13,19,27z />
<path fill=#f10 d=M5267,2471l-19,7,17,-2,19,5z />
<path fill=#f30 d=M5267,2716l-19,17,17,-32,19,3z />
<path fill=#4fb d=M5268,2161l-19,-36,17,-33,19,25z />
<path fill=#ff0 d=M5268,2332l-19,-9,17,-22,19,8z />
<path fill=#e00 d=M5268,2489l-19,5,17,-24,19,1z />
<path fill=#f40 d=M5268,2769l-19,-30,18,-27,18,51z />
<path fill=#6f9 d=M5269,2148l-18,6,17,4,19,-14z />
<path fill=#ff0 d=M5270,2358l-19,-17,17,-12,19,2z />
<path fill=#d00 d=M5270,2516l-19,-23,17,-6,19,27z />
<path fill=#fb0 d=M5270,2823l-19,-31,17,-29,19,33z />
<path fill=#5fa d=M5271,2187l-19,-8,17,-34,19,25z />
<path fill=#fe0 d=M5271,2352l-19,19,17,-16,19,29z />
<path fill=#c00 d=M5271,2533l-19,-15,18,-4,18,3z />
<path fill=#fa0 d=M5271,2825l-18,-18,17,12,19,43z />
<path fill=#3fc d=M5273,2228l-19,-30,17,-15,19,21z />
<path fill=#fa0 d=M5273,2386l-19,-28,17,-6,19,27z />
<path fill=#f00 d=M5273,2590l-19,-53,17,-8,19,46z />
<path fill=#af5 d=M5273,2915l-19,-18,17,-77,19,18z />
<path fill=#5fa d=M5274,2218l-19,-5,17,11,19,59z />
<path fill=#f40 d=M5274,2333l-19,66,17,-13,19,-58z />
<path fill=#f80 d=M5274,2662l-19,-75,18,-5,18,61z />
<path fill=#df2 d=M5274,2908l-18,-31,17,33,19,36z />
<path fill=#6f9 d=M5276,2254l-19,-15,17,-21,19,0z />
<path fill=#f10 d=M5276,2395l-19,-42,17,-21,19,54z />
<path fill=#f60 d=M5276,2605l-19,53,17,2,19,-52z />
<path fill=#9f6 d=M5276,2968l-19,-38,17,-24,19,7z />
<path fill=#6f9 d=M5277,2256l-19,26,17,-32,19,9z />
<path fill=#f40 d=M5277,2404l-19,10,18,-24,18,14z />
<path fill=#d00 d=M5277,2620l-18,0,17,-13,19,1z />
<path fill=#af5 d=M5278,2963l-19,-17,17,17,19,36z />
<path fill=#bf4 d=M5279,2269l-19,-6,17,-7,19,2z />
<path fill=#d00 d=M5279,2412l-19,-14,17,6,19,1z />
<path fill=#d00 d=M5279,2656l-19,-28,17,-12,19,57z />
<path fill=#9f6 d=M5279,3003l-19,-28,17,-15,19,48z />
<path fill=#ef1 d=M5280,2272l-19,1,17,-6,19,28z />
<path fill=#f20 d=M5280,2474l-19,-56,18,-10,19,53z />
<path fill=#f20 d=M5281,2715l-19,-61,17,-2,19,58z />
<path fill=#5fa d=M5282,2092l-19,15,17,-25,19,25z />
<path fill=#ff0 d=M5282,2306l-19,-26,17,-10,19,25z />
<path fill=#f40 d=M5282,2482l-19,-5,17,-6,19,-27z />
<path fill=#f20 d=M5282,2705l-19,-3,17,10,19,-1z />
<path fill=#9f6 d=M5283,2120l-19,-26,17,-2,19,18z />
<path fill=#fd0 d=M5283,2311l-19,-9,18,3,18,-14z />
<path fill=#d00 d=M5283,2472l-18,-1,17,11,19,-21z />
<path fill=#f30 d=M5284,2765l-19,-51,17,-12,19,27z />
<path fill=#5fa d=M5285,2146l-19,14,17,-44,19,2z />
<path fill=#fd0 d=M5285,2333l-19,-2,17,-23,19,18z />
<path fill=#e00 d=M5285,2515l-19,-27,17,-18,19,22z />
<path fill=#f80 d=M5285,2798l-19,-33,17,-6,19,34z />
<path fill=#6f9 d=M5286,2170l-19,-24,18,-4,18,66z />
<path fill=#ef1 d=M5286,2385l-18,-29,17,-27,19,20z />
<path fill=#d00 d=M5287,2518l-19,-3,17,-2,19,-6z />
<path fill=#ff0 d=M5287,2862l-19,-42,17,-27,19,25z />
<path fill=#5fa d=M5288,2207l-19,-21,17,-17,19,-3z />
<path fill=#fc0 d=M5288,2379l-19,-28,17,32,19,5z />
<path fill=#f00 d=M5288,2576l-19,-46,17,-16,19,47z />
<path fill=#fb0 d=M5288,2839l-19,-17,17,36,19,39z />
<path fill=#0df d=M5289,2284l-19,-59,18,-23,18,-11z />
<path fill=#f50 d=M5289,2329l-18,59,17,-7,19,-67z />
<path fill=#f80 d=M5290,2645l-19,-60,17,-16,19,33z />
<path fill=#7f8 d=M5290,2948l-19,-35,17,-78,19,32z />
<path fill=#8f7 d=M5291,2217l-19,1,17,65,19,-69z />
<path fill=#f00 d=M5291,2388l-19,-55,17,-4,19,48z />
<path fill=#f80 d=M5291,2610l-19,51,17,-19,19,-64z />
<path fill=#cf3 d=M5291,2913l-19,-8,18,38,18,21z />
<path fill=#7f8 d=M5292,2261l-18,-8,17,-36,19,8z />
<path fill=#f40 d=M5293,2405l-19,-14,17,-8,19,16z />
<path fill=#d00 d=M5293,2608l-19,-1,17,4,19,7z />
<path fill=#5fa d=M5293,3000l-19,-35,17,-55,19,39z />
<path fill=#af5 d=M5294,2259l-19,-2,17,2,19,-14z />
<path fill=#f00 d=M5294,2406l-19,-2,17,0,19,-8z />
<path fill=#f10 d=M5294,2673l-19,-56,18,-12,18,67z />
<path fill=#7f8 d=M5294,3007l-18,-48,17,37,19,20z />
<path fill=#af5 d=M5296,2296l-19,-28,17,-11,19,16z />
<path fill=#f20 d=M5296,2462l-19,-53,17,-6,19,40z />
<path fill=#f40 d=M5296,2710l-19,-58,17,17,19,27z />
<path fill=#ef1 d=M5297,2295l-19,-24,17,23,19,-7z />
<path fill=#f20 d=M5297,2446l-19,27,17,-14,19,-27z />
<path fill=#f50 d=M5297,2711l-19,2,18,-6,18,-17z />
<path fill=#7f8 d=M5298,2110l-18,-19,17,15,19,20z />
<path fill=#fe0 d=M5299,2292l-19,14,17,-12,19,-8z />
<path fill=#e00 d=M5299,2462l-19,21,17,-38,19,5z />
<path fill=#f20 d=M5299,2729l-19,-26,17,6,19,50z />
<path fill=#8f7 d=M5300,2120l-19,-2,17,-10,19,28z />
<path fill=#fd0 d=M5300,2327l-19,-18,17,-19,19,37z />
<path fill=#d00 d=M5300,2493l-19,-22,18,-11,18,41z />
<path fill=#f90 d=M5300,2795l-18,-34,17,-36,19,35z />
<path fill=#3fc d=M5302,2211l-19,-66,17,-28,19,-6z />
<path fill=#fd0 d=M5302,2351l-19,-19,17,-7,19,4z />
<path fill=#d00 d=M5302,2508l-19,6,17,-23,19,5z />
<path fill=#fb0 d=M5302,2820l-19,-25,17,-6,19,28z />
<path fill=#7f8 d=M5303,2167l-19,2,17,38,19,-45z />
<path fill=#df2 d=M5303,2388l-19,-5,18,-36,18,29z />
<path fill=#f00 d=M5303,2563l-18,-47,17,-12,19,48z />
<path fill=#af5 d=M5304,2898l-19,-39,17,-45,19,18z />
<path fill=#6f9 d=M5305,2195l-19,10,17,-40,19,41z />
<path fill=#f50 d=M5305,2314l-19,68,17,9,19,-87z />
<path fill=#f50 d=M5305,2604l-19,-32,17,-15,19,20z />
<path fill=#fd0 d=M5305,2869l-19,-33,17,59,19,14z />
<path fill=#2fd d=M5306,2215l-19,69,17,-93,19,17z />
<path fill=#f10 d=M5306,2377l-19,-48,18,-15,18,67z />
<path fill=#f50 d=M5306,2581l-18,64,17,-43,19,-25z />
<path fill=#4fb d=M5307,2966l-19,-21,17,-81,19,39z />
<path fill=#bf4 d=M5308,2227l-19,-8,17,-3,19,4z />
<path fill=#f50 d=M5308,2399l-19,-16,17,-11,19,39z />
<path fill=#f10 d=M5308,2618l-19,-7,17,-31,19,43z />
<path fill=#af5 d=M5308,2949l-19,-39,17,52,19,32z />
<path fill=#9f6 d=M5309,2247l-19,14,18,-37,18,16z />
<path fill=#f20 d=M5309,2397l-18,8,17,-7,19,-8z />
<path fill=#f20 d=M5310,2672l-19,-67,17,9,19,58z />
<path fill=#2fd d=M5310,3017l-19,-20,17,-51,19,23z />
<path fill=#bf4 d=M5311,2275l-19,-16,17,-14,19,4z />
<path fill=#f20 d=M5311,2445l-19,-41,17,-10,19,34z />
<path fill=#f60 d=M5311,2696l-19,-27,17,-1,19,13z />
<path fill=#bf4 d=M5312,2288l-18,6,17,-22,19,13z />
<path fill=#f10 d=M5313,2434l-19,27,17,-19,19,-25z />
<path fill=#f50 d=M5313,2690l-19,17,17,-13,19,15z />
<path fill=#ff0 d=M5314,2287l-19,8,17,-8,19,0z />
<path fill=#c00 d=M5314,2452l-19,-5,17,-14,19,7z />
<path fill=#f70 d=M5314,2760l-19,-50,17,-22,19,33z />
<path fill=#5fa d=M5315,2136l-19,-28,18,17,18,-17z />
<path fill=#fd0 d=M5315,2328l-18,-37,17,-6,19,32z />
<path fill=#e00 d=M5316,2501l-19,-41,17,-12,19,46z />
<path fill=#f60 d=M5316,2760l-19,-35,17,30,19,36z />
<path fill=#bf4 d=M5317,2113l-19,6,17,17,19,-9z />
<path fill=#fd0 d=M5317,2330l-19,-4,17,0,19,-13z />
<path fill=#d00 d=M5317,2496l-19,-4,17,7,19,-6z />
<path fill=#fc0 d=M5317,2819l-19,-28,18,-35,18,33z />
<path fill=#4fb d=M5318,2165l-18,45,17,-100,19,17z />
<path fill=#ff0 d=M5319,2378l-19,-29,17,-22,19,29z />
<path fill=#e00 d=M5319,2554l-19,-48,17,-12,19,16z />
<path fill=#fd0 d=M5319,2834l-19,-17,17,-3,19,36z />
<path fill=#7f8 d=M5320,2208l-19,-41,17,-5,19,15z />
<path fill=#f70 d=M5320,2305l-19,86,17,-12,19,-72z />
<path fill=#f30 d=M5320,2579l-19,-20,18,-11,18,13z />
<path fill=#8f7 d=M5320,2909l-18,-14,17,-67,19,49z />
<path fill=#8f7 d=M5322,2212l-19,-18,17,11,19,-25z />
<path fill=#f20 d=M5322,2382l-19,-67,17,-10,19,58z />
<path fill=#f30 d=M5322,2579l-19,25,17,-28,19,-8z />
<path fill=#df2 d=M5322,2905l-19,-39,17,40,19,24z />
<path fill=#9f6 d=M5323,2220l-19,-4,17,-7,19,10z />
<path fill=#f70 d=M5323,2411l-19,-39,17,3,19,44z />
<path fill=#f10 d=M5323,2624l-19,-42,18,-4,18,8z />
<path fill=#2fd d=M5323,2995l-18,-32,17,-63,19,17z />
<path fill=#af5 d=M5325,2240l-19,-15,17,-8,19,57z />
<path fill=#f30 d=M5325,2390l-19,8,17,12,19,-19z />
<path fill=#f50 d=M5325,2671l-19,-57,17,4,19,61z />
<path fill=#7f8 d=M5325,2970l-19,-23,17,44,19,9z />
<path fill=#cf3 d=M5326,2251l-19,-4,17,-7,19,6z />
<path fill=#f10 d=M5326,2430l-19,-34,18,-7,18,12z />
<path fill=#f70 d=M5326,2682l-18,-13,17,-1,19,-1z />
<path fill=#bf4 d=M5328,2286l-19,-13,17,-25,19,38z />
<path fill=#f00 d=M5328,2419l-19,25,17,-17,19,-22z />
<path fill=#f80 d=M5328,2709l-19,-15,17,-15,19,25z />
<path fill=#ef1 d=M5329,2287l-19,0,17,-3,19,7z />
<path fill=#c00 d=M5329,2441l-19,-6,18,-17,18,11z />
<path fill=#f50 d=M5329,2722l-18,-33,17,18,19,32z />
<path fill=#fe0 d=M5331,2318l-19,-32,17,0,19,18z />
<path fill=#e00 d=M5331,2495l-19,-46,17,-12,19,39z />
<path fill=#fc0 d=M5331,2792l-19,-36,17,-39,19,22z />
<path fill=#7f8 d=M5332,2128l-19,8,17,-28,19,9z />
<path fill=#fd0 d=M5332,2314l-19,12,18,-10,18,-7z />
<path fill=#f00 d=M5332,2493l-18,6,17,-7,19,-11z />
<path fill=#fa0 d=M5333,2790l-19,-33,17,31,19,16z />
<path fill=#cf3 d=M5334,2130l-19,-17,17,14,19,15z />
<path fill=#fd0 d=M5334,2359l-19,-30,17,-17,19,21z />
<path fill=#c00 d=M5334,2512l-19,-16,17,-4,19,14z />
<path fill=#ff0 d=M5334,2852l-19,-36,17,-30,19,19z />
<path fill=#8f7 d=M5335,2179l-19,-15,18,-38,18,41z />
<path fill=#f90 d=M5335,2308l-18,72,17,-22,19,-50z />
<path fill=#f20 d=M5336,2564l-19,-12,17,-44,19,10z />
<path fill=#df2 d=M5336,2879l-19,-48,17,16,19,30z />
<path fill=#8f7 d=M5337,2182l-19,25,17,-31,19,1z />
<path fill=#f20 d=M5337,2364l-19,-58,17,3,19,46z />
<path fill=#f20 d=M5337,2570l-19,8,17,-18,19,3z />
<path fill=#6f9 d=M5337,2930l-19,-25,17,-31,19,41z />
<path fill=#8f7 d=M5338,2220l-19,-9,18,-31,18,17z />
<path fill=#fa0 d=M5338,2419l-18,-43,17,-19,19,55z />
<path fill=#e00 d=M5339,2588l-19,-8,17,-11,19,6z />
<path fill=#af5 d=M5339,2919l-19,-16,17,24,19,22z />
<path fill=#7f8 d=M5340,2274l-19,-56,17,-1,19,9z />
<path fill=#f60 d=M5340,2391l-19,19,17,8,19,-34z />
<path fill=#f70 d=M5340,2681l-19,-61,17,-38,19,52z />
<path fill=#1fe d=M5340,3002l-19,-8,18,-79,18,8z />
<path fill=#bf4 d=M5341,2246l-18,-7,17,34,19,-38z />
<path fill=#f10 d=M5342,2402l-19,-12,17,2,19,11z />
<path fill=#f80 d=M5342,2668l-19,1,17,7,19,-27z />
<path fill=#bf4 d=M5343,2287l-19,-38,17,-5,19,27z />
<path fill=#f00 d=M5343,2406l-19,23,17,-29,19,-1z />
<path fill=#f80 d=M5343,2706l-19,-25,18,-15,18,4z />
<path fill=#cf3 d=M5345,2292l-19,-7,17,0,19,-16z />
<path fill=#c00 d=M5345,2431l-19,-12,17,-14,19,14z />
<path fill=#f90 d=M5345,2739l-19,-32,17,-5,19,5z />
<path fill=#ef1 d=M5346,2304l-19,-18,17,4,19,17z />
<path fill=#e00 d=M5346,2478l-19,-39,17,-12,19,36z />
<path fill=#f70 d=M5346,2741l-19,-23,18,18,18,32z />
<path fill=#fe0 d=M5348,2310l-19,6,17,-14,19,23z />
<path fill=#f00 d=M5348,2483l-19,11,17,-20,19,-12z />
<path fill=#fe0 d=M5348,2805l-19,-16,17,-53,19,39z />
<path fill=#7f8 d=M5349,2141l-19,-16,17,-11,19,70z />
<path fill=#fc0 d=M5349,2334l-19,-21,17,-5,19,35z />
<path fill=#d00 d=M5349,2507l-19,-14,18,-12,18,5z />
<path fill=#fc0 d=M5349,2806l-18,-19,17,14,19,38z />
<path fill=#af5 d=M5351,2169l-19,-41,17,12,19,-2z />
<path fill=#f90 d=M5351,2310l-19,49,17,-25,19,-28z />
<path fill=#c00 d=M5351,2521l-19,-11,17,-6,19,12z />
<path fill=#bf4 d=M5351,2879l-19,-30,17,-47,19,26z />
<path fill=#9f6 d=M5352,2179l-19,-1,17,-12,19,-28z />
<path fill=#f40 d=M5352,2355l-19,-46,18,0,18,39z />
<path fill=#f10 d=M5352,2565l-18,-3,17,-45,19,32z />
<path fill=#7f8 d=M5353,2917l-19,-42,17,-3,19,39z />
<path fill=#bf4 d=M5354,2199l-19,-17,17,-5,19,9z />
<path fill=#fa0 d=M5354,2414l-19,-55,17,-10,19,45z />
<path fill=#e00 d=M5354,2576l-19,-6,17,-7,19,-3z />
<path fill=#4fb d=M5354,2947l-19,-21,17,-14,19,41z />
<path fill=#9f6 d=M5355,2229l-19,-9,17,-24,19,-6z />
<path fill=#f90 d=M5355,2385l-19,33,18,-7,18,-34z />
<path fill=#f20 d=M5355,2636l-18,-52,17,-13,19,65z />
<path fill=#af5 d=M5356,2924l-19,-7,17,29,19,45z />
<path fill=#7f8 d=M5357,2236l-19,37,17,-49,19,14z />
<path fill=#f30 d=M5357,2404l-19,-12,17,-7,19,-5z />
<path fill=#f80 d=M5357,2651l-19,28,17,-48,19,-5z />
<path fill=#bf4 d=M5358,2273l-19,-27,18,-11,18,8z />
<path fill=#e00 d=M5358,2400l-18,1,17,1,19,2z />
<path fill=#f50 d=M5359,2672l-19,-4,17,-19,19,20z />
<path fill=#cf3 d=M5360,2271l-19,15,17,-16,19,-14z />
<path fill=#b00 d=M5360,2420l-19,-14,17,-7,19,9z />
<path fill=#f80 d=M5360,2708l-19,-4,17,-36,19,42z />
<path fill=#df2 d=M5361,2308l-18,-16,17,-23,19,-2z />
<path fill=#e00 d=M5362,2464l-19,-36,17,-12,19,40z />
<path fill=#fc0 d=M5362,2769l-19,-32,17,-33,19,26z />
<path fill=#ef1 d=M5363,2325l-19,-23,17,3,19,-3z />
<path fill=#e00 d=M5363,2464l-19,12,17,-15,19,4z />
<path fill=#fa0 d=M5363,2776l-19,-38,17,27,19,15z />
<path fill=#fe0 d=M5364,2343l-18,-34,17,15,19,-4z />
<path fill=#c00 d=M5365,2488l-19,-5,17,-21,19,14z />
<path fill=#df2 d=M5365,2839l-19,-37,17,-30,19,27z />
<path fill=#9f6 d=M5366,2137l-19,3,17,43,19,-43z />
<path fill=#f80 d=M5366,2307l-19,28,17,8,19,-52z />
<path fill=#d00 d=M5366,2517l-19,-11,17,-21,19,13z />
<path fill=#fe0 d=M5366,2829l-19,-26,18,33,18,21z />
<path fill=#bf4 d=M5367,2140l-18,28,17,-31,19,20z />
<path fill=#f50 d=M5368,2349l-19,-39,17,-3,19,12z />
<path fill=#d00 d=M5368,2551l-19,-32,17,-6,19,36z />
<path fill=#7f8 d=M5368,2915l-19,-39,17,-51,19,31z />
<path fill=#bf4 d=M5369,2188l-19,-9,17,-41,19,7z />
<path fill=#f90 d=M5369,2395l-19,-44,17,-7,19,22z />
<path fill=#e00 d=M5369,2562l-19,2,17,-16,19,-5z />
<path fill=#2fd d=M5369,2953l-19,-41,18,-6,19,61z />
<path fill=#cf3 d=M5370,2191l-18,6,17,-13,19,37z />
<path fill=#f90 d=M5371,2379l-19,33,17,-20,19,-20z />
<path fill=#f30 d=M5371,2636l-19,-64,17,-16,19,82z />
<path fill=#0ef d=M5371,2988l-19,-45,17,6,19,48z />
<path fill=#af5 d=M5372,2241l-19,-13,17,-39,19,19z />
<path fill=#f20 d=M5372,2381l-19,6,17,-8,19,0z />
<path fill=#f40 d=M5372,2628l-19,6,18,-1,18,-20z />
<path fill=#cf3 d=M5374,2244l-19,-8,17,2,19,14z />
<path fill=#f10 d=M5374,2405l-19,-2,17,-24,19,9z />
<path fill=#f50 d=M5374,2671l-19,-20,17,-25,19,28z />
<path fill=#cf3 d=M5375,2257l-19,15,17,-30,19,17z />
<path fill=#c00 d=M5375,2408l-19,-8,18,4,18,-5z />
<path fill=#f70 d=M5375,2711l-18,-41,17,-3,19,20z />
<path fill=#fe0 d=M5377,2269l-19,2,17,-15,19,8z />
<path fill=#e00 d=M5377,2456l-19,-39,17,-12,19,54z />
<path fill=#f90 d=M5377,2732l-19,-26,17,1,19,29z />
<path fill=#ef1 d=M5378,2305l-19,3,17,-42,19,16z />
<path fill=#f00 d=M5378,2466l-19,-4,18,-9,18,9z />
<path fill=#fe0 d=M5378,2781l-18,-15,17,-39,19,22z />
<path fill=#ef1 d=M5380,2321l-19,3,17,-23,19,25z />
<path fill=#c00 d=M5380,2477l-19,-13,17,1,19,0z />
<path fill=#fe0 d=M5380,2800l-19,-27,17,4,19,35z />
<path fill=#fa0 d=M5381,2291l-19,53,18,-23,18,-18z />
<path fill=#b00 d=M5381,2500l-18,-13,17,-12,19,13z />
<path fill=#af5 d=M5382,2857l-19,-21,17,-40,19,25z />
<path fill=#af5 d=M5383,2158l-19,-20,17,2,19,15z />
<path fill=#f40 d=M5383,2321l-19,-12,17,-17,19,11z />
<path fill=#f00 d=M5383,2549l-19,-35,17,-19,19,53z />
<path fill=#df2 d=M5383,2857l-19,-31,17,28,19,30z />
<path fill=#ff0 d=M5384,2146l-19,-7,18,18,18,14z />
<path fill=#f80 d=M5384,2368l-18,-22,17,-30,19,34z />
<path fill=#d00 d=M5385,2544l-19,6,17,-3,19,-15z />
<path fill=#1fe d=M5385,2972l-19,-61,17,-59,19,16z />
<path fill=#af5 d=M5386,2223l-19,-36,17,-44,19,20z />
<path fill=#f90 d=M5386,2374l-19,20,17,-30,19,-4z />
<path fill=#f40 d=M5386,2640l-19,-82,17,-19,19,66z />
<path fill=#0bf d=M5386,2996l-19,-48,17,14,19,46z />
<path fill=#df2 d=M5387,2209l-19,-19,18,30,18,-11z />
<path fill=#f40 d=M5387,2380l-18,0,17,-6,19,-6z />
<path fill=#f50 d=M5388,2614l-19,19,17,2,19,-15z />
<path fill=#af5 d=M5389,2254l-19,-14,17,-34,19,6z />
<path fill=#f00 d=M5389,2389l-19,-9,17,-2,19,18z />
<path fill=#f40 d=M5389,2656l-19,-28,17,-15,19,24z />
<path fill=#cf3 d=M5390,2259l-18,-16,17,8,19,3z />
<path fill=#e00 d=M5391,2400l-19,5,17,-17,19,7z />
<path fill=#f70 d=M5391,2689l-19,-20,17,-17,19,11z />
<path fill=#ff0 d=M5392,2264l-19,-7,17,1,19,12z />
<path fill=#f00 d=M5392,2461l-19,-55,17,-9,19,30z />
<path fill=#fb0 d=M5392,2738l-19,-30,18,-23,18,14z />
<path fill=#fd0 d=M5394,2284l-19,-16,17,-5,19,13z />
<path fill=#f20 d=M5394,2463l-19,-10,17,3,19,13z />
<path fill=#fb0 d=M5394,2750l-19,-21,17,5,19,20z />
<path fill=#ef1 d=M5395,2328l-19,-25,17,-23,19,32z />
<path fill=#d00 d=M5395,2466l-19,0,17,-4,19,-8z />
<path fill=#ef1 d=M5395,2814l-19,-35,18,-33,18,21z />
<path fill=#fb0 d=M5397,2303l-19,18,17,6,19,-29z />
<path fill=#b00 d=M5397,2489l-19,-13,17,-12,19,13z />
<path fill=#ef1 d=M5397,2823l-19,-25,17,12,19,14z />
<path fill=#f40 d=M5398,2304l-19,-11,17,12,19,-14z />
<path fill=#f00 d=M5398,2549l-19,-52,18,-12,18,52z />
<path fill=#8f7 d=M5398,2885l-18,-31,17,-36,19,29z />
<path fill=#af5 d=M5400,2171l-19,-15,17,-3,19,7z />
<path fill=#f60 d=M5400,2353l-19,-34,17,-18,19,20z />
<path fill=#e00 d=M5400,2533l-19,15,17,-2,19,-25z />
<path fill=#bf4 d=M5400,2871l-19,-16,17,27,19,14z />
<path fill=#ff0 d=M5401,2165l-19,-20,17,25,19,7z />
<path fill=#f80 d=M5401,2361l-19,5,18,-18,18,28z />
<path fill=#f20 d=M5401,2606l-18,-65,17,-12,19,80z />
<path fill=#0af d=M5402,3013l-19,-45,17,-104,19,14z />
<path fill=#af5 d=M5403,2211l-19,11,17,-60,19,-3z />
<path fill=#f40 d=M5403,2368l-19,6,17,-14,19,18z />
<path fill=#f70 d=M5403,2622l-19,15,17,-35,19,-20z />
<path fill=#df2 d=M5404,2214l-19,-6,17,0,19,18z />
<path fill=#f30 d=M5404,2396l-19,-17,18,-12,18,21z />
<path fill=#f30 d=M5404,2637l-18,-24,17,7,19,20z />
<path fill=#bf4 d=M5406,2256l-19,-3,17,-42,19,12z />
<path fill=#e00 d=M5406,2395l-19,-7,17,7,19,3z />
<path fill=#f50 d=M5406,2665l-19,-11,17,-20,19,29z />
<path fill=#cf3 d=M5407,2270l-19,-11,18,-6,18,2z />
<path fill=#e00 d=M5407,2429l-18,-30,17,-5,19,16z />
<path fill=#f80 d=M5408,2702l-19,-15,17,-26,19,38z />
<path fill=#fe0 d=M5409,2276l-19,-13,17,6,19,-9z />
<path fill=#f40 d=M5409,2470l-19,-13,17,-34,19,41z />
<path fill=#fd0 d=M5409,2756l-19,-21,17,-38,19,39z />
<path fill=#ff0 d=M5410,2314l-19,-32,18,-8,19,13z />
<path fill=#e00 d=M5411,2454l-19,9,17,7,19,-28z />
<path fill=#fd0 d=M5411,2768l-19,-20,17,4,19,42z />
<path fill=#fd0 d=M5412,2299l-19,29,17,-16,19,-28z />
<path fill=#c00 d=M5412,2478l-19,-13,17,-12,19,26z />
<path fill=#bf4 d=M5412,2826l-19,-15,17,-47,19,35z />
<path fill=#f60 d=M5413,2291l-18,14,17,-5,19,-14z />
<path fill=#f10 d=M5414,2537l-19,-52,17,-12,19,86z />
<path fill=#bf4 d=M5414,2850l-19,-30,17,2,19,15z />
<path fill=#f40 d=M5415,2323l-19,-20,17,-13,19,24z />
<path fill=#f00 d=M5415,2522l-19,25,17,-12,19,-25z />
<path fill=#6f9 d=M5415,2897l-19,-15,18,-37,18,19z />
<path fill=#af5 d=M5416,2177l-18,-7,17,-11,19,0z />
<path fill=#f90 d=M5417,2378l-19,-28,17,-31,19,16z />
<path fill=#f20 d=M5417,2610l-19,-80,17,-12,19,60z />
<path fill=#bf4 d=M5417,2883l-19,-14,17,25,19,31z />
<path fill=#fe0 d=M5418,2161l-19,3,17,12,19,2z />
<path fill=#f60 d=M5418,2378l-19,-18,17,15,19,-19z />
<path fill=#f40 d=M5418,2584l-19,19,17,3,19,-17z />
<path fill=#cf3 d=M5419,2229l-18,-18,17,-53,19,12z />
<path fill=#f30 d=M5420,2389l-19,-21,17,10,19,-27z />
<path fill=#f50 d=M5420,2642l-19,-20,17,-40,19,33z />
<path fill=#ef1 d=M5421,2225l-19,-12,17,12,19,-1z />
<path fill=#f20 d=M5421,2398l-19,-3,17,-8,19,-2z />
<path fill=#f60 d=M5421,2664l-19,-30,18,3,18,42z />
<path fill=#df2 d=M5423,2257l-19,-1,17,-33,19,2z />
<path fill=#e00 d=M5423,2411l-19,-16,17,2,19,-10z />
<path fill=#f70 d=M5423,2700l-19,-38,17,-1,19,29z />
<path fill=#ff0 d=M5424,2261l-19,9,17,-15,19,-1z />
<path fill=#f20 d=M5424,2466l-19,-40,18,-20,18,36z />
<path fill=#fa0 d=M5424,2738l-18,-39,17,-4,19,31z />
<path fill=#fe0 d=M5426,2289l-19,-14,17,-16,19,19z />
<path fill=#f10 d=M5426,2443l-19,27,17,-6,19,-25z />
<path fill=#ef1 d=M5426,2795l-19,-42,17,-20,19,16z />
<path fill=#fc0 d=M5427,2286l-19,28,17,-27,19,-17z />
<path fill=#d00 d=M5427,2479l-19,-26,18,-12,18,43z />
<path fill=#ff0 d=M5427,2800l-18,-35,17,26,19,5z />
<path fill=#f60 d=M5429,2287l-19,15,17,-15,19,-38z />
<path fill=#f30 d=M5429,2559l-19,-86,17,0,19,75z />
<path fill=#af5 d=M5429,2837l-19,-15,17,-27,19,57z />
<path fill=#f40 d=M5430,2314l-19,-24,18,-5,18,35z />
<path fill=#f10 d=M5430,2510l-18,25,17,22,19,-44z />
<path fill=#9f6 d=M5431,2866l-19,-19,17,-13,19,42z />
<path fill=#f50 d=M5432,2337l-19,-16,17,-10,19,30z />
<path fill=#f10 d=M5432,2580l-19,-60,17,-12,19,50z />
<path fill=#4fb d=M5432,2925l-19,-31,17,-32,19,22z />
<path fill=#cf3 d=M5433,2179l-19,-3,18,-17,18,1z />
<path fill=#f70 d=M5433,2358l-18,18,17,-42,19,21z />
<path fill=#f60 d=M5434,2591l-19,16,17,-31,19,-22z />
<path fill=#fc0 d=M5435,2172l-19,-12,17,18,19,16z />
<path fill=#f20 d=M5435,2353l-19,26,17,-21,19,-21z />
<path fill=#f20 d=M5435,2617l-19,-33,17,5,19,21z />
<path fill=#df2 d=M5436,2227l-19,1,18,-59,18,10z />
<path fill=#f20 d=M5436,2387l-18,2,17,-38,19,20z />
<path fill=#f90 d=M5437,2680l-19,-41,17,-27,19,19z />
<path fill=#fe0 d=M5438,2227l-19,-3,17,-1,19,16z />
<path fill=#e00 d=M5438,2388l-19,11,17,-13,19,-10z />
<path fill=#f90 d=M5438,2689l-19,-29,17,15,19,33z />
<path fill=#ff0 d=M5439,2256l-18,1,17,-32,19,14z />
<path fill=#f10 d=M5440,2444l-19,-36,17,-23,19,52z />
<path fill=#fb0 d=M5440,2727l-19,-30,17,-11,19,21z />
<path fill=#fe0 d=M5441,2280l-19,-19,17,-7,19,5z />
<path fill=#f20 d=M5441,2440l-19,25,17,-24,19,-8z />
<path fill=#fd0 d=M5441,2751l-19,-15,18,-13,18,19z />
<path fill=#fb0 d=M5443,2272l-19,17,17,-11,19,-18z />
<path fill=#e00 d=M5443,2484l-19,-42,17,-4,19,46z />
<path fill=#cf3 d=M5443,2797l-19,-4,17,-47,19,27z />
<path fill=#f40 d=M5444,2251l-19,38,17,-15,19,-48z />
<path fill=#f50 d=M5444,2548l-19,-74,17,5,19,52z />
<path fill=#9f6 d=M5444,2853l-19,-57,18,-4,18,45z />
<path fill=#f50 d=M5446,2322l-19,-35,17,-39,19,45z />
<path fill=#f50 d=M5446,2513l-19,44,17,-11,19,-60z />
<path fill=#6f9 d=M5446,2874l-19,-41,17,15,19,63z />
<path fill=#f70 d=M5447,2341l-19,-29,17,6,19,13z />
<path fill=#f00 d=M5447,2559l-19,-49,18,2,18,37z />
<path fill=#8f7 d=M5447,2886l-18,-23,17,10,19,18z />
<path fill=#f60 d=M5449,2357l-19,-22,17,4,19,11z />
<path fill=#f20 d=M5449,2557l-19,22,17,-23,19,-19z />
<path fill=#df2 d=M5450,2194l-19,-16,17,-19,19,21z />
<path fill=#f10 d=M5450,2339l-19,20,18,-2,18,-39z />
<path fill=#f40 d=M5450,2612l-18,-21,17,-37,19,29z />
<path fill=#fc0 d=M5452,2180l-19,-10,17,23,19,6z />
<path fill=#e00 d=M5452,2374l-19,-21,17,-15,19,7z />
<path fill=#f50 d=M5452,2633l-19,-19,17,-7,19,40z />
<path fill=#ef1 d=M5453,2241l-19,-15,17,-48,19,16z />
<path fill=#e00 d=M5453,2377l-19,10,18,-16,18,-6z />
<path fill=#fd0 d=M5453,2709l-18,-32,17,-49,19,44z />
<path fill=#fd0 d=M5455,2241l-19,-15,17,12,19,-8z />
<path fill=#f00 d=M5455,2438l-19,-52,17,-12,19,55z />
<path fill=#fb0 d=M5455,2707l-19,-21,17,19,19,23z />
<path fill=#fd0 d=M5456,2261l-19,-6,18,-17,18,10z />
<path fill=#f10 d=M5456,2434l-18,8,17,-8,19,13z />
<path fill=#fd0 d=M5457,2744l-19,-19,17,-20,19,11z />
<path fill=#fb0 d=M5458,2261l-19,19,17,-21,19,0z />
<path fill=#f10 d=M5458,2484l-19,-45,17,-8,19,47z />
<path fill=#ff0 d=M5458,2775l-19,-27,17,-9,19,44z />
<path fill=#f20 d=M5459,2228l-19,48,18,-13,18,-47z />
<path fill=#f60 d=M5459,2532l-18,-52,17,-1,19,33z />
<path fill=#af5 d=M5460,2840l-19,-45,17,-24,19,18z />
<path fill=#f20 d=M5461,2295l-19,-44,17,-25,19,64z />
<path fill=#f30 d=M5461,2488l-19,60,17,-18,19,-45z />
<path fill=#1fe d=M5461,2911l-19,-63,17,-16,19,36z />
<path fill=#f80 d=M5462,2332l-18,-13,17,-29,19,24z />
<path fill=#f10 d=M5463,2551l-19,-37,17,-27,19,49z />
<path fill=#3fc d=M5463,2888l-19,-18,17,37,19,42z />
<path fill=#f80 d=M5464,2350l-19,-11,17,-10,19,25z />
<path fill=#f10 d=M5464,2538l-19,19,17,-10,19,14z />
<path fill=#f10 d=M5466,2319l-19,39,17,-7,19,-44z />
<path fill=#f00 d=M5466,2585l-19,-29,17,-20,19,51z />
<path fill=#df2 d=M5467,2199l-19,-7,17,-14,19,9z />
<path fill=#c00 d=M5467,2347l-19,-7,17,-21,19,15z />
<path fill=#f70 d=M5467,2649l-19,-40,17,-29,19,31z />
<path fill=#fb0 d=M5468,2196l-18,-17,17,19,19,7z />
<path fill=#d00 d=M5469,2367l-19,6,17,-29,19,11z />
<path fill=#f80 d=M5469,2674l-19,-44,17,14,19,22z />
<path fill=#ff0 d=M5470,2232l-19,9,17,-47,19,-4z />
<path fill=#f00 d=M5470,2430l-19,-55,17,-12,19,44z />
<path fill=#ef1 d=M5470,2729l-19,-23,18,-37,18,12z />
<path fill=#fd0 d=M5472,2250l-19,-10,17,-10,19,6z />
<path fill=#f40 d=M5472,2448l-19,-13,17,-10,19,5z />
<path fill=#fc0 d=M5472,2715l-19,-10,17,20,19,38z />
<path fill=#fb0 d=M5473,2261l-19,0,17,-13,19,-22z />
<path fill=#f30 d=M5473,2478l-19,-47,18,14,18,53z />
<path fill=#ef1 d=M5473,2785l-18,-44,17,-28,19,34z />
<path fill=#f20 d=M5475,2217l-19,48,17,-3,19,-57z />
<path fill=#f60 d=M5475,2513l-19,-33,17,-5,19,14z />
<path fill=#df2 d=M5475,2790l-19,-18,17,8,19,23z />
<path fill=#f10 d=M5476,2292l-19,-65,17,-12,19,63z />
<path fill=#f30 d=M5476,2486l-19,46,18,-20,18,-46z />
<path fill=#5fa d=M5476,2873l-18,-37,17,-51,19,26z />
<path fill=#f60 d=M5478,2316l-19,-25,17,-5,19,19z />
<path fill=#f00 d=M5478,2537l-19,-48,17,-4,19,34z />
<path fill=#09f d=M5478,2949l-19,-42,17,-43,19,17z />
<path fill=#f90 d=M5479,2356l-19,-25,18,-18,18,0z />
<path fill=#f30 d=M5479,2562l-18,-14,17,-15,19,-6z />
<path fill=#f20 d=M5481,2308l-19,44,17,4,19,-59z />
<path fill=#f10 d=M5481,2587l-19,-50,17,22,19,11z />
<path fill=#c00 d=M5482,2334l-18,-14,17,-12,19,44z />
<path fill=#f40 d=M5483,2613l-19,-32,17,2,19,26z />
<path fill=#ff0 d=M5484,2205l-19,-7,17,-11,19,-3z />
<path fill=#c00 d=M5484,2357l-19,-11,17,-14,19,13z />
<path fill=#fa0 d=M5484,2668l-19,-23,17,-37,19,33z />
<path fill=#fa0 d=M5485,2191l-19,4,18,9,18,10z />
<path fill=#e00 d=M5485,2408l-18,-43,17,-12,19,44z />
<path fill=#fb0 d=M5486,2683l-19,-12,17,-8,19,31z />
<path fill=#fc0 d=M5487,2238l-19,-6,17,-43,19,14z />
<path fill=#f30 d=M5487,2431l-19,-4,17,-23,19,13z />
<path fill=#bf4 d=M5487,2764l-19,-38,17,-48,19,41z />
<path fill=#f90 d=M5488,2227l-18,23,17,-14,19,-10z />
<path fill=#f70 d=M5489,2498l-19,-53,17,-19,19,53z />
<path fill=#fe0 d=M5489,2746l-19,-34,17,48,19,38z />
<path fill=#f30 d=M5490,2207l-19,57,17,-35,19,-34z />
<path fill=#f60 d=M5490,2490l-19,-15,17,21,19,-30z />
<path fill=#af5 d=M5490,2804l-19,-23,18,-38,18,24z />
<path fill=#f10 d=M5492,2279l-19,-63,17,-12,19,85z />
<path fill=#f20 d=M5492,2468l-19,46,17,-24,19,-34z />
<path fill=#cf3 d=M5492,2813l-19,-25,17,12,19,16z />
<path fill=#f70 d=M5493,2306l-19,-19,17,-13,19,19z />
<path fill=#f00 d=M5493,2521l-19,-34,17,-20,19,25z />
<path fill=#2fd d=M5493,2887l-19,-17,18,-62,18,29z />
<path fill=#f60 d=M5495,2316l-19,-1,17,-11,19,-22z />
<path fill=#f10 d=M5495,2528l-19,7,17,-19,19,23z />
<path fill=#f30 d=M5496,2299l-19,59,17,-43,19,-29z />
<path fill=#f30 d=M5496,2571l-19,-11,18,-34,18,31z />
<path fill=#f00 d=M5498,2352l-19,-44,17,-11,19,65z />
<path fill=#f50 d=M5498,2610l-19,-26,17,-17,19,13z />
<path fill=#c00 d=M5499,2345l-19,-12,17,18,19,-18z />
<path fill=#f70 d=M5499,2643l-19,-33,18,-5,19,34z />
<path fill=#fe0 d=M5501,2214l-19,-10,17,-21,19,22z />
<path fill=#e00 d=M5501,2398l-19,-44,17,-12,19,47z />
<path fill=#fc0 d=M5501,2696l-19,-30,17,-28,19,1z />
<path fill=#f80 d=M5502,2205l-19,-15,17,24,19,3z />
<path fill=#f20 d=M5502,2419l-19,-13,18,-12,18,1z />
<path fill=#fe0 d=M5502,2721l-18,-41,17,11,19,37z />
<path fill=#f90 d=M5504,2228l-19,10,17,-35,19,-1z />
<path fill=#f60 d=M5504,2481l-19,-53,17,-14,19,42z />
<path fill=#7f8 d=M5504,2799l-19,-39,17,-45,19,16z />
<path fill=#f10 d=M5505,2196l-19,34,18,-1,18,-45z />
<path fill=#f70 d=M5505,2467l-18,30,17,-19,19,-41z />
<path fill=#cf3 d=M5506,2766l-19,-24,17,53,19,32z />
<path fill=#f30 d=M5507,2290l-19,-85,17,-12,19,72z />
<path fill=#f10 d=M5507,2457l-19,35,17,-24,19,-12z />
<path fill=#9f6 d=M5507,2817l-19,-15,17,-37,19,29z />
<path fill=#f70 d=M5508,2293l-19,-19,18,10,18,25z />
<path fill=#d00 d=M5508,2494l-18,-25,17,-13,19,32z />
<path fill=#9f6 d=M5509,2840l-19,-29,17,3,19,24z />
<path fill=#f40 d=M5510,2284l-19,22,17,-12,19,-25z />
<path fill=#f30 d=M5510,2540l-19,-23,17,-29,19,43z />
<path fill=#f00 d=M5511,2288l-18,30,17,-34,19,-7z />
<path fill=#f20 d=M5512,2558l-19,-31,17,10,19,19z />
<path fill=#f10 d=M5513,2363l-19,-65,17,-13,19,45z />
<path fill=#f30 d=M5513,2582l-19,-13,17,-15,19,30z />
<path fill=#f00 d=M5515,2333l-19,17,17,10,19,-22z />
<path fill=#f80 d=M5515,2641l-19,-34,17,-30,19,34z />
<path fill=#f00 d=M5516,2389l-19,-46,17,-12,19,62z />
<path fill=#f80 d=M5516,2641l-19,-1,17,-3,19,23z />
<path fill=#fd0 d=M5517,2216l-18,-3,17,-9,19,-2z />
<path fill=#f10 d=M5518,2396l-19,-1,17,-9,19,16z />
<path fill=#ef1 d=M5518,2730l-19,-37,17,-57,19,56z />
<path fill=#f70 d=M5519,2203l-19,1,17,12,19,-6z />
<path fill=#f40 d=M5519,2459l-19,-42,17,-25,19,33z />
<path fill=#df2 d=M5519,2733l-19,-15,18,7,18,19z />
<path fill=#f20 d=M5521,2186l-19,44,17,-26,19,-30z />
<path fill=#f40 d=M5521,2439l-19,42,17,-25,19,-46z />
<path fill=#3fc d=M5521,2828l-19,-33,17,-68,19,33z />
<path fill=#f20 d=M5522,2266l-19,-71,17,-12,19,69z />
<path fill=#f00 d=M5522,2458l-19,12,18,-31,18,0z />
<path fill=#9f6 d=M5522,2792l-18,-29,17,60,19,51z />
<path fill=#fb0 d=M5524,2310l-19,-26,17,-25,19,31z />
<path fill=#d00 d=M5524,2489l-19,-32,17,-1,19,19z />
<path fill=#8f7 d=M5524,2839l-19,-24,17,-24,19,24z />
<path fill=#f40 d=M5525,2270l-19,24,17,16,19,-51z />
<path fill=#f20 d=M5525,2533l-19,-43,18,-6,18,33z />
<path fill=#e00 d=M5527,2279l-19,7,17,-15,19,2z />
<path fill=#f40 d=M5527,2556l-19,-19,17,-9,19,26z />
<path fill=#f00 d=M5528,2332l-19,-45,18,-11,18,50z />
<path fill=#f50 d=M5528,2585l-18,-30,17,-1,19,20z />
<path fill=#f30 d=M5530,2339l-19,22,17,-33,19,-5z />
<path fill=#f50 d=M5530,2613l-19,-34,17,3,19,22z />
<path fill=#f20 d=M5531,2393l-18,-62,17,5,19,56z />
<path fill=#fb0 d=M5532,2661l-19,-24,17,-29,19,37z />
<path fill=#f40 d=M5533,2401l-19,-15,17,3,19,20z />
<path fill=#fb0 d=M5533,2694l-19,-56,17,20,19,22z />
<path fill=#fa0 d=M5534,2210l-19,7,18,-14,18,-11z />
<path fill=#f20 d=M5534,2427l-18,-33,17,6,19,16z />
<path fill=#bf4 d=M5535,2745l-19,-19,17,-38,19,25z />
<path fill=#f10 d=M5536,2175l-19,30,17,7,19,-49z />
<path fill=#f20 d=M5536,2413l-19,46,17,-34,19,-24z />
<path fill=#bf4 d=M5536,2763l-19,-32,17,10,19,23z />
<path fill=#f10 d=M5537,2255l-18,-70,17,-12,19,26z />
<path fill=#d00 d=M5538,2442l-19,-1,17,-29,19,18z />
<path fill=#0df d=M5538,2874l-19,-50,17,-68,19,25z />
<path fill=#f90 d=M5539,2292l-19,-31,17,-14,19,28z />
<path fill=#e00 d=M5539,2477l-19,-20,17,-18,19,12z />
<path fill=#7f8 d=M5539,2811l-19,-23,18,82,18,38z />
<path fill=#f60 d=M5541,2260l-19,51,17,-19,19,-53z />
<path fill=#f20 d=M5541,2518l-19,-33,17,-13,19,40z />
<path fill=#e00 d=M5542,2274l-19,-2,17,-11,19,0z />
<path fill=#f50 d=M5542,2556l-19,-27,17,-16,19,24z />
<path fill=#f10 d=M5544,2326l-19,-50,17,-6,19,69z />
<path fill=#f60 d=M5544,2575l-19,-21,17,-2,19,14z />
<path fill=#f10 d=M5545,2325l-19,5,17,-6,19,-7z />
<path fill=#f60 d=M5545,2606l-19,-23,18,-11,18,-4z />
<path fill=#f30 d=M5547,2394l-19,-57,17,-15,19,35z />
<path fill=#fa0 d=M5547,2647l-19,-38,17,-9,19,45z />
<path fill=#f70 d=M5548,2410l-19,-20,17,-1,19,3z />
<path fill=#fd0 d=M5548,2681l-19,-22,18,-17,18,14z />
<path fill=#f40 d=M5550,2417l-19,-17,17,8,19,-17z />
<path fill=#ef1 d=M5550,2715l-19,-25,17,-13,19,34z />
<path fill=#f20 d=M5551,2164l-19,49,17,-18,19,-43z />
<path fill=#f00 d=M5551,2403l-19,24,18,-11,18,-25z />
<path fill=#9f6 d=M5551,2766l-18,-23,17,-32,19,18z />
<path fill=#d00 d=M5553,2201l-19,-26,17,-12,19,42z />
<path fill=#c00 d=M5553,2432l-19,-18,17,-12,19,19z />
<path fill=#9f6 d=M5553,2785l-19,-24,17,1,19,23z />
<path fill=#f70 d=M5554,2279l-19,-29,18,-56,18,34z />
<path fill=#c00 d=M5554,2453l-18,-13,17,-11,19,12z />
<path fill=#08f d=M5555,2909l-19,-38,17,-93,19,10z />
<path fill=#f50 d=M5556,2241l-19,52,17,-17,19,-42z />
<path fill=#f20 d=M5556,2514l-19,-40,17,-26,19,47z />
<path fill=#e00 d=M5557,2263l-19,-1,18,-20,18,3z />
<path fill=#f50 d=M5557,2538l-18,-23,17,-6,19,21z />
<path fill=#f30 d=M5559,2339l-19,-69,17,-13,19,89z />
<path fill=#f70 d=M5559,2568l-19,-14,17,-19,19,16z />
<path fill=#f20 d=M5560,2317l-18,7,17,12,19,-20z />
<path fill=#f50 d=M5561,2568l-19,5,17,-9,19,40z />
<path fill=#f10 d=M5562,2359l-19,-36,17,-7,19,45z />
<path fill=#fa0 d=M5562,2648l-19,-45,17,-38,19,37z />
<path fill=#f70 d=M5564,2394l-19,-3,17,-37,19,24z />
<path fill=#fc0 d=M5564,2657l-19,-14,17,-1,19,24z />
<path fill=#f40 d=M5565,2392l-19,18,17,-17,19,-17z />
<path fill=#ef1 d=M5565,2714l-19,-35,17,-25,19,22z />
<path fill=#f00 d=M5567,2392l-19,26,17,-26,19,-12z />
<path fill=#df2 d=M5567,2731l-19,-18,17,-4,19,22z />
<path fill=#e00 d=M5568,2206l-19,-42,17,-12,19,30z />
<path fill=#c00 d=M5568,2422l-19,-19,17,-12,19,22z />
<path fill=#7f8 d=M5568,2787l-19,-23,18,-38,18,19z />
<path fill=#f10 d=M5570,2231l-19,-34,17,4,19,29z />
<path fill=#c00 d=M5570,2443l-19,-12,17,-11,19,7z />
<path fill=#8f7 d=M5570,2793l-19,-10,17,-1,19,29z />
<path fill=#f40 d=M5571,2236l-19,43,17,-51,19,-19z />
<path fill=#f00 d=M5571,2498l-19,-48,18,-12,18,38z />
<path fill=#d00 d=M5573,2246l-19,-3,17,-8,19,26z />
<path fill=#f50 d=M5573,2531l-19,-21,17,-18,19,22z />
<path fill=#f50 d=M5574,2348l-19,-90,17,-18,19,83z />
<path fill=#f60 d=M5574,2552l-19,-16,18,-9,18,39z />
<path fill=#f50 d=M5576,2316l-19,20,17,8,19,-44z />
<path fill=#f90 d=M5576,2605l-19,-40,17,-17,19,33z />
<path fill=#f30 d=M5577,2361l-19,-45,18,-1,18,33z />
<path fill=#f60 d=M5577,2602l-18,-36,17,36,19,25z />
<path fill=#f40 d=M5579,2380l-19,-24,17,2,19,9z />
<path fill=#fe0 d=M5579,2668l-19,-23,17,-46,19,15z />
<path fill=#f30 d=M5580,2378l-18,17,17,-17,19,-25z />
<path fill=#fd0 d=M5581,2677l-19,-22,17,9,19,18z />
<path fill=#e00 d=M5582,2382l-19,11,17,-16,19,7z />
<path fill=#cf3 d=M5582,2734l-19,-23,17,-38,19,16z />
<path fill=#c00 d=M5583,2414l-18,-22,17,-12,19,38z />
<path fill=#cf3 d=M5584,2747l-19,-19,17,1,19,21z />
<path fill=#f30 d=M5585,2231l-19,-29,17,-24,19,36z />
<path fill=#c00 d=M5585,2429l-19,-8,17,-9,19,5z />
<path fill=#5fa d=M5585,2812l-19,-28,17,-42,19,38z />
<path fill=#f00 d=M5586,2211l-18,19,17,-1,19,5z />
<path fill=#e00 d=M5587,2477l-19,-37,17,-15,19,41z />
<path fill=#f00 d=M5588,2263l-19,-26,17,-27,19,16z />
<path fill=#f40 d=M5588,2516l-19,-22,17,-22,19,36z />
<path fill=#f30 d=M5589,2324l-18,-83,17,16,19,57z />
<path fill=#f80 d=M5590,2568l-19,-39,17,-17,19,11z />
<path fill=#f60 d=M5591,2301l-19,44,17,-25,19,-33z />
<path fill=#f80 d=M5591,2581l-19,-32,17,14,19,23z />
<path fill=#f40 d=M5593,2349l-19,-34,17,-16,19,49z />
<path fill=#fd0 d=M5593,2627l-19,-26,17,-24,19,23z />
<path fill=#f50 d=M5594,2368l-19,-9,17,-13,19,-5z />
<path fill=#f90 d=M5594,2615l-19,-15,18,25,18,26z />
<path fill=#f10 d=M5596,2355l-19,25,17,-12,19,-33z />
<path fill=#ff0 d=M5596,2684l-19,-18,17,-55,19,41z />
<path fill=#f00 d=M5597,2385l-19,-7,17,-25,19,29z />
<path fill=#ff0 d=M5597,2690l-19,-15,18,5,18,47z />
<path fill=#e00 d=M5599,2418l-19,-38,17,2,19,35z />
<path fill=#af5 d=M5599,2752l-19,-21,17,-44,19,29z />
<path fill=#c00 d=M5600,2417l-19,-5,18,5,18,-12z />
<path fill=#9f6 d=M5600,2782l-18,-37,17,2,19,23z />
<path fill=#f40 d=M5602,2234l-19,-5,17,-17,19,12z />
<path fill=#e00 d=M5602,2468l-19,-42,17,-12,19,49z />
<path fill=#c00 d=M5603,2227l-19,-16,18,23,18,-8z />
<path fill=#f40 d=M5603,2510l-18,-36,17,-11,19,16z />
<path fill=#f50 d=M5605,2316l-19,-57,17,-37,19,33z />
<path fill=#f50 d=M5605,2525l-19,-11,17,-8,19,19z />
<path fill=#f50 d=M5606,2289l-19,33,18,-10,18,-42z />
<path fill=#fb0 d=M5606,2587l-18,-22,17,-44,19,21z />
<path fill=#f40 d=M5608,2350l-19,-49,17,-14,19,27z />
<path fill=#fb0 d=M5608,2601l-19,-23,17,5,19,26z />
<path fill=#f40 d=M5609,2343l-18,4,17,0,19,-18z />
<path fill=#ff0 d=M5610,2651l-19,-26,17,-27,19,10z />
<path fill=#f10 d=M5611,2337l-19,32,17,-27,19,-15z />
<path fill=#fb0 d=M5611,2653l-19,-41,17,36,19,29z />
<path fill=#e00 d=M5613,2384l-19,-29,17,-20,19,24z />
<path fill=#bf4 d=M5613,2728l-19,-48,17,-32,19,46z />
<path fill=#f10 d=M5614,2418l-19,-35,17,-3,19,21z />
<path fill=#df2 d=M5614,2716l-19,-29,17,37,19,35z />
<path fill=#e00 d=M5616,2406l-19,11,17,-1,19,-22z />
<path fill=#8f7 d=M5616,2772l-19,-23,17,-36,19,32z />
<path fill=#f00 d=M5617,2464l-19,-50,17,-12,19,69z />
<path fill=#f10 d=M5619,2226l-19,8,17,-10,19,-9z />
<path fill=#f20 d=M5619,2481l-19,-17,17,-4,19,10z />
<path fill=#e00 d=M5620,2257l-19,-32,17,-1,19,33z />
<path fill=#f60 d=M5620,2527l-19,-20,18,-30,18,22z />
<path fill=#f40 d=M5622,2273l-19,42,17,-61,19,-8z />
<path fill=#f60 d=M5622,2545l-19,-22,17,0,19,25z />
<path fill=#f20 d=M5623,2316l-19,-27,17,-19,19,41z />
<path fill=#fd0 d=M5623,2611l-19,-26,18,-45,18,35z />
<path fill=#f40 d=M5625,2332l-19,17,17,-37,19,-10z />
<path fill=#fc0 d=M5625,2609l-19,-10,17,7,19,27z />
<path fill=#e00 d=M5626,2328l-19,16,18,-13,18,-13z />
<path fill=#df2 d=M5626,2677l-18,-29,17,-43,19,31z />
<path fill=#d00 d=M5628,2360l-19,-23,17,-11,19,43z />
<path fill=#df2 d=M5628,2696l-19,-47,17,24,19,21z />
<path fill=#f20 d=M5629,2403l-19,-22,18,-25,19,48z />
<path fill=#5fa d=M5630,2759l-19,-36,17,-33,19,41z />
<path fill=#f00 d=M5631,2395l-19,22,17,-16,19,-18z />
<path fill=#af5 d=M5631,2744l-19,-32,17,44,19,27z />
<path fill=#f20 d=M5632,2472l-18,-69,17,-12,19,69z />
<path fill=#f30 d=M5634,2470l-19,-10,17,7,19,3z />
<path fill=#f10 d=M5635,2258l-18,-32,17,-12,19,14z />
<path fill=#f30 d=M5636,2501l-19,-22,17,-11,19,31z />
<path fill=#e00 d=M5637,2248l-19,8,17,-1,19,0z />
<path fill=#f80 d=M5637,2549l-19,-24,17,-29,19,22z />
<path fill=#f10 d=M5638,2313l-18,-40,17,-28,19,33z />
<path fill=#f90 d=M5639,2577l-19,-35,17,2,19,36z />
<path fill=#f10 d=M5640,2304l-19,11,17,-5,19,-29z />
<path fill=#ef1 d=M5640,2634l-19,-26,17,-36,19,21z />
<path fill=#e00 d=M5642,2319l-19,14,17,-30,19,5z />
<path fill=#fd0 d=M5642,2637l-19,-31,17,24,19,34z />
<path fill=#f00 d=M5643,2369l-19,-43,17,-10,19,59z />
<path fill=#af5 d=M5643,2695l-19,-21,18,-41,18,36z />
<path fill=#f20 d=M5645,2405l-19,-49,17,9,19,29z />
<path fill=#8f7 d=M5645,2733l-19,-41,17,-2,19,36z />
<path fill=#f00 d=M5646,2384l-19,18,17,2,19,-32z />
<path fill=#1fe d=M5646,2782l-19,-27,18,-29,18,56z />
<path fill=#f20 d=M5648,2461l-19,-69,17,-12,19,68z />
<path fill=#f60 d=M5649,2470l-19,-2,18,-12,18,7z />
<path fill=#f40 d=M5651,2500l-19,-31,17,-1,19,17z />
<path fill=#f10 d=M5652,2256l-19,1,18,-31,18,-1z />
<path fill=#f50 d=M5652,2519l-18,-21,17,-2,19,19z />
<path fill=#e00 d=M5654,2279l-19,-33,17,7,19,33z />
<path fill=#fb0 d=M5654,2582l-19,-36,17,-31,19,32z />
<path fill=#f00 d=M5655,2283l-19,29,18,-35,18,-6z />
<path fill=#fc0 d=M5655,2595l-18,-21,17,3,19,22z />
<path fill=#d00 d=M5657,2309l-19,-5,17,-23,19,42z />
<path fill=#bf4 d=M5657,2665l-19,-34,17,-41,19,24z />
<path fill=#f10 d=M5658,2377l-18,-60,17,-12,19,34z />
<path fill=#df2 d=M5659,2670l-19,-36,17,27,19,35z />
<path fill=#f40 d=M5660,2394l-19,-28,17,6,19,7z />
<path fill=#7f8 d=M5660,2728l-19,-36,17,-26,19,26z />
<path fill=#f10 d=M5662,2373l-19,32,17,-12,19,-32z />
<path fill=#2fd d=M5662,2784l-19,-56,17,-6,19,20z />
<path fill=#f10 d=M5663,2449l-19,-67,17,-12,19,61z />
<path fill=#f60 d=M5665,2464l-19,-7,17,-13,19,5z />
<path fill=#f60 d=M5666,2485l-19,-17,17,-7,19,38z />
<path fill=#f70 d=M5668,2515l-19,-18,17,-15,19,34z />
<path fill=#f20 d=M5669,2287l-19,-33,17,-31,19,54z />
<path fill=#f80 d=M5669,2549l-19,-33,18,-4,18,36z />
<path fill=#e00 d=M5671,2272l-19,6,17,7,19,-25z />
<path fill=#fd0 d=M5671,2601l-19,-22,17,-35,19,9z />
<path fill=#e00 d=M5672,2325l-19,-43,17,-12,19,14z />
<path fill=#fd0 d=M5672,2616l-19,-24,18,4,18,25z />
<path fill=#e00 d=M5674,2340l-19,-34,17,15,19,19z />
<path fill=#8f7 d=M5674,2698l-19,-35,17,-52,19,13z />
<path fill=#f40 d=M5675,2381l-19,-7,18,-37,18,0z />
<path fill=#9f6 d=M5675,2693l-18,-26,17,26,19,14z />
<path fill=#f10 d=M5677,2362l-19,32,17,-15,19,-8z />
<path fill=#5fa d=M5677,2745l-19,-19,17,-36,19,6z />
<path fill=#f10 d=M5678,2432l-19,-61,18,-12,18,70z />
<path fill=#f60 d=M5680,2451l-19,-5,17,-19,19,6z />
<path fill=#f80 d=M5681,2500l-18,-37,17,-16,19,14z />
<path fill=#f80 d=M5683,2515l-19,-33,17,14,19,28z />
<path fill=#f90 d=M5685,2549l-19,-37,17,1,19,26z />
<path fill=#f00 d=M5686,2261l-19,25,17,-10,19,-27z />
<path fill=#f90 d=M5686,2554l-19,-8,17,-1,19,29z />
<path fill=#c00 d=M5687,2285l-18,-14,17,-12,19,55z />
<path fill=#ff0 d=M5688,2623l-19,-25,17,-48,19,33z />
<path fill=#f20 d=M5689,2342l-19,-20,17,-41,19,16z />
<path fill=#ff0 d=M5689,2627l-19,-13,17,5,19,22z />
<path fill=#f00 d=M5691,2339l-19,0,17,-1,19,3z />
<path fill=#6f9 d=M5691,2710l-19,-15,17,-74,19,35z />
<path fill=#f20 d=M5692,2373l-19,8,17,-44,19,9z />
<path fill=#9f6 d=M5692,2697l-19,-6,18,15,18,17z />
<path fill=#f20 d=M5694,2430l-19,-71,17,9,19,61z />
<path fill=#f50 d=M5695,2434l-19,-6,17,-3,19,10z />
<path fill=#f50 d=M5697,2463l-19,-14,17,-17,19,35z />
<path fill=#fb0 d=M5698,2525l-19,-28,18,-39,18,35z />
<path fill=#fb0 d=M5700,2538l-19,-26,17,9,19,33z />
<path fill=#fd0 d=M5701,2574l-18,-28,17,-10,19,19z />
<path fill=#f00 d=M5703,2314l-19,-54,17,-12,19,34z />
<path fill=#fb0 d=M5703,2584l-19,-33,17,20,19,44z />
<path fill=#d00 d=M5704,2298l-19,-16,18,29,18,0z />
<path fill=#df2 d=M5704,2642l-18,-21,17,-41,19,27z />
<path fill=#f10 d=M5706,2343l-19,-3,17,-44,19,11z />
<path fill=#df2 d=M5706,2659l-19,-35,17,14,19,25z />
<path fill=#e00 d=M5707,2347l-18,-9,17,2,19,20z />
<path fill=#5fa d=M5708,2724l-19,-17,17,-54,19,37z />
<path fill=#f40 d=M5709,2431l-19,-61,17,-27,19,43z />
<path fill=#f70 d=M5711,2434l-19,-9,17,0,19,18z />
<path fill=#f60 d=M5712,2467l-19,-35,17,0,19,33z />
<path fill=#f80 d=M5714,2495l-19,-35,17,3,19,33z />
<path fill=#fe0 d=M5715,2555l-19,-33,17,-32,19,15z />
<path fill=#fd0 d=M5717,2554l-19,-19,17,16,19,43z />
<path fill=#df2 d=M5718,2615l-19,-44,17,-19,19,28z />
<path fill=#f30 d=M5720,2311l-19,0,17,-32,19,15z />
<path fill=#fe0 d=M5720,2608l-19,-27,17,31,19,-8z />
<path fill=#c00 d=M5721,2309l-19,-11,17,13,19,-14z />
<path fill=#bf4 d=M5721,2664l-19,-24,18,-36,18,29z />
<path fill=#f10 d=M5723,2362l-19,-20,17,-37,19,14z />
<path fill=#9f6 d=M5723,2692l-19,-36,17,4,19,36z />
<path fill=#f10 d=M5724,2387l-19,-43,18,13,18,35z />
<path fill=#f90 d=M5726,2445l-19,-18,17,-45,19,29z />
<path fill=#f90 d=M5727,2465l-19,-33,18,9,18,14z />
<path fill=#fa0 d=M5729,2496l-19,-32,17,-2,19,21z />
<path fill=#fa0 d=M5730,2507l-18,-15,17,1,19,35z />
<path fill=#bf4 d=M5732,2596l-19,-44,17,-50,19,26z />
<path fill=#ff0 d=M5734,2580l-19,-29,17,41,19,10z />
<path fill=#cf3 d=M5735,2605l-19,8,17,-35,19,21z />
<path fill=#e00 d=M5736,2298l-18,14,17,-18,19,-8z />
<path fill=#ef1 d=M5737,2634l-19,-28,17,-4,19,48z />
<path fill=#c00 d=M5738,2322l-19,-14,17,-12,19,33z />
<path fill=#7f8 d=M5738,2698l-19,-37,17,-31,19,26z />
<path fill=#f40 d=M5740,2394l-19,-35,17,-42,19,39z />
<path fill=#f50 d=M5741,2413l-19,-29,17,5,19,21z />
<path fill=#fa0 d=M5743,2457l-19,-14,17,-34,19,10z />
<path fill=#fb0 d=M5744,2484l-19,-21,17,-10,19,9z />
<path fill=#fe0 d=M5746,2528l-19,-36,17,-13,19,43z />
<path fill=#fc0 d=M5747,2530l-19,-26,18,21,18,31z />
<path fill=#9f6 d=M5749,2603l-19,-10,17,-68,19,32z />
<path fill=#df2 d=M5750,2599l-18,-21,17,22,19,12z />
<path fill=#bf4 d=M5752,2650l-19,-48,17,-6,19,37z />
<path fill=#d00 d=M5753,2331l-19,-34,18,-12,18,13z />
<path fill=#bf4 d=M5753,2657l-18,-26,17,16,19,26z />
<path fill=#f00 d=M5755,2358l-19,-40,17,8,19,39z />
<path fill=#f60 d=M5756,2413l-18,-22,17,-38,19,5z />
<path fill=#f60 d=M5758,2420l-19,-9,17,-3,19,29z />
<path fill=#fa0 d=M5760,2465l-19,-9,17,-39,19,24z />
<path fill=#fe0 d=M5761,2524l-19,-43,17,-21,19,35z />
<path fill=#cf3 d=M5763,2556l-19,-32,17,-5,19,17z />
<path fill=#ff0 d=M5764,2558l-19,-31,17,26,19,25z />
<path fill=#8f7 d=M5766,2613l-19,-12,17,-47,19,46z />
<path fill=#af5 d=M5767,2634l-19,-38,17,14,19,25z />
<path fill=#7f8 d=M5769,2673l-19,-26,17,-17,19,4z />
<path fill=#f20 d=M5770,2366l-19,-39,17,-32,19,56z />
<path fill=#f10 d=M5772,2360l-19,-5,17,7,19,18z />
<path fill=#f80 d=M5773,2440l-19,-29,18,-55,18,23z />
<path fill=#f70 d=M5775,2441l-19,-23,17,16,19,35z />
<path fill=#fb0 d=M5776,2498l-19,-36,18,-24,18,26z />
<path fill=#df2 d=M5778,2538l-19,-17,17,-29,19,25z />
<path fill=#af5 d=M5779,2578l-18,-25,17,-20,19,38z />
<path fill=#bf4 d=M5781,2601l-19,-46,17,20,19,22z />
<path fill=#7f8 d=M5783,2635l-19,-25,17,-14,19,44z />
<path fill=#8f7 d=M5784,2634l-19,-3,17,1,19,50z />
<path fill=#f50 d=M5787,2380l-19,-18,17,-15,19,9z />
<path fill=#f20 d=M5789,2380l-19,-23,17,20,19,43z />
<path fill=#fb0 d=M5790,2471l-19,-34,17,-61,19,31z />
<path fill=#fa0 d=M5792,2464l-19,-26,17,28,19,21z />
<path fill=#ff0 d=M5793,2520l-19,-25,17,-34,19,31z />
<path fill=#af5 d=M5795,2573l-19,-38,17,-21,19,26z />
<path fill=#7f8 d=M5796,2596l-19,-22,18,-6,18,41z />
<path fill=#6f9 d=M5798,2641l-19,-43,17,-5,19,16z />
<path fill=#2fd d=M5799,2680l-18,-50,17,5,19,45z />
<path fill=#f80 d=M5804,2420l-19,-43,17,-24,19,26z />
<path fill=#f50 d=M5805,2408l-18,-31,17,40,19,27z />
<path fill=#fe0 d=M5807,2489l-19,-21,17,-65,19,34z />
<path fill=#fc0 d=M5808,2492l-18,-31,17,23,19,31z />
<path fill=#df2 d=M5810,2542l-19,-25,17,-28,19,33z />
<path fill=#5fa d=M5812,2611l-19,-42,17,-33,19,35z />
<path fill=#5fa d=M5813,2609l-19,-17,17,14,19,55z />
<path fill=#0ff d=M5815,2682l-19,-44,17,-32,19,19z />
<path fill=#fc0 d=M5821,2444l-19,-27,17,-41,19,26z />
<path fill=#f80 d=M5822,2438l-19,-33,18,36,18,10z />
<path fill=#df2 d=M5824,2516l-19,-30,17,-52,19,22z />
<path fill=#ef1 d=M5825,2523l-19,-34,18,22,18,24z />
<path fill=#af5 d=M5827,2573l-19,-34,17,-20,19,46z />
<path fill=#0ef d=M5828,2662l-18,-55,17,-41,19,25z />
<path fill=#3fc d=M5830,2623l-19,-18,17,52,19,55z />
<path fill=#fd0 d=M5838,2452l-19,-10,17,-42,19,2z />
<path fill=#fa0 d=M5839,2458l-19,-22,17,13,19,34z />
<path fill=#bf4 d=M5841,2538l-19,-24,17,-61,19,20z />
<path fill=#9f6 d=M5842,2565l-19,-46,17,12,19,48z />
<path fill=#6f9 d=M5844,2594l-19,-24,17,-8,19,30z />
<path fill=#07f d=M5845,2713l-19,-55,18,-71,18,23z />
<path fill=#fe0 d=M5854,2484l-18,-34,17,-50,19,38z />
<path fill=#fc0 d=M5856,2475l-19,-19,17,24,19,11z />
<path fill=#7f8 d=M5857,2583l-18,-49,17,-64,19,24z />
<path fill=#4fb d=M5859,2591l-19,-31,17,14,19,66z />
<path fill=#3fc d=M5861,2613l-19,-23,17,-2,19,67z />
<path fill=#ef1 d=M5871,2493l-19,-11,18,-46,18,-3z />
<path fill=#fe0 d=M5873,2496l-19,-24,17,16,19,55z />
<path fill=#0ef d=M5874,2644l-19,-66,18,-89,18,33z />
<path fill=#0cf d=M5876,2651l-19,-66,17,49,19,66z />
<path fill=#bf4 d=M5888,2545l-19,-55,17,-60,19,37z />
<path fill=#df2 d=M5890,2526l-19,-33,17,47,19,10z />
<path fill=#05f d=M5891,2705l-19,-66,17,-122,19,24z />
<path fill=#7f8 d=M5905,2552l-19,-10,17,-78,19,26z />
<path fill=#bf4 d=M5906,2547l-18,-23,17,24,19,22z />
<path fill=#6f9 d=M5922,2572l-19,-22,17,-62,19,26z />
</g>
<path d="M462.2 269.0L527.9 315.8L593.7 269.7M462.2 269.0L462.2 238.1" fill="none" stroke="#1a1a1a" stroke-width="1.1"/>
<text x="523.2" y="324.7" font-size="7" text-anchor="middle" class="s">0</text>
<text x="510.1" y="315.3" font-size="7" text-anchor="middle" class="s">1</text>
<text x="496.9" y="306.0" font-size="7" text-anchor="middle" class="s">2</text>
<text x="483.8" y="296.6" font-size="7" text-anchor="middle" class="s">3</text>
<text x="470.6" y="287.3" font-size="7" text-anchor="middle" class="s">4</text>
<text x="457.5" y="277.9" font-size="7" text-anchor="middle" class="s">5</text>
<text x="537.2" y="321.8" font-size="7" text-anchor="middle" class="s">10</text>
<text x="552.2" y="311.3" font-size="7" text-anchor="middle" class="s">20</text>
<text x="567.2" y="300.8" font-size="7" text-anchor="middle" class="s">30</text>
<text x="582.2" y="290.3" font-size="7" text-anchor="middle" class="s">40</text>
<text x="597.2" y="279.8" font-size="7" text-anchor="middle" class="s">50</text>
<text x="459.2" y="240.3" font-size="6.6" text-anchor="end" class="s">-40</text>
<text x="459.2" y="246.1" font-size="6.6" text-anchor="end" class="s">-60</text>
<text x="459.2" y="251.8" font-size="6.6" text-anchor="end" class="s">-80</text>
<text x="459.2" y="257.6" font-size="6.6" text-anchor="end" class="s">-100</text>
<text x="459.2" y="263.3" font-size="6.6" text-anchor="end" class="s">-120</text>
<text x="459.2" y="269.1" font-size="6.6" text-anchor="end" class="s">-140</text>
<path d="M527.9 315.8l-2 1.4M514.8 306.4l-2 1.4M501.6 297.1l-2 1.4M488.5 287.7l-2 1.4M475.3 278.4l-2 1.4M462.2 269.0l-2 1.4M532.7 312.4l2 1.4M547.7 301.9l2 1.4M562.7 291.4l2 1.4M577.7 280.9l2 1.4M592.7 270.4l2 1.4M462.2 238.1l1.8 1.3M462.2 243.9l1.8 1.3M462.2 249.6l1.8 1.3M462.2 255.4l1.8 1.3M462.2 261.1l1.8 1.3M462.2 266.9l1.8 1.3" stroke="#1a1a1a" stroke-width="0.9"/>
<text x="479.1" y="320.0" font-size="6.65" text-anchor="middle">Frequency (Hz)</text>
<text x="574.8" y="320.0" font-size="6.65" text-anchor="middle">Time (secs)</text>
<defs><linearGradient id="jetf" x1="0" y1="0" x2="0" y2="1"><stop offset="0.000" stop-color="#800000"/><stop offset="0.062" stop-color="#bf0000"/><stop offset="0.125" stop-color="#ff0000"/><stop offset="0.188" stop-color="#ff4000"/><stop offset="0.250" stop-color="#ff8000"/><stop offset="0.312" stop-color="#ffbf00"/><stop offset="0.375" stop-color="#ffff00"/><stop offset="0.438" stop-color="#bfff40"/><stop offset="0.500" stop-color="#80ff80"/><stop offset="0.562" stop-color="#40ffbf"/><stop offset="0.625" stop-color="#00ffff"/><stop offset="0.688" stop-color="#00bfff"/><stop offset="0.750" stop-color="#0080ff"/><stop offset="0.812" stop-color="#0040ff"/><stop offset="0.875" stop-color="#0000ff"/><stop offset="0.938" stop-color="#0000bf"/><stop offset="1.000" stop-color="#000080"/></linearGradient></defs>
<rect x="608" y="192.3" width="10.3" height="124.0" fill="url(#jetf)" stroke="#333" stroke-width="0.8"/>
<text x="620.1" y="202.9" font-size="6.6" class="s">-40</text>
<text x="620.1" y="214.4" font-size="6.6" class="s">-50</text>
<text x="620.1" y="225.9" font-size="6.6" class="s">-60</text>
<text x="620.1" y="237.4" font-size="6.6" class="s">-70</text>
<text x="620.1" y="248.9" font-size="6.6" class="s">-80</text>
<text x="620.1" y="260.3" font-size="6.6" class="s">-90</text>
<text x="620.1" y="271.8" font-size="6.6" class="s">-100</text>
<text x="620.1" y="283.3" font-size="6.6" class="s">-110</text>
<text x="620.1" y="294.8" font-size="6.6" class="s">-120</text>
<text x="620.1" y="306.3" font-size="6.6" class="s">-130</text>
<text x="620.1" y="317.8" font-size="6.6" class="s">-140</text>
<path d="M618.3 200.5h-1.8M608 200.5h1.8M618.3 212.0h-1.8M608 212.0h1.8M618.3 223.5h-1.8M608 223.5h1.8M618.3 235.0h-1.8M608 235.0h1.8M618.3 246.5h-1.8M608 246.5h1.8M618.3 257.9h-1.8M608 257.9h1.8M618.3 269.4h-1.8M608 269.4h1.8M618.3 280.9h-1.8M608 280.9h1.8M618.3 292.4h-1.8M608 292.4h1.8M618.3 303.9h-1.8M608 303.9h1.8M618.3 315.4h-1.8M608 315.4h1.8" stroke="#333" stroke-width="0.8"/>
<text transform="translate(639.4,254) rotate(-90)" style="font-family:"Liberation Sans", sans-serif" font-size="6.1" text-anchor="middle" class="s">Power/frequency (dB/Hz)</text>
<text x="541.2" y="348.3" font-size="12.5" text-anchor="middle">(f)</text>
</svg></body></html>
